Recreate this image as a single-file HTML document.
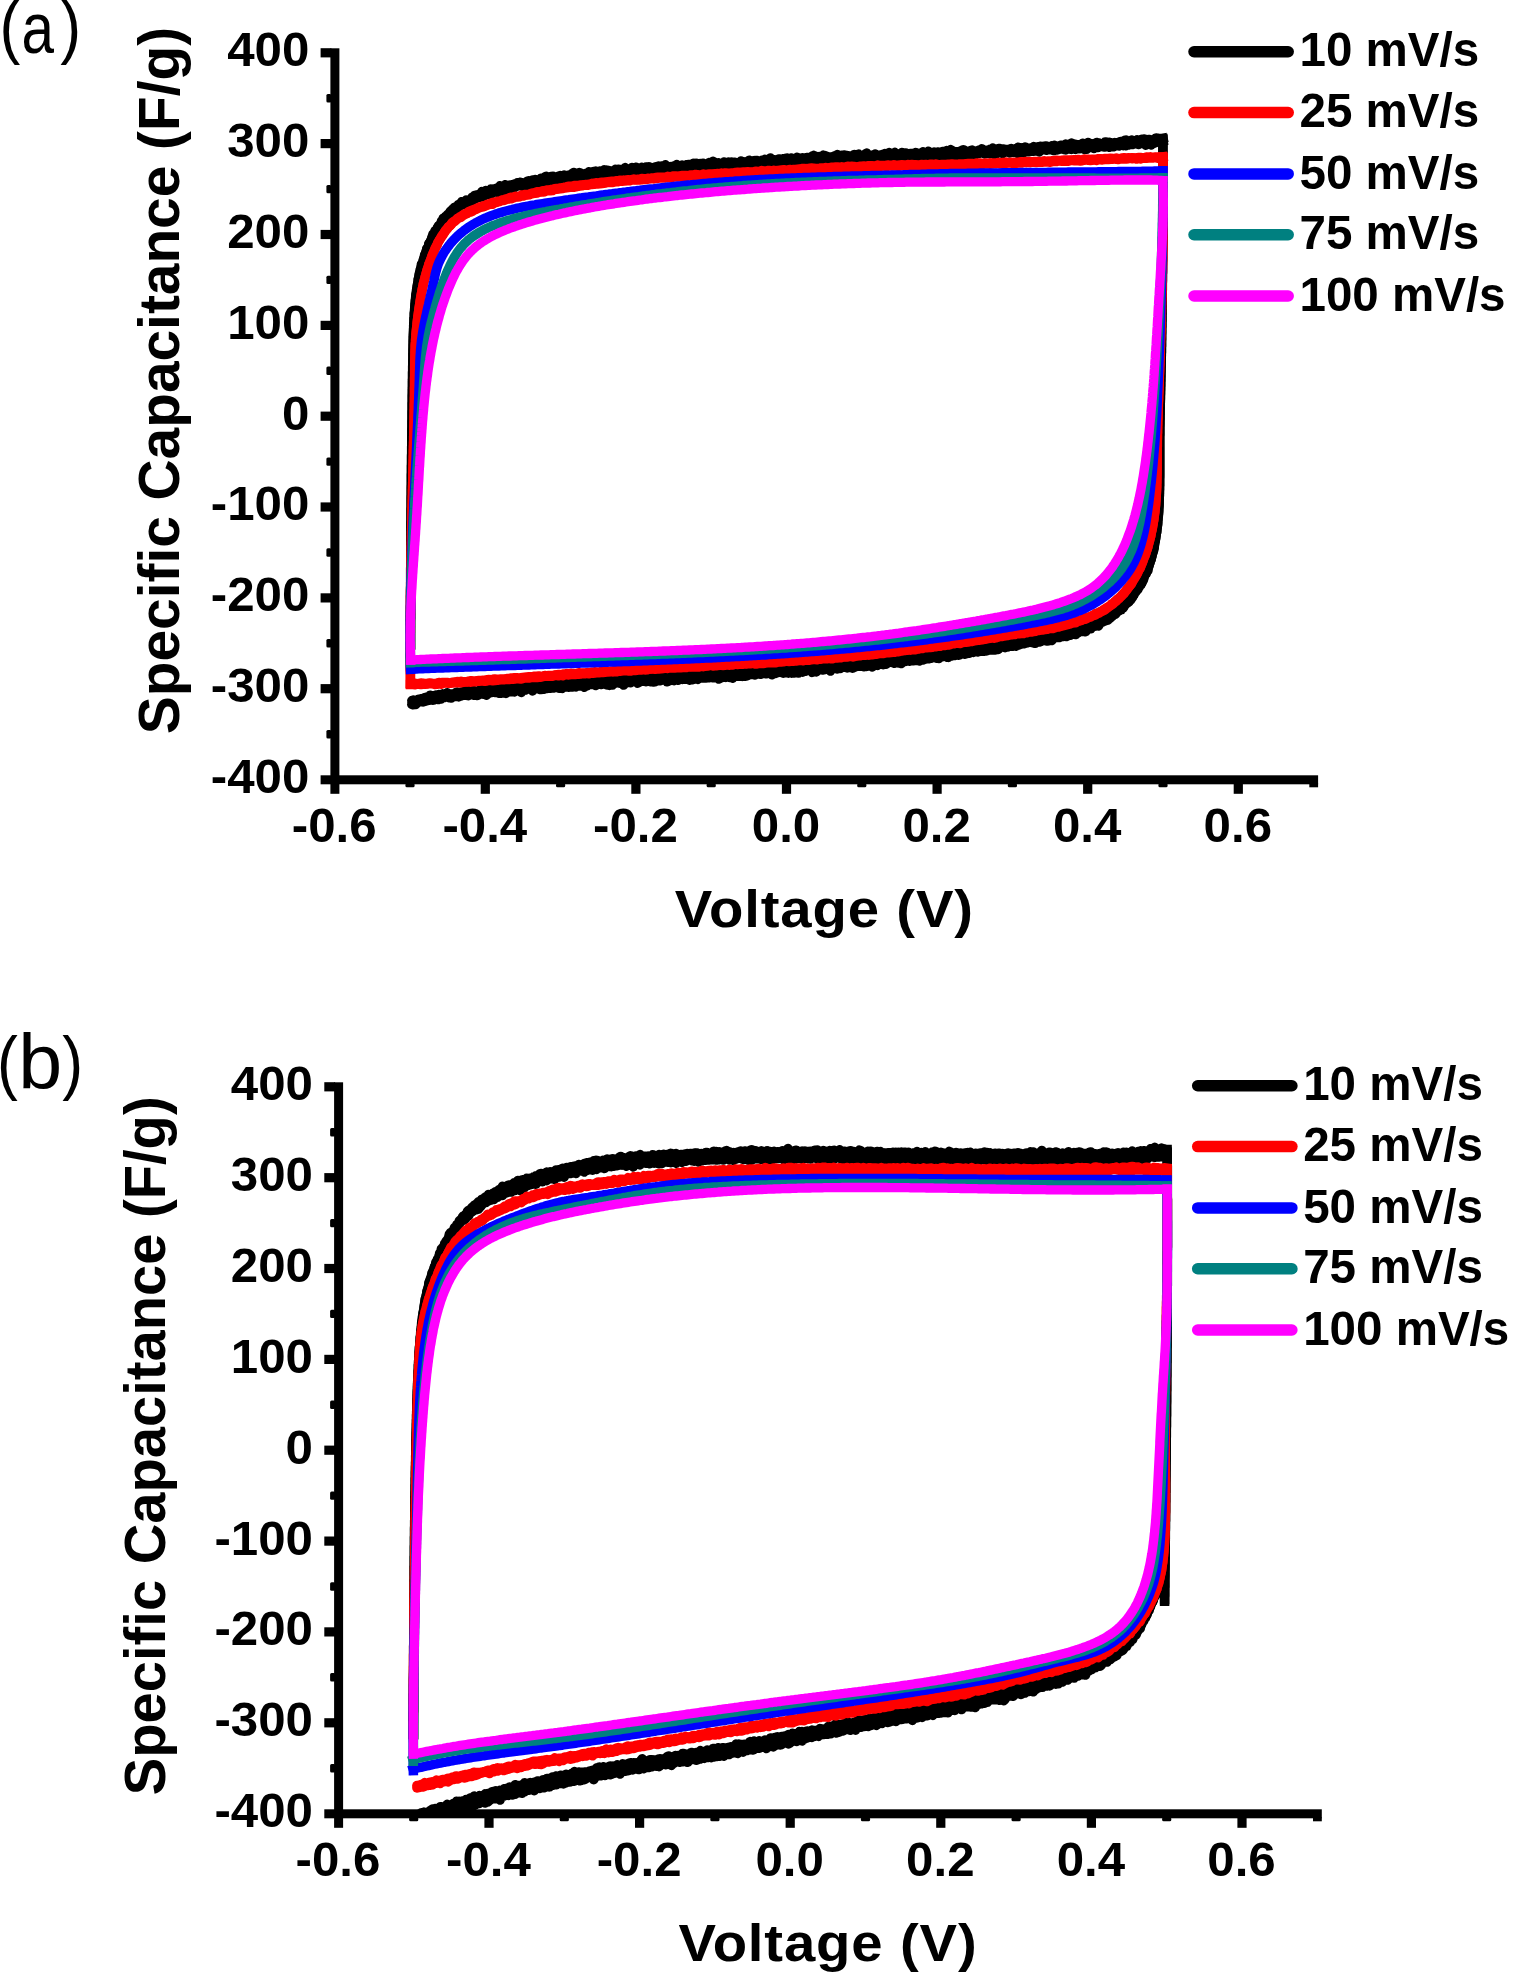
<!DOCTYPE html>
<html lang="en">
<head>
<meta charset="utf-8">
<title>Cyclic voltammetry: specific capacitance vs voltage</title>
<style>
html,body{margin:0;padding:0;background:#ffffff;}
body{width:1516px;height:1975px;overflow:hidden;}
svg{display:block;}
text{font-family:"Liberation Sans", Arial, Helvetica, sans-serif;fill:#000;}
.tk{font-size:48.5px;font-weight:700;}
.xl{font-size:52.6px;font-weight:700;letter-spacing:0.8px;}
.yl{font-size:57px;font-weight:700;}
.pl{font-size:76.5px;font-weight:400;}
</style>
</head>
<body>
<svg width="1516" height="1975" viewBox="0 0 1516 1975">
<defs>
<clipPath id="clipA"><rect x="339.4" y="40" width="990" height="735.3"/></clipPath>
<clipPath id="clipB"><rect x="343.1" y="1074" width="990" height="744"/></clipPath>
</defs>
<rect width="1516" height="1975" fill="#ffffff"/>
<text class="pl"><tspan x="-0.5" y="50.0" font-size="69.6" textLength="20.86" lengthAdjust="spacingAndGlyphs">(</tspan><tspan x="21.4" y="53.1" font-size="73.0" textLength="32.50" lengthAdjust="spacingAndGlyphs">a</tspan><tspan x="60.3" y="50.0" font-size="69.6" textLength="20.86" lengthAdjust="spacingAndGlyphs">)</tspan></text>
<text class="pl"><tspan x="-3.0" y="1085.8" font-size="69.6" textLength="20.86" lengthAdjust="spacingAndGlyphs">(</tspan><tspan x="18.3" y="1088.9" font-size="77.5" textLength="43.95" lengthAdjust="spacingAndGlyphs">b</tspan><tspan x="62.3" y="1085.8" font-size="69.6" textLength="20.86" lengthAdjust="spacingAndGlyphs">)</tspan></text>
<g id="panelA">
<g clip-path="url(#clipA)">
<path d="M410.5 649.7L410.5 646.3L410.5 646.5L410.5 643.5L410.5 644.0L410.5 640.4L410.5 639.7L410.5 638.4L410.5 635.7L410.5 636.9L410.5 633.4L410.5 632.2L410.5 631.4L410.5 632.7L410.5 628.4L410.5 629.4L410.5 626.3L410.5 624.7L410.5 623.9L410.5 622.0L410.5 619.8L410.6 618.8L410.6 618.1L410.6 617.9L410.6 615.3L410.6 614.1L410.6 610.4L410.6 610.7L410.6 609.5L410.6 609.6L410.6 608.1L410.6 605.4L410.6 604.4L410.6 602.4L410.6 600.5L410.6 599.7L410.6 598.0L410.6 597.2L410.6 596.1L410.6 593.9L410.6 593.6L410.6 590.3L410.6 589.9L410.6 588.7L410.7 585.5L410.7 586.2L410.7 584.9L410.7 584.3L410.7 581.4L410.7 580.6L410.7 579.2L410.7 575.9L410.7 576.1L410.7 573.2L410.7 573.3L410.7 572.3L410.7 570.5L410.7 567.1L410.7 568.7L410.8 566.3L410.8 565.5L410.8 562.7L410.8 561.5L410.8 562.2L410.8 558.9L410.8 557.3L410.8 554.1L410.8 555.7L410.8 552.1L410.8 551.8L410.8 549.9L410.8 551.1L410.9 548.8L410.9 546.5L410.9 545.3L410.9 543.5L410.9 541.9L410.9 540.7L410.9 541.0L410.9 537.8L410.9 536.4L410.9 535.5L411.0 535.1L411.0 532.9L411.0 530.1L411.0 529.7L411.0 528.3L411.0 525.7L411.0 524.8L411.0 524.3L411.0 522.3L411.0 522.7L411.1 520.1L411.1 518.0L411.1 517.0L411.1 514.9L411.1 513.7L411.1 513.5L411.1 511.4L411.1 508.4L411.1 507.5L411.2 507.7L411.2 504.9L411.2 504.2L411.2 504.0L411.2 501.4L411.2 500.0L411.2 498.5L411.2 498.3L411.3 495.4L411.3 493.6L411.3 493.3L411.3 493.2L411.3 490.7L411.3 490.3L411.3 488.7L411.3 485.3L411.4 484.9L411.4 483.3L411.4 482.0L411.4 481.7L411.4 480.4L411.4 478.5L411.4 477.5L411.4 474.5L411.5 474.3L411.5 471.3L411.5 470.5L411.5 468.4L411.5 469.1L411.5 466.3L411.5 465.9L411.6 462.7L411.6 462.6L411.6 461.7L411.6 459.7L411.6 458.4L411.6 457.0L411.6 455.4L411.7 453.7L411.7 451.9L411.7 452.1L411.7 449.9L411.7 448.5L411.7 447.3L411.8 444.6L411.8 443.1L411.8 441.7L411.8 443.0L411.8 439.8L411.8 439.2L411.8 435.7L411.9 435.5L411.9 434.5L411.9 432.5L411.9 432.6L411.9 429.9L411.9 428.8L412.0 428.4L412.0 427.4L412.0 424.9L412.0 422.8L412.0 421.6L412.0 421.5L412.1 418.1L412.1 416.8L412.1 415.4L412.1 415.7L412.1 413.8L412.1 411.2L412.2 409.9L412.2 409.2L412.2 407.3L412.2 405.5L412.2 404.2L412.2 403.4L412.3 401.6L412.3 400.7L412.3 399.0L412.3 397.3L412.3 396.9L412.3 395.5L412.4 392.0L412.4 392.6L412.4 390.5L412.4 388.7L412.4 388.8L412.5 386.9L412.5 385.8L412.5 383.4L412.5 384.0L412.5 381.5L412.5 379.2L412.6 379.9L412.6 376.2L412.6 376.8L412.6 373.8L412.6 372.2L412.7 370.7L412.7 369.0L412.7 367.7L412.7 367.4L412.7 365.6L412.8 362.9L412.8 363.1L412.8 360.2L412.8 360.5L412.9 358.3L412.9 357.1L412.9 356.9L412.9 352.7L413.0 355.0L413.0 353.6L413.0 351.2L413.0 349.4L413.1 346.9L413.1 347.0L413.1 344.5L413.2 343.1L413.2 341.2L413.2 341.7L413.3 339.9L413.3 336.5L413.4 336.2L413.4 333.8L413.5 334.3L413.5 331.4L413.6 330.7L413.6 329.8L413.7 327.8L413.7 325.5L413.8 324.8L413.8 322.6L413.9 323.6L414.0 321.8L414.0 318.1L414.1 317.2L414.2 318.7L414.3 316.0L414.3 313.8L414.4 313.5L414.5 311.6L414.6 310.6L414.7 308.2L414.8 308.6L414.9 306.0L415.1 303.4L415.2 303.0L415.3 301.4L415.4 300.6L415.6 299.1L415.7 297.6L415.9 295.4L416.1 295.0L416.2 292.9L416.4 293.4L416.6 289.7L416.8 289.1L417.0 287.5L417.2 285.7L417.4 285.6L417.6 284.1L417.9 282.7L418.1 282.5L418.3 279.3L418.6 278.9L418.9 277.2L419.2 276.0L419.4 273.3L419.7 272.1L420.1 272.5L420.4 269.4L420.7 270.1L421.0 269.1L421.4 264.2L421.8 265.4L422.1 264.0L422.5 263.8L422.9 263.0L423.3 260.6L423.7 259.3L424.1 258.3L424.6 255.1L425.0 254.6L425.5 254.1L425.9 251.7L426.4 252.2L426.9 248.7L427.4 248.1L427.9 247.1L428.4 246.3L428.9 243.7L429.5 242.9L430.0 242.3L430.6 240.8L431.2 240.0L431.8 237.5L432.4 236.1L433.0 234.0L433.7 233.4L434.3 232.9L435.0 230.9L435.7 230.6L436.3 230.5L437.1 228.2L437.8 228.3L438.5 227.0L439.3 225.3L440.0 224.8L440.8 223.8L441.6 220.8L442.4 222.3L443.2 218.3L444.1 219.0L444.9 217.3L445.8 216.3L446.7 216.0L447.6 214.5L448.5 213.7L449.4 212.9L450.4 211.2L451.3 211.3L452.3 209.3L453.3 209.8L454.3 207.5L455.3 207.9L456.3 206.4L457.4 207.3L458.4 204.5L459.5 205.5L460.6 203.5L461.7 201.7L462.8 203.6L463.9 202.5L465.0 202.5L466.2 200.0L467.3 200.5L468.5 200.4L469.7 200.6L470.8 199.7L472.0 197.2L473.2 197.8L474.5 195.6L475.7 195.2L476.9 195.0L478.1 194.8L479.4 194.6L480.6 194.3L481.9 191.6L483.2 193.1L484.4 192.0L485.7 190.5L487.0 191.0L488.3 191.8L489.6 191.2L490.9 189.1L492.2 189.4L493.5 189.1L494.8 190.3L496.1 188.5L497.4 187.7L498.7 188.0L500.1 185.7L501.4 187.4L502.7 189.1L504.0 187.0L505.4 184.7L506.7 187.8L508.1 186.2L509.4 185.2L510.8 185.0L512.1 185.5L513.4 184.3L514.8 184.0L516.2 184.4L517.5 182.7L518.9 184.0L520.2 182.2L521.6 183.2L522.9 183.4L524.3 182.7L525.7 182.7L527.0 181.4L528.4 180.8L529.8 182.1L531.1 180.9L532.5 180.0L533.9 180.0L535.2 179.6L536.6 180.6L538.0 180.3L539.3 180.8L540.7 178.4L542.1 179.1L543.4 178.8L544.8 176.9L546.2 176.2L547.6 178.7L548.9 177.3L550.3 176.7L551.7 179.5L553.0 176.2L554.4 178.5L555.8 177.3L557.2 177.1L558.5 176.1L559.9 175.6L561.3 177.4L562.7 177.6L564.1 175.1L565.4 176.7L566.8 175.5L568.2 176.0L569.6 174.9L571.0 174.4L572.3 173.5L573.7 172.4L575.1 174.3L576.5 174.1L577.9 173.1L579.3 172.5L580.6 173.1L582.0 173.9L583.4 174.2L584.8 174.1L586.2 173.2L587.6 173.6L588.9 171.8L590.3 174.0L591.7 172.6L593.1 171.7L594.5 171.4L595.9 171.1L597.3 171.6L598.7 172.5L600.0 171.0L601.4 172.3L602.8 171.5L604.2 169.8L605.6 170.1L607.0 170.2L608.4 170.4L609.8 172.2L611.2 172.5L612.5 170.7L613.9 170.6L615.3 169.5L616.7 171.0L618.1 169.2L619.5 169.4L620.9 169.8L622.3 170.3L623.7 169.7L625.1 167.6L626.5 169.6L627.9 168.8L629.2 169.3L630.6 170.1L632.0 167.5L633.4 168.9L634.8 169.4L636.2 167.2L637.6 169.5L639.0 168.8L640.4 168.4L641.8 167.4L643.2 168.3L644.6 168.5L646.0 167.1L647.4 167.1L648.8 166.8L650.1 167.7L651.5 167.6L652.9 168.0L654.3 167.4L655.7 166.7L657.1 167.0L658.5 166.1L659.9 167.6L661.3 165.9L662.7 165.9L664.1 166.5L665.5 164.8L666.9 166.7L668.3 167.3L669.7 166.7L671.1 166.6L672.5 166.4L673.9 165.9L675.3 165.7L676.7 164.7L678.1 165.9L679.5 166.2L680.9 167.0L682.3 165.0L683.7 165.6L685.0 165.6L686.4 164.8L687.8 164.6L689.2 164.6L690.6 164.6L692.0 166.1L693.4 163.2L694.8 163.6L696.2 163.3L697.6 164.7L699.0 164.8L700.4 163.4L701.8 164.9L703.2 163.2L704.6 165.2L706.0 164.0L707.4 164.6L708.8 162.6L710.2 164.4L711.6 163.7L713.0 161.3L714.4 162.1L715.8 164.0L717.2 163.8L718.6 162.9L720.0 163.9L721.4 163.8L722.8 163.9L724.2 162.0L725.6 163.3L727.0 162.8L728.4 162.0L729.8 162.7L731.2 162.0L732.6 163.3L734.0 162.2L735.4 162.5L736.8 162.9L738.2 163.6L739.6 162.6L741.0 160.9L742.4 163.1L743.8 161.9L745.2 162.6L746.6 161.7L748.0 161.2L749.4 160.2L750.8 163.4L752.2 161.9L753.6 160.7L755.0 160.6L756.4 160.4L757.8 160.7L759.2 160.9L760.6 161.4L762.0 160.3L763.4 160.7L764.8 159.6L766.2 161.2L767.6 160.3L769.0 159.0L770.4 157.9L771.8 159.9L773.2 160.9L774.6 159.9L776.0 161.2L777.4 160.1L778.8 158.9L780.2 158.9L781.6 160.9L783.0 158.8L784.4 158.6L785.8 158.5L787.2 158.0L788.6 159.7L790.0 159.8L791.4 158.0L792.8 160.3L794.2 159.6L795.6 158.4L797.0 157.4L798.3 158.2L799.7 158.1L801.1 158.9L802.5 157.9L803.9 159.0L805.3 159.9L806.7 157.4L808.1 157.4L809.5 158.9L810.9 159.3L812.3 156.1L813.7 155.4L815.1 156.1L816.5 157.8L817.9 157.5L819.3 156.6L820.7 157.5L822.1 158.2L823.5 155.2L824.9 155.6L826.3 156.2L827.7 156.8L829.1 157.1L830.5 156.9L831.9 158.2L833.3 156.6L834.7 155.8L836.1 155.7L837.5 154.6L838.9 156.1L840.3 156.7L841.7 155.2L843.1 156.8L844.5 154.9L845.9 156.5L847.3 155.7L848.7 157.3L850.1 156.0L851.5 155.9L852.9 155.3L854.3 154.6L855.7 155.0L857.1 154.6L858.5 154.1L859.9 156.4L861.3 156.1L862.7 155.6L864.0 155.6L865.4 153.9L866.8 153.1L868.2 155.4L869.6 155.3L871.0 155.3L872.4 155.5L873.8 155.3L875.2 154.1L876.6 155.2L878.0 155.1L879.4 155.9L880.8 155.0L882.2 154.6L883.6 154.5L885.0 153.6L886.4 153.9L887.8 154.9L889.2 152.5L890.6 153.3L892.0 154.7L893.4 153.4L894.8 152.5L896.2 154.2L897.6 154.3L899.0 154.1L900.4 153.9L901.8 152.4L903.2 155.4L904.6 152.9L906.0 152.9L907.4 154.0L908.8 153.9L910.2 153.4L911.6 153.5L913.0 153.8L914.4 153.6L915.8 152.5L917.2 153.2L918.6 153.4L920.0 153.3L921.4 152.9L922.8 152.0L924.2 153.3L925.6 153.4L927.0 153.1L928.4 151.3L929.8 152.9L931.3 153.9L932.7 152.9L934.1 152.1L935.5 154.5L936.9 152.3L938.3 152.0L939.7 152.7L941.1 152.4L942.5 151.5L943.9 153.6L945.3 152.9L946.7 150.5L948.1 151.8L949.5 151.8L950.9 149.8L952.3 150.6L953.7 152.5L955.1 151.5L956.5 151.9L957.9 151.6L959.3 151.4L960.7 150.9L962.1 150.2L963.5 149.7L964.9 150.4L966.3 151.8L967.7 151.8L969.1 152.1L970.5 150.7L971.9 150.1L973.3 152.0L974.7 151.6L976.1 151.0L977.5 150.9L978.9 150.1L980.3 151.5L981.7 148.8L983.1 149.9L984.5 150.7L985.9 150.2L987.3 151.4L988.7 150.4L990.1 149.3L991.5 149.2L992.9 147.9L994.3 150.8L995.7 149.8L997.1 150.2L998.5 148.5L999.9 148.6L1001.3 149.9L1002.7 148.9L1004.1 149.2L1005.5 150.5L1006.9 149.5L1008.3 149.4L1009.7 149.2L1011.1 148.5L1012.5 149.5L1013.9 149.0L1015.3 150.4L1016.7 149.2L1018.1 147.2L1019.5 148.2L1021.0 147.7L1022.4 149.6L1023.8 148.2L1025.2 147.1L1026.6 147.8L1028.0 148.9L1029.4 148.7L1030.8 148.0L1032.2 149.8L1033.6 146.6L1035.0 147.3L1036.4 147.4L1037.8 146.7L1039.2 147.5L1040.6 146.3L1042.0 148.0L1043.4 146.5L1044.8 146.2L1046.2 145.9L1047.6 146.5L1049.0 147.0L1050.4 146.9L1051.8 145.9L1053.2 146.6L1054.6 145.4L1056.0 146.2L1057.4 146.6L1058.8 146.2L1060.2 145.5L1061.6 145.2L1063.0 146.0L1064.4 145.6L1065.8 144.0L1067.2 144.7L1068.6 145.2L1070.0 145.4L1071.4 143.1L1072.8 146.3L1074.2 144.1L1075.6 146.2L1077.0 144.6L1078.4 145.1L1079.8 144.4L1081.2 144.8L1082.6 143.3L1084.0 145.7L1085.4 144.0L1086.8 144.2L1088.2 142.4L1089.6 144.1L1091.0 143.5L1092.4 144.6L1093.8 144.2L1095.2 143.4L1096.6 142.5L1098.0 144.8L1099.4 143.3L1100.8 144.3L1102.2 144.2L1103.6 144.5L1105.0 142.1L1106.4 142.1L1107.8 142.6L1109.2 142.3L1110.6 143.4L1112.0 142.9L1113.4 143.1L1114.8 142.6L1116.2 142.8L1117.6 142.7L1119.0 142.3L1120.4 141.6L1121.8 143.0L1123.2 141.6L1124.6 140.4L1126.0 140.0L1127.4 142.0L1128.8 141.1L1130.2 140.9L1131.6 140.1L1133.0 141.3L1134.4 143.0L1135.9 141.1L1137.3 139.8L1138.7 140.5L1140.1 140.6L1141.5 139.5L1142.9 139.2L1144.3 139.1L1145.7 141.5L1147.1 141.0L1148.5 139.6L1149.9 139.6L1151.3 140.3L1152.7 140.1L1154.1 139.7L1155.5 138.2L1156.9 138.0L1158.3 138.6L1159.7 139.1L1161.2 138.8L1167.6 137.3" fill="none" stroke="#000000" stroke-width="9.5" stroke-linejoin="round" stroke-linecap="butt"/>
<path d="M410.5 649.5L410.5 647.5L410.5 647.8L410.5 645.5L410.5 643.2L410.5 641.0L410.5 639.6L410.5 639.2L410.5 635.9L410.5 636.2L410.5 633.6L410.5 632.6L410.5 631.6L410.5 631.5L410.5 629.5L410.5 629.2L410.5 627.1L410.5 624.3L410.5 623.8L410.5 621.5L410.5 622.6L410.6 618.5L410.6 618.3L410.6 615.6L410.6 615.4L410.6 614.8L410.6 613.0L410.6 611.7L410.6 610.5L410.6 607.5L410.6 606.0L410.6 604.7L410.6 603.8L410.6 601.8L410.6 599.4L410.6 599.8L410.6 597.5L410.6 597.4L410.6 595.1L410.6 592.9L410.6 593.4L410.6 592.3L410.6 590.0L410.6 588.1L410.7 585.9L410.7 587.1L410.7 583.3L410.7 583.5L410.7 583.2L410.7 580.1L410.7 577.1L410.7 578.0L410.7 576.5L410.7 576.1L410.7 572.3L410.7 572.5L410.7 568.9L410.7 569.2L410.7 569.0L410.8 567.3L410.8 564.8L410.8 563.1L410.8 562.2L410.8 560.3L410.8 559.2L410.8 558.0L410.8 555.4L410.8 554.7L410.8 554.1L410.8 551.2L410.8 551.6L410.8 550.5L410.9 547.6L410.9 547.0L410.9 545.3L410.9 542.3L410.9 543.3L410.9 541.7L410.9 538.8L410.9 538.1L410.9 536.2L410.9 536.4L411.0 533.7L411.0 533.4L411.0 531.5L411.0 528.2L411.0 529.1L411.0 526.6L411.0 526.1L411.0 525.7L411.0 523.2L411.0 521.1L411.1 520.0L411.1 518.1L411.1 518.0L411.1 516.9L411.1 512.4L411.1 512.3L411.1 511.1L411.1 511.1L411.1 508.7L411.2 508.5L411.2 507.1L411.2 503.6L411.2 500.8L411.2 501.8L411.2 499.3L411.2 498.3L411.2 495.2L411.3 496.3L411.3 494.2L411.3 494.0L411.3 492.7L411.3 491.0L411.3 489.7L411.3 487.5L411.3 487.9L411.4 485.8L411.4 483.6L411.4 481.5L411.4 480.6L411.4 478.7L411.4 479.0L411.4 476.4L411.4 473.8L411.5 472.8L411.5 470.9L411.5 470.5L411.5 469.9L411.5 468.5L411.5 466.7L411.5 465.6L411.6 465.2L411.6 463.1L411.6 461.1L411.6 458.1L411.6 457.8L411.6 456.8L411.6 456.9L411.7 453.2L411.7 452.6L411.7 450.1L411.7 448.2L411.7 448.9L411.7 445.7L411.8 445.6L411.8 443.3L411.8 440.9L411.8 441.5L411.8 439.0L411.8 436.7L411.8 437.8L411.9 437.6L411.9 433.7L411.9 432.7L411.9 431.3L411.9 429.2L411.9 429.1L412.0 426.0L412.0 425.5L412.0 426.4L412.0 424.1L412.0 422.3L412.0 421.3L412.1 419.3L412.1 417.3L412.1 416.2L412.1 413.8L412.1 411.7L412.1 412.2L412.2 409.8L412.2 409.5L412.2 408.7L412.2 406.5L412.2 405.2L412.2 402.9L412.3 401.6L412.3 400.5L412.3 398.9L412.3 398.3L412.3 395.8L412.3 396.2L412.4 393.5L412.4 392.7L412.4 391.6L412.4 389.4L412.4 388.7L412.5 386.1L412.5 386.3L412.5 385.1L412.5 383.2L412.5 380.9L412.5 381.0L412.6 377.5L412.6 377.1L412.6 375.8L412.6 375.2L412.6 372.1L412.7 371.1L412.7 369.5L412.7 367.1L412.7 365.9L412.7 366.4L412.8 364.6L412.8 362.7L412.8 362.1L412.8 360.3L412.9 358.0L412.9 356.4L412.9 356.3L412.9 353.2L413.0 353.5L413.0 352.0L413.0 351.9L413.0 350.5L413.1 347.3L413.1 346.2L413.1 346.3L413.2 343.5L413.2 340.5L413.2 339.4L413.3 339.1L413.3 336.7L413.4 335.5L413.4 334.7L413.5 333.0L413.5 332.5L413.6 331.9L413.6 328.9L413.7 328.0L413.7 324.4L413.8 325.4L413.8 322.4L413.9 322.6L414.0 321.9L414.0 319.5L414.1 317.8L414.2 316.9L414.3 315.4L414.3 313.0L414.4 312.6L414.5 313.1L414.6 310.9L414.7 309.1L414.8 307.0L414.9 306.3L415.1 303.4L415.2 304.8L415.3 302.8L415.4 300.1L415.6 299.3L415.7 296.8L415.9 295.1L416.1 294.4L416.2 294.0L416.4 292.4L416.6 290.8L416.8 288.8L417.0 288.8L417.2 288.5L417.4 285.2L417.6 284.0L417.9 282.4L418.1 281.3L418.3 278.6L418.6 279.3L418.9 276.4L419.2 274.7L419.4 274.8L419.7 274.4L420.1 272.1L420.4 269.0L420.7 269.7L421.0 268.9L421.4 266.2L421.8 266.4L422.1 264.3L422.5 263.7L422.9 262.6L423.3 259.9L423.7 258.8L424.1 257.9L424.6 256.8L425.0 254.3L425.5 253.4L425.9 253.1L426.4 252.2L426.9 248.4L427.4 248.8L427.9 248.7L428.4 248.0L428.9 244.1L429.5 243.0L430.0 242.2L430.6 241.6L431.2 240.3L431.8 238.8L432.4 237.3L433.0 236.1L433.7 235.2L434.3 234.8L435.0 234.7L435.7 232.5L436.3 231.1L437.1 229.2L437.8 228.7L438.5 225.7L439.3 226.7L440.0 226.0L440.8 224.0L441.6 223.1L442.4 222.4L443.2 221.3L444.1 220.5L444.9 220.0L445.8 218.7L446.7 217.5L447.6 216.7L448.5 214.8L449.4 214.4L450.4 214.5L451.3 213.5L452.3 211.7L453.3 211.7L454.3 208.8L455.3 209.8L456.3 208.4L457.4 207.7L458.4 207.6L459.5 207.1L460.6 204.6L461.7 204.3L462.8 203.9L463.9 204.5L465.0 204.2L466.2 203.7L467.3 202.0L468.5 202.2L469.7 201.7L470.8 199.9L472.0 199.4L473.2 200.5L474.5 198.7L475.7 199.0L476.9 197.3L478.1 197.3L479.4 196.6L480.6 197.1L481.9 196.2L483.2 197.1L484.4 195.5L485.7 195.1L487.0 193.5L488.3 194.6L489.6 193.6L490.9 194.4L492.2 193.0L493.5 191.6L494.8 192.0L496.1 190.1L497.4 192.5L498.7 191.4L500.1 191.8L501.4 190.0L502.7 191.8L504.0 191.9L505.4 190.7L506.7 187.5L508.1 189.7L509.4 189.1L510.8 188.5L512.1 187.4L513.4 188.0L514.8 187.5L516.2 185.5L517.5 186.0L518.9 185.7L520.2 185.4L521.6 186.0L522.9 186.6L524.3 186.0L525.7 186.2L527.0 185.2L528.4 183.1L529.8 185.4L531.1 184.9L532.5 185.2L533.9 182.8L535.2 183.2L536.6 185.7L538.0 183.4L539.3 183.0L540.7 182.6L542.1 181.4L543.4 182.0L544.8 183.0L546.2 183.0L547.6 181.9L548.9 181.2L550.3 181.3L551.7 180.8L553.0 181.7L554.4 181.3L555.8 180.9L557.2 179.7L558.5 179.8L559.9 181.3L561.3 177.5L562.7 179.5L564.1 181.2L565.4 178.7L566.8 177.8L568.2 179.3L569.6 178.6L571.0 179.6L572.3 178.1L573.7 178.7L575.1 178.6L576.5 178.0L577.9 176.4L579.3 177.6L580.6 177.6L582.0 177.5L583.4 177.2L584.8 175.0L586.2 177.6L587.6 177.0L588.9 177.4L590.3 175.6L591.7 176.5L593.1 176.5L594.5 175.7L595.9 176.3L597.3 174.9L598.7 176.5L600.0 176.8L601.4 175.9L602.8 175.5L604.2 173.4L605.6 174.6L607.0 175.0L608.4 174.5L609.8 174.7L611.2 173.7L612.5 174.4L613.9 174.6L615.3 174.0L616.7 174.1L618.1 174.4L619.5 172.4L620.9 172.0L622.3 173.1L623.7 173.2L625.1 172.0L626.5 174.1L627.9 171.6L629.2 171.7L630.6 172.6L632.0 172.3L633.4 172.0L634.8 171.8L636.2 172.2L637.6 171.8L639.0 172.7L640.4 172.7L641.8 171.1L643.2 170.8L644.6 171.3L646.0 171.6L647.4 169.4L648.8 171.8L650.1 171.7L651.5 170.5L652.9 170.2L654.3 172.7L655.7 170.2L657.1 170.3L658.5 170.6L659.9 171.6L661.3 169.3L662.7 171.3L664.1 170.2L665.5 169.5L666.9 168.4L668.3 171.4L669.7 169.2L671.1 169.1L672.5 170.1L673.9 167.8L675.3 167.2L676.7 168.1L678.1 169.5L679.5 168.9L680.9 170.2L682.3 168.9L683.7 169.4L685.0 168.5L686.4 168.9L687.8 168.5L689.2 168.0L690.6 169.4L692.0 168.4L693.4 168.6L694.8 168.8L696.2 167.7L697.6 168.5L699.0 168.2L700.4 167.0L701.8 167.3L703.2 168.5L704.6 168.0L706.0 167.5L707.4 167.8L708.8 165.8L710.2 168.2L711.6 166.9L713.0 167.2L714.4 167.0L715.8 166.2L717.2 165.8L718.6 167.3L720.0 167.3L721.4 168.1L722.8 166.8L724.2 166.0L725.6 166.7L727.0 165.0L728.4 166.5L729.8 165.4L731.2 166.7L732.6 165.1L734.0 166.0L735.4 166.7L736.8 166.1L738.2 166.3L739.6 166.2L741.0 166.2L742.4 164.7L743.8 166.1L745.2 167.0L746.6 165.0L748.0 165.1L749.4 165.6L750.8 163.5L752.2 163.1L753.6 165.0L755.0 164.8L756.4 165.0L757.8 165.1L759.2 163.4L760.6 163.6L762.0 164.1L763.4 163.8L764.8 164.7L766.2 165.3L767.6 164.7L769.0 163.2L770.4 162.4L771.8 163.9L773.2 164.5L774.6 164.1L776.0 163.0L777.4 164.8L778.8 162.6L780.2 163.3L781.6 163.6L783.0 162.5L784.4 162.7L785.8 162.8L787.2 162.1L788.6 162.1L790.0 161.3L791.4 162.6L792.8 164.0L794.2 161.6L795.6 161.4L797.0 162.3L798.3 162.7L799.7 162.2L801.1 160.1L802.5 162.4L803.9 160.0L805.3 163.5L806.7 161.8L808.1 163.4L809.5 161.3L810.9 161.5L812.3 161.6L813.7 160.4L815.1 160.1L816.5 160.9L817.9 159.1L819.3 160.6L820.7 162.0L822.1 161.4L823.5 159.5L824.9 160.4L826.3 160.3L827.7 159.5L829.1 162.6L830.5 160.3L831.9 160.4L833.3 158.7L834.7 159.5L836.1 160.7L837.5 160.9L838.9 158.7L840.3 159.8L841.7 160.3L843.1 160.1L844.5 159.4L845.9 159.5L847.3 160.2L848.7 160.2L850.1 158.3L851.5 160.2L852.9 159.0L854.3 159.4L855.7 158.4L857.1 158.2L858.5 158.7L859.9 160.7L861.3 160.3L862.7 158.9L864.0 158.9L865.4 159.9L866.8 157.3L868.2 158.1L869.6 157.7L871.0 159.3L872.4 157.9L873.8 157.1L875.2 158.2L876.6 157.4L878.0 157.7L879.4 158.6L880.8 158.1L882.2 158.0L883.6 157.3L885.0 157.9L886.4 157.7L887.8 156.8L889.2 156.8L890.6 157.2L892.0 157.5L893.4 155.9L894.8 157.3L896.2 156.7L897.6 155.6L899.0 157.8L900.4 158.4L901.8 157.4L903.2 156.9L904.6 157.6L906.0 157.0L907.4 156.4L908.8 157.4L910.2 157.9L911.6 157.0L913.0 155.7L914.4 156.9L915.8 156.8L917.2 157.5L918.6 156.4L920.0 156.9L921.4 155.9L922.8 154.9L924.2 156.6L925.6 155.3L927.0 156.3L928.4 156.0L929.8 155.9L931.3 156.2L932.7 155.2L934.1 155.3L935.5 156.0L936.9 155.7L938.3 154.7L939.7 156.2L941.1 156.4L942.5 156.7L943.9 155.7L945.3 154.6L946.7 156.2L948.1 155.9L949.5 154.1L950.9 155.5L952.3 154.4L953.7 155.8L955.1 154.3L956.5 155.7L957.9 156.1L959.3 155.4L960.7 155.6L962.1 153.6L963.5 153.1L964.9 155.7L966.3 155.2L967.7 154.6L969.1 155.1L970.5 155.9L971.9 154.4L973.3 154.7L974.7 155.4L976.1 153.9L977.5 153.4L978.9 153.5L980.3 153.0L981.7 152.9L983.1 152.1L984.5 153.8L985.9 152.9L987.3 153.4L988.7 153.1L990.1 153.8L991.5 153.1L992.9 153.3L994.3 154.6L995.7 154.0L997.1 153.5L998.5 152.6L999.9 151.9L1001.3 152.3L1002.7 153.7L1004.1 151.6L1005.5 152.0L1006.9 151.5L1008.3 151.7L1009.7 152.9L1011.1 151.9L1012.5 150.7L1013.9 152.4L1015.3 152.5L1016.7 151.8L1018.1 153.8L1019.5 152.6L1021.0 149.9L1022.4 152.2L1023.8 152.7L1025.2 151.4L1026.6 151.7L1028.0 150.2L1029.4 151.7L1030.8 151.1L1032.2 150.7L1033.6 151.3L1035.0 149.9L1036.4 150.7L1037.8 151.1L1039.2 151.9L1040.6 150.7L1042.0 148.8L1043.4 148.7L1044.8 149.4L1046.2 150.3L1047.6 149.7L1049.0 149.5L1050.4 149.8L1051.8 149.4L1053.2 150.4L1054.6 150.4L1056.0 149.6L1057.4 150.0L1058.8 149.4L1060.2 149.1L1061.6 148.5L1063.0 149.0L1064.4 149.6L1065.8 149.9L1067.2 148.5L1068.6 148.3L1070.0 149.1L1071.4 149.4L1072.8 148.0L1074.2 147.9L1075.6 149.4L1077.0 147.5L1078.4 148.2L1079.8 148.8L1081.2 147.5L1082.6 147.4L1084.0 149.2L1085.4 148.3L1086.8 149.2L1088.2 147.9L1089.6 147.6L1091.0 147.1L1092.4 147.4L1093.8 148.4L1095.2 146.9L1096.6 147.4L1098.0 147.6L1099.4 146.4L1100.8 146.4L1102.2 146.5L1103.6 146.8L1105.0 147.1L1106.4 145.9L1107.8 144.6L1109.2 147.3L1110.6 146.0L1112.0 146.2L1113.4 146.8L1114.8 146.2L1116.2 145.1L1117.6 145.2L1119.0 146.0L1120.4 145.3L1121.8 144.9L1123.2 145.6L1124.6 143.9L1126.0 145.8L1127.4 144.4L1128.8 144.9L1130.2 144.5L1131.6 144.6L1133.0 144.5L1134.4 143.3L1135.9 143.7L1137.3 144.0L1138.7 144.4L1140.1 143.5L1141.5 141.9L1142.9 142.9L1144.3 142.8L1145.7 145.2L1147.1 143.7L1148.5 143.4L1149.9 143.1L1151.3 145.0L1152.7 142.0L1154.1 143.3L1155.5 142.6L1156.9 142.2L1158.3 140.8L1159.7 141.8L1161.2 141.5L1167.6 140.2" fill="none" stroke="#000000" stroke-width="9.5" stroke-linejoin="round" stroke-linecap="butt"/>
<path d="M1162.8 133.8L1162.9 141.7L1162.9 142.3L1162.9 143.1L1162.9 146.6L1162.9 145.7L1162.9 147.6L1162.9 150.5L1162.9 150.1L1162.9 152.2L1162.9 153.0L1162.9 155.9L1162.9 156.6L1162.9 157.0L1162.9 158.6L1162.9 161.6L1162.9 162.0L1162.9 164.6L1162.9 163.6L1163.0 167.1L1163.0 166.7L1163.0 168.7L1163.0 170.1L1163.0 171.4L1163.0 172.0L1163.0 174.5L1163.0 176.2L1163.0 177.9L1163.0 179.8L1163.0 179.2L1163.0 182.0L1163.0 182.4L1163.0 184.7L1163.0 186.1L1163.0 186.9L1162.9 188.8L1162.9 189.9L1162.9 191.2L1162.9 194.6L1162.9 193.3L1162.9 195.1L1162.9 196.4L1162.9 200.5L1162.9 199.6L1162.9 201.3L1162.9 203.8L1162.9 203.5L1162.9 204.8L1162.9 208.6L1162.9 206.8L1162.9 209.1L1162.9 209.1L1162.9 211.4L1162.9 213.9L1162.9 216.5L1162.9 215.6L1162.9 216.8L1162.8 219.1L1162.8 220.8L1162.8 221.7L1162.8 223.0L1162.8 226.2L1162.8 226.5L1162.8 228.4L1162.8 228.1L1162.8 230.3L1162.8 230.4L1162.8 233.7L1162.8 234.5L1162.8 235.9L1162.7 237.7L1162.7 237.4L1162.7 238.9L1162.7 242.1L1162.7 242.6L1162.7 245.3L1162.7 245.6L1162.7 246.0L1162.7 247.9L1162.7 249.4L1162.6 251.5L1162.6 252.7L1162.6 254.3L1162.6 254.8L1162.6 256.8L1162.6 259.7L1162.6 260.9L1162.6 260.5L1162.5 262.5L1162.5 263.5L1162.5 265.8L1162.5 266.7L1162.5 267.6L1162.5 269.9L1162.5 270.1L1162.5 272.4L1162.4 274.6L1162.4 276.1L1162.4 277.1L1162.4 277.7L1162.4 280.5L1162.4 282.3L1162.3 283.3L1162.3 284.2L1162.3 284.9L1162.3 286.3L1162.3 288.0L1162.3 288.8L1162.3 290.2L1162.2 291.6L1162.2 295.0L1162.2 294.4L1162.2 296.3L1162.2 296.8L1162.2 298.3L1162.1 301.6L1162.1 301.7L1162.1 303.0L1162.1 304.9L1162.1 307.2L1162.0 308.4L1162.0 308.5L1162.0 310.6L1162.0 312.3L1162.0 313.7L1161.9 314.3L1161.9 317.2L1161.9 317.1L1161.9 317.0L1161.9 321.3L1161.8 321.6L1161.8 321.8L1161.8 323.7L1161.8 326.9L1161.8 326.6L1161.7 328.2L1161.7 329.3L1161.7 333.1L1161.7 333.0L1161.6 335.4L1161.6 336.9L1161.6 336.9L1161.6 337.9L1161.6 339.5L1161.5 340.2L1161.5 343.1L1161.5 345.0L1161.5 347.1L1161.4 345.4L1161.4 347.7L1161.4 349.7L1161.4 352.9L1161.3 352.3L1161.3 354.3L1161.3 354.8L1161.3 356.0L1161.2 358.2L1161.2 361.7L1161.2 362.0L1161.2 361.2L1161.1 363.5L1161.1 364.9L1161.1 366.5L1161.0 368.8L1161.0 370.7L1161.0 370.4L1161.0 371.3L1160.9 373.0L1160.9 375.3L1160.9 375.2L1160.8 379.5L1160.8 378.4L1160.8 381.3L1160.7 382.2L1160.7 384.6L1160.7 384.6L1160.7 385.1L1160.6 387.8L1160.6 387.8L1160.6 389.0L1160.5 392.8L1160.5 393.7L1160.5 394.6L1160.4 396.1L1160.4 396.5L1160.4 398.6L1160.3 400.1L1160.3 399.9L1160.3 402.3L1160.2 405.6L1160.2 406.0L1160.2 406.8L1160.2 407.9L1160.1 408.0L1160.1 410.8L1160.1 412.8L1160.1 414.6L1160.0 415.1L1160.0 417.8L1160.0 417.1L1160.0 420.5L1159.9 419.7L1159.9 420.8L1159.9 424.1L1159.9 426.4L1159.8 426.3L1159.8 430.0L1159.8 429.7L1159.8 430.4L1159.8 432.5L1159.8 433.7L1159.8 435.9L1159.7 434.9L1159.7 438.0L1159.7 438.8L1159.7 440.4L1159.7 442.5L1159.7 444.2L1159.7 445.3L1159.7 445.5L1159.7 448.3L1159.7 450.0L1159.7 450.0L1159.7 452.0L1159.7 453.0L1159.7 455.4L1159.7 456.1L1159.7 456.9L1159.7 457.7L1159.7 460.1L1159.7 461.7L1159.7 461.8L1159.7 465.5L1159.7 466.2L1159.7 467.5L1159.7 468.5L1159.7 469.8L1159.7 472.3L1159.7 474.1L1159.7 474.3L1159.7 475.8L1159.7 475.5L1159.6 478.7L1159.6 481.1L1159.6 482.1L1159.6 483.2L1159.6 482.7L1159.6 486.1L1159.5 485.5L1159.5 488.8L1159.5 489.9L1159.4 492.4L1159.4 492.2L1159.4 495.8L1159.3 495.3L1159.3 496.8L1159.2 498.3L1159.2 500.5L1159.1 500.9L1159.1 504.2L1159.0 505.6L1159.0 506.7L1158.9 507.6L1158.8 508.3L1158.7 509.2L1158.7 511.8L1158.6 512.9L1158.5 513.2L1158.4 514.9L1158.3 514.6L1158.1 517.3L1158.0 520.0L1157.9 519.5L1157.8 519.4L1157.6 524.7L1157.5 522.8L1157.4 525.9L1157.2 527.1L1157.0 528.1L1156.9 529.5L1156.7 530.0L1156.5 532.9L1156.3 533.7L1156.1 534.6L1155.9 537.2L1155.7 538.9L1155.4 539.7L1155.2 541.6L1155.0 541.3L1154.7 542.3L1154.4 545.7L1154.2 548.2L1153.9 547.9L1153.6 549.0L1153.3 549.7L1153.0 551.8L1152.6 553.6L1152.3 554.4L1152.0 555.2L1151.6 557.3L1151.2 559.2L1150.9 557.5L1150.5 559.4L1150.1 562.5L1149.6 563.6L1149.2 564.2L1148.8 564.8L1148.3 567.3L1147.9 566.7L1147.4 569.9L1146.9 570.0L1146.4 571.3L1145.9 573.0L1145.3 572.9L1144.8 575.0L1144.2 576.2L1143.7 578.1L1143.1 577.6L1142.5 581.0L1141.9 582.4L1141.2 584.0L1140.6 584.1L1139.9 584.3L1139.2 585.2L1138.6 586.1L1137.9 588.2L1137.1 589.5L1136.4 589.5L1135.6 590.8L1134.9 591.8L1134.1 592.0L1133.3 595.4L1132.5 595.3L1131.7 597.8L1130.8 596.8L1130.0 599.2L1129.1 599.3L1128.2 600.8L1127.3 603.0L1126.4 602.6L1125.5 604.3L1124.5 602.7L1123.6 603.4L1122.6 606.3L1121.6 606.7L1120.6 608.8L1119.6 607.4L1118.6 610.2L1117.5 609.2L1116.5 609.8L1115.4 610.5L1114.4 611.4L1113.3 613.2L1112.2 613.5L1111.1 615.1L1109.9 616.5L1108.8 614.8L1107.7 616.4L1106.5 616.8L1105.4 616.7L1104.2 619.4L1103.1 619.8L1101.9 620.3L1100.7 619.3L1099.5 621.3L1098.3 623.0L1097.1 622.0L1095.9 623.2L1094.7 623.7L1093.5 625.7L1092.2 624.1L1091.0 624.0L1089.8 625.0L1088.5 626.3L1087.3 625.4L1086.0 626.7L1084.8 628.1L1083.5 626.9L1082.2 627.6L1081.0 628.6L1079.7 628.2L1078.4 627.9L1077.1 628.8L1075.8 628.5L1074.5 628.9L1073.2 630.9L1071.9 631.2L1070.6 631.2L1069.3 630.7L1068.0 631.5L1066.7 630.9L1065.3 631.5L1064.0 633.2L1062.7 631.1L1061.3 631.3L1060.0 632.9L1058.6 633.5L1057.3 632.8L1055.9 634.5L1054.6 633.2L1053.2 635.4L1051.9 633.0L1050.5 634.5L1049.1 635.3L1047.7 636.4L1046.4 637.1L1045.0 636.4L1043.6 635.4L1042.2 636.4L1040.8 636.5L1039.4 637.4L1038.1 637.1L1036.7 638.0L1035.3 638.7L1033.9 638.5L1032.5 638.5L1031.1 639.8L1029.8 639.5L1028.4 640.7L1027.0 639.8L1025.6 639.3L1024.2 640.3L1022.9 641.0L1021.5 639.0L1020.1 640.1L1018.8 641.9L1017.4 639.2L1016.0 641.7L1014.6 642.4L1013.3 643.0L1011.9 643.8L1010.5 642.9L1009.2 642.0L1007.8 642.7L1006.4 641.2L1005.1 643.6L1003.7 643.6L1002.3 644.9L1000.9 645.1L999.6 644.6L998.2 644.9L996.8 644.4L995.4 644.9L994.1 647.1L992.7 645.9L991.3 646.0L989.9 647.0L988.6 646.5L987.2 645.7L985.8 647.6L984.4 646.4L983.1 646.7L981.7 645.9L980.3 648.9L978.9 647.8L977.6 648.9L976.2 647.7L974.8 649.0L973.4 647.9L972.0 649.0L970.7 649.3L969.3 649.2L967.9 649.8L966.5 648.0L965.1 650.3L963.7 649.5L962.4 652.3L961.0 651.6L959.6 651.9L958.2 651.4L956.8 652.1L955.5 651.7L954.1 650.1L952.7 652.0L951.3 653.3L949.9 651.7L948.5 651.9L947.1 652.9L945.8 652.2L944.4 651.9L943.0 651.3L941.6 652.6L940.2 652.1L938.8 653.3L937.5 653.8L936.1 654.1L934.7 655.1L933.3 655.5L931.9 653.9L930.5 655.3L929.1 655.0L927.7 655.0L926.4 657.0L925.0 655.4L923.6 654.8L922.2 655.6L920.8 656.0L919.4 656.1L918.0 656.7L916.6 657.3L915.3 657.1L913.9 656.9L912.5 655.5L911.1 657.1L909.7 657.5L908.3 657.4L906.9 656.1L905.5 657.1L904.1 656.0L902.8 657.7L901.4 657.2L900.0 659.5L898.6 657.5L897.2 658.5L895.8 658.4L894.4 660.6L893.0 659.7L891.6 659.4L890.3 660.5L888.9 658.7L887.5 660.7L886.1 661.5L884.7 659.0L883.3 659.7L881.9 659.5L880.5 660.6L879.1 660.6L877.7 660.0L876.3 660.2L875.0 660.9L873.6 661.7L872.2 662.3L870.8 663.1L869.4 661.4L868.0 661.0L866.6 662.1L865.2 661.2L863.8 662.9L862.4 662.3L861.0 663.5L859.6 663.6L858.3 662.8L856.9 663.0L855.5 662.6L854.1 661.6L852.7 662.5L851.3 663.5L849.9 662.8L848.5 662.7L847.1 665.1L845.7 663.9L844.3 664.0L842.9 664.1L841.5 664.5L840.1 664.7L838.8 665.4L837.4 663.6L836.0 664.4L834.6 666.5L833.2 665.9L831.8 666.7L830.4 664.1L829.0 665.2L827.6 664.6L826.2 665.2L824.8 666.2L823.4 667.0L822.0 668.0L820.6 666.1L819.2 666.4L817.9 665.6L816.5 667.2L815.1 665.5L813.7 667.6L812.3 668.8L810.9 668.8L809.5 667.4L808.1 666.6L806.7 668.8L805.3 667.9L803.9 667.3L802.5 666.0L801.1 668.4L799.7 669.3L798.3 667.2L796.9 669.0L795.5 668.4L794.1 668.6L792.8 668.5L791.4 667.7L790.0 668.5L788.6 670.5L787.2 668.4L785.8 668.4L784.4 668.4L783.0 670.7L781.6 669.4L780.2 670.1L778.8 668.0L777.4 668.1L776.0 670.5L774.6 668.0L773.2 669.5L771.8 669.7L770.4 670.0L769.0 671.5L767.6 670.0L766.2 671.0L764.8 671.2L763.5 670.7L762.1 670.2L760.7 670.5L759.3 671.1L757.9 671.3L756.5 669.5L755.1 671.9L753.7 670.6L752.3 672.4L750.9 672.7L749.5 671.0L748.1 671.1L746.7 672.0L745.3 672.3L743.9 672.8L742.5 672.6L741.1 672.5L739.7 671.3L738.3 673.1L736.9 671.8L735.5 673.4L734.1 672.5L732.7 672.0L731.3 672.5L729.9 673.0L728.5 672.5L727.1 674.1L725.7 673.9L724.3 672.9L722.9 672.4L721.5 674.2L720.2 673.1L718.8 673.3L717.4 672.8L716.0 672.2L714.6 674.3L713.2 673.9L711.8 673.0L710.4 673.6L709.0 674.3L707.6 674.9L706.2 674.1L704.8 674.2L703.4 675.7L702.0 673.6L700.6 673.8L699.2 675.2L697.8 673.9L696.4 676.2L695.0 674.6L693.6 675.0L692.2 674.4L690.8 675.3L689.4 677.1L688.0 676.5L686.6 675.2L685.2 676.0L683.8 674.4L682.4 676.3L681.0 677.0L679.6 675.2L678.2 676.4L676.8 677.8L675.4 677.4L674.0 676.0L672.6 676.4L671.2 675.3L669.8 676.8L668.4 676.6L667.0 676.1L665.6 677.0L664.2 675.7L662.8 677.3L661.4 677.9L660.0 677.8L658.6 676.9L657.2 677.5L655.8 679.1L654.4 676.1L653.0 677.7L651.6 676.7L650.2 677.3L648.8 677.5L647.4 678.9L646.0 677.2L644.6 677.9L643.2 677.6L641.8 678.1L640.4 678.4L639.0 679.2L637.6 678.6L636.2 678.8L634.8 678.7L633.4 679.2L632.0 679.0L630.6 679.1L629.2 679.2L627.8 680.3L626.4 678.1L625.0 677.6L623.6 678.8L622.2 677.8L620.8 680.4L619.4 680.5L618.0 678.7L616.6 679.7L615.2 679.5L613.8 679.6L612.4 681.3L611.0 680.3L609.6 679.4L608.2 680.4L606.8 679.7L605.4 680.6L604.0 681.3L602.6 681.0L601.2 680.7L599.8 679.8L598.4 680.6L597.0 679.4L595.6 681.6L594.2 681.3L592.8 681.6L591.4 683.5L590.0 681.3L588.6 681.1L587.2 682.3L585.8 682.5L584.4 681.6L583.0 681.8L581.6 682.0L580.2 683.1L578.8 682.0L577.4 682.3L576.0 682.2L574.6 681.3L573.2 682.3L571.8 682.5L570.4 683.4L569.0 683.4L567.6 683.9L566.2 682.2L564.8 684.3L563.4 683.7L562.0 681.8L560.6 682.1L559.2 684.5L557.8 682.5L556.4 683.6L555.0 683.8L553.6 682.8L552.2 683.0L550.8 684.0L549.4 684.5L548.0 683.6L546.6 686.5L545.2 683.9L543.8 685.2L542.4 685.4L541.0 686.6L539.6 684.3L538.2 684.6L536.8 683.9L535.4 684.6L534.0 683.7L532.6 685.5L531.2 686.5L529.8 686.8L528.4 686.3L527.0 685.8L525.6 687.0L524.2 686.9L522.8 687.1L521.4 686.8L520.0 684.9L518.6 686.5L517.2 687.1L515.8 687.6L514.4 687.0L513.0 686.7L511.6 686.6L510.2 687.1L508.8 688.1L507.4 688.9L506.0 689.4L504.6 688.5L503.2 688.9L501.8 688.0L500.4 688.7L499.0 690.3L497.6 689.8L496.2 688.6L494.8 688.6L493.4 688.6L492.0 688.5L490.6 690.8L489.2 690.5L487.8 689.1L486.4 689.5L485.0 689.8L483.6 689.9L482.2 690.6L480.8 689.2L479.4 690.4L478.0 690.6L476.6 692.1L475.2 691.7L473.8 690.5L472.4 691.2L471.0 691.2L469.6 689.2L468.2 692.1L466.8 691.8L465.4 690.0L464.0 693.6L462.6 692.1L461.2 691.9L459.8 692.4L458.4 693.2L457.0 692.1L455.6 692.8L454.2 694.0L452.8 693.7L451.4 694.3L450.0 693.9L448.6 694.3L447.2 692.7L445.8 694.9L444.4 694.4L442.9 693.8L441.5 696.6L440.1 694.7L438.7 694.6L437.3 696.2L435.9 695.2L434.5 696.9L433.1 696.1L431.6 697.2L430.2 695.2L428.8 696.8L427.4 697.1L426.0 697.3L424.6 697.6L423.1 700.2L421.7 698.6L420.3 698.9L418.9 699.1L417.5 700.0L416.0 700.0L414.6 701.2L413.2 700.1L411.8 700.9" fill="none" stroke="#000000" stroke-width="9.5" stroke-linejoin="round" stroke-linecap="butt"/>
<path d="M1162.8 134.9L1162.9 140.7L1162.9 141.7L1162.9 143.3L1162.9 146.0L1162.9 146.5L1162.9 148.2L1162.9 150.1L1162.9 149.4L1162.9 152.4L1162.9 153.6L1162.9 155.1L1162.9 155.9L1162.9 158.3L1162.9 157.8L1162.9 160.9L1162.9 161.6L1162.9 164.2L1162.9 163.5L1163.0 166.2L1163.0 168.9L1163.0 169.5L1163.0 171.2L1163.0 171.6L1163.0 173.6L1163.0 173.0L1163.0 175.7L1163.0 177.8L1163.0 177.7L1163.0 179.4L1163.0 181.3L1163.0 182.9L1163.0 185.1L1163.0 185.9L1163.0 186.8L1162.9 188.8L1162.9 190.8L1162.9 190.4L1162.9 192.1L1162.9 192.3L1162.9 196.1L1162.9 197.6L1162.9 197.8L1162.9 199.4L1162.9 200.9L1162.9 203.7L1162.9 204.5L1162.9 203.5L1162.9 207.1L1162.9 209.2L1162.9 211.4L1162.9 211.3L1162.9 212.9L1162.9 214.2L1162.9 214.3L1162.9 216.6L1162.9 218.0L1162.8 220.1L1162.8 222.1L1162.8 222.5L1162.8 224.1L1162.8 225.3L1162.8 227.6L1162.8 228.1L1162.8 228.2L1162.8 231.0L1162.8 232.9L1162.8 233.4L1162.8 235.4L1162.8 236.1L1162.7 238.0L1162.7 239.1L1162.7 240.5L1162.7 241.5L1162.7 244.7L1162.7 243.8L1162.7 245.2L1162.7 247.1L1162.7 249.0L1162.7 251.3L1162.6 252.1L1162.6 253.0L1162.6 254.7L1162.6 256.4L1162.6 257.8L1162.6 258.2L1162.6 260.6L1162.6 261.3L1162.5 264.1L1162.5 264.4L1162.5 265.2L1162.5 268.0L1162.5 267.3L1162.5 270.4L1162.5 272.2L1162.5 273.3L1162.4 274.0L1162.4 274.5L1162.4 278.0L1162.4 277.1L1162.4 279.2L1162.4 281.0L1162.3 281.3L1162.3 283.4L1162.3 285.4L1162.3 285.9L1162.3 288.3L1162.3 288.6L1162.3 290.5L1162.2 292.5L1162.2 295.3L1162.2 296.0L1162.2 297.7L1162.2 299.3L1162.2 299.3L1162.1 301.4L1162.1 302.3L1162.1 303.9L1162.1 305.2L1162.1 307.0L1162.0 308.0L1162.0 309.4L1162.0 311.3L1162.0 312.6L1162.0 313.9L1161.9 315.1L1161.9 316.1L1161.9 316.5L1161.9 319.6L1161.9 321.4L1161.8 320.2L1161.8 322.8L1161.8 323.8L1161.8 323.6L1161.8 327.1L1161.7 328.9L1161.7 329.7L1161.7 331.1L1161.7 332.3L1161.6 335.4L1161.6 334.5L1161.6 337.7L1161.6 338.4L1161.6 340.0L1161.5 341.5L1161.5 343.1L1161.5 342.3L1161.5 345.4L1161.4 347.4L1161.4 348.5L1161.4 350.1L1161.4 352.5L1161.3 354.3L1161.3 352.0L1161.3 353.7L1161.3 356.3L1161.2 359.1L1161.2 359.2L1161.2 360.1L1161.2 361.2L1161.1 364.9L1161.1 365.0L1161.1 366.3L1161.0 369.0L1161.0 371.5L1161.0 371.6L1161.0 372.4L1160.9 373.8L1160.9 374.2L1160.9 377.2L1160.8 376.5L1160.8 380.1L1160.8 380.9L1160.7 382.2L1160.7 384.3L1160.7 385.7L1160.7 386.3L1160.6 386.8L1160.6 389.2L1160.6 390.0L1160.5 390.9L1160.5 394.3L1160.5 392.6L1160.4 393.7L1160.4 398.0L1160.4 399.5L1160.3 401.5L1160.3 401.7L1160.3 402.1L1160.2 405.3L1160.2 405.5L1160.2 406.4L1160.2 408.7L1160.1 410.4L1160.1 409.4L1160.1 412.6L1160.1 415.1L1160.0 415.2L1160.0 416.1L1160.0 419.0L1160.0 419.0L1159.9 419.8L1159.9 421.6L1159.9 423.0L1159.9 423.9L1159.8 425.9L1159.8 429.1L1159.8 430.5L1159.8 429.8L1159.8 431.8L1159.8 433.8L1159.8 434.2L1159.7 436.2L1159.7 437.5L1159.7 438.6L1159.7 441.2L1159.7 443.6L1159.7 443.9L1159.7 444.9L1159.7 446.4L1159.7 448.7L1159.7 449.7L1159.7 452.2L1159.7 452.8L1159.7 454.3L1159.7 455.0L1159.7 457.0L1159.7 457.1L1159.7 459.4L1159.7 459.6L1159.7 462.4L1159.7 463.6L1159.7 464.1L1159.7 465.7L1159.7 467.3L1159.7 469.7L1159.7 471.2L1159.7 471.8L1159.7 471.7L1159.7 475.6L1159.7 474.2L1159.7 478.1L1159.6 478.4L1159.6 478.7L1159.6 481.9L1159.6 481.6L1159.6 484.8L1159.6 486.2L1159.5 486.0L1159.5 488.5L1159.5 489.9L1159.4 489.8L1159.4 493.9L1159.4 493.5L1159.3 494.2L1159.3 496.7L1159.2 498.1L1159.2 499.5L1159.1 500.9L1159.1 502.6L1159.0 503.7L1159.0 506.0L1158.9 505.7L1158.8 508.7L1158.7 511.1L1158.7 511.0L1158.6 511.4L1158.5 514.3L1158.4 515.0L1158.3 517.0L1158.1 517.2L1158.0 518.8L1157.9 519.2L1157.8 522.3L1157.6 524.2L1157.5 525.7L1157.4 524.3L1157.2 528.3L1157.0 527.7L1156.9 531.5L1156.7 532.2L1156.5 532.9L1156.3 532.1L1156.1 535.8L1155.9 535.7L1155.7 537.6L1155.4 538.4L1155.2 541.1L1155.0 542.0L1154.7 543.7L1154.4 545.1L1154.2 545.6L1153.9 548.2L1153.6 550.6L1153.3 551.6L1153.0 550.5L1152.6 552.6L1152.3 554.4L1152.0 556.2L1151.6 556.9L1151.2 558.8L1150.9 560.2L1150.5 560.5L1150.1 561.8L1149.6 563.5L1149.2 565.7L1148.8 566.4L1148.3 568.0L1147.9 570.7L1147.4 569.4L1146.9 571.0L1146.4 573.5L1145.9 573.6L1145.3 573.0L1144.8 575.8L1144.2 576.0L1143.7 578.9L1143.1 580.7L1142.5 580.8L1141.9 582.9L1141.2 581.5L1140.6 585.2L1139.9 585.6L1139.2 587.3L1138.6 586.9L1137.9 589.5L1137.1 590.2L1136.4 591.0L1135.6 592.3L1134.9 592.0L1134.1 594.5L1133.3 594.4L1132.5 597.3L1131.7 597.9L1130.8 600.0L1130.0 598.7L1129.1 601.7L1128.2 600.4L1127.3 601.3L1126.4 603.3L1125.5 604.2L1124.5 605.5L1123.6 607.5L1122.6 607.3L1121.6 609.6L1120.6 609.5L1119.6 610.5L1118.6 611.2L1117.5 611.1L1116.5 612.8L1115.4 614.4L1114.4 613.6L1113.3 613.2L1112.2 616.6L1111.1 617.0L1109.9 618.4L1108.8 619.0L1107.7 620.2L1106.5 619.0L1105.4 620.8L1104.2 619.2L1103.1 621.9L1101.9 622.2L1100.7 622.9L1099.5 624.2L1098.3 626.1L1097.1 624.3L1095.9 625.0L1094.7 626.3L1093.5 626.0L1092.2 626.1L1091.0 628.6L1089.8 628.4L1088.5 629.0L1087.3 628.8L1086.0 631.5L1084.8 631.7L1083.5 629.1L1082.2 631.5L1081.0 629.2L1079.7 631.1L1078.4 632.6L1077.1 632.0L1075.8 634.6L1074.5 633.7L1073.2 633.6L1071.9 634.3L1070.6 635.2L1069.3 635.0L1068.0 634.1L1066.7 636.5L1065.3 633.8L1064.0 635.6L1062.7 636.5L1061.3 636.5L1060.0 637.4L1058.6 637.5L1057.3 637.5L1055.9 637.1L1054.6 636.9L1053.2 638.5L1051.9 640.6L1050.5 639.0L1049.1 639.5L1047.7 641.0L1046.4 641.0L1045.0 640.1L1043.6 640.5L1042.2 640.4L1040.8 641.5L1039.4 642.0L1038.1 641.4L1036.7 641.9L1035.3 643.3L1033.9 643.3L1032.5 640.8L1031.1 642.4L1029.8 641.7L1028.4 642.6L1027.0 641.9L1025.6 643.3L1024.2 643.7L1022.9 643.6L1021.5 644.1L1020.1 642.5L1018.8 645.1L1017.4 645.3L1016.0 646.1L1014.6 644.4L1013.3 646.3L1011.9 646.3L1010.5 646.0L1009.2 645.9L1007.8 647.0L1006.4 644.7L1005.1 647.7L1003.7 645.5L1002.3 646.0L1000.9 647.3L999.6 647.9L998.2 649.4L996.8 648.0L995.4 650.1L994.1 650.1L992.7 650.1L991.3 648.7L989.9 650.1L988.6 648.1L987.2 650.8L985.8 650.9L984.4 651.2L983.1 651.3L981.7 650.8L980.3 651.3L978.9 651.5L977.6 651.9L976.2 651.6L974.8 650.3L973.4 652.2L972.0 651.3L970.7 652.3L969.3 653.2L967.9 653.3L966.5 653.6L965.1 654.2L963.7 653.5L962.4 652.9L961.0 652.3L959.6 655.1L958.2 655.2L956.8 653.6L955.5 655.4L954.1 653.4L952.7 655.5L951.3 656.1L949.9 655.4L948.5 657.4L947.1 657.2L945.8 655.8L944.4 656.0L943.0 655.9L941.6 657.0L940.2 656.7L938.8 658.5L937.5 656.8L936.1 658.0L934.7 656.7L933.3 657.4L931.9 658.0L930.5 658.3L929.1 658.7L927.7 658.6L926.4 658.9L925.0 658.7L923.6 659.8L922.2 660.1L920.8 658.9L919.4 661.0L918.0 659.4L916.6 660.5L915.3 658.8L913.9 660.8L912.5 660.7L911.1 660.4L909.7 661.2L908.3 658.7L906.9 660.6L905.5 661.5L904.1 660.7L902.8 660.6L901.4 663.6L900.0 661.3L898.6 662.9L897.2 660.8L895.8 660.5L894.4 663.2L893.0 662.1L891.6 662.4L890.3 661.7L888.9 661.6L887.5 663.2L886.1 664.2L884.7 664.1L883.3 664.7L881.9 663.8L880.5 663.4L879.1 664.0L877.7 665.3L876.3 664.5L875.0 662.4L873.6 665.8L872.2 666.8L870.8 665.6L869.4 665.1L868.0 666.1L866.6 666.4L865.2 664.9L863.8 666.8L862.4 665.3L861.0 666.2L859.6 666.1L858.3 666.1L856.9 666.4L855.5 666.9L854.1 667.5L852.7 668.1L851.3 666.3L849.9 666.2L848.5 667.6L847.1 667.9L845.7 667.4L844.3 666.8L842.9 667.4L841.5 666.9L840.1 668.5L838.8 668.2L837.4 669.0L836.0 667.6L834.6 667.9L833.2 667.6L831.8 668.6L830.4 671.1L829.0 669.0L827.6 668.9L826.2 668.3L824.8 669.6L823.4 669.9L822.0 669.9L820.6 668.7L819.2 668.4L817.9 669.9L816.5 671.9L815.1 669.0L813.7 671.9L812.3 672.4L810.9 669.9L809.5 669.0L808.1 670.0L806.7 670.7L805.3 671.2L803.9 671.3L802.5 672.1L801.1 670.8L799.7 670.9L798.3 673.0L796.9 672.6L795.5 672.8L794.1 672.9L792.8 671.4L791.4 673.0L790.0 672.0L788.6 673.0L787.2 671.7L785.8 672.6L784.4 671.0L783.0 673.1L781.6 672.4L780.2 671.2L778.8 672.3L777.4 671.4L776.0 673.4L774.6 672.2L773.2 672.5L771.8 674.8L770.4 672.8L769.0 673.1L767.6 673.1L766.2 673.8L764.8 673.0L763.5 673.2L762.1 673.8L760.7 674.3L759.3 673.6L757.9 674.0L756.5 673.2L755.1 674.9L753.7 674.8L752.3 672.9L750.9 674.6L749.5 673.4L748.1 675.3L746.7 675.9L745.3 676.3L743.9 675.8L742.5 676.3L741.1 674.0L739.7 676.3L738.3 674.9L736.9 676.3L735.5 676.1L734.1 675.8L732.7 678.2L731.3 676.0L729.9 677.5L728.5 675.5L727.1 676.8L725.7 677.4L724.3 677.2L722.9 674.8L721.5 677.8L720.2 676.2L718.8 679.1L717.4 676.7L716.0 677.0L714.6 677.5L713.2 677.8L711.8 677.0L710.4 677.1L709.0 677.8L707.6 676.7L706.2 678.1L704.8 678.1L703.4 677.1L702.0 677.9L700.6 677.1L699.2 678.2L697.8 679.3L696.4 678.0L695.0 679.0L693.6 679.2L692.2 679.7L690.8 678.5L689.4 680.2L688.0 679.0L686.6 679.3L685.2 679.2L683.8 678.7L682.4 679.5L681.0 678.7L679.6 679.1L678.2 680.2L676.8 679.7L675.4 679.9L674.0 680.7L672.6 680.1L671.2 679.3L669.8 680.6L668.4 681.2L667.0 681.7L665.6 678.6L664.2 679.9L662.8 678.3L661.4 680.3L660.0 680.8L658.6 680.7L657.2 680.1L655.8 681.5L654.4 681.8L653.0 682.1L651.6 681.2L650.2 681.7L648.8 680.3L647.4 680.9L646.0 681.8L644.6 680.9L643.2 681.2L641.8 681.1L640.4 681.1L639.0 682.3L637.6 683.1L636.2 681.7L634.8 681.2L633.4 680.9L632.0 681.7L630.6 682.8L629.2 682.4L627.8 682.5L626.4 682.6L625.0 683.2L623.6 685.1L622.2 683.3L620.8 681.3L619.4 683.2L618.0 682.4L616.6 683.0L615.2 682.8L613.8 683.2L612.4 685.0L611.0 684.8L609.6 685.3L608.2 683.1L606.8 684.8L605.4 684.2L604.0 683.8L602.6 684.1L601.2 684.5L599.8 684.1L598.4 683.8L597.0 684.7L595.6 685.4L594.2 684.2L592.8 684.5L591.4 682.7L590.0 684.3L588.6 684.1L587.2 685.9L585.8 684.8L584.4 687.3L583.0 684.4L581.6 685.5L580.2 686.1L578.8 685.7L577.4 685.3L576.0 686.8L574.6 685.8L573.2 686.8L571.8 687.1L570.4 685.8L569.0 687.2L567.6 686.7L566.2 686.8L564.8 687.0L563.4 687.1L562.0 688.4L560.6 687.8L559.2 688.2L557.8 686.0L556.4 686.9L555.0 687.6L553.6 688.1L552.2 687.2L550.8 688.2L549.4 687.1L548.0 688.3L546.6 688.5L545.2 687.5L543.8 689.3L542.4 687.4L541.0 689.6L539.6 689.5L538.2 688.3L536.8 688.5L535.4 688.1L534.0 688.7L532.6 690.9L531.2 689.3L529.8 688.1L528.4 688.2L527.0 689.3L525.6 690.0L524.2 689.7L522.8 690.0L521.4 692.4L520.0 690.5L518.6 689.5L517.2 688.7L515.8 689.5L514.4 691.9L513.0 691.0L511.6 691.5L510.2 691.8L508.8 690.8L507.4 690.3L506.0 693.4L504.6 690.8L503.2 693.1L501.8 692.3L500.4 693.3L499.0 693.2L497.6 692.3L496.2 692.3L494.8 692.5L493.4 691.7L492.0 692.5L490.6 692.5L489.2 693.1L487.8 693.9L486.4 695.1L485.0 694.1L483.6 694.3L482.2 692.8L480.8 693.7L479.4 694.0L478.0 695.3L476.6 695.5L475.2 694.1L473.8 695.2L472.4 694.8L471.0 694.8L469.6 693.8L468.2 695.7L466.8 695.4L465.4 695.1L464.0 694.9L462.6 695.4L461.2 696.0L459.8 693.8L458.4 696.8L457.0 696.4L455.6 696.1L454.2 696.7L452.8 696.7L451.4 698.0L450.0 697.8L448.6 697.5L447.2 696.7L445.8 697.2L444.4 697.5L442.9 697.1L441.5 698.7L440.1 697.6L438.7 699.6L437.3 698.2L435.9 697.7L434.5 699.9L433.1 700.2L431.6 698.6L430.2 699.8L428.8 700.4L427.4 700.6L426.0 701.0L424.6 701.3L423.1 702.0L421.7 701.2L420.3 701.8L418.9 700.9L417.5 702.5L416.0 704.3L414.6 703.3L413.2 704.8L411.8 704.8" fill="none" stroke="#000000" stroke-width="9.5" stroke-linejoin="round" stroke-linecap="butt"/>
<circle cx="411.8" cy="700.8" r="4.75" fill="#000000"/>
<circle cx="411.8" cy="704.4" r="4.75" fill="#000000"/>
<path d="M410.6 688.8L410.4 680.5L410.4 679.0L410.4 676.5L410.4 675.1L410.4 672.4L410.3 670.6L410.3 668.7L410.3 666.3L410.3 665.0L410.3 662.4L410.3 660.5L410.3 658.7L410.2 657.0L410.2 654.6L410.2 653.3L410.2 650.8L410.2 648.7L410.2 646.9L410.2 644.8L410.2 642.5L410.2 640.7L410.2 638.8L410.2 637.2L410.2 634.8L410.3 632.9L410.3 630.2L410.3 628.7L410.3 626.8L410.3 625.2L410.3 623.2L410.3 620.8L410.3 618.9L410.3 616.7L410.4 614.6L410.4 612.8L410.4 610.7L410.4 608.8L410.4 606.9L410.5 604.7L410.5 603.0L410.5 600.4L410.5 598.7L410.5 596.8L410.6 594.3L410.6 592.9L410.6 590.9L410.7 589.1L410.7 586.7L410.7 584.9L410.7 582.9L410.8 580.3L410.8 578.8L410.8 576.3L410.9 574.8L410.9 572.9L410.9 570.7L411.0 568.2L411.0 567.0L411.0 564.7L411.1 562.9L411.1 560.5L411.1 558.5L411.2 557.2L411.2 554.6L411.2 552.5L411.3 550.5L411.3 548.9L411.3 546.2L411.4 544.5L411.4 542.4L411.5 541.2L411.5 538.9L411.5 536.6L411.6 534.7L411.6 532.5L411.7 530.5L411.7 528.5L411.8 527.0L411.8 524.5L411.8 522.5L411.9 520.6L411.9 518.9L412.0 516.7L412.0 514.3L412.1 512.6L412.1 510.5L412.1 508.2L412.2 506.3L412.2 504.6L412.3 502.4L412.3 500.9L412.4 498.6L412.4 496.4L412.5 494.5L412.5 492.3L412.5 490.3L412.6 488.7L412.6 486.5L412.7 484.0L412.7 482.1L412.8 480.6L412.8 478.2L412.9 476.4L412.9 474.7L412.9 472.4L413.0 470.4L413.0 468.3L413.1 466.7L413.1 464.3L413.2 462.1L413.2 460.4L413.3 458.8L413.3 456.5L413.4 454.8L413.4 452.7L413.4 450.1L413.5 448.4L413.5 446.4L413.6 444.4L413.6 442.7L413.7 440.7L413.7 438.6L413.7 436.7L413.8 434.2L413.8 432.6L413.9 430.1L413.9 428.3L413.9 426.0L414.0 424.6L414.0 422.2L414.1 420.5L414.1 418.0L414.1 416.4L414.2 414.5L414.2 412.3L414.2 410.3L414.3 408.3L414.3 406.3L414.3 404.2L414.4 402.0L414.4 400.5L414.4 398.2L414.5 396.3L414.5 394.3L414.5 391.9L414.5 389.9L414.5 387.9L414.6 386.6L414.6 384.1L414.6 382.4L414.6 379.7L414.6 378.1L414.7 376.2L414.7 374.0L414.7 372.4L414.7 370.1L414.7 368.1L414.7 366.4L414.8 364.6L414.8 362.2L414.8 360.1L414.9 358.1L414.9 356.5L415.0 353.9L415.0 352.0L415.1 350.0L415.2 348.5L415.2 346.4L415.3 344.1L415.5 342.1L415.6 340.3L415.7 338.2L415.9 336.1L416.0 334.2L416.2 332.4L416.4 330.3L416.6 328.5L416.8 326.4L417.0 324.4L417.2 322.7L417.4 320.7L417.7 318.1L417.9 316.7L418.2 314.6L418.5 312.5L418.7 310.9L419.0 308.9L419.3 307.0L419.6 304.7L419.9 303.3L420.2 301.1L420.5 298.8L420.8 297.5L421.2 294.9L421.5 293.5L421.9 291.1L422.3 289.1L422.7 287.2L423.1 285.2L423.5 283.3L424.0 281.7L424.5 279.7L425.0 277.4L425.5 276.0L426.0 273.6L426.5 272.3L427.1 270.1L427.7 268.3L428.3 266.8L428.9 264.1L429.5 263.3L430.1 261.5L430.8 259.4L431.5 257.4L432.2 255.3L432.9 253.9L433.7 251.8L434.5 250.0L435.3 248.1L436.1 246.9L437.0 245.0L437.8 242.7L438.7 241.4L439.7 239.4L440.6 238.3L441.6 236.2L442.7 234.8L443.7 233.4L444.8 231.6L445.9 229.9L447.1 228.6L448.3 226.9L449.5 226.2L450.8 224.7L452.1 222.7L453.4 221.6L454.8 221.2L456.2 219.6L457.7 218.2L459.2 217.5L460.7 216.3L462.3 215.4L463.9 214.2L465.6 213.8L467.3 212.6L469.0 211.4L470.7 210.8L472.4 210.0L474.2 209.4L476.0 208.7L477.8 207.9L479.6 207.0L481.5 206.6L483.3 205.7L485.2 205.6L487.0 204.3L488.9 203.9L490.8 203.2L492.6 202.5L494.5 202.3L496.4 201.7L498.3 201.1L500.2 200.9L502.1 199.9L504.0 199.6L505.9 199.0L507.8 198.6L509.8 197.7L511.7 197.2L513.6 197.3L515.5 196.3L517.5 196.4L519.4 196.1L521.3 195.1L523.3 194.9L525.2 194.5L527.1 194.4L529.1 194.1L531.0 193.4L533.0 193.0L534.9 192.7L536.9 191.8L538.8 191.7L540.8 191.5L542.8 190.8L544.7 191.0L546.7 190.0L548.6 189.9L550.6 189.6L552.6 189.4L554.5 188.7L556.5 188.5L558.5 188.4L560.4 188.0L562.4 187.8L564.4 187.2L566.3 186.8L568.3 186.2L570.3 186.2L572.3 186.1L574.2 185.6L576.2 185.5L578.2 185.6L580.2 185.0L582.1 185.1L584.1 184.8L586.1 184.4L588.1 184.3L590.1 184.1L592.0 183.3L594.0 183.8L596.0 182.7L598.0 183.0L600.0 182.5L602.0 182.3L603.9 182.3L605.9 182.0L607.9 181.8L609.9 181.6L611.9 181.2L613.9 181.3L615.9 180.8L617.8 181.0L619.8 180.3L621.8 180.5L623.8 180.1L625.8 180.5L627.8 179.7L629.8 180.0L631.8 179.5L633.8 179.0L635.8 179.6L637.8 179.3L639.7 179.3L641.7 178.6L643.7 178.8L645.7 178.8L647.7 178.3L649.7 178.6L651.7 177.9L653.7 178.1L655.7 177.4L657.7 177.3L659.7 177.3L661.7 177.2L663.7 177.2L665.7 177.1L667.7 176.3L669.7 176.7L671.7 176.4L673.7 175.9L675.7 176.1L677.7 176.3L679.7 176.1L681.7 175.5L683.6 175.6L685.6 175.5L687.6 175.8L689.6 175.2L691.6 175.0L693.6 175.0L695.6 174.4L697.6 174.8L699.6 174.9L701.6 174.7L703.6 174.0L705.6 174.9L707.6 174.3L709.6 174.0L711.6 173.9L713.6 174.0L715.6 173.7L717.6 173.6L719.6 173.7L721.6 173.1L723.6 173.5L725.6 172.9L727.7 173.2L729.7 173.2L731.7 173.0L733.7 172.9L735.7 172.5L737.7 172.3L739.7 172.6L741.7 172.2L743.7 171.9L745.7 171.9L747.7 171.8L749.7 172.0L751.7 171.9L753.7 172.0L755.7 171.2L757.7 171.4L759.7 171.2L761.7 170.6L763.7 171.0L765.7 171.1L767.7 170.6L769.7 170.4L771.7 171.2L773.7 170.2L775.7 170.8L777.7 170.4L779.7 170.3L781.7 169.9L783.7 169.7L785.7 170.2L787.7 170.2L789.7 169.4L791.7 169.8L793.7 169.4L795.7 169.5L797.7 169.2L799.7 168.9L801.7 168.6L803.7 168.5L805.7 168.8L807.7 168.6L809.7 168.3L811.7 168.1L813.7 168.2L815.7 168.4L817.7 168.4L819.7 168.3L821.7 168.0L823.7 168.1L825.7 167.5L827.7 168.1L829.7 167.6L831.7 167.3L833.7 167.2L835.7 167.0L837.7 167.1L839.7 167.3L841.8 166.8L843.8 167.2L845.8 166.9L847.8 166.3L849.8 166.4L851.8 166.3L853.8 166.4L855.8 166.9L857.8 166.9L859.8 166.3L861.8 166.2L863.8 165.9L865.8 166.3L867.8 165.7L869.8 165.7L871.8 165.8L873.8 165.9L875.8 165.7L877.8 165.1L879.8 165.6L881.8 165.4L883.8 165.5L885.8 165.7L887.8 164.9L889.8 165.3L891.8 165.4L893.8 164.7L895.7 165.4L897.7 165.2L899.7 165.1L901.7 164.8L903.7 165.0L905.7 165.1L907.7 164.6L909.7 164.7L911.7 164.6L913.7 164.8L915.7 164.8L917.7 164.9L919.8 164.8L921.8 164.6L923.8 164.7L925.8 164.4L927.8 164.8L929.8 164.3L931.8 164.3L933.8 164.5L935.8 164.0L937.8 164.6L939.8 164.7L941.9 164.5L943.9 164.5L945.9 164.4L947.9 164.3L949.9 164.2L951.9 163.9L953.9 164.2L955.9 164.3L957.9 164.5L959.9 163.9L961.9 164.0L964.0 164.0L966.0 163.7L968.0 163.6L970.0 163.6L972.0 163.5L974.0 163.9L976.0 163.1L978.0 163.1L980.0 163.0L982.0 163.4L984.0 163.4L986.0 162.9L988.0 163.3L990.0 162.8L992.0 163.3L994.1 162.9L996.1 163.1L998.1 162.4L1000.1 162.9L1002.1 162.6L1004.1 162.4L1006.1 162.1L1008.1 162.6L1010.1 162.5L1012.1 162.2L1014.1 162.4L1016.1 162.3L1018.1 162.3L1020.1 161.7L1022.1 162.0L1024.1 161.8L1026.1 161.6L1028.1 161.7L1030.1 161.4L1032.2 161.8L1034.2 161.4L1036.2 161.4L1038.2 161.5L1040.2 161.7L1042.2 161.3L1044.2 160.7L1046.2 161.3L1048.2 160.9L1050.2 161.1L1052.2 160.8L1054.2 160.6L1056.2 160.2L1058.2 160.5L1060.2 160.6L1062.2 160.2L1064.2 160.1L1066.2 160.0L1068.2 160.1L1070.2 160.0L1072.2 160.1L1074.2 159.8L1076.2 159.8L1078.2 159.5L1080.2 159.9L1082.3 159.6L1084.3 159.1L1086.3 159.2L1088.3 159.3L1090.3 159.5L1092.3 159.2L1094.3 159.5L1096.3 159.1L1098.3 158.7L1100.3 158.7L1102.3 159.2L1104.3 158.5L1106.3 158.5L1108.3 158.4L1110.3 158.2L1112.3 158.6L1114.3 158.6L1116.3 158.0L1118.3 158.7L1120.3 158.4L1122.3 158.0L1124.3 157.7L1126.3 157.9L1128.3 157.8L1130.3 158.0L1132.3 157.7L1134.3 157.9L1136.3 158.2L1138.3 157.4L1140.3 157.4L1142.3 157.8L1144.3 157.9L1146.3 156.9L1148.3 157.2L1150.3 156.8L1152.3 157.3L1154.3 157.2L1156.3 156.9L1158.3 157.1L1160.4 157.3L1167.6 156.2" fill="none" stroke="#ff0000" stroke-width="9.5" stroke-linejoin="round" stroke-linecap="butt"/>
<path d="M410.6 688.7L410.4 680.9L410.4 679.4L410.4 677.1L410.4 674.8L410.4 672.6L410.3 670.6L410.3 668.9L410.3 666.3L410.3 664.8L410.3 662.5L410.3 660.6L410.3 658.7L410.2 657.1L410.2 654.9L410.2 653.2L410.2 651.0L410.2 648.6L410.2 646.9L410.2 644.6L410.2 643.3L410.2 640.6L410.2 638.9L410.2 636.5L410.2 634.9L410.3 633.1L410.3 631.0L410.3 629.0L410.3 627.1L410.3 624.6L410.3 622.6L410.3 620.6L410.3 618.7L410.3 616.5L410.4 614.3L410.4 612.8L410.4 610.5L410.4 608.9L410.4 606.6L410.5 604.4L410.5 602.9L410.5 601.0L410.5 598.7L410.5 596.6L410.6 594.4L410.6 593.1L410.6 590.4L410.7 588.9L410.7 587.2L410.7 584.7L410.7 582.2L410.8 580.9L410.8 578.9L410.8 577.2L410.9 574.4L410.9 572.9L410.9 570.3L411.0 568.8L411.0 567.1L411.0 565.0L411.1 562.7L411.1 560.6L411.1 558.7L411.2 556.6L411.2 554.7L411.2 552.7L411.3 550.4L411.3 548.6L411.3 546.8L411.4 544.4L411.4 542.9L411.5 541.0L411.5 538.5L411.5 536.8L411.6 534.7L411.6 532.2L411.7 530.9L411.7 528.8L411.8 526.4L411.8 524.6L411.8 522.5L411.9 520.9L411.9 518.5L412.0 516.8L412.0 514.7L412.1 512.1L412.1 510.8L412.1 508.5L412.2 506.7L412.2 505.0L412.3 502.7L412.3 500.5L412.4 498.6L412.4 496.4L412.5 494.8L412.5 492.9L412.5 489.9L412.6 488.3L412.6 486.4L412.7 484.8L412.7 482.5L412.8 480.8L412.8 478.8L412.9 476.2L412.9 474.4L412.9 472.5L413.0 470.2L413.0 468.3L413.1 466.1L413.1 464.5L413.2 462.3L413.2 460.7L413.3 458.7L413.3 456.6L413.4 454.6L413.4 452.4L413.4 450.9L413.5 448.7L413.5 446.4L413.6 444.2L413.6 442.4L413.7 440.2L413.7 438.7L413.7 436.3L413.8 434.0L413.8 432.1L413.9 429.9L413.9 428.3L413.9 426.5L414.0 424.5L414.0 422.3L414.1 420.4L414.1 418.7L414.1 416.5L414.2 414.3L414.2 411.8L414.2 410.2L414.3 408.3L414.3 406.7L414.3 404.0L414.4 402.3L414.4 399.9L414.4 397.7L414.5 396.4L414.5 393.8L414.5 392.2L414.5 389.9L414.5 387.6L414.6 386.2L414.6 383.9L414.6 381.6L414.6 380.3L414.6 378.7L414.7 375.9L414.7 374.1L414.7 372.0L414.7 369.8L414.7 368.2L414.7 365.7L414.8 364.0L414.8 362.7L414.8 360.4L414.9 358.3L414.9 356.4L415.0 354.3L415.0 352.1L415.1 350.2L415.2 348.0L415.2 345.8L415.3 344.3L415.5 342.1L415.6 340.4L415.7 338.6L415.9 336.4L416.0 334.5L416.2 332.2L416.4 330.3L416.6 328.4L416.8 326.4L417.0 324.7L417.2 322.4L417.4 320.9L417.7 318.6L417.9 316.8L418.2 314.9L418.5 312.7L418.7 311.0L419.0 308.6L419.3 307.1L419.6 305.2L419.9 303.1L420.2 300.9L420.5 299.4L420.8 296.8L421.2 295.2L421.5 293.3L421.9 291.6L422.3 289.1L422.7 287.3L423.1 285.4L423.5 283.2L424.0 281.3L424.5 280.0L425.0 278.0L425.5 275.9L426.0 274.3L426.5 272.3L427.1 270.1L427.7 268.2L428.3 266.7L428.9 264.3L429.5 263.0L430.1 261.1L430.8 259.7L431.5 257.9L432.2 255.5L432.9 253.8L433.7 252.5L434.5 250.3L435.3 248.0L436.1 246.4L437.0 245.0L437.8 243.0L438.7 241.4L439.7 239.9L440.6 238.2L441.6 236.8L442.7 235.4L443.7 233.4L444.8 232.0L445.9 230.2L447.1 229.1L448.3 227.2L449.5 226.3L450.8 225.1L452.1 223.5L453.4 222.2L454.8 221.2L456.2 220.0L457.7 218.6L459.2 217.8L460.7 217.4L462.3 216.2L463.9 215.1L465.6 214.0L467.3 213.4L469.0 212.1L470.7 212.1L472.4 211.2L474.2 210.0L476.0 209.5L477.8 208.4L479.6 207.7L481.5 207.2L483.3 206.8L485.2 206.1L487.0 205.4L488.9 204.6L490.8 204.4L492.6 204.2L494.5 203.0L496.4 202.5L498.3 201.8L500.2 201.4L502.1 200.4L504.0 200.5L505.9 199.6L507.8 199.0L509.8 198.9L511.7 198.7L513.6 197.9L515.5 197.0L517.5 197.1L519.4 196.8L521.3 196.0L523.3 196.0L525.2 195.3L527.1 195.1L529.1 194.8L531.0 194.0L533.0 193.6L534.9 193.4L536.9 193.1L538.8 192.3L540.8 192.1L542.8 192.0L544.7 191.7L546.7 190.7L548.6 190.8L550.6 190.8L552.6 190.6L554.5 189.5L556.5 189.3L558.5 189.1L560.4 188.9L562.4 188.6L564.4 188.2L566.3 187.8L568.3 187.5L570.3 187.3L572.3 187.3L574.2 187.3L576.2 186.7L578.2 186.4L580.2 185.9L582.1 185.8L584.1 185.0L586.1 185.3L588.1 185.2L590.1 184.6L592.0 184.4L594.0 184.3L596.0 184.0L598.0 183.9L600.0 183.8L602.0 183.5L603.9 183.2L605.9 183.0L607.9 182.5L609.9 182.4L611.9 182.5L613.9 182.2L615.9 181.8L617.8 181.8L619.8 181.0L621.8 181.3L623.8 181.0L625.8 180.8L627.8 180.8L629.8 180.7L631.8 180.0L633.8 179.9L635.8 179.8L637.8 180.0L639.7 179.9L641.7 179.8L643.7 179.3L645.7 179.4L647.7 179.2L649.7 178.7L651.7 178.6L653.7 178.9L655.7 178.4L657.7 178.4L659.7 177.9L661.7 177.9L663.7 177.7L665.7 177.9L667.7 177.6L669.7 177.9L671.7 177.4L673.7 177.2L675.7 176.8L677.7 177.0L679.7 176.7L681.7 177.0L683.6 176.5L685.6 176.1L687.6 176.2L689.6 175.6L691.6 176.3L693.6 176.0L695.6 176.0L697.6 175.5L699.6 176.0L701.6 176.0L703.6 175.6L705.6 174.7L707.6 175.3L709.6 175.1L711.6 174.9L713.6 174.5L715.6 174.6L717.6 174.5L719.6 173.8L721.6 174.0L723.6 173.8L725.6 173.7L727.7 173.9L729.7 174.0L731.7 173.8L733.7 173.8L735.7 173.5L737.7 172.8L739.7 173.5L741.7 173.3L743.7 173.4L745.7 172.6L747.7 172.7L749.7 172.8L751.7 172.6L753.7 172.5L755.7 172.3L757.7 171.9L759.7 172.1L761.7 172.3L763.7 172.3L765.7 171.9L767.7 171.6L769.7 171.6L771.7 171.4L773.7 171.6L775.7 171.5L777.7 171.3L779.7 170.9L781.7 170.9L783.7 171.2L785.7 170.7L787.7 170.6L789.7 171.1L791.7 170.3L793.7 170.0L795.7 170.3L797.7 170.1L799.7 170.3L801.7 169.8L803.7 169.9L805.7 169.9L807.7 169.6L809.7 169.1L811.7 169.4L813.7 169.3L815.7 169.3L817.7 169.1L819.7 168.4L821.7 169.1L823.7 168.9L825.7 169.0L827.7 168.4L829.7 168.6L831.7 168.6L833.7 168.3L835.7 168.4L837.7 167.9L839.7 168.3L841.8 168.4L843.8 168.1L845.8 167.9L847.8 167.2L849.8 167.5L851.8 167.6L853.8 167.4L855.8 167.4L857.8 167.1L859.8 167.2L861.8 167.3L863.8 167.0L865.8 167.0L867.8 167.1L869.8 166.5L871.8 166.3L873.8 166.6L875.8 166.6L877.8 166.2L879.8 166.8L881.8 166.0L883.8 166.0L885.8 166.3L887.8 166.2L889.8 166.0L891.8 166.0L893.8 166.0L895.7 165.9L897.7 166.2L899.7 166.2L901.7 165.7L903.7 165.6L905.7 165.7L907.7 165.8L909.7 165.2L911.7 165.9L913.7 165.9L915.7 165.5L917.7 165.4L919.8 166.2L921.8 165.4L923.8 165.5L925.8 165.6L927.8 165.9L929.8 165.2L931.8 165.8L933.8 165.5L935.8 165.2L937.8 164.9L939.8 165.8L941.9 165.1L943.9 165.1L945.9 165.4L947.9 164.7L949.9 165.1L951.9 164.7L953.9 165.1L955.9 164.9L957.9 165.3L959.9 164.9L961.9 165.0L964.0 164.7L966.0 164.8L968.0 164.6L970.0 164.4L972.0 164.8L974.0 164.5L976.0 164.5L978.0 164.5L980.0 164.2L982.0 164.4L984.0 164.2L986.0 163.8L988.0 163.9L990.0 164.2L992.0 164.0L994.1 163.8L996.1 163.8L998.1 163.2L1000.1 163.9L1002.1 163.4L1004.1 163.5L1006.1 163.4L1008.1 163.1L1010.1 162.9L1012.1 163.3L1014.1 163.3L1016.1 163.4L1018.1 163.0L1020.1 162.7L1022.1 162.9L1024.1 162.3L1026.1 162.7L1028.1 162.3L1030.1 162.7L1032.2 162.2L1034.2 162.3L1036.2 162.5L1038.2 162.3L1040.2 162.3L1042.2 162.2L1044.2 162.1L1046.2 161.7L1048.2 162.0L1050.2 162.2L1052.2 161.6L1054.2 161.5L1056.2 161.6L1058.2 161.0L1060.2 160.8L1062.2 161.3L1064.2 161.2L1066.2 161.2L1068.2 161.2L1070.2 160.6L1072.2 160.6L1074.2 160.7L1076.2 160.6L1078.2 160.8L1080.2 160.9L1082.3 160.7L1084.3 160.2L1086.3 159.9L1088.3 160.3L1090.3 160.4L1092.3 160.2L1094.3 159.9L1096.3 160.4L1098.3 159.7L1100.3 159.8L1102.3 159.9L1104.3 159.5L1106.3 159.5L1108.3 159.5L1110.3 159.2L1112.3 159.2L1114.3 158.9L1116.3 159.2L1118.3 159.6L1120.3 158.9L1122.3 158.7L1124.3 159.0L1126.3 159.0L1128.3 158.8L1130.3 158.2L1132.3 158.8L1134.3 158.1L1136.3 159.1L1138.3 158.5L1140.3 159.0L1142.3 158.3L1144.3 158.3L1146.3 158.3L1148.3 158.0L1150.3 157.8L1152.3 158.1L1154.3 157.5L1156.3 157.9L1158.3 158.3L1160.4 158.1L1167.6 157.4" fill="none" stroke="#ff0000" stroke-width="9.5" stroke-linejoin="round" stroke-linecap="butt"/>
<path d="M1162.8 152.3L1162.9 160.2L1162.9 162.0L1163.0 163.8L1163.0 166.4L1163.0 167.7L1163.0 169.9L1163.0 172.3L1163.1 173.8L1163.1 176.0L1163.1 177.8L1163.1 180.3L1163.1 182.1L1163.1 183.8L1163.1 185.8L1163.1 188.3L1163.1 190.0L1163.1 192.4L1163.1 193.7L1163.1 196.3L1163.1 197.8L1163.1 200.0L1163.1 202.0L1163.1 203.9L1163.1 205.7L1163.1 208.0L1163.1 210.1L1163.1 212.2L1163.1 214.4L1163.1 215.8L1163.0 218.2L1163.0 219.9L1163.0 222.2L1163.0 224.2L1163.0 226.0L1163.0 228.1L1162.9 230.1L1162.9 232.0L1162.9 234.6L1162.9 235.8L1162.9 237.9L1162.8 239.9L1162.8 242.2L1162.8 244.1L1162.8 246.1L1162.7 248.5L1162.7 250.0L1162.7 251.9L1162.6 254.7L1162.6 255.7L1162.6 258.0L1162.5 259.6L1162.5 261.8L1162.5 264.2L1162.4 266.5L1162.4 267.8L1162.4 269.8L1162.3 272.1L1162.3 274.1L1162.2 276.0L1162.2 278.0L1162.2 280.5L1162.1 282.2L1162.1 284.3L1162.0 285.8L1162.0 288.1L1161.9 289.7L1161.9 292.3L1161.8 294.1L1161.8 296.1L1161.7 298.2L1161.7 299.7L1161.6 301.8L1161.6 304.3L1161.5 306.0L1161.5 308.4L1161.4 310.1L1161.4 311.8L1161.3 314.0L1161.3 316.0L1161.2 318.2L1161.1 320.1L1161.1 322.2L1161.0 323.9L1161.0 326.1L1160.9 328.6L1160.9 330.5L1160.8 332.0L1160.7 334.2L1160.7 336.0L1160.6 338.3L1160.5 340.2L1160.5 342.0L1160.4 344.3L1160.4 345.9L1160.3 348.2L1160.2 350.4L1160.2 352.5L1160.1 354.4L1160.0 356.1L1160.0 358.5L1159.9 360.7L1159.8 362.6L1159.8 364.4L1159.7 366.2L1159.6 368.2L1159.6 370.3L1159.5 372.1L1159.4 374.1L1159.3 376.1L1159.3 378.7L1159.2 380.1L1159.1 382.3L1159.1 384.0L1159.0 386.1L1158.9 388.6L1158.9 390.3L1158.8 392.2L1158.7 394.4L1158.6 396.6L1158.6 398.6L1158.5 400.2L1158.4 402.4L1158.3 404.5L1158.3 406.5L1158.2 408.3L1158.1 410.7L1158.1 412.3L1158.0 413.9L1157.9 416.7L1157.9 418.4L1157.8 420.1L1157.7 422.2L1157.7 424.8L1157.6 426.3L1157.6 428.4L1157.5 430.3L1157.5 433.0L1157.4 434.6L1157.4 436.9L1157.4 438.9L1157.3 440.5L1157.3 442.4L1157.3 444.5L1157.3 446.3L1157.2 448.8L1157.2 450.9L1157.2 453.1L1157.2 454.2L1157.2 456.5L1157.2 458.7L1157.1 461.2L1157.1 462.6L1157.1 464.8L1157.1 466.5L1157.1 468.5L1157.0 470.7L1157.0 472.7L1157.0 475.0L1156.9 476.3L1156.9 478.6L1156.8 480.6L1156.8 482.6L1156.7 484.9L1156.7 487.0L1156.6 488.5L1156.5 490.3L1156.4 492.4L1156.3 494.6L1156.2 496.2L1156.0 499.0L1155.9 500.2L1155.7 502.6L1155.6 504.4L1155.4 506.7L1155.2 508.3L1155.0 510.0L1154.8 512.3L1154.5 513.8L1154.3 515.7L1154.0 518.4L1153.7 520.2L1153.4 522.0L1153.1 523.9L1152.7 525.6L1152.4 527.7L1152.0 529.7L1151.6 531.1L1151.2 533.3L1150.8 535.8L1150.4 537.4L1149.9 539.1L1149.4 540.9L1148.9 542.5L1148.4 544.7L1147.9 546.8L1147.3 548.8L1146.7 550.4L1146.1 552.6L1145.5 553.8L1144.9 556.2L1144.2 557.4L1143.5 559.1L1142.8 561.5L1142.1 563.5L1141.3 564.9L1140.5 567.3L1139.7 568.5L1138.8 570.1L1138.0 572.0L1137.1 573.7L1136.2 575.6L1135.2 576.5L1134.2 578.7L1133.2 580.1L1132.2 581.8L1131.2 583.6L1130.1 585.2L1129.0 586.7L1127.8 587.9L1126.6 589.8L1125.4 591.3L1124.2 592.4L1122.9 594.0L1121.7 595.2L1120.3 596.9L1119.0 598.0L1117.6 599.1L1116.2 600.2L1114.8 601.7L1113.3 603.0L1111.8 603.7L1110.3 605.6L1108.8 606.4L1107.2 607.5L1105.7 608.3L1104.0 609.3L1102.4 610.6L1100.7 611.6L1099.1 612.2L1097.4 613.1L1095.6 613.4L1093.9 614.7L1092.1 615.8L1090.4 616.4L1088.6 617.1L1086.8 617.2L1085.0 618.5L1083.2 618.6L1081.3 619.8L1079.5 620.3L1077.6 621.2L1075.8 621.3L1073.9 622.5L1072.0 622.5L1070.1 623.1L1068.3 623.6L1066.4 624.3L1064.5 624.5L1062.5 625.5L1060.6 626.0L1058.7 626.3L1056.8 626.6L1054.8 626.8L1052.9 627.0L1051.0 627.8L1049.0 628.1L1047.1 628.1L1045.1 628.6L1043.2 628.4L1041.2 629.1L1039.2 629.9L1037.3 629.7L1035.3 630.2L1033.3 631.0L1031.4 630.4L1029.4 631.2L1027.4 631.5L1025.4 631.7L1023.5 632.0L1021.5 632.1L1019.5 632.9L1017.5 633.0L1015.6 633.2L1013.6 633.9L1011.6 634.3L1009.6 634.4L1007.6 634.9L1005.6 634.8L1003.7 635.0L1001.7 635.9L999.7 636.1L997.7 636.4L995.7 636.6L993.8 636.8L991.8 637.3L989.8 637.8L987.8 637.9L985.8 638.1L983.9 638.7L981.9 639.1L979.9 638.6L977.9 639.1L975.9 639.9L974.0 640.2L972.0 640.3L970.0 640.4L968.0 641.1L966.0 640.8L964.1 641.7L962.1 641.7L960.1 642.0L958.1 642.4L956.1 642.4L954.2 642.9L952.2 643.2L950.2 643.7L948.2 643.5L946.2 644.5L944.3 644.8L942.3 645.2L940.3 645.2L938.3 645.2L936.3 645.4L934.4 645.7L932.4 646.2L930.4 646.6L928.4 646.5L926.4 646.9L924.5 647.1L922.5 647.1L920.5 648.1L918.5 648.1L916.5 648.8L914.6 648.4L912.6 649.1L910.6 649.1L908.6 649.5L906.6 650.2L904.6 650.0L902.7 650.5L900.7 650.0L898.7 650.2L896.7 651.0L894.7 651.2L892.7 651.7L890.7 651.3L888.8 652.2L886.8 651.8L884.8 652.0L882.8 652.2L880.8 652.5L878.8 653.0L876.8 653.1L874.8 653.6L872.9 654.0L870.9 653.5L868.9 654.0L866.9 654.1L864.9 654.1L862.9 654.9L860.9 655.0L858.9 655.1L856.9 654.9L854.9 655.5L853.0 656.0L851.0 655.7L849.0 656.1L847.0 656.2L845.0 656.5L843.0 656.4L841.0 656.4L839.0 656.7L837.0 657.1L835.0 656.9L833.0 657.3L831.0 657.7L829.0 657.4L827.0 657.7L825.0 658.0L823.0 657.9L821.1 657.9L819.1 658.2L817.1 658.1L815.1 658.3L813.1 658.9L811.1 659.1L809.1 659.1L807.1 659.0L805.1 659.3L803.1 659.2L801.1 659.4L799.1 660.0L797.1 659.4L795.1 659.5L793.1 660.0L791.1 660.3L789.1 660.1L787.1 660.7L785.1 660.4L783.1 661.1L781.1 660.4L779.1 660.9L777.1 661.2L775.1 661.6L773.1 661.8L771.1 661.7L769.1 661.4L767.1 661.8L765.1 661.8L763.1 662.1L761.1 662.1L759.1 662.4L757.1 662.6L755.1 662.6L753.1 662.7L751.1 663.1L749.1 663.0L747.1 663.4L745.1 663.2L743.1 663.1L741.1 663.4L739.1 663.6L737.1 663.1L735.1 663.4L733.1 664.0L731.1 663.7L729.1 664.0L727.1 664.3L725.1 664.5L723.1 664.8L721.1 664.5L719.1 664.3L717.1 664.6L715.1 664.4L713.1 664.9L711.1 664.9L709.1 665.4L707.1 665.4L705.1 665.4L703.1 665.5L701.1 665.4L699.0 665.5L697.0 666.2L695.0 665.9L693.0 666.0L691.0 666.4L689.0 666.3L687.0 666.1L685.0 666.7L683.0 666.4L681.0 666.5L679.0 666.3L677.0 667.3L675.0 667.0L673.0 667.3L671.0 667.0L669.0 667.5L667.0 667.2L665.0 667.6L663.0 667.7L661.0 667.8L659.0 668.0L657.0 667.5L655.0 668.3L653.0 668.1L651.0 669.0L649.0 668.8L647.0 669.0L645.0 668.9L643.0 669.2L640.9 669.1L638.9 668.7L636.9 669.3L634.9 669.8L632.9 669.4L630.9 669.5L628.9 669.9L626.9 669.7L624.9 669.7L622.9 669.6L620.9 670.1L618.9 670.0L616.9 670.4L614.9 670.7L612.9 670.8L610.9 671.2L608.9 671.4L606.9 671.0L604.9 671.5L602.9 671.5L600.9 671.6L598.9 672.3L596.9 671.9L594.9 671.8L592.9 672.1L590.9 672.3L588.9 672.5L586.9 672.7L584.9 673.0L582.9 673.0L580.8 673.1L578.8 672.8L576.8 673.4L574.8 673.6L572.8 673.6L570.8 673.3L568.8 673.8L566.8 673.5L564.8 674.1L562.8 674.1L560.8 674.9L558.8 674.4L556.8 674.8L554.8 674.9L552.8 675.6L550.8 675.5L548.8 675.5L546.8 675.9L544.8 675.5L542.8 676.1L540.8 676.5L538.8 675.9L536.8 676.2L534.8 676.2L532.8 676.7L530.8 676.8L528.8 676.7L526.8 676.9L524.8 677.2L522.8 677.5L520.8 677.8L518.8 678.1L516.8 677.8L514.8 677.7L512.8 678.2L510.8 678.0L508.8 678.6L506.8 678.5L504.8 679.0L502.8 679.1L500.8 679.0L498.8 679.2L496.8 679.2L494.8 679.0L492.8 679.3L490.8 679.7L488.8 679.6L486.9 679.7L484.9 680.5L482.9 680.3L480.9 680.4L478.9 680.5L476.9 680.7L474.9 680.9L472.9 681.2L470.9 680.7L468.9 681.1L466.9 681.8L464.9 681.7L462.9 682.0L460.9 681.3L458.9 681.7L456.9 681.6L454.9 681.9L452.9 682.2L450.9 682.6L448.9 682.9L446.9 682.4L444.9 682.6L442.9 682.4L440.9 682.9L438.9 682.5L436.9 683.1L434.9 683.5L433.0 683.6L431.0 683.2L429.0 683.0L427.0 683.7L425.0 683.4L423.0 683.3L421.0 682.9L419.1 683.6L417.1 683.8L415.1 683.2L413.1 683.7L405.8 683.3" fill="none" stroke="#ff0000" stroke-width="9.5" stroke-linejoin="round" stroke-linecap="butt"/>
<path d="M1162.8 152.7L1162.9 159.9L1162.9 161.8L1163.0 163.9L1163.0 166.2L1163.0 168.0L1163.0 170.1L1163.0 172.2L1163.1 173.6L1163.1 176.1L1163.1 178.0L1163.1 180.0L1163.1 181.9L1163.1 184.2L1163.1 185.6L1163.1 188.1L1163.1 189.9L1163.1 192.3L1163.1 193.7L1163.1 196.0L1163.1 198.4L1163.1 200.2L1163.1 202.3L1163.1 204.0L1163.1 206.2L1163.1 207.6L1163.1 210.0L1163.1 212.2L1163.1 213.7L1163.1 215.8L1163.0 218.0L1163.0 220.0L1163.0 222.3L1163.0 224.1L1163.0 226.0L1163.0 228.1L1162.9 230.3L1162.9 231.8L1162.9 233.9L1162.9 235.5L1162.9 238.2L1162.8 240.3L1162.8 241.9L1162.8 244.0L1162.8 246.0L1162.7 248.4L1162.7 250.3L1162.7 251.6L1162.6 254.2L1162.6 256.4L1162.6 258.7L1162.5 260.2L1162.5 262.3L1162.5 264.2L1162.4 265.9L1162.4 268.1L1162.4 270.1L1162.3 272.4L1162.3 274.5L1162.2 276.2L1162.2 278.3L1162.2 280.2L1162.1 282.5L1162.1 284.3L1162.0 285.9L1162.0 288.3L1161.9 290.4L1161.9 292.2L1161.8 294.4L1161.8 296.2L1161.7 298.3L1161.7 300.2L1161.6 302.2L1161.6 304.1L1161.5 306.6L1161.5 308.0L1161.4 310.0L1161.4 312.1L1161.3 314.3L1161.3 316.5L1161.2 318.4L1161.1 320.2L1161.1 322.3L1161.0 324.4L1161.0 326.4L1160.9 328.1L1160.9 330.4L1160.8 332.2L1160.7 334.6L1160.7 336.3L1160.6 338.1L1160.5 340.5L1160.5 341.9L1160.4 344.4L1160.4 346.6L1160.3 348.5L1160.2 350.3L1160.2 352.0L1160.1 354.6L1160.0 355.9L1160.0 358.2L1159.9 360.3L1159.8 362.0L1159.8 364.2L1159.7 366.3L1159.6 368.1L1159.6 370.4L1159.5 372.1L1159.4 374.2L1159.3 376.4L1159.3 378.8L1159.2 380.6L1159.1 382.7L1159.1 384.8L1159.0 386.4L1158.9 388.6L1158.9 390.4L1158.8 392.5L1158.7 394.5L1158.6 396.6L1158.6 398.5L1158.5 400.5L1158.4 402.6L1158.3 404.6L1158.3 406.6L1158.2 408.5L1158.1 410.4L1158.1 412.1L1158.0 414.6L1157.9 416.8L1157.9 418.0L1157.8 420.4L1157.7 422.3L1157.7 424.3L1157.6 426.4L1157.6 428.6L1157.5 430.4L1157.5 432.4L1157.4 434.4L1157.4 436.9L1157.4 438.2L1157.3 440.8L1157.3 442.6L1157.3 444.6L1157.3 446.7L1157.2 448.7L1157.2 450.1L1157.2 452.6L1157.2 454.8L1157.2 456.7L1157.2 458.8L1157.1 461.1L1157.1 463.2L1157.1 464.1L1157.1 466.2L1157.1 468.6L1157.0 471.0L1157.0 472.6L1157.0 474.4L1156.9 476.3L1156.9 479.0L1156.8 480.6L1156.8 482.6L1156.7 484.9L1156.7 486.7L1156.6 488.8L1156.5 490.7L1156.4 492.6L1156.3 494.3L1156.2 496.8L1156.0 498.1L1155.9 500.7L1155.7 502.5L1155.6 504.5L1155.4 506.6L1155.2 508.6L1155.0 510.3L1154.8 512.0L1154.5 514.3L1154.3 516.0L1154.0 517.8L1153.7 520.4L1153.4 521.4L1153.1 523.8L1152.7 526.1L1152.4 528.0L1152.0 530.1L1151.6 531.7L1151.2 533.3L1150.8 535.8L1150.4 537.3L1149.9 539.1L1149.4 541.2L1148.9 543.2L1148.4 544.4L1147.9 546.8L1147.3 549.0L1146.7 550.5L1146.1 552.2L1145.5 554.5L1144.9 555.9L1144.2 557.5L1143.5 559.5L1142.8 561.3L1142.1 563.0L1141.3 564.9L1140.5 567.2L1139.7 569.0L1138.8 570.1L1138.0 572.0L1137.1 573.9L1136.2 575.3L1135.2 577.2L1134.2 578.8L1133.2 580.3L1132.2 582.3L1131.2 584.2L1130.1 585.5L1129.0 586.9L1127.8 588.5L1126.6 590.2L1125.4 591.6L1124.2 593.4L1122.9 594.6L1121.7 596.0L1120.3 597.2L1119.0 598.7L1117.6 599.7L1116.2 601.2L1114.8 602.1L1113.3 603.7L1111.8 604.8L1110.3 605.7L1108.8 606.9L1107.2 608.0L1105.7 609.4L1104.0 610.4L1102.4 611.1L1100.7 611.6L1099.1 613.3L1097.4 613.3L1095.6 614.9L1093.9 615.4L1092.1 615.9L1090.4 617.1L1088.6 617.4L1086.8 618.6L1085.0 619.3L1083.2 619.5L1081.3 620.5L1079.5 621.1L1077.6 621.3L1075.8 622.7L1073.9 622.7L1072.0 623.0L1070.1 623.9L1068.3 624.4L1066.4 624.9L1064.5 625.4L1062.5 625.9L1060.6 626.3L1058.7 627.0L1056.8 626.9L1054.8 627.8L1052.9 628.5L1051.0 628.4L1049.0 628.5L1047.1 629.3L1045.1 629.5L1043.2 630.0L1041.2 630.0L1039.2 630.4L1037.3 630.4L1035.3 631.3L1033.3 631.7L1031.4 632.1L1029.4 631.6L1027.4 632.7L1025.4 632.5L1023.5 633.5L1021.5 633.6L1019.5 633.7L1017.5 633.4L1015.6 634.4L1013.6 634.3L1011.6 634.8L1009.6 634.9L1007.6 635.6L1005.6 635.8L1003.7 636.2L1001.7 636.6L999.7 636.6L997.7 637.3L995.7 637.9L993.8 638.2L991.8 637.8L989.8 638.3L987.8 638.7L985.8 639.2L983.9 639.3L981.9 639.8L979.9 640.2L977.9 640.2L975.9 640.5L974.0 640.9L972.0 641.5L970.0 641.6L968.0 642.0L966.0 642.2L964.1 642.3L962.1 642.7L960.1 643.4L958.1 643.3L956.1 643.1L954.2 643.8L952.2 643.8L950.2 644.6L948.2 645.1L946.2 645.1L944.3 645.6L942.3 645.2L940.3 646.2L938.3 646.2L936.3 646.7L934.4 646.5L932.4 647.2L930.4 647.4L928.4 647.5L926.4 647.8L924.5 647.7L922.5 648.4L920.5 648.3L918.5 649.1L916.5 649.3L914.6 649.8L912.6 649.4L910.6 650.2L908.6 649.8L906.6 650.0L904.6 650.6L902.7 650.8L900.7 651.2L898.7 651.7L896.7 651.6L894.7 652.3L892.7 652.2L890.7 652.5L888.8 652.7L886.8 652.6L884.8 653.1L882.8 653.6L880.8 653.3L878.8 653.7L876.8 654.2L874.8 654.3L872.9 654.7L870.9 654.8L868.9 655.2L866.9 654.8L864.9 655.3L862.9 654.9L860.9 655.7L858.9 655.8L856.9 656.0L854.9 656.4L853.0 656.9L851.0 656.4L849.0 656.6L847.0 657.0L845.0 656.9L843.0 657.0L841.0 657.7L839.0 657.7L837.0 657.9L835.0 657.9L833.0 658.7L831.0 658.8L829.0 658.0L827.0 658.8L825.0 658.6L823.0 658.7L821.1 659.2L819.1 659.1L817.1 659.8L815.1 659.6L813.1 659.6L811.1 659.9L809.1 660.2L807.1 660.2L805.1 660.0L803.1 660.7L801.1 660.0L799.1 660.6L797.1 660.9L795.1 660.9L793.1 661.3L791.1 661.3L789.1 661.4L787.1 661.3L785.1 661.3L783.1 661.8L781.1 662.0L779.1 662.1L777.1 662.3L775.1 662.8L773.1 662.8L771.1 662.6L769.1 662.8L767.1 662.8L765.1 663.2L763.1 663.4L761.1 663.2L759.1 663.4L757.1 663.9L755.1 663.9L753.1 663.2L751.1 663.7L749.1 663.6L747.1 663.9L745.1 663.7L743.1 664.2L741.1 664.3L739.1 664.3L737.1 664.5L735.1 664.0L733.1 664.9L731.1 664.9L729.1 665.2L727.1 664.7L725.1 665.3L723.1 665.4L721.1 665.3L719.1 665.3L717.1 665.7L715.1 665.6L713.1 666.0L711.1 665.4L709.1 665.6L707.1 666.0L705.1 666.2L703.1 666.7L701.1 666.3L699.0 667.0L697.0 667.0L695.0 667.0L693.0 666.7L691.0 667.1L689.0 666.6L687.0 667.4L685.0 667.5L683.0 667.6L681.0 667.7L679.0 667.6L677.0 667.8L675.0 667.9L673.0 668.1L671.0 668.1L669.0 667.7L667.0 668.4L665.0 668.1L663.0 668.5L661.0 668.8L659.0 668.9L657.0 669.0L655.0 669.3L653.0 669.1L651.0 669.0L649.0 668.9L647.0 669.8L645.0 669.9L643.0 669.5L640.9 670.1L638.9 669.5L636.9 670.2L634.9 670.5L632.9 670.3L630.9 671.0L628.9 671.0L626.9 670.6L624.9 670.8L622.9 670.8L620.9 671.2L618.9 671.2L616.9 671.8L614.9 671.4L612.9 671.9L610.9 671.5L608.9 671.8L606.9 672.1L604.9 672.3L602.9 672.5L600.9 672.5L598.9 672.7L596.9 672.7L594.9 673.1L592.9 673.3L590.9 673.0L588.9 673.8L586.9 673.4L584.9 673.8L582.9 673.4L580.8 674.1L578.8 674.2L576.8 674.2L574.8 674.5L572.8 674.5L570.8 674.5L568.8 674.9L566.8 674.8L564.8 674.8L562.8 675.8L560.8 675.2L558.8 675.8L556.8 675.3L554.8 675.3L552.8 676.2L550.8 676.0L548.8 676.2L546.8 676.1L544.8 676.2L542.8 676.7L540.8 677.2L538.8 677.2L536.8 677.5L534.8 677.3L532.8 677.4L530.8 677.6L528.8 678.1L526.8 678.0L524.8 677.9L522.8 678.6L520.8 679.0L518.8 678.7L516.8 678.7L514.8 679.1L512.8 679.3L510.8 679.0L508.8 679.6L506.8 679.3L504.8 679.7L502.8 679.7L500.8 679.8L498.8 680.0L496.8 680.3L494.8 680.6L492.8 680.8L490.8 680.4L488.8 680.5L486.9 681.0L484.9 681.2L482.9 681.1L480.9 681.1L478.9 681.3L476.9 681.3L474.9 681.8L472.9 681.8L470.9 682.2L468.9 681.9L466.9 682.0L464.9 682.0L462.9 682.4L460.9 682.8L458.9 682.7L456.9 682.7L454.9 682.6L452.9 683.1L450.9 683.2L448.9 683.3L446.9 683.0L444.9 683.0L442.9 683.5L440.9 684.2L438.9 683.4L436.9 684.3L434.9 684.4L433.0 683.8L431.0 683.5L429.0 683.8L427.0 684.1L425.0 684.3L423.0 684.3L421.0 684.5L419.1 684.2L417.1 684.2L415.1 684.8L413.1 684.6L405.8 684.5" fill="none" stroke="#ff0000" stroke-width="9.5" stroke-linejoin="round" stroke-linecap="butt"/>
<path d="M410.6 674.2L410.4 667.9L410.4 665.9L410.4 663.9L410.3 661.9L410.3 659.9L410.3 657.9L410.2 655.9L410.2 653.9L410.2 651.9L410.2 649.9L410.2 647.9L410.1 645.9L410.1 643.9L410.1 641.9L410.1 639.9L410.1 637.9L410.1 635.9L410.1 633.9L410.1 631.9L410.1 629.9L410.2 627.9L410.2 625.9L410.2 623.9L410.2 621.9L410.2 619.9L410.3 617.9L410.3 615.9L410.3 613.9L410.3 611.9L410.4 609.9L410.4 607.9L410.4 605.9L410.5 603.9L410.5 601.9L410.6 599.9L410.6 597.9L410.6 595.9L410.7 593.9L410.7 591.9L410.8 589.9L410.8 587.9L410.9 585.9L410.9 583.9L411.0 581.9L411.0 579.9L411.1 577.9L411.2 575.9L411.2 573.9L411.3 571.9L411.3 569.9L411.4 567.9L411.5 565.9L411.5 563.9L411.6 561.8L411.7 559.8L411.7 557.8L411.8 555.8L411.9 553.8L412.0 551.8L412.0 549.8L412.1 547.8L412.2 545.8L412.3 543.8L412.3 541.8L412.4 539.8L412.5 537.8L412.6 535.8L412.6 533.8L412.7 531.8L412.8 529.8L412.9 527.8L413.0 525.8L413.1 523.8L413.1 521.8L413.2 519.8L413.3 517.8L413.4 515.8L413.5 513.8L413.6 511.8L413.7 509.8L413.8 507.8L413.8 505.8L413.9 503.8L414.0 501.8L414.1 499.8L414.2 497.7L414.3 495.7L414.4 493.7L414.5 491.7L414.6 489.7L414.7 487.7L414.8 485.7L414.9 483.7L415.0 481.7L415.0 479.7L415.1 477.7L415.2 475.7L415.3 473.7L415.4 471.7L415.5 469.7L415.6 467.7L415.7 465.7L415.8 463.7L415.9 461.7L416.0 459.7L416.1 457.7L416.2 455.7L416.3 453.7L416.4 451.7L416.5 449.7L416.6 447.6L416.7 445.6L416.8 443.6L416.8 441.6L416.9 439.6L417.0 437.6L417.1 435.6L417.2 433.6L417.3 431.6L417.4 429.6L417.5 427.6L417.6 425.6L417.7 423.6L417.8 421.6L417.9 419.6L417.9 417.6L418.0 415.6L418.1 413.5L418.2 411.5L418.3 409.5L418.4 407.5L418.4 405.5L418.5 403.5L418.6 401.5L418.7 399.5L418.8 397.5L418.8 395.5L418.9 393.5L419.0 391.5L419.0 389.5L419.1 387.4L419.2 385.4L419.2 383.4L419.3 381.4L419.4 379.4L419.4 377.4L419.5 375.4L419.5 373.4L419.6 371.4L419.7 369.4L419.7 367.4L419.8 365.4L419.9 363.4L419.9 361.4L420.0 359.4L420.1 357.5L420.2 355.5L420.4 353.5L420.5 351.5L420.6 349.6L420.8 347.6L421.0 345.7L421.2 343.7L421.4 341.8L421.6 339.8L421.9 337.9L422.2 335.9L422.5 334.0L422.8 332.1L423.1 330.1L423.5 328.2L423.8 326.2L424.2 324.3L424.6 322.4L425.0 320.4L425.4 318.5L425.8 316.5L426.3 314.6L426.7 312.6L427.1 310.7L427.6 308.7L428.0 306.8L428.5 304.8L428.9 302.9L429.4 300.9L429.8 299.0L430.3 297.0L430.7 295.1L431.2 293.1L431.6 291.1L432.1 289.2L432.5 287.2L432.9 285.2L433.3 283.3L433.8 281.3L434.2 279.3L434.6 277.4L435.0 275.5L435.4 273.6L435.9 271.7L436.4 269.9L436.9 268.1L437.5 266.3L438.1 264.5L438.8 262.8L439.6 261.1L440.4 259.3L441.2 257.7L442.1 256.0L443.0 254.3L443.9 252.7L444.9 251.1L446.0 249.6L447.1 248.0L448.2 246.5L449.4 245.0L450.5 243.5L451.8 242.1L453.0 240.7L454.3 239.3L455.7 237.9L457.0 236.6L458.4 235.3L459.8 234.0L461.3 232.8L462.7 231.6L464.2 230.4L465.8 229.2L467.3 228.1L468.9 227.0L470.5 226.0L472.1 225.0L473.7 224.0L475.4 223.0L477.1 222.1L478.8 221.2L480.5 220.4L482.2 219.5L484.0 218.7L485.7 218.0L487.5 217.2L489.3 216.5L491.1 215.8L493.0 215.1L494.8 214.5L496.6 213.8L498.5 213.2L500.3 212.7L502.2 212.1L504.1 211.5L506.0 211.0L507.9 210.5L509.8 210.0L511.7 209.6L513.6 209.1L515.5 208.7L517.4 208.2L519.4 207.8L521.3 207.4L523.2 207.0L525.2 206.6L527.1 206.3L529.1 205.9L531.0 205.5L533.0 205.2L535.0 204.9L536.9 204.5L538.9 204.2L540.8 203.9L542.8 203.6L544.8 203.3L546.8 203.0L548.7 202.7L550.7 202.4L552.7 202.1L554.7 201.8L556.7 201.5L558.6 201.2L560.6 200.9L562.6 200.6L564.6 200.3L566.6 200.0L568.6 199.8L570.5 199.5L572.5 199.2L574.5 198.9L576.5 198.6L578.5 198.3L580.5 198.1L582.4 197.8L584.4 197.5L586.4 197.2L588.4 197.0L590.4 196.7L592.4 196.4L594.4 196.1L596.3 195.9L598.3 195.6L600.3 195.3L602.3 195.1L604.3 194.8L606.3 194.5L608.3 194.3L610.2 194.0L612.2 193.8L614.2 193.5L616.2 193.2L618.2 193.0L620.2 192.7L622.2 192.5L624.1 192.2L626.1 192.0L628.1 191.7L630.1 191.5L632.1 191.2L634.1 191.0L636.1 190.8L638.1 190.5L640.0 190.3L642.0 190.0L644.0 189.8L646.0 189.6L648.0 189.3L650.0 189.1L652.0 188.9L654.0 188.7L656.0 188.4L657.9 188.2L659.9 188.0L661.9 187.8L663.9 187.6L665.9 187.3L667.9 187.1L669.9 186.9L671.9 186.7L673.9 186.5L675.9 186.3L677.9 186.1L679.8 185.9L681.8 185.7L683.8 185.5L685.8 185.3L687.8 185.1L689.8 184.9L691.8 184.7L693.8 184.5L695.8 184.4L697.8 184.2L699.8 184.0L701.8 183.8L703.8 183.6L705.8 183.5L707.7 183.3L709.7 183.1L711.7 183.0L713.7 182.8L715.7 182.6L717.7 182.5L719.7 182.3L721.7 182.2L723.7 182.0L725.7 181.8L727.7 181.7L729.7 181.6L731.7 181.4L733.7 181.3L735.7 181.1L737.7 181.0L739.7 180.9L741.7 180.7L743.7 180.6L745.7 180.5L747.7 180.3L749.7 180.2L751.7 180.1L753.7 180.0L755.6 179.8L757.6 179.7L759.6 179.6L761.6 179.5L763.6 179.4L765.6 179.3L767.6 179.2L769.6 179.1L771.6 179.0L773.6 178.9L775.6 178.8L777.6 178.7L779.6 178.6L781.6 178.5L783.6 178.4L785.6 178.3L787.6 178.2L789.6 178.2L791.6 178.1L793.6 178.0L795.6 177.9L797.6 177.8L799.7 177.8L801.7 177.7L803.7 177.6L805.7 177.5L807.7 177.5L809.7 177.4L811.7 177.3L813.7 177.3L815.7 177.2L817.7 177.1L819.7 177.0L821.7 177.0L823.7 176.9L825.7 176.9L827.7 176.8L829.7 176.7L831.7 176.7L833.7 176.6L835.7 176.6L837.7 176.5L839.7 176.4L841.7 176.4L843.7 176.3L845.7 176.3L847.7 176.2L849.7 176.2L851.7 176.1L853.7 176.1L855.7 176.0L857.8 176.0L859.8 175.9L861.8 175.9L863.8 175.8L865.8 175.8L867.8 175.7L869.8 175.7L871.8 175.6L873.8 175.6L875.8 175.5L877.8 175.5L879.8 175.4L881.8 175.4L883.8 175.3L885.8 175.3L887.8 175.2L889.8 175.2L891.9 175.1L893.9 175.1L895.9 175.0L897.9 175.0L899.9 174.9L901.9 174.9L903.9 174.8L905.9 174.7L907.9 174.7L909.9 174.6L911.9 174.6L913.9 174.5L915.9 174.5L917.9 174.4L919.9 174.4L921.9 174.3L923.9 174.2L926.0 174.2L928.0 174.1L930.0 174.1L932.0 174.0L934.0 174.0L936.0 173.9L938.0 173.9L940.0 173.8L942.0 173.8L944.0 173.8L946.0 173.7L948.0 173.7L950.0 173.6L952.0 173.6L954.0 173.6L956.0 173.5L958.0 173.5L960.0 173.5L962.0 173.4L964.0 173.4L966.0 173.4L968.0 173.3L970.0 173.3L972.0 173.3L974.0 173.2L976.1 173.2L978.1 173.2L980.1 173.1L982.1 173.1L984.1 173.1L986.1 173.1L988.1 173.0L990.1 173.0L992.1 173.0L994.1 172.9L996.1 172.9L998.1 172.9L1000.1 172.9L1002.1 172.8L1004.1 172.8L1006.1 172.8L1008.1 172.8L1010.1 172.8L1012.2 172.7L1014.2 172.7L1016.2 172.7L1018.2 172.7L1020.2 172.6L1022.2 172.6L1024.2 172.6L1026.2 172.6L1028.2 172.6L1030.2 172.5L1032.2 172.5L1034.2 172.5L1036.2 172.5L1038.2 172.4L1040.2 172.4L1042.2 172.4L1044.2 172.4L1046.3 172.4L1048.3 172.3L1050.3 172.3L1052.3 172.3L1054.3 172.3L1056.3 172.3L1058.3 172.2L1060.3 172.2L1062.3 172.2L1064.3 172.2L1066.3 172.2L1068.3 172.1L1070.3 172.1L1072.3 172.1L1074.3 172.1L1076.3 172.1L1078.4 172.0L1080.4 172.0L1082.4 172.0L1084.4 172.0L1086.4 172.0L1088.4 171.9L1090.4 171.9L1092.4 171.9L1094.4 171.9L1096.4 171.9L1098.4 171.8L1100.4 171.8L1102.4 171.8L1104.4 171.8L1106.4 171.8L1108.5 171.7L1110.5 171.7L1112.5 171.7L1114.5 171.7L1116.5 171.7L1118.5 171.6L1120.5 171.6L1122.5 171.6L1124.5 171.6L1126.5 171.5L1128.5 171.5L1130.5 171.5L1132.5 171.5L1134.5 171.4L1136.6 171.4L1138.6 171.4L1140.6 171.4L1142.6 171.3L1144.6 171.3L1146.6 171.3L1148.6 171.2L1150.6 171.2L1152.6 171.2L1154.6 171.1L1156.6 171.1L1158.6 171.1L1160.7 171.0L1167.6 170.9" fill="none" stroke="#0000ff" stroke-width="9.5" stroke-linejoin="round" stroke-linecap="butt"/>
<path d="M1162.9 166.1L1162.9 172.2L1162.9 174.2L1162.9 176.2L1162.9 178.2L1162.9 180.2L1162.9 182.2L1162.9 184.2L1162.9 186.2L1162.9 188.2L1162.9 190.2L1162.9 192.2L1162.9 194.2L1162.9 196.2L1162.9 198.2L1162.8 200.2L1162.8 202.2L1162.8 204.2L1162.8 206.2L1162.8 208.2L1162.8 210.2L1162.8 212.2L1162.7 214.2L1162.7 216.2L1162.7 218.2L1162.7 220.3L1162.7 222.3L1162.6 224.3L1162.6 226.3L1162.6 228.3L1162.6 230.3L1162.5 232.3L1162.5 234.3L1162.5 236.3L1162.4 238.3L1162.4 240.3L1162.4 242.3L1162.3 244.3L1162.3 246.3L1162.3 248.3L1162.2 250.3L1162.2 252.3L1162.2 254.3L1162.1 256.3L1162.1 258.3L1162.0 260.3L1162.0 262.3L1161.9 264.3L1161.9 266.3L1161.9 268.3L1161.8 270.3L1161.8 272.3L1161.7 274.3L1161.7 276.3L1161.6 278.3L1161.6 280.3L1161.5 282.3L1161.5 284.3L1161.4 286.3L1161.4 288.3L1161.3 290.4L1161.3 292.4L1161.2 294.4L1161.2 296.4L1161.1 298.4L1161.0 300.4L1161.0 302.4L1160.9 304.4L1160.9 306.4L1160.8 308.4L1160.7 310.4L1160.7 312.4L1160.6 314.4L1160.6 316.4L1160.5 318.4L1160.4 320.4L1160.4 322.4L1160.3 324.4L1160.2 326.4L1160.2 328.4L1160.1 330.4L1160.0 332.4L1160.0 334.4L1159.9 336.4L1159.8 338.4L1159.7 340.4L1159.7 342.4L1159.6 344.4L1159.5 346.4L1159.5 348.4L1159.4 350.4L1159.3 352.4L1159.2 354.4L1159.1 356.4L1159.1 358.4L1159.0 360.4L1158.9 362.4L1158.8 364.4L1158.7 366.4L1158.7 368.5L1158.6 370.5L1158.5 372.5L1158.4 374.5L1158.3 376.5L1158.2 378.5L1158.2 380.5L1158.1 382.5L1158.0 384.5L1157.9 386.5L1157.8 388.5L1157.7 390.5L1157.6 392.5L1157.5 394.5L1157.4 396.5L1157.4 398.5L1157.3 400.5L1157.2 402.5L1157.1 404.5L1157.0 406.5L1156.9 408.5L1156.8 410.5L1156.7 412.5L1156.6 414.5L1156.5 416.5L1156.3 418.5L1156.2 420.5L1156.1 422.5L1156.0 424.4L1155.9 426.4L1155.8 428.4L1155.6 430.4L1155.5 432.4L1155.4 434.4L1155.2 436.4L1155.1 438.4L1155.0 440.4L1154.8 442.4L1154.7 444.4L1154.5 446.4L1154.3 448.4L1154.2 450.3L1154.0 452.3L1153.8 454.3L1153.7 456.3L1153.5 458.3L1153.3 460.3L1153.1 462.3L1153.0 464.3L1152.8 466.3L1152.6 468.3L1152.4 470.2L1152.2 472.2L1152.0 474.2L1151.8 476.2L1151.6 478.2L1151.4 480.2L1151.2 482.2L1150.9 484.2L1150.7 486.1L1150.5 488.1L1150.3 490.1L1150.0 492.1L1149.8 494.1L1149.6 496.1L1149.3 498.0L1149.1 500.0L1148.8 502.0L1148.6 504.0L1148.3 505.9L1148.0 507.9L1147.8 509.9L1147.5 511.9L1147.2 513.8L1146.9 515.8L1146.6 517.7L1146.3 519.7L1146.0 521.7L1145.7 523.6L1145.3 525.5L1144.9 527.5L1144.6 529.4L1144.2 531.3L1143.8 533.2L1143.3 535.2L1142.9 537.1L1142.4 538.9L1141.9 540.8L1141.4 542.7L1140.9 544.6L1140.3 546.4L1139.7 548.3L1139.1 550.1L1138.5 551.9L1137.8 553.7L1137.1 555.5L1136.4 557.3L1135.6 559.0L1134.8 560.7L1134.0 562.5L1133.1 564.1L1132.2 565.8L1131.2 567.5L1130.3 569.1L1129.2 570.7L1128.2 572.3L1127.1 573.8L1126.0 575.4L1124.8 576.9L1123.6 578.4L1122.4 579.9L1121.2 581.3L1119.9 582.7L1118.6 584.1L1117.2 585.5L1115.9 586.9L1114.5 588.2L1113.1 589.5L1111.7 590.8L1110.2 592.0L1108.7 593.3L1107.2 594.5L1105.7 595.7L1104.2 596.8L1102.6 598.0L1101.0 599.1L1099.4 600.1L1097.8 601.2L1096.2 602.2L1094.5 603.2L1092.9 604.2L1091.2 605.1L1089.5 606.0L1087.8 606.9L1086.1 607.8L1084.3 608.6L1082.6 609.4L1080.8 610.2L1079.0 610.9L1077.2 611.6L1075.4 612.3L1073.6 613.0L1071.8 613.6L1069.9 614.2L1068.1 614.8L1066.2 615.4L1064.3 615.9L1062.4 616.5L1060.5 617.0L1058.6 617.5L1056.7 617.9L1054.8 618.4L1052.9 618.8L1051.0 619.3L1049.1 619.7L1047.1 620.1L1045.2 620.5L1043.2 620.9L1041.3 621.3L1039.3 621.7L1037.4 622.1L1035.4 622.5L1033.4 622.8L1031.5 623.2L1029.5 623.6L1027.6 623.9L1025.6 624.3L1023.6 624.7L1021.7 625.0L1019.7 625.4L1017.7 625.7L1015.8 626.1L1013.8 626.4L1011.8 626.8L1009.8 627.1L1007.9 627.4L1005.9 627.8L1003.9 628.1L1002.0 628.4L1000.0 628.8L998.0 629.1L996.0 629.4L994.1 629.8L992.1 630.1L990.1 630.4L988.1 630.7L986.2 631.0L984.2 631.3L982.2 631.7L980.2 632.0L978.3 632.3L976.3 632.6L974.3 632.9L972.3 633.2L970.4 633.5L968.4 633.8L966.4 634.1L964.4 634.4L962.4 634.7L960.5 635.0L958.5 635.3L956.5 635.6L954.5 635.8L952.5 636.1L950.6 636.4L948.6 636.7L946.6 637.0L944.6 637.2L942.6 637.5L940.6 637.8L938.7 638.1L936.7 638.3L934.7 638.6L932.7 638.9L930.7 639.1L928.7 639.4L926.8 639.7L924.8 639.9L922.8 640.2L920.8 640.4L918.8 640.7L916.8 641.0L914.9 641.2L912.9 641.5L910.9 641.7L908.9 641.9L906.9 642.2L904.9 642.4L902.9 642.7L901.0 642.9L899.0 643.1L897.0 643.4L895.0 643.6L893.0 643.8L891.0 644.1L889.0 644.3L887.0 644.5L885.1 644.7L883.1 644.9L881.1 645.2L879.1 645.4L877.1 645.6L875.1 645.8L873.1 646.0L871.1 646.2L869.1 646.4L867.1 646.6L865.2 646.8L863.2 647.0L861.2 647.2L859.2 647.4L857.2 647.6L855.2 647.8L853.2 648.0L851.2 648.2L849.2 648.4L847.2 648.6L845.2 648.8L843.2 648.9L841.3 649.1L839.3 649.3L837.3 649.5L835.3 649.6L833.3 649.8L831.3 650.0L829.3 650.2L827.3 650.3L825.3 650.5L823.3 650.7L821.3 650.8L819.3 651.0L817.3 651.2L815.3 651.3L813.3 651.5L811.3 651.6L809.3 651.8L807.3 651.9L805.3 652.1L803.3 652.2L801.4 652.4L799.4 652.5L797.4 652.7L795.4 652.8L793.4 653.0L791.4 653.1L789.4 653.3L787.4 653.4L785.4 653.5L783.4 653.7L781.4 653.8L779.4 653.9L777.4 654.1L775.4 654.2L773.4 654.3L771.4 654.5L769.4 654.6L767.4 654.7L765.4 654.9L763.4 655.0L761.4 655.1L759.4 655.2L757.4 655.3L755.4 655.5L753.4 655.6L751.4 655.7L749.4 655.8L747.4 655.9L745.4 656.0L743.4 656.2L741.4 656.3L739.4 656.4L737.4 656.5L735.4 656.6L733.4 656.7L731.4 656.8L729.4 656.9L727.4 657.0L725.4 657.1L723.4 657.2L721.4 657.3L719.4 657.5L717.4 657.6L715.4 657.7L713.4 657.8L711.4 657.9L709.4 658.0L707.4 658.0L705.4 658.1L703.4 658.2L701.4 658.3L699.4 658.4L697.4 658.5L695.4 658.6L693.4 658.7L691.4 658.8L689.4 658.9L687.4 659.0L685.4 659.1L683.4 659.2L681.4 659.2L679.4 659.3L677.4 659.4L675.4 659.5L673.4 659.6L671.4 659.7L669.4 659.8L667.4 659.8L665.4 659.9L663.4 660.0L661.3 660.1L659.3 660.2L657.3 660.3L655.3 660.3L653.3 660.4L651.3 660.5L649.3 660.6L647.3 660.7L645.3 660.7L643.3 660.8L641.3 660.9L639.3 661.0L637.3 661.1L635.3 661.1L633.3 661.2L631.3 661.3L629.3 661.4L627.3 661.4L625.3 661.5L623.3 661.6L621.3 661.7L619.3 661.7L617.3 661.8L615.3 661.9L613.3 662.0L611.3 662.0L609.3 662.1L607.3 662.2L605.3 662.2L603.3 662.3L601.3 662.4L599.3 662.5L597.2 662.5L595.2 662.6L593.2 662.7L591.2 662.8L589.2 662.8L587.2 662.9L585.2 663.0L583.2 663.0L581.2 663.1L579.2 663.2L577.2 663.2L575.2 663.3L573.2 663.4L571.2 663.5L569.2 663.5L567.2 663.6L565.2 663.7L563.2 663.7L561.2 663.8L559.2 663.9L557.2 663.9L555.2 664.0L553.2 664.1L551.2 664.1L549.2 664.2L547.2 664.3L545.1 664.3L543.1 664.4L541.1 664.5L539.1 664.6L537.1 664.6L535.1 664.7L533.1 664.8L531.1 664.8L529.1 664.9L527.1 665.0L525.1 665.0L523.1 665.1L521.1 665.2L519.1 665.2L517.1 665.3L515.1 665.4L513.1 665.4L511.1 665.5L509.1 665.6L507.1 665.6L505.1 665.7L503.1 665.8L501.1 665.8L499.0 665.9L497.0 666.0L495.0 666.0L493.0 666.1L491.0 666.2L489.0 666.3L487.0 666.3L485.0 666.4L483.0 666.5L481.0 666.5L479.0 666.6L477.0 666.7L475.0 666.7L473.0 666.8L471.0 666.9L469.0 667.0L467.0 667.0L465.0 667.1L463.0 667.2L461.0 667.2L459.0 667.3L457.0 667.4L454.9 667.4L452.9 667.5L450.9 667.6L448.9 667.7L446.9 667.7L444.9 667.8L442.9 667.9L440.9 668.0L438.9 668.0L436.9 668.1L434.9 668.2L432.9 668.3L430.9 668.3L428.9 668.4L426.9 668.5L424.9 668.6L422.9 668.7L420.9 668.7L418.8 668.8L416.8 668.9L414.8 669.0L412.8 669.1L405.9 669.5" fill="none" stroke="#0000ff" stroke-width="9.5" stroke-linejoin="round" stroke-linecap="butt"/>
<path d="M410.6 667.3L410.5 661.1L410.5 659.1L410.4 657.1L410.4 655.1L410.4 653.1L410.4 651.1L410.4 649.1L410.4 647.1L410.4 645.1L410.4 643.1L410.4 641.1L410.4 639.1L410.4 637.1L410.4 635.1L410.4 633.1L410.4 631.1L410.4 629.1L410.5 627.1L410.5 625.1L410.5 623.1L410.5 621.1L410.5 619.1L410.6 617.1L410.6 615.1L410.6 613.1L410.7 611.1L410.7 609.1L410.7 607.1L410.8 605.1L410.8 603.1L410.9 601.1L410.9 599.1L410.9 597.1L411.0 595.1L411.0 593.1L411.1 591.1L411.1 589.1L411.2 587.1L411.2 585.1L411.3 583.1L411.4 581.1L411.4 579.1L411.5 577.1L411.5 575.1L411.6 573.1L411.7 571.1L411.7 569.1L411.8 567.1L411.9 565.1L411.9 563.1L412.0 561.1L412.1 559.1L412.2 557.1L412.2 555.1L412.3 553.1L412.4 551.1L412.5 549.1L412.6 547.1L412.7 545.1L412.7 543.1L412.8 541.1L412.9 539.1L413.0 537.1L413.1 535.1L413.2 533.1L413.3 531.1L413.4 529.1L413.5 527.1L413.6 525.1L413.7 523.1L413.8 521.1L413.9 519.1L414.0 517.1L414.1 515.1L414.2 513.1L414.3 511.1L414.5 509.1L414.6 507.1L414.7 505.1L414.8 503.1L414.9 501.1L415.0 499.1L415.2 497.1L415.3 495.1L415.4 493.1L415.5 491.1L415.7 489.1L415.8 487.1L415.9 485.1L416.1 483.1L416.2 481.1L416.3 479.1L416.5 477.1L416.6 475.2L416.8 473.2L416.9 471.2L417.0 469.2L417.2 467.2L417.3 465.2L417.5 463.2L417.6 461.2L417.8 459.2L417.9 457.2L418.1 455.2L418.2 453.2L418.4 451.2L418.5 449.2L418.7 447.2L418.8 445.2L419.0 443.2L419.1 441.2L419.3 439.2L419.5 437.2L419.6 435.2L419.8 433.2L419.9 431.2L420.1 429.2L420.2 427.2L420.4 425.2L420.6 423.2L420.7 421.2L420.9 419.2L421.0 417.2L421.2 415.2L421.4 413.2L421.5 411.2L421.7 409.2L421.8 407.2L422.0 405.2L422.1 403.2L422.3 401.2L422.4 399.2L422.6 397.2L422.8 395.2L422.9 393.2L423.1 391.2L423.2 389.2L423.4 387.2L423.5 385.2L423.6 383.2L423.8 381.2L423.9 379.2L424.1 377.2L424.2 375.2L424.3 373.2L424.5 371.2L424.6 369.2L424.8 367.2L424.9 365.2L425.1 363.2L425.2 361.2L425.4 359.3L425.6 357.3L425.8 355.3L426.0 353.4L426.2 351.4L426.4 349.4L426.6 347.5L426.9 345.5L427.2 343.6L427.5 341.6L427.8 339.7L428.1 337.8L428.4 335.8L428.8 333.9L429.2 332.0L429.6 330.1L430.0 328.2L430.4 326.2L430.9 324.3L431.3 322.4L431.8 320.5L432.3 318.6L432.8 316.6L433.3 314.7L433.8 312.8L434.3 310.9L434.9 309.0L435.4 307.0L435.9 305.1L436.5 303.2L437.0 301.3L437.6 299.4L438.2 297.5L438.7 295.6L439.3 293.7L439.9 291.8L440.5 290.0L441.1 288.1L441.8 286.2L442.4 284.3L443.1 282.5L443.7 280.6L444.4 278.8L445.1 277.0L445.8 275.1L446.6 273.3L447.3 271.5L448.1 269.7L448.9 268.0L449.7 266.2L450.5 264.4L451.4 262.7L452.3 261.0L453.2 259.3L454.1 257.7L455.1 256.0L456.1 254.4L457.1 252.8L458.2 251.3L459.3 249.8L460.4 248.3L461.6 246.9L462.9 245.5L464.1 244.1L465.5 242.8L466.8 241.5L468.2 240.2L469.6 239.0L471.1 237.9L472.6 236.7L474.1 235.6L475.7 234.6L477.3 233.6L478.9 232.6L480.5 231.6L482.2 230.7L483.9 229.8L485.6 228.9L487.4 228.1L489.1 227.3L490.9 226.5L492.7 225.8L494.4 225.1L496.3 224.4L498.1 223.7L499.9 223.0L501.8 222.4L503.6 221.8L505.5 221.2L507.3 220.6L509.2 220.0L511.1 219.5L513.0 218.9L514.9 218.4L516.8 217.9L518.7 217.4L520.6 217.0L522.6 216.5L524.5 216.0L526.4 215.6L528.3 215.2L530.3 214.7L532.2 214.3L534.2 213.9L536.1 213.5L538.1 213.1L540.0 212.7L542.0 212.3L543.9 211.9L545.9 211.6L547.8 211.2L549.8 210.8L551.8 210.5L553.7 210.1L555.7 209.8L557.7 209.4L559.6 209.1L561.6 208.7L563.6 208.4L565.5 208.0L567.5 207.7L569.5 207.3L571.4 207.0L573.4 206.7L575.4 206.3L577.4 206.0L579.3 205.7L581.3 205.3L583.3 205.0L585.3 204.7L587.2 204.4L589.2 204.0L591.2 203.7L593.2 203.4L595.1 203.1L597.1 202.8L599.1 202.5L601.1 202.1L603.0 201.8L605.0 201.5L607.0 201.2L609.0 200.9L610.9 200.6L612.9 200.3L614.9 200.0L616.9 199.8L618.9 199.5L620.8 199.2L622.8 198.9L624.8 198.6L626.8 198.3L628.8 198.0L630.7 197.8L632.7 197.5L634.7 197.2L636.7 196.9L638.7 196.7L640.7 196.4L642.6 196.1L644.6 195.9L646.6 195.6L648.6 195.4L650.6 195.1L652.6 194.8L654.5 194.6L656.5 194.3L658.5 194.1L660.5 193.9L662.5 193.6L664.5 193.4L666.4 193.1L668.4 192.9L670.4 192.7L672.4 192.4L674.4 192.2L676.4 192.0L678.4 191.7L680.4 191.5L682.3 191.3L684.3 191.1L686.3 190.9L688.3 190.7L690.3 190.4L692.3 190.2L694.3 190.0L696.3 189.8L698.3 189.6L700.2 189.4L702.2 189.2L704.2 189.0L706.2 188.8L708.2 188.6L710.2 188.5L712.2 188.3L714.2 188.1L716.2 187.9L718.2 187.7L720.1 187.5L722.1 187.4L724.1 187.2L726.1 187.0L728.1 186.9L730.1 186.7L732.1 186.5L734.1 186.4L736.1 186.2L738.1 186.1L740.1 185.9L742.1 185.8L744.1 185.6L746.1 185.5L748.1 185.3L750.0 185.2L752.0 185.1L754.0 184.9L756.0 184.8L758.0 184.7L760.0 184.5L762.0 184.4L764.0 184.3L766.0 184.2L768.0 184.0L770.0 183.9L772.0 183.8L774.0 183.7L776.0 183.6L778.0 183.5L780.0 183.4L782.0 183.3L784.0 183.2L786.0 183.1L788.0 183.0L790.0 182.9L792.0 182.8L794.0 182.7L796.0 182.6L798.0 182.5L800.0 182.4L802.0 182.3L804.0 182.2L806.0 182.2L808.0 182.1L810.0 182.0L812.0 181.9L814.0 181.8L816.0 181.7L818.0 181.7L820.0 181.6L822.0 181.5L824.0 181.4L826.0 181.4L828.0 181.3L830.0 181.2L832.0 181.2L834.0 181.1L836.0 181.0L838.0 181.0L840.0 180.9L842.0 180.8L844.0 180.8L846.0 180.7L848.0 180.6L850.0 180.6L852.0 180.5L854.0 180.5L856.0 180.4L858.0 180.4L860.0 180.3L862.0 180.2L864.0 180.2L866.0 180.1L868.0 180.1L870.0 180.0L872.1 180.0L874.1 179.9L876.1 179.9L878.1 179.8L880.1 179.8L882.1 179.7L884.1 179.6L886.1 179.6L888.1 179.5L890.1 179.5L892.1 179.4L894.1 179.4L896.1 179.3L898.1 179.3L900.1 179.2L902.1 179.2L904.1 179.1L906.1 179.1L908.1 179.0L910.1 178.9L912.1 178.9L914.1 178.8L916.1 178.8L918.2 178.7L920.2 178.7L922.2 178.6L924.2 178.6L926.2 178.5L928.2 178.5L930.2 178.5L932.2 178.4L934.2 178.4L936.2 178.3L938.2 178.3L940.2 178.3L942.2 178.2L944.2 178.2L946.2 178.2L948.2 178.2L950.2 178.1L952.2 178.1L954.2 178.1L956.2 178.1L958.2 178.1L960.2 178.0L962.2 178.0L964.2 178.0L966.2 178.0L968.2 178.0L970.2 178.0L972.2 178.0L974.2 178.0L976.2 177.9L978.2 177.9L980.2 177.9L982.2 177.9L984.2 177.9L986.2 177.9L988.2 177.9L990.2 177.9L992.2 177.9L994.2 177.9L996.2 177.9L998.2 177.9L1000.2 177.9L1002.2 177.9L1004.3 177.9L1006.3 177.9L1008.3 177.9L1010.3 177.9L1012.3 177.9L1014.3 177.9L1016.3 177.9L1018.3 177.9L1020.3 177.9L1022.3 177.9L1024.3 177.9L1026.3 177.9L1028.3 177.9L1030.3 177.9L1032.3 177.9L1034.3 178.0L1036.3 178.0L1038.3 178.0L1040.3 178.0L1042.3 178.0L1044.3 178.0L1046.3 178.0L1048.4 178.0L1050.4 178.0L1052.4 178.0L1054.4 178.0L1056.4 178.0L1058.4 178.0L1060.4 178.0L1062.4 178.0L1064.4 178.1L1066.4 178.1L1068.4 178.1L1070.4 178.1L1072.4 178.1L1074.4 178.1L1076.4 178.1L1078.4 178.1L1080.4 178.1L1082.4 178.1L1084.5 178.1L1086.5 178.1L1088.5 178.1L1090.5 178.1L1092.5 178.1L1094.5 178.1L1096.5 178.2L1098.5 178.2L1100.5 178.2L1102.5 178.2L1104.5 178.2L1106.5 178.2L1108.5 178.2L1110.5 178.2L1112.5 178.2L1114.5 178.2L1116.5 178.2L1118.6 178.2L1120.6 178.2L1122.6 178.2L1124.6 178.2L1126.6 178.2L1128.6 178.2L1130.6 178.2L1132.6 178.2L1134.6 178.2L1136.6 178.2L1138.6 178.2L1140.6 178.1L1142.6 178.1L1144.7 178.1L1146.7 178.1L1148.7 178.1L1150.7 178.1L1152.7 178.1L1154.7 178.1L1156.7 178.0L1158.7 178.0L1160.7 178.0L1167.6 177.9" fill="none" stroke="#008080" stroke-width="9.5" stroke-linejoin="round" stroke-linecap="butt"/>
<path d="M1162.9 173.1L1162.9 179.1L1162.9 181.1L1162.9 183.1L1162.9 185.1L1162.9 187.1L1162.9 189.1L1162.9 191.1L1162.9 193.1L1162.8 195.1L1162.8 197.1L1162.8 199.1L1162.8 201.1L1162.8 203.1L1162.7 205.1L1162.7 207.1L1162.7 209.1L1162.7 211.1L1162.6 213.1L1162.6 215.1L1162.6 217.1L1162.5 219.1L1162.5 221.1L1162.4 223.2L1162.4 225.2L1162.4 227.2L1162.3 229.2L1162.3 231.2L1162.2 233.2L1162.2 235.2L1162.1 237.2L1162.1 239.2L1162.0 241.2L1161.9 243.2L1161.9 245.2L1161.8 247.2L1161.8 249.2L1161.7 251.2L1161.6 253.2L1161.6 255.2L1161.5 257.2L1161.4 259.2L1161.4 261.2L1161.3 263.2L1161.2 265.2L1161.2 267.2L1161.1 269.2L1161.0 271.2L1160.9 273.2L1160.8 275.2L1160.8 277.2L1160.7 279.2L1160.6 281.2L1160.5 283.2L1160.4 285.2L1160.3 287.2L1160.3 289.2L1160.2 291.2L1160.1 293.2L1160.0 295.2L1159.9 297.2L1159.8 299.2L1159.7 301.2L1159.6 303.2L1159.5 305.2L1159.4 307.2L1159.3 309.2L1159.2 311.2L1159.1 313.2L1159.0 315.2L1158.9 317.2L1158.8 319.2L1158.7 321.2L1158.6 323.2L1158.5 325.2L1158.4 327.2L1158.3 329.2L1158.2 331.2L1158.1 333.2L1158.0 335.2L1157.9 337.2L1157.7 339.2L1157.6 341.2L1157.5 343.2L1157.4 345.2L1157.3 347.2L1157.2 349.2L1157.0 351.2L1156.9 353.2L1156.8 355.2L1156.7 357.2L1156.6 359.2L1156.4 361.2L1156.3 363.2L1156.2 365.2L1156.1 367.2L1156.0 369.2L1155.8 371.2L1155.7 373.2L1155.6 375.2L1155.4 377.2L1155.3 379.2L1155.2 381.2L1155.1 383.2L1154.9 385.2L1154.8 387.2L1154.7 389.2L1154.5 391.2L1154.4 393.2L1154.3 395.2L1154.1 397.2L1154.0 399.2L1153.9 401.2L1153.7 403.2L1153.6 405.2L1153.4 407.2L1153.3 409.2L1153.2 411.2L1153.0 413.2L1152.9 415.2L1152.7 417.2L1152.6 419.2L1152.4 421.2L1152.3 423.2L1152.1 425.2L1151.9 427.2L1151.8 429.2L1151.6 431.2L1151.4 433.2L1151.3 435.2L1151.1 437.1L1150.9 439.1L1150.7 441.1L1150.5 443.1L1150.3 445.1L1150.1 447.1L1149.9 449.1L1149.7 451.1L1149.5 453.1L1149.3 455.0L1149.1 457.0L1148.9 459.0L1148.7 461.0L1148.5 463.0L1148.2 465.0L1148.0 467.0L1147.8 468.9L1147.5 470.9L1147.3 472.9L1147.1 474.9L1146.8 476.9L1146.6 478.8L1146.3 480.8L1146.1 482.8L1145.8 484.8L1145.5 486.8L1145.2 488.7L1145.0 490.7L1144.7 492.7L1144.4 494.7L1144.1 496.6L1143.8 498.6L1143.5 500.6L1143.2 502.5L1142.9 504.5L1142.6 506.5L1142.3 508.4L1141.9 510.4L1141.6 512.4L1141.3 514.3L1140.9 516.3L1140.5 518.2L1140.2 520.1L1139.8 522.1L1139.4 524.0L1138.9 525.9L1138.5 527.8L1138.1 529.7L1137.6 531.6L1137.1 533.5L1136.6 535.4L1136.1 537.3L1135.5 539.2L1134.9 541.0L1134.3 542.9L1133.7 544.7L1133.0 546.5L1132.4 548.3L1131.7 550.1L1130.9 551.9L1130.1 553.6L1129.3 555.4L1128.5 557.1L1127.6 558.8L1126.7 560.4L1125.8 562.1L1124.8 563.7L1123.8 565.3L1122.7 566.9L1121.7 568.5L1120.5 570.0L1119.4 571.5L1118.2 573.0L1117.0 574.4L1115.7 575.9L1114.4 577.3L1113.1 578.7L1111.7 580.0L1110.4 581.4L1109.0 582.7L1107.5 584.0L1106.1 585.2L1104.6 586.5L1103.1 587.7L1101.6 588.9L1100.1 590.0L1098.5 591.1L1096.9 592.3L1095.3 593.3L1093.7 594.4L1092.1 595.4L1090.5 596.4L1088.8 597.4L1087.1 598.3L1085.4 599.2L1083.7 600.1L1082.0 601.0L1080.2 601.9L1078.5 602.7L1076.7 603.5L1074.9 604.2L1073.1 605.0L1071.3 605.7L1069.5 606.4L1067.7 607.0L1065.9 607.7L1064.0 608.3L1062.2 608.9L1060.3 609.5L1058.4 610.0L1056.6 610.5L1054.7 611.0L1052.8 611.5L1050.9 612.0L1048.9 612.5L1047.0 612.9L1045.1 613.3L1043.1 613.8L1041.2 614.2L1039.2 614.6L1037.3 615.0L1035.3 615.4L1033.4 615.8L1031.4 616.2L1029.5 616.6L1027.5 617.0L1025.6 617.4L1023.6 617.8L1021.6 618.2L1019.7 618.5L1017.7 618.9L1015.7 619.3L1013.8 619.7L1011.8 620.0L1009.9 620.4L1007.9 620.7L1005.9 621.1L1003.9 621.5L1002.0 621.8L1000.0 622.2L998.0 622.5L996.1 622.9L994.1 623.2L992.1 623.6L990.2 623.9L988.2 624.2L986.2 624.6L984.2 624.9L982.3 625.2L980.3 625.6L978.3 625.9L976.3 626.2L974.4 626.6L972.4 626.9L970.4 627.2L968.4 627.5L966.5 627.8L964.5 628.1L962.5 628.5L960.5 628.8L958.6 629.1L956.6 629.4L954.6 629.7L952.6 630.0L950.7 630.3L948.7 630.6L946.7 630.9L944.7 631.2L942.7 631.5L940.8 631.8L938.8 632.0L936.8 632.3L934.8 632.6L932.8 632.9L930.8 633.2L928.9 633.4L926.9 633.7L924.9 634.0L922.9 634.3L920.9 634.5L919.0 634.8L917.0 635.1L915.0 635.3L913.0 635.6L911.0 635.8L909.0 636.1L907.1 636.4L905.1 636.6L903.1 636.9L901.1 637.1L899.1 637.3L897.1 637.6L895.1 637.8L893.2 638.1L891.2 638.3L889.2 638.5L887.2 638.8L885.2 639.0L883.2 639.2L881.2 639.4L879.2 639.7L877.2 639.9L875.3 640.1L873.3 640.3L871.3 640.5L869.3 640.7L867.3 640.9L865.3 641.1L863.3 641.3L861.3 641.6L859.3 641.8L857.3 642.0L855.4 642.1L853.4 642.3L851.4 642.5L849.4 642.7L847.4 642.9L845.4 643.1L843.4 643.3L841.4 643.5L839.4 643.6L837.4 643.8L835.4 644.0L833.4 644.2L831.4 644.4L829.4 644.5L827.4 644.7L825.5 644.9L823.5 645.0L821.5 645.2L819.5 645.4L817.5 645.5L815.5 645.7L813.5 645.8L811.5 646.0L809.5 646.1L807.5 646.3L805.5 646.4L803.5 646.6L801.5 646.7L799.5 646.9L797.5 647.0L795.5 647.2L793.5 647.3L791.5 647.5L789.5 647.6L787.5 647.7L785.5 647.9L783.5 648.0L781.5 648.1L779.5 648.3L777.5 648.4L775.5 648.5L773.5 648.6L771.5 648.8L769.5 648.9L767.5 649.0L765.5 649.1L763.5 649.3L761.5 649.4L759.5 649.5L757.5 649.6L755.5 649.7L753.5 649.8L751.5 650.0L749.5 650.1L747.5 650.2L745.5 650.3L743.5 650.4L741.5 650.5L739.5 650.6L737.5 650.7L735.5 650.8L733.5 650.9L731.5 651.0L729.5 651.1L727.5 651.2L725.5 651.3L723.5 651.4L721.5 651.5L719.5 651.6L717.5 651.7L715.5 651.8L713.5 651.9L711.5 652.0L709.5 652.1L707.5 652.2L705.5 652.3L703.5 652.4L701.5 652.5L699.5 652.6L697.5 652.6L695.5 652.7L693.5 652.8L691.5 652.9L689.5 653.0L687.5 653.1L685.5 653.2L683.5 653.2L681.5 653.3L679.5 653.4L677.5 653.5L675.5 653.6L673.5 653.7L671.5 653.7L669.5 653.8L667.5 653.9L665.4 654.0L663.4 654.1L661.4 654.1L659.4 654.2L657.4 654.3L655.4 654.4L653.4 654.4L651.4 654.5L649.4 654.6L647.4 654.7L645.4 654.7L643.4 654.8L641.4 654.9L639.4 655.0L637.4 655.0L635.4 655.1L633.4 655.2L631.4 655.2L629.4 655.3L627.4 655.4L625.4 655.5L623.4 655.5L621.4 655.6L619.4 655.7L617.4 655.7L615.4 655.8L613.3 655.9L611.3 656.0L609.3 656.0L607.3 656.1L605.3 656.2L603.3 656.2L601.3 656.3L599.3 656.4L597.3 656.4L595.3 656.5L593.3 656.6L591.3 656.7L589.3 656.7L587.3 656.8L585.3 656.9L583.3 656.9L581.3 657.0L579.3 657.1L577.3 657.1L575.3 657.2L573.3 657.3L571.2 657.3L569.2 657.4L567.2 657.5L565.2 657.5L563.2 657.6L561.2 657.7L559.2 657.7L557.2 657.8L555.2 657.9L553.2 657.9L551.2 658.0L549.2 658.1L547.2 658.1L545.2 658.2L543.2 658.3L541.2 658.3L539.2 658.4L537.2 658.5L535.2 658.5L533.2 658.6L531.2 658.7L529.1 658.7L527.1 658.8L525.1 658.9L523.1 658.9L521.1 659.0L519.1 659.1L517.1 659.1L515.1 659.2L513.1 659.3L511.1 659.3L509.1 659.4L507.1 659.5L505.1 659.5L503.1 659.6L501.1 659.6L499.1 659.7L497.1 659.8L495.1 659.8L493.1 659.9L491.1 660.0L489.1 660.0L487.0 660.1L485.0 660.2L483.0 660.2L481.0 660.3L479.0 660.3L477.0 660.4L475.0 660.5L473.0 660.5L471.0 660.6L469.0 660.7L467.0 660.7L465.0 660.8L463.0 660.9L461.0 660.9L459.0 661.0L457.0 661.0L455.0 661.1L453.0 661.2L451.0 661.2L449.0 661.3L447.0 661.3L444.9 661.4L442.9 661.5L440.9 661.5L438.9 661.6L436.9 661.7L434.9 661.7L432.9 661.8L430.9 661.8L428.9 661.9L426.9 662.0L424.9 662.0L422.9 662.1L420.9 662.1L418.9 662.2L416.9 662.2L414.9 662.3L412.9 662.4L405.8 662.6" fill="none" stroke="#008080" stroke-width="9.5" stroke-linejoin="round" stroke-linecap="butt"/>
<path d="M410.8 664.7L410.7 658.5L410.6 656.5L410.6 654.5L410.5 652.5L410.4 650.5L410.4 648.5L410.3 646.5L410.3 644.4L410.3 642.4L410.2 640.4L410.2 638.4L410.2 636.4L410.2 634.4L410.3 632.4L410.3 630.4L410.3 628.4L410.3 626.4L410.4 624.4L410.4 622.4L410.5 620.4L410.5 618.4L410.6 616.4L410.6 614.4L410.7 612.3L410.8 610.3L410.9 608.3L410.9 606.3L411.0 604.3L411.1 602.3L411.2 600.3L411.3 598.3L411.4 596.3L411.5 594.3L411.6 592.3L411.7 590.3L411.9 588.3L412.0 586.3L412.1 584.3L412.2 582.3L412.3 580.3L412.5 578.3L412.6 576.3L412.7 574.3L412.9 572.3L413.0 570.3L413.1 568.3L413.3 566.3L413.4 564.3L413.5 562.3L413.7 560.3L413.8 558.3L413.9 556.3L414.1 554.3L414.2 552.2L414.4 550.2L414.5 548.2L414.6 546.2L414.8 544.2L414.9 542.2L415.1 540.2L415.2 538.2L415.3 536.2L415.5 534.2L415.6 532.2L415.7 530.2L415.9 528.2L416.0 526.2L416.1 524.2L416.3 522.2L416.4 520.2L416.5 518.2L416.6 516.2L416.8 514.2L416.9 512.2L417.0 510.2L417.1 508.2L417.3 506.2L417.4 504.2L417.5 502.2L417.6 500.2L417.7 498.2L417.8 496.2L418.0 494.2L418.1 492.2L418.2 490.2L418.3 488.2L418.4 486.2L418.5 484.2L418.6 482.2L418.8 480.1L418.9 478.1L419.0 476.1L419.1 474.1L419.2 472.1L419.3 470.1L419.4 468.1L419.6 466.1L419.7 464.1L419.8 462.1L419.9 460.1L420.0 458.1L420.2 456.1L420.3 454.1L420.4 452.1L420.5 450.1L420.7 448.1L420.8 446.1L420.9 444.1L421.1 442.1L421.2 440.1L421.3 438.1L421.5 436.1L421.6 434.1L421.8 432.1L421.9 430.1L422.1 428.1L422.2 426.1L422.4 424.1L422.5 422.1L422.7 420.1L422.9 418.1L423.0 416.1L423.2 414.1L423.4 412.1L423.6 410.1L423.7 408.1L423.9 406.1L424.1 404.1L424.3 402.1L424.5 400.1L424.7 398.1L424.9 396.1L425.1 394.1L425.3 392.1L425.6 390.1L425.8 388.1L426.0 386.1L426.3 384.1L426.5 382.1L426.8 380.2L427.0 378.2L427.3 376.2L427.6 374.2L427.8 372.2L428.1 370.2L428.4 368.2L428.7 366.2L429.0 364.3L429.3 362.3L429.7 360.3L430.0 358.3L430.3 356.3L430.7 354.4L431.0 352.4L431.4 350.4L431.8 348.4L432.1 346.5L432.5 344.5L432.9 342.5L433.3 340.6L433.7 338.6L434.2 336.6L434.6 334.7L435.0 332.7L435.5 330.8L436.0 328.8L436.4 326.9L436.9 324.9L437.4 323.0L437.9 321.0L438.5 319.1L439.0 317.2L439.5 315.2L440.1 313.3L440.7 311.4L441.2 309.5L441.8 307.5L442.4 305.6L443.1 303.7L443.7 301.8L444.4 299.9L445.0 298.0L445.7 296.1L446.4 294.3L447.1 292.4L447.8 290.5L448.5 288.6L449.3 286.8L450.1 284.9L450.9 283.1L451.7 281.2L452.5 279.4L453.3 277.6L454.2 275.8L455.1 274.0L456.0 272.2L457.0 270.5L458.0 268.7L459.0 267.0L460.0 265.3L461.1 263.6L462.2 261.9L463.4 260.3L464.6 258.7L465.8 257.1L467.1 255.5L468.4 254.0L469.8 252.5L471.2 251.1L472.6 249.7L474.1 248.4L475.6 247.0L477.2 245.8L478.8 244.5L480.4 243.3L482.0 242.2L483.7 241.1L485.4 240.0L487.1 239.0L488.8 238.0L490.6 237.0L492.4 236.0L494.2 235.1L496.0 234.3L497.8 233.4L499.6 232.6L501.4 231.8L503.3 231.0L505.1 230.2L507.0 229.5L508.9 228.7L510.8 228.0L512.6 227.3L514.5 226.7L516.4 226.0L518.3 225.4L520.2 224.7L522.1 224.1L524.0 223.5L526.0 222.9L527.9 222.3L529.8 221.7L531.7 221.2L533.7 220.6L535.6 220.1L537.5 219.5L539.5 219.0L541.4 218.5L543.3 218.0L545.3 217.5L547.2 217.0L549.2 216.5L551.1 216.0L553.1 215.6L555.0 215.1L557.0 214.6L558.9 214.2L560.9 213.7L562.9 213.3L564.8 212.9L566.8 212.4L568.7 212.0L570.7 211.6L572.7 211.2L574.6 210.8L576.6 210.4L578.6 210.0L580.5 209.6L582.5 209.2L584.5 208.9L586.4 208.5L588.4 208.1L590.4 207.8L592.4 207.4L594.3 207.0L596.3 206.7L598.3 206.4L600.3 206.0L602.3 205.7L604.2 205.3L606.2 205.0L608.2 204.7L610.2 204.4L612.2 204.1L614.1 203.8L616.1 203.4L618.1 203.1L620.1 202.8L622.1 202.5L624.1 202.3L626.0 202.0L628.0 201.7L630.0 201.4L632.0 201.1L634.0 200.8L636.0 200.6L638.0 200.3L640.0 200.0L641.9 199.8L643.9 199.5L645.9 199.2L647.9 199.0L649.9 198.7L651.9 198.5L653.9 198.2L655.9 198.0L657.9 197.7L659.9 197.5L661.9 197.3L663.9 197.0L665.8 196.8L667.8 196.6L669.8 196.3L671.8 196.1L673.8 195.9L675.8 195.7L677.8 195.5L679.8 195.2L681.8 195.0L683.8 194.8L685.8 194.6L687.8 194.4L689.8 194.2L691.8 194.0L693.8 193.8L695.8 193.6L697.8 193.4L699.8 193.2L701.8 193.0L703.8 192.8L705.8 192.7L707.8 192.5L709.8 192.3L711.8 192.1L713.8 191.9L715.8 191.7L717.8 191.6L719.8 191.4L721.8 191.2L723.8 191.1L725.8 190.9L727.8 190.7L729.8 190.6L731.8 190.4L733.8 190.2L735.8 190.1L737.8 189.9L739.8 189.8L741.8 189.6L743.8 189.5L745.8 189.3L747.8 189.2L749.8 189.0L751.8 188.9L753.8 188.7L755.8 188.6L757.8 188.4L759.8 188.3L761.8 188.2L763.8 188.0L765.8 187.9L767.8 187.8L769.8 187.6L771.8 187.5L773.8 187.4L775.8 187.2L777.8 187.1L779.8 187.0L781.8 186.9L783.8 186.8L785.8 186.6L787.8 186.5L789.8 186.4L791.8 186.3L793.8 186.2L795.8 186.1L797.8 186.0L799.8 185.8L801.8 185.7L803.8 185.6L805.8 185.5L807.8 185.4L809.8 185.3L811.9 185.2L813.9 185.1L815.9 185.0L817.9 184.9L819.9 184.8L821.9 184.8L823.9 184.7L825.9 184.6L827.9 184.5L829.9 184.4L831.9 184.3L833.9 184.2L835.9 184.2L837.9 184.1L839.9 184.0L841.9 183.9L843.9 183.8L845.9 183.8L847.9 183.7L849.9 183.6L852.0 183.6L854.0 183.5L856.0 183.4L858.0 183.4L860.0 183.3L862.0 183.2L864.0 183.2L866.0 183.1L868.0 183.0L870.0 183.0L872.0 182.9L874.0 182.9L876.0 182.8L878.0 182.8L880.0 182.7L882.0 182.7L884.0 182.6L886.1 182.6L888.1 182.5L890.1 182.5L892.1 182.5L894.1 182.4L896.1 182.4L898.1 182.4L900.1 182.3L902.1 182.3L904.1 182.3L906.1 182.2L908.1 182.2L910.1 182.2L912.1 182.2L914.1 182.1L916.2 182.1L918.2 182.1L920.2 182.1L922.2 182.1L924.2 182.1L926.2 182.0L928.2 182.0L930.2 182.0L932.2 182.0L934.2 182.0L936.2 182.0L938.2 182.0L940.2 182.0L942.2 182.0L944.2 182.0L946.3 181.9L948.3 181.9L950.3 181.9L952.3 181.9L954.3 181.9L956.3 181.9L958.3 181.9L960.3 181.9L962.3 181.9L964.3 181.9L966.3 181.9L968.3 181.9L970.3 181.9L972.3 181.9L974.3 181.9L976.4 181.9L978.4 181.9L980.4 181.9L982.4 181.8L984.4 181.8L986.4 181.8L988.4 181.8L990.4 181.8L992.4 181.8L994.4 181.8L996.4 181.8L998.4 181.8L1000.4 181.8L1002.4 181.7L1004.4 181.7L1006.5 181.7L1008.5 181.7L1010.5 181.7L1012.5 181.7L1014.5 181.6L1016.5 181.6L1018.5 181.6L1020.5 181.6L1022.5 181.6L1024.5 181.5L1026.5 181.5L1028.5 181.5L1030.5 181.5L1032.5 181.5L1034.5 181.4L1036.6 181.4L1038.6 181.4L1040.6 181.4L1042.6 181.3L1044.6 181.3L1046.6 181.3L1048.6 181.2L1050.6 181.2L1052.6 181.2L1054.6 181.1L1056.6 181.1L1058.6 181.1L1060.6 181.1L1062.6 181.0L1064.6 181.0L1066.7 181.0L1068.7 180.9L1070.7 180.9L1072.7 180.8L1074.7 180.8L1076.7 180.8L1078.7 180.7L1080.7 180.7L1082.7 180.7L1084.7 180.6L1086.7 180.6L1088.7 180.6L1090.7 180.5L1092.7 180.5L1094.7 180.5L1096.7 180.4L1098.8 180.4L1100.8 180.4L1102.8 180.3L1104.8 180.3L1106.8 180.3L1108.8 180.3L1110.8 180.2L1112.8 180.2L1114.8 180.2L1116.8 180.1L1118.8 180.1L1120.8 180.1L1122.8 180.1L1124.8 180.0L1126.8 180.0L1128.9 180.0L1130.9 180.0L1132.9 180.0L1134.9 180.0L1136.9 180.0L1138.9 180.0L1140.9 180.0L1142.9 180.0L1144.9 180.0L1146.9 180.0L1148.9 180.0L1150.9 180.0L1152.9 180.1L1154.9 180.1L1156.9 180.2L1158.9 180.3L1160.9 180.4L1167.4 180.8" fill="none" stroke="#ff00ff" stroke-width="9.3" stroke-linejoin="round" stroke-linecap="butt"/>
<path d="M1162.8 176.1L1162.9 182.9L1163.0 184.9L1163.0 186.9L1163.1 188.9L1163.1 190.9L1163.2 192.9L1163.2 194.9L1163.2 196.9L1163.3 198.9L1163.3 200.9L1163.3 202.9L1163.3 204.9L1163.2 206.9L1163.2 208.9L1163.2 211.0L1163.2 213.0L1163.1 215.0L1163.1 217.0L1163.0 219.0L1163.0 221.0L1162.9 223.0L1162.9 225.0L1162.8 227.0L1162.7 229.0L1162.6 231.0L1162.6 233.0L1162.5 235.0L1162.4 237.0L1162.3 239.0L1162.2 241.0L1162.1 243.0L1162.0 245.0L1161.9 247.0L1161.8 249.0L1161.7 251.0L1161.6 253.0L1161.5 255.0L1161.4 257.0L1161.3 259.0L1161.1 261.0L1161.0 263.0L1160.9 265.0L1160.8 267.0L1160.7 269.0L1160.5 271.0L1160.4 273.0L1160.3 275.0L1160.2 277.0L1160.1 279.0L1159.9 281.1L1159.8 283.1L1159.7 285.1L1159.6 287.1L1159.4 289.1L1159.3 291.1L1159.2 293.1L1159.1 295.1L1158.9 297.1L1158.8 299.1L1158.7 301.1L1158.6 303.1L1158.5 305.1L1158.3 307.1L1158.2 309.1L1158.1 311.1L1158.0 313.1L1157.9 315.1L1157.8 317.1L1157.6 319.1L1157.5 321.1L1157.4 323.1L1157.3 325.1L1157.2 327.1L1157.0 329.1L1156.9 331.1L1156.8 333.1L1156.7 335.1L1156.5 337.1L1156.4 339.1L1156.3 341.1L1156.2 343.1L1156.1 345.1L1155.9 347.1L1155.8 349.1L1155.7 351.1L1155.5 353.1L1155.4 355.1L1155.3 357.1L1155.2 359.1L1155.0 361.1L1154.9 363.1L1154.8 365.1L1154.6 367.1L1154.5 369.1L1154.3 371.1L1154.2 373.1L1154.1 375.1L1153.9 377.1L1153.8 379.1L1153.6 381.1L1153.5 383.1L1153.3 385.1L1153.2 387.1L1153.0 389.1L1152.8 391.1L1152.7 393.1L1152.5 395.1L1152.4 397.1L1152.2 399.1L1152.0 401.1L1151.9 403.1L1151.7 405.1L1151.5 407.1L1151.3 409.1L1151.1 411.1L1151.0 413.1L1150.8 415.1L1150.6 417.1L1150.4 419.1L1150.2 421.1L1150.0 423.1L1149.8 425.1L1149.6 427.0L1149.4 429.0L1149.2 431.0L1149.0 433.0L1148.7 435.0L1148.5 437.0L1148.3 439.0L1148.1 441.0L1147.8 443.0L1147.6 445.0L1147.4 447.0L1147.1 449.0L1146.9 451.0L1146.6 452.9L1146.4 454.9L1146.1 456.9L1145.8 458.9L1145.6 460.9L1145.3 462.9L1145.0 464.9L1144.7 466.9L1144.4 468.8L1144.1 470.8L1143.8 472.8L1143.5 474.8L1143.2 476.8L1142.8 478.7L1142.5 480.7L1142.2 482.7L1141.8 484.7L1141.4 486.6L1141.1 488.6L1140.7 490.6L1140.3 492.5L1139.9 494.5L1139.5 496.5L1139.1 498.4L1138.6 500.4L1138.2 502.3L1137.8 504.3L1137.3 506.2L1136.8 508.2L1136.3 510.1L1135.8 512.1L1135.3 514.0L1134.8 516.0L1134.2 517.9L1133.7 519.8L1133.1 521.7L1132.5 523.6L1131.9 525.6L1131.3 527.5L1130.7 529.4L1130.0 531.3L1129.3 533.2L1128.6 535.0L1127.9 536.9L1127.2 538.8L1126.5 540.6L1125.7 542.5L1124.9 544.3L1124.1 546.2L1123.2 548.0L1122.4 549.8L1121.5 551.6L1120.6 553.4L1119.6 555.1L1118.7 556.9L1117.7 558.6L1116.6 560.4L1115.6 562.1L1114.5 563.8L1113.4 565.4L1112.3 567.1L1111.1 568.7L1109.9 570.3L1108.6 571.9L1107.4 573.4L1106.1 575.0L1104.7 576.5L1103.4 577.9L1101.9 579.3L1100.5 580.7L1099.0 582.1L1097.5 583.4L1096.0 584.7L1094.4 585.9L1092.8 587.1L1091.2 588.3L1089.5 589.4L1087.8 590.5L1086.1 591.5L1084.3 592.5L1082.6 593.4L1080.8 594.4L1079.0 595.2L1077.2 596.1L1075.3 596.9L1073.5 597.7L1071.6 598.5L1069.8 599.2L1067.9 599.9L1066.0 600.6L1064.1 601.3L1062.2 601.9L1060.3 602.6L1058.4 603.2L1056.5 603.8L1054.6 604.4L1052.7 605.0L1050.8 605.5L1048.8 606.1L1046.9 606.6L1044.9 607.1L1043.0 607.6L1041.1 608.1L1039.1 608.6L1037.2 609.1L1035.2 609.5L1033.3 610.0L1031.3 610.4L1029.3 610.8L1027.4 611.3L1025.4 611.7L1023.5 612.1L1021.5 612.5L1019.5 612.9L1017.6 613.3L1015.6 613.7L1013.6 614.1L1011.7 614.4L1009.7 614.8L1007.7 615.2L1005.8 615.6L1003.8 615.9L1001.8 616.3L999.8 616.7L997.9 617.1L995.9 617.4L993.9 617.8L992.0 618.2L990.0 618.5L988.0 618.9L986.0 619.2L984.1 619.6L982.1 619.9L980.1 620.3L978.1 620.6L976.2 621.0L974.2 621.3L972.2 621.7L970.2 622.0L968.3 622.4L966.3 622.7L964.3 623.0L962.3 623.4L960.4 623.7L958.4 624.0L956.4 624.4L954.4 624.7L952.4 625.0L950.5 625.3L948.5 625.7L946.5 626.0L944.5 626.3L942.6 626.6L940.6 626.9L938.6 627.2L936.6 627.6L934.6 627.9L932.6 628.2L930.7 628.5L928.7 628.8L926.7 629.1L924.7 629.4L922.7 629.7L920.8 630.0L918.8 630.3L916.8 630.6L914.8 630.8L912.8 631.1L910.8 631.4L908.8 631.7L906.9 632.0L904.9 632.2L902.9 632.5L900.9 632.8L898.9 633.1L896.9 633.3L894.9 633.6L892.9 633.9L891.0 634.1L889.0 634.4L887.0 634.6L885.0 634.9L883.0 635.1L881.0 635.4L879.0 635.6L877.0 635.9L875.0 636.1L873.1 636.3L871.1 636.6L869.1 636.8L867.1 637.0L865.1 637.3L863.1 637.5L861.1 637.7L859.1 637.9L857.1 638.2L855.1 638.4L853.1 638.6L851.1 638.8L849.1 639.0L847.1 639.2L845.2 639.4L843.2 639.6L841.2 639.8L839.2 640.0L837.2 640.2L835.2 640.4L833.2 640.6L831.2 640.8L829.2 641.0L827.2 641.2L825.2 641.4L823.2 641.5L821.2 641.7L819.2 641.9L817.2 642.1L815.2 642.3L813.2 642.4L811.2 642.6L809.2 642.8L807.2 642.9L805.2 643.1L803.2 643.3L801.2 643.4L799.2 643.6L797.2 643.7L795.2 643.9L793.2 644.0L791.2 644.2L789.2 644.3L787.2 644.5L785.2 644.6L783.2 644.8L781.2 644.9L779.2 645.1L777.2 645.2L775.2 645.3L773.2 645.5L771.2 645.6L769.2 645.7L767.2 645.9L765.2 646.0L763.2 646.1L761.2 646.3L759.2 646.4L757.2 646.5L755.2 646.6L753.2 646.8L751.2 646.9L749.2 647.0L747.2 647.1L745.2 647.2L743.2 647.3L741.2 647.5L739.2 647.6L737.2 647.7L735.2 647.8L733.2 647.9L731.2 648.0L729.2 648.1L727.2 648.2L725.2 648.3L723.2 648.4L721.2 648.5L719.2 648.6L717.2 648.7L715.2 648.8L713.2 648.9L711.2 649.0L709.2 649.1L707.2 649.2L705.2 649.3L703.2 649.4L701.2 649.5L699.1 649.6L697.1 649.6L695.1 649.7L693.1 649.8L691.1 649.9L689.1 650.0L687.1 650.1L685.1 650.2L683.1 650.2L681.1 650.3L679.1 650.4L677.1 650.5L675.1 650.6L673.1 650.7L671.1 650.7L669.1 650.8L667.1 650.9L665.1 651.0L663.1 651.0L661.1 651.1L659.1 651.2L657.1 651.3L655.1 651.3L653.1 651.4L651.1 651.5L649.1 651.6L647.1 651.6L645.1 651.7L643.0 651.8L641.0 651.8L639.0 651.9L637.0 652.0L635.0 652.1L633.0 652.1L631.0 652.2L629.0 652.3L627.0 652.3L625.0 652.4L623.0 652.5L621.0 652.5L619.0 652.6L617.0 652.7L615.0 652.7L613.0 652.8L611.0 652.8L609.0 652.9L607.0 653.0L605.0 653.0L603.0 653.1L601.0 653.2L599.0 653.2L597.0 653.3L594.9 653.4L592.9 653.4L590.9 653.5L588.9 653.5L586.9 653.6L584.9 653.7L582.9 653.7L580.9 653.8L578.9 653.9L576.9 653.9L574.9 654.0L572.9 654.0L570.9 654.1L568.9 654.2L566.9 654.2L564.9 654.3L562.9 654.3L560.9 654.4L558.9 654.5L556.9 654.5L554.9 654.6L552.9 654.6L550.9 654.7L548.9 654.8L546.8 654.8L544.8 654.9L542.8 655.0L540.8 655.0L538.8 655.1L536.8 655.1L534.8 655.2L532.8 655.3L530.8 655.3L528.8 655.4L526.8 655.5L524.8 655.5L522.8 655.6L520.8 655.7L518.8 655.7L516.8 655.8L514.8 655.8L512.8 655.9L510.8 656.0L508.8 656.0L506.8 656.1L504.8 656.2L502.8 656.2L500.8 656.3L498.7 656.4L496.7 656.4L494.7 656.5L492.7 656.6L490.7 656.7L488.7 656.7L486.7 656.8L484.7 656.9L482.7 656.9L480.7 657.0L478.7 657.1L476.7 657.2L474.7 657.2L472.7 657.3L470.7 657.4L468.7 657.5L466.7 657.5L464.7 657.6L462.7 657.7L460.7 657.8L458.7 657.8L456.7 657.9L454.7 658.0L452.7 658.1L450.7 658.2L448.7 658.3L446.7 658.3L444.6 658.4L442.6 658.5L440.6 658.6L438.6 658.7L436.6 658.8L434.6 658.9L432.6 658.9L430.6 659.0L428.6 659.1L426.6 659.2L424.6 659.3L422.6 659.4L420.6 659.5L418.6 659.6L416.6 659.7L414.6 659.8L412.6 659.9L406.2 660.0" fill="none" stroke="#ff00ff" stroke-width="9.3" stroke-linejoin="round" stroke-linecap="butt"/>
</g>
<rect x="330.4" y="48.3" width="9.0" height="745.5"/>
<rect x="320.6" y="775.3" width="997.5" height="9.0"/>
<text transform="translate(309.3 793.0) scale(1.0150 1.0000)" text-anchor="end" class="tk">-400</text>
<rect x="320.6" y="684.1" width="10.8" height="9.2"/>
<text transform="translate(309.3 702.1) scale(1.0150 1.0000)" text-anchor="end" class="tk">-300</text>
<rect x="320.6" y="593.3" width="10.8" height="9.2"/>
<text transform="translate(309.3 611.3) scale(1.0150 1.0000)" text-anchor="end" class="tk">-200</text>
<rect x="320.6" y="502.4" width="10.8" height="9.2"/>
<text transform="translate(309.3 520.4) scale(1.0150 1.0000)" text-anchor="end" class="tk">-100</text>
<rect x="320.6" y="411.6" width="10.8" height="9.2"/>
<text transform="translate(309.3 429.6) scale(1.0150 1.0000)" text-anchor="end" class="tk">0</text>
<rect x="320.6" y="320.8" width="10.8" height="9.2"/>
<text transform="translate(309.3 338.8) scale(1.0150 1.0000)" text-anchor="end" class="tk">100</text>
<rect x="320.6" y="229.9" width="10.8" height="9.2"/>
<text transform="translate(309.3 247.9) scale(1.0150 1.0000)" text-anchor="end" class="tk">200</text>
<rect x="320.6" y="139.0" width="10.8" height="9.2"/>
<text transform="translate(309.3 157.0) scale(1.0150 1.0000)" text-anchor="end" class="tk">300</text>
<rect x="320.6" y="48.2" width="10.8" height="9.2"/>
<text transform="translate(309.3 66.2) scale(1.0150 1.0000)" text-anchor="end" class="tk">400</text>
<rect x="326.4" y="730.0" width="5.0" height="8.4" rx="1.5"/>
<rect x="326.4" y="639.1" width="5.0" height="8.4" rx="1.5"/>
<rect x="326.4" y="548.3" width="5.0" height="8.4" rx="1.5"/>
<rect x="326.4" y="457.4" width="5.0" height="8.4" rx="1.5"/>
<rect x="326.4" y="366.6" width="5.0" height="8.4" rx="1.5"/>
<rect x="326.4" y="275.7" width="5.0" height="8.4" rx="1.5"/>
<rect x="326.4" y="184.9" width="5.0" height="8.4" rx="1.5"/>
<rect x="326.4" y="94.0" width="5.0" height="8.4" rx="1.5"/>
<text transform="translate(334.2 842.1) scale(1.0150 1.0000)" text-anchor="middle" class="tk">-0.6</text>
<rect x="480.7" y="783.3" width="9.2" height="10.5"/>
<text transform="translate(484.8 842.1) scale(1.0150 1.0000)" text-anchor="middle" class="tk">-0.4</text>
<rect x="631.3" y="783.3" width="9.2" height="10.5"/>
<text transform="translate(635.4 842.1) scale(1.0150 1.0000)" text-anchor="middle" class="tk">-0.2</text>
<rect x="781.9" y="783.3" width="9.2" height="10.5"/>
<text transform="translate(786.0 842.1) scale(1.0150 1.0000)" text-anchor="middle" class="tk">0.0</text>
<rect x="932.5" y="783.3" width="9.2" height="10.5"/>
<text transform="translate(936.6 842.1) scale(1.0150 1.0000)" text-anchor="middle" class="tk">0.2</text>
<rect x="1083.1" y="783.3" width="9.2" height="10.5"/>
<text transform="translate(1087.2 842.1) scale(1.0150 1.0000)" text-anchor="middle" class="tk">0.4</text>
<rect x="1233.7" y="783.3" width="9.2" height="10.5"/>
<text transform="translate(1237.8 842.1) scale(1.0150 1.0000)" text-anchor="middle" class="tk">0.6</text>
<rect x="405.4" y="783.3" width="9.2" height="4.0" rx="1.5"/>
<rect x="556.0" y="783.3" width="9.2" height="4.0" rx="1.5"/>
<rect x="706.6" y="783.3" width="9.2" height="4.0" rx="1.5"/>
<rect x="857.2" y="783.3" width="9.2" height="4.0" rx="1.5"/>
<rect x="1007.8" y="783.3" width="9.2" height="4.0" rx="1.5"/>
<rect x="1158.4" y="783.3" width="9.2" height="4.0" rx="1.5"/>
<rect x="1309.3" y="783.3" width="8.8" height="4.0"/>
<text transform="translate(824.3 926.9) scale(1.0700 1.0000)" text-anchor="middle" class="xl">Voltage (V)</text>
<text transform="translate(178.7 380.5) rotate(-90) scale(0.9970 1.0000)" text-anchor="middle" class="yl">Specific Capacitance (F/g)</text>
<line x1="1194.0" y1="51.8" x2="1288.2" y2="51.8" stroke="#000000" stroke-width="11.5" stroke-linecap="round"/>
<text transform="translate(1299.5 66.4) scale(0.9800 1.0000)" text-anchor="start" class="tk">10 mV/s</text>
<line x1="1194.0" y1="112.6" x2="1288.2" y2="112.6" stroke="#ff0000" stroke-width="11.5" stroke-linecap="round"/>
<text transform="translate(1299.5 127.2) scale(0.9800 1.0000)" text-anchor="start" class="tk">25 mV/s</text>
<line x1="1194.0" y1="173.9" x2="1288.2" y2="173.9" stroke="#0000ff" stroke-width="11.5" stroke-linecap="round"/>
<text transform="translate(1299.5 188.5) scale(0.9800 1.0000)" text-anchor="start" class="tk">50 mV/s</text>
<line x1="1194.0" y1="234.8" x2="1288.2" y2="234.8" stroke="#008080" stroke-width="11.5" stroke-linecap="round"/>
<text transform="translate(1299.5 249.4) scale(0.9800 1.0000)" text-anchor="start" class="tk">75 mV/s</text>
<line x1="1194.0" y1="296.0" x2="1288.2" y2="296.0" stroke="#ff00ff" stroke-width="11.5" stroke-linecap="round"/>
<text transform="translate(1299.5 310.6) scale(0.9800 1.0000)" text-anchor="start" class="tk">100 mV/s</text>
</g>
<g id="panelB">
<g clip-path="url(#clipB)">
<path d="M413.5 1739.4L413.5 1738.2L413.5 1738.0L413.5 1737.2L413.5 1733.4L413.5 1735.0L413.5 1732.4L413.5 1729.3L413.5 1727.9L413.5 1727.2L413.5 1725.4L413.5 1723.0L413.5 1721.1L413.5 1722.4L413.5 1719.3L413.5 1720.3L413.5 1719.5L413.5 1715.6L413.5 1716.0L413.5 1712.7L413.5 1713.7L413.6 1711.2L413.6 1707.4L413.6 1707.1L413.6 1706.0L413.6 1705.1L413.6 1704.8L413.6 1700.2L413.6 1700.5L413.6 1701.3L413.6 1697.4L413.6 1695.7L413.6 1695.1L413.6 1692.3L413.6 1692.9L413.6 1691.0L413.6 1690.3L413.6 1689.1L413.6 1688.5L413.6 1684.9L413.6 1684.1L413.6 1680.6L413.6 1682.0L413.6 1679.8L413.6 1678.7L413.6 1676.5L413.6 1675.3L413.6 1675.0L413.7 1672.4L413.7 1671.3L413.7 1669.5L413.7 1668.3L413.7 1667.8L413.7 1665.0L413.7 1663.7L413.7 1662.1L413.7 1661.0L413.7 1659.9L413.7 1658.0L413.7 1656.9L413.7 1656.5L413.7 1653.7L413.7 1652.4L413.7 1652.4L413.7 1650.0L413.7 1649.1L413.7 1646.1L413.7 1645.6L413.8 1646.6L413.8 1643.8L413.8 1641.8L413.8 1640.6L413.8 1638.0L413.8 1636.7L413.8 1636.1L413.8 1635.4L413.8 1631.2L413.8 1634.0L413.8 1629.8L413.8 1628.8L413.8 1625.6L413.8 1625.1L413.8 1624.9L413.9 1623.9L413.9 1620.8L413.9 1619.2L413.9 1618.2L413.9 1619.3L413.9 1615.9L413.9 1616.0L413.9 1613.9L413.9 1613.8L413.9 1611.5L413.9 1609.0L413.9 1607.3L414.0 1607.7L414.0 1605.5L414.0 1604.3L414.0 1603.8L414.0 1601.3L414.0 1600.3L414.0 1597.7L414.0 1595.8L414.0 1594.5L414.0 1593.5L414.0 1594.0L414.1 1591.6L414.1 1589.8L414.1 1587.5L414.1 1587.0L414.1 1587.2L414.1 1585.3L414.1 1583.1L414.1 1581.4L414.1 1580.8L414.2 1578.8L414.2 1578.2L414.2 1576.8L414.2 1575.5L414.2 1572.5L414.2 1570.6L414.2 1571.8L414.2 1567.9L414.2 1566.6L414.3 1565.9L414.3 1565.1L414.3 1563.1L414.3 1562.9L414.3 1559.3L414.3 1557.9L414.3 1557.0L414.3 1556.8L414.4 1555.3L414.4 1553.0L414.4 1552.8L414.4 1550.9L414.4 1549.0L414.4 1547.2L414.4 1546.7L414.5 1544.5L414.5 1543.7L414.5 1541.4L414.5 1540.4L414.5 1539.3L414.5 1537.6L414.5 1537.1L414.6 1535.4L414.6 1533.7L414.6 1533.2L414.6 1529.9L414.6 1530.8L414.6 1526.7L414.7 1527.9L414.7 1526.6L414.7 1525.5L414.7 1523.1L414.7 1522.0L414.7 1520.7L414.8 1518.6L414.8 1517.4L414.8 1516.5L414.8 1514.5L414.8 1512.8L414.9 1511.7L414.9 1510.2L414.9 1509.9L414.9 1506.5L414.9 1505.2L414.9 1505.1L415.0 1502.6L415.0 1500.8L415.0 1500.3L415.0 1499.3L415.0 1498.4L415.1 1495.0L415.1 1494.1L415.1 1493.2L415.1 1492.0L415.2 1490.9L415.2 1489.2L415.2 1487.3L415.2 1485.0L415.2 1484.4L415.3 1484.9L415.3 1483.3L415.3 1481.1L415.3 1478.2L415.4 1477.3L415.4 1477.2L415.4 1473.5L415.4 1472.7L415.4 1472.5L415.5 1468.9L415.5 1470.0L415.5 1467.4L415.5 1468.6L415.6 1465.1L415.6 1464.3L415.6 1462.8L415.7 1462.5L415.7 1459.4L415.7 1458.6L415.7 1456.2L415.8 1453.8L415.8 1453.9L415.8 1452.6L415.8 1450.5L415.9 1448.9L415.9 1448.6L415.9 1447.0L416.0 1445.3L416.0 1446.2L416.0 1442.6L416.0 1442.4L416.1 1438.9L416.1 1440.0L416.1 1436.8L416.2 1435.1L416.2 1433.8L416.2 1432.7L416.3 1430.8L416.3 1429.0L416.3 1428.4L416.4 1426.2L416.4 1425.5L416.4 1424.1L416.5 1422.1L416.5 1421.7L416.5 1420.0L416.6 1418.5L416.6 1416.4L416.6 1414.0L416.7 1416.8L416.7 1413.6L416.7 1411.5L416.8 1410.8L416.8 1409.0L416.8 1407.5L416.9 1404.8L416.9 1403.6L417.0 1404.1L417.0 1403.1L417.0 1401.9L417.1 1398.1L417.1 1398.7L417.2 1398.6L417.2 1395.7L417.3 1394.3L417.3 1392.8L417.4 1389.2L417.4 1390.4L417.5 1389.1L417.5 1386.6L417.6 1384.6L417.6 1383.6L417.7 1385.5L417.7 1382.2L417.8 1379.8L417.8 1378.7L417.9 1377.0L418.0 1375.0L418.0 1373.3L418.1 1373.0L418.1 1371.2L418.2 1370.1L418.3 1370.6L418.4 1367.9L418.4 1364.6L418.5 1365.0L418.6 1363.2L418.6 1363.5L418.7 1360.8L418.8 1360.1L418.9 1358.2L419.0 1356.6L419.1 1351.6L419.2 1354.3L419.3 1353.7L419.3 1350.1L419.4 1350.7L419.5 1346.5L419.6 1346.5L419.8 1345.3L419.9 1344.6L420.0 1343.1L420.1 1340.3L420.2 1341.3L420.3 1336.7L420.5 1336.0L420.6 1334.7L420.7 1331.9L420.8 1331.4L421.0 1331.2L421.1 1331.5L421.3 1329.7L421.4 1326.9L421.6 1326.1L421.7 1322.0L421.9 1323.0L422.1 1322.8L422.2 1319.1L422.4 1319.6L422.6 1316.0L422.8 1315.8L423.0 1314.5L423.2 1313.5L423.4 1312.2L423.6 1311.8L423.8 1309.8L424.0 1307.6L424.2 1306.0L424.5 1303.9L424.7 1303.0L425.0 1300.4L425.2 1299.1L425.5 1300.0L425.7 1298.6L426.0 1297.3L426.3 1294.8L426.6 1294.4L426.9 1290.8L427.2 1292.1L427.5 1290.6L427.8 1289.9L428.2 1287.6L428.5 1286.1L428.9 1283.3L429.2 1284.5L429.6 1282.1L430.0 1280.1L430.4 1279.6L430.8 1279.5L431.2 1278.7L431.6 1275.4L432.0 1272.8L432.5 1272.5L432.9 1271.6L433.4 1270.1L433.8 1269.5L434.3 1267.6L434.8 1266.3L435.3 1266.0L435.8 1262.3L436.3 1262.7L436.9 1262.1L437.4 1259.6L437.9 1258.6L438.5 1258.1L439.1 1258.0L439.6 1253.2L440.2 1254.2L440.8 1252.5L441.4 1248.9L442.0 1250.1L442.6 1247.6L443.3 1249.4L443.9 1247.7L444.6 1243.5L445.2 1244.4L445.9 1241.5L446.5 1241.0L447.2 1240.8L447.9 1238.8L448.6 1237.6L449.3 1234.4L450.0 1233.3L450.7 1232.5L451.5 1233.2L452.2 1232.4L453.0 1230.7L453.8 1229.7L454.5 1227.5L455.3 1227.9L456.1 1227.0L456.9 1224.5L457.7 1224.0L458.6 1224.2L459.4 1220.6L460.3 1220.0L461.1 1219.8L462.0 1218.3L462.9 1216.3L463.8 1216.3L464.7 1215.2L465.6 1215.0L466.5 1214.6L467.5 1211.1L468.4 1210.5L469.4 1211.8L470.4 1209.5L471.3 1208.3L472.3 1207.1L473.3 1207.5L474.3 1205.2L475.4 1205.7L476.4 1203.9L477.4 1203.2L478.5 1201.6L479.6 1202.8L480.6 1202.1L481.7 1199.3L482.8 1199.8L483.9 1200.8L485.0 1197.1L486.1 1196.7L487.2 1197.1L488.4 1194.6L489.5 1195.6L490.7 1195.6L491.8 1194.7L493.0 1193.2L494.2 1192.8L495.4 1191.9L496.6 1191.6L497.8 1190.6L499.0 1189.8L500.2 1191.3L501.4 1189.0L502.6 1186.3L503.8 1187.8L505.1 1187.5L506.3 1187.8L507.6 1185.5L508.8 1184.9L510.1 1185.1L511.3 1187.7L512.6 1184.6L513.9 1183.0L515.1 1183.8L516.4 1182.1L517.7 1180.6L519.0 1180.7L520.3 1181.5L521.5 1180.2L522.8 1180.9L524.1 1179.6L525.4 1179.6L526.7 1178.3L528.0 1179.7L529.3 1178.4L530.6 1179.3L532.0 1178.3L533.3 1177.0L534.6 1177.5L535.9 1175.7L537.2 1175.7L538.6 1175.1L539.9 1173.7L541.2 1173.6L542.5 1174.8L543.9 1173.6L545.2 1174.0L546.5 1172.1L547.9 1173.2L549.2 1173.1L550.5 1171.8L551.9 1172.4L553.2 1171.7L554.6 1174.1L555.9 1170.0L557.3 1172.5L558.6 1169.7L560.0 1170.3L561.3 1169.1L562.7 1168.2L564.0 1168.8L565.4 1170.2L566.7 1167.4L568.1 1169.0L569.4 1167.9L570.8 1166.7L572.1 1167.2L573.4 1166.4L574.8 1166.1L576.1 1166.1L577.5 1165.8L578.8 1164.4L580.2 1165.6L581.5 1165.0L582.9 1165.2L584.2 1163.6L585.6 1164.5L586.9 1162.7L588.2 1163.9L589.6 1162.4L590.9 1163.2L592.3 1162.6L593.6 1160.8L595.0 1162.4L596.3 1160.2L597.7 1160.6L599.0 1161.8L600.4 1161.7L601.7 1162.5L603.1 1160.5L604.4 1161.3L605.8 1161.3L607.1 1159.0L608.5 1160.2L609.8 1160.0L611.2 1159.3L612.6 1158.8L613.9 1160.0L615.3 1159.2L616.7 1159.2L618.0 1159.0L619.4 1157.0L620.8 1156.4L622.1 1160.2L623.5 1157.4L624.9 1158.2L626.3 1157.9L627.6 1158.7L629.0 1156.6L630.4 1155.8L631.8 1156.1L633.2 1156.8L634.5 1157.0L635.9 1155.9L637.3 1157.8L638.7 1156.9L640.1 1154.6L641.5 1156.8L642.9 1156.4L644.2 1156.2L645.6 1156.2L647.0 1157.3L648.4 1156.1L649.8 1156.3L651.2 1156.2L652.6 1154.8L654.0 1156.3L655.4 1155.4L656.8 1155.7L658.2 1155.9L659.5 1154.6L660.9 1155.1L662.3 1156.2L663.7 1154.4L665.1 1154.8L666.5 1155.8L667.9 1154.3L669.3 1156.4L670.7 1153.4L672.1 1153.7L673.5 1155.2L674.9 1155.1L676.3 1153.7L677.7 1154.4L679.1 1155.1L680.5 1154.4L681.9 1154.8L683.3 1154.7L684.7 1154.0L686.1 1154.9L687.4 1153.7L688.8 1154.6L690.2 1153.4L691.6 1153.7L693.0 1154.5L694.4 1152.9L695.8 1153.1L697.2 1153.0L698.6 1154.2L700.0 1154.6L701.4 1153.6L702.8 1153.9L704.2 1154.0L705.6 1152.4L707.0 1152.4L708.4 1153.6L709.8 1154.8L711.2 1153.0L712.6 1152.0L713.9 1151.3L715.3 1153.9L716.7 1151.6L718.1 1152.3L719.5 1151.8L720.9 1152.4L722.3 1154.6L723.7 1153.4L725.1 1151.1L726.5 1150.5L727.9 1152.1L729.3 1151.7L730.7 1152.9L732.1 1153.2L733.5 1152.5L734.9 1153.3L736.3 1153.0L737.7 1152.1L739.1 1152.4L740.5 1150.9L741.9 1153.5L743.3 1152.9L744.7 1151.0L746.1 1151.3L747.5 1151.5L748.9 1152.2L750.3 1150.3L751.7 1149.8L753.1 1150.2L754.5 1151.0L755.9 1150.8L757.3 1153.7L758.7 1153.2L760.1 1152.4L761.5 1150.9L762.9 1151.4L764.3 1152.3L765.7 1153.8L767.1 1150.7L768.5 1151.4L769.9 1151.5L771.3 1152.6L772.7 1152.2L774.1 1151.3L775.5 1152.1L776.8 1152.0L778.2 1151.7L779.6 1152.2L781.0 1151.9L782.4 1150.8L783.8 1151.9L785.2 1151.1L786.6 1152.3L788.0 1148.5L789.4 1151.6L790.8 1150.9L792.2 1151.1L793.6 1151.9L795.0 1150.4L796.4 1150.2L797.8 1153.3L799.2 1152.7L800.6 1151.6L802.0 1151.0L803.4 1151.7L804.8 1151.0L806.2 1152.0L807.6 1151.4L809.0 1151.7L810.4 1151.3L811.8 1152.3L813.2 1150.9L814.6 1150.2L816.0 1150.5L817.4 1150.1L818.8 1151.2L820.2 1151.5L821.6 1151.4L823.0 1150.7L824.4 1152.5L825.8 1151.3L827.2 1151.7L828.6 1151.5L829.9 1150.6L831.3 1152.9L832.7 1150.6L834.1 1150.2L835.5 1151.2L836.9 1151.4L838.3 1151.0L839.7 1149.8L841.1 1152.5L842.5 1152.9L843.9 1151.2L845.3 1151.5L846.7 1153.1L848.1 1152.7L849.5 1150.9L850.9 1150.7L852.3 1151.6L853.7 1151.6L855.1 1152.7L856.5 1152.9L858.0 1151.5L859.4 1150.1L860.8 1150.6L862.2 1153.0L863.6 1154.1L865.0 1152.4L866.4 1152.1L867.8 1151.3L869.2 1152.2L870.6 1151.3L872.0 1151.4L873.4 1152.7L874.8 1154.6L876.2 1151.6L877.6 1151.4L879.0 1152.3L880.4 1151.5L881.8 1152.7L883.2 1153.0L884.6 1153.1L886.0 1152.9L887.4 1153.0L888.8 1152.7L890.2 1152.8L891.6 1153.9L893.0 1152.3L894.4 1153.5L895.8 1152.2L897.2 1154.5L898.6 1152.4L900.0 1152.8L901.4 1152.1L902.8 1152.8L904.3 1152.3L905.7 1152.2L907.1 1154.4L908.5 1152.3L909.9 1153.6L911.3 1153.9L912.7 1154.1L914.1 1152.8L915.5 1155.1L916.9 1151.5L918.3 1156.2L919.7 1152.9L921.1 1152.6L922.5 1154.9L923.9 1154.5L925.3 1151.7L926.7 1153.2L928.1 1154.3L929.5 1153.7L930.9 1153.4L932.4 1152.0L933.8 1154.9L935.2 1151.3L936.6 1151.7L938.0 1153.9L939.4 1153.1L940.8 1152.4L942.2 1154.1L943.6 1153.0L945.0 1154.0L946.4 1154.3L947.8 1153.0L949.2 1151.4L950.6 1152.1L952.0 1152.6L953.4 1153.7L954.9 1153.8L956.3 1152.5L957.7 1153.2L959.1 1153.5L960.5 1153.1L961.9 1154.5L963.3 1154.1L964.7 1153.1L966.1 1153.2L967.5 1152.6L968.9 1153.3L970.3 1152.3L971.7 1155.0L973.1 1154.1L974.5 1153.4L975.9 1153.3L977.3 1153.7L978.7 1153.7L980.1 1152.9L981.5 1155.6L982.9 1153.5L984.3 1152.0L985.7 1152.5L987.1 1152.4L988.6 1153.6L990.0 1152.8L991.4 1153.8L992.8 1154.0L994.2 1153.5L995.6 1153.3L997.0 1153.7L998.4 1153.2L999.8 1153.2L1001.2 1155.2L1002.6 1153.6L1004.0 1154.0L1005.4 1154.3L1006.8 1153.4L1008.2 1152.9L1009.6 1153.6L1011.0 1153.6L1012.4 1154.2L1013.8 1153.2L1015.2 1153.2L1016.6 1153.2L1018.0 1152.7L1019.4 1153.2L1020.8 1153.4L1022.2 1155.0L1023.6 1154.3L1025.0 1153.5L1026.4 1153.0L1027.8 1154.6L1029.2 1154.7L1030.6 1151.7L1032.0 1153.8L1033.4 1152.0L1034.8 1154.1L1036.2 1153.8L1037.6 1153.3L1039.0 1154.1L1040.4 1152.1L1041.8 1150.4L1043.2 1153.5L1044.6 1153.5L1046.0 1156.4L1047.4 1153.8L1048.8 1152.2L1050.2 1152.2L1051.5 1154.2L1052.9 1154.3L1054.3 1153.2L1055.7 1152.0L1057.1 1152.3L1058.5 1153.9L1059.9 1153.5L1061.3 1154.1L1062.7 1153.0L1064.1 1153.8L1065.5 1153.4L1066.9 1153.3L1068.4 1151.7L1069.8 1153.9L1071.2 1153.3L1072.6 1153.5L1074.0 1152.6L1075.4 1155.8L1076.8 1152.5L1078.2 1154.2L1079.6 1151.9L1081.0 1152.7L1082.4 1154.1L1083.8 1153.6L1085.2 1153.4L1086.6 1153.8L1088.0 1154.5L1089.4 1152.1L1090.8 1151.9L1092.3 1153.4L1093.7 1153.6L1095.1 1153.7L1096.5 1154.3L1097.9 1154.0L1099.3 1155.9L1100.7 1153.3L1102.2 1154.8L1103.6 1151.9L1105.0 1153.5L1106.4 1152.1L1107.8 1152.7L1109.2 1155.4L1110.7 1155.7L1112.1 1153.2L1113.5 1154.3L1114.9 1155.2L1116.4 1153.4L1117.8 1152.8L1119.2 1154.6L1120.7 1153.2L1122.1 1153.5L1123.5 1152.3L1125.0 1154.2L1126.4 1152.5L1127.9 1153.5L1129.3 1153.5L1130.7 1152.3L1132.2 1151.0L1133.6 1153.5L1135.1 1154.6L1136.5 1153.5L1138.0 1151.6L1139.4 1152.5L1140.8 1150.9L1142.2 1151.7L1143.7 1150.7L1145.1 1150.9L1146.5 1152.1L1147.9 1151.1L1149.3 1150.8L1150.6 1148.7L1152.0 1150.0L1153.4 1150.3L1154.7 1147.3L1156.1 1150.9L1157.4 1150.4L1158.7 1150.5L1160.1 1148.9L1161.4 1148.2L1162.7 1149.7L1164.0 1148.8L1165.3 1149.5L1171.9 1149.4" fill="none" stroke="#000000" stroke-width="9.5" stroke-linejoin="round" stroke-linecap="butt"/>
<path d="M413.5 1738.9L413.5 1738.2L413.5 1737.0L413.5 1738.7L413.5 1733.9L413.5 1732.4L413.5 1731.8L413.5 1730.0L413.5 1729.7L413.5 1727.6L413.5 1725.7L413.5 1724.6L413.5 1724.1L413.5 1722.3L413.5 1719.2L413.5 1718.7L413.5 1719.0L413.5 1716.3L413.5 1712.6L413.5 1712.7L413.5 1712.5L413.6 1712.0L413.6 1709.9L413.6 1706.2L413.6 1706.0L413.6 1705.3L413.6 1704.2L413.6 1701.1L413.6 1699.4L413.6 1699.8L413.6 1699.8L413.6 1695.8L413.6 1695.2L413.6 1693.2L413.6 1692.3L413.6 1689.3L413.6 1688.3L413.6 1686.4L413.6 1686.7L413.6 1687.1L413.6 1683.9L413.6 1682.3L413.6 1680.4L413.6 1678.8L413.6 1680.3L413.6 1677.3L413.6 1675.5L413.6 1675.1L413.7 1670.8L413.7 1670.7L413.7 1670.2L413.7 1669.8L413.7 1667.5L413.7 1666.3L413.7 1664.5L413.7 1661.8L413.7 1660.9L413.7 1659.2L413.7 1658.3L413.7 1656.0L413.7 1656.1L413.7 1653.3L413.7 1652.9L413.7 1651.7L413.7 1651.9L413.7 1648.7L413.7 1645.4L413.7 1647.9L413.8 1645.5L413.8 1643.3L413.8 1640.7L413.8 1640.0L413.8 1639.8L413.8 1639.6L413.8 1637.4L413.8 1636.5L413.8 1633.8L413.8 1631.4L413.8 1629.3L413.8 1630.4L413.8 1626.0L413.8 1626.5L413.8 1626.9L413.9 1624.8L413.9 1621.0L413.9 1622.2L413.9 1616.3L413.9 1616.3L413.9 1616.2L413.9 1614.8L413.9 1615.8L413.9 1612.4L413.9 1609.7L413.9 1607.7L413.9 1607.2L414.0 1606.6L414.0 1604.0L414.0 1603.0L414.0 1601.3L414.0 1601.6L414.0 1598.3L414.0 1598.5L414.0 1595.4L414.0 1594.7L414.0 1595.6L414.0 1593.0L414.1 1591.7L414.1 1590.0L414.1 1587.6L414.1 1587.4L414.1 1584.3L414.1 1585.6L414.1 1584.0L414.1 1582.0L414.1 1580.4L414.2 1578.9L414.2 1578.0L414.2 1576.0L414.2 1574.8L414.2 1573.1L414.2 1572.4L414.2 1570.0L414.2 1569.4L414.2 1565.7L414.3 1567.4L414.3 1566.4L414.3 1564.1L414.3 1561.5L414.3 1561.4L414.3 1560.2L414.3 1558.3L414.3 1556.7L414.4 1555.4L414.4 1554.7L414.4 1553.4L414.4 1550.6L414.4 1548.8L414.4 1547.5L414.4 1546.6L414.5 1544.8L414.5 1543.0L414.5 1542.1L414.5 1541.3L414.5 1538.2L414.5 1537.1L414.5 1537.7L414.6 1535.6L414.6 1534.6L414.6 1531.6L414.6 1530.1L414.6 1531.7L414.6 1528.4L414.7 1527.1L414.7 1526.8L414.7 1523.7L414.7 1521.5L414.7 1521.8L414.7 1520.6L414.8 1519.0L414.8 1517.3L414.8 1514.4L414.8 1513.2L414.8 1512.6L414.9 1511.4L414.9 1509.4L414.9 1509.3L414.9 1507.5L414.9 1506.0L414.9 1504.7L415.0 1502.9L415.0 1500.9L415.0 1499.5L415.0 1498.8L415.0 1496.7L415.1 1496.0L415.1 1495.1L415.1 1493.5L415.1 1493.5L415.2 1490.3L415.2 1486.9L415.2 1486.4L415.2 1485.1L415.2 1486.1L415.3 1483.2L415.3 1482.5L415.3 1480.2L415.3 1478.0L415.4 1477.3L415.4 1477.4L415.4 1476.5L415.4 1472.8L415.4 1472.4L415.5 1470.3L415.5 1470.2L415.5 1468.2L415.5 1465.5L415.6 1466.0L415.6 1463.2L415.6 1461.6L415.7 1460.5L415.7 1459.8L415.7 1457.4L415.7 1456.4L415.8 1453.2L415.8 1454.7L415.8 1452.1L415.8 1451.8L415.9 1450.4L415.9 1446.7L415.9 1449.9L416.0 1445.4L416.0 1443.5L416.0 1443.2L416.0 1440.9L416.1 1438.6L416.1 1438.9L416.1 1438.3L416.2 1435.2L416.2 1434.1L416.2 1434.3L416.3 1430.8L416.3 1429.3L416.3 1429.6L416.4 1428.3L416.4 1426.9L416.4 1424.9L416.5 1422.3L416.5 1419.6L416.5 1420.8L416.6 1419.3L416.6 1416.8L416.6 1415.5L416.7 1413.7L416.7 1413.6L416.7 1412.4L416.8 1408.4L416.8 1409.0L416.8 1407.9L416.9 1404.9L416.9 1406.7L417.0 1403.9L417.0 1402.6L417.0 1400.1L417.1 1398.8L417.1 1398.3L417.2 1396.8L417.2 1394.8L417.3 1393.5L417.3 1391.9L417.4 1390.3L417.4 1390.1L417.5 1388.5L417.5 1387.7L417.6 1385.7L417.6 1384.3L417.7 1382.3L417.7 1380.7L417.8 1381.4L417.8 1378.9L417.9 1377.0L418.0 1375.5L418.0 1375.4L418.1 1374.8L418.1 1373.2L418.2 1370.8L418.3 1370.4L418.4 1367.9L418.4 1365.1L418.5 1364.9L418.6 1363.4L418.6 1360.2L418.7 1361.2L418.8 1359.8L418.9 1356.9L419.0 1355.4L419.1 1353.3L419.2 1353.0L419.3 1352.2L419.3 1350.3L419.4 1348.5L419.5 1347.3L419.6 1346.7L419.8 1345.1L419.9 1344.1L420.0 1342.1L420.1 1341.8L420.2 1340.0L420.3 1337.3L420.5 1338.0L420.6 1335.7L420.7 1335.0L420.8 1333.9L421.0 1329.9L421.1 1328.6L421.3 1330.4L421.4 1327.1L421.6 1325.2L421.7 1322.7L421.9 1322.3L422.1 1320.5L422.2 1319.8L422.4 1318.5L422.6 1316.2L422.8 1315.3L423.0 1313.7L423.2 1311.8L423.4 1311.6L423.6 1310.2L423.8 1311.1L424.0 1308.4L424.2 1306.9L424.5 1304.9L424.7 1304.6L425.0 1302.7L425.2 1300.8L425.5 1297.9L425.7 1298.3L426.0 1298.1L426.3 1295.4L426.6 1295.7L426.9 1293.1L427.2 1293.1L427.5 1290.9L427.8 1288.5L428.2 1287.8L428.5 1287.6L428.9 1283.8L429.2 1281.8L429.6 1282.1L430.0 1281.3L430.4 1278.6L430.8 1277.8L431.2 1277.0L431.6 1275.3L432.0 1275.6L432.5 1273.6L432.9 1272.5L433.4 1270.3L433.8 1270.4L434.3 1267.2L434.8 1267.1L435.3 1266.6L435.8 1264.2L436.3 1263.1L436.9 1263.6L437.4 1259.6L437.9 1259.3L438.5 1259.0L439.1 1256.2L439.6 1254.9L440.2 1254.7L440.8 1252.7L441.4 1252.5L442.0 1250.4L442.6 1249.3L443.3 1250.3L443.9 1249.0L444.6 1246.7L445.2 1245.5L445.9 1245.0L446.5 1242.3L447.2 1241.1L447.9 1239.5L448.6 1239.2L449.3 1237.5L450.0 1236.1L450.7 1236.6L451.5 1235.3L452.2 1235.5L453.0 1232.7L453.8 1232.5L454.5 1230.7L455.3 1229.5L456.1 1229.5L456.9 1229.6L457.7 1225.8L458.6 1225.1L459.4 1223.8L460.3 1222.5L461.1 1221.2L462.0 1220.8L462.9 1219.1L463.8 1220.3L464.7 1218.2L465.6 1218.8L466.5 1215.3L467.5 1216.6L468.4 1216.0L469.4 1214.3L470.4 1212.4L471.3 1211.9L472.3 1211.6L473.3 1210.9L474.3 1209.8L475.4 1209.0L476.4 1209.8L477.4 1207.4L478.5 1209.0L479.6 1207.6L480.6 1206.5L481.7 1205.1L482.8 1204.0L483.9 1202.6L485.0 1202.3L486.1 1202.5L487.2 1201.5L488.4 1201.1L489.5 1199.9L490.7 1200.3L491.8 1198.8L493.0 1198.4L494.2 1199.2L495.4 1197.8L496.6 1196.4L497.8 1197.1L499.0 1195.6L500.2 1194.1L501.4 1193.4L502.6 1195.4L503.8 1194.1L505.1 1192.9L506.3 1193.1L507.6 1191.2L508.8 1192.0L510.1 1190.4L511.3 1192.1L512.6 1188.1L513.9 1190.0L515.1 1190.4L516.4 1189.4L517.7 1187.8L519.0 1186.1L520.3 1190.5L521.5 1187.9L522.8 1185.4L524.1 1188.0L525.4 1185.8L526.7 1185.4L528.0 1185.4L529.3 1185.0L530.6 1184.6L532.0 1184.4L533.3 1182.4L534.6 1181.3L535.9 1184.2L537.2 1181.3L538.6 1181.4L539.9 1180.2L541.2 1181.4L542.5 1181.8L543.9 1179.8L545.2 1178.8L546.5 1180.7L547.9 1176.3L549.2 1177.8L550.5 1178.8L551.9 1178.6L553.2 1178.8L554.6 1179.4L555.9 1177.4L557.3 1176.6L558.6 1175.1L560.0 1176.9L561.3 1176.2L562.7 1175.0L564.0 1177.2L565.4 1174.5L566.7 1173.4L568.1 1172.3L569.4 1173.6L570.8 1173.5L572.1 1172.7L573.4 1173.0L574.8 1171.7L576.1 1173.5L577.5 1171.0L578.8 1171.3L580.2 1170.1L581.5 1170.1L582.9 1170.2L584.2 1172.1L585.6 1170.8L586.9 1170.4L588.2 1169.0L589.6 1169.7L590.9 1169.4L592.3 1170.1L593.6 1168.1L595.0 1168.0L596.3 1169.4L597.7 1167.2L599.0 1167.7L600.4 1167.7L601.7 1167.2L603.1 1165.8L604.4 1168.5L605.8 1165.8L607.1 1166.3L608.5 1166.6L609.8 1165.8L611.2 1166.6L612.6 1165.8L613.9 1166.2L615.3 1164.3L616.7 1165.8L618.0 1165.4L619.4 1165.1L620.8 1163.7L622.1 1165.0L623.5 1163.8L624.9 1164.3L626.3 1166.2L627.6 1164.2L629.0 1165.3L630.4 1163.6L631.8 1164.2L633.2 1166.9L634.5 1163.6L635.9 1162.8L637.3 1163.3L638.7 1163.4L640.1 1164.9L641.5 1162.3L642.9 1163.1L644.2 1162.4L645.6 1163.2L647.0 1162.1L648.4 1161.5L649.8 1163.8L651.2 1162.2L652.6 1162.6L654.0 1163.2L655.4 1162.3L656.8 1161.2L658.2 1163.7L659.5 1163.7L660.9 1161.9L662.3 1163.4L663.7 1161.4L665.1 1161.5L666.5 1161.0L667.9 1162.3L669.3 1162.1L670.7 1162.7L672.1 1161.8L673.5 1161.4L674.9 1162.5L676.3 1163.2L677.7 1161.3L679.1 1159.6L680.5 1161.1L681.9 1162.5L683.3 1160.0L684.7 1159.9L686.1 1161.2L687.4 1158.8L688.8 1160.1L690.2 1159.8L691.6 1160.6L693.0 1159.9L694.4 1161.2L695.8 1160.4L697.2 1161.2L698.6 1161.9L700.0 1160.8L701.4 1159.6L702.8 1160.6L704.2 1159.9L705.6 1160.3L707.0 1158.8L708.4 1160.1L709.8 1159.8L711.2 1159.8L712.6 1158.7L713.9 1159.8L715.3 1159.3L716.7 1160.1L718.1 1159.9L719.5 1159.0L720.9 1158.9L722.3 1159.8L723.7 1160.0L725.1 1159.0L726.5 1158.9L727.9 1158.3L729.3 1159.9L730.7 1158.3L732.1 1159.6L733.5 1160.4L734.9 1158.2L736.3 1159.0L737.7 1157.7L739.1 1157.6L740.5 1157.8L741.9 1158.9L743.3 1159.5L744.7 1158.8L746.1 1159.3L747.5 1159.8L748.9 1160.4L750.3 1159.0L751.7 1160.3L753.1 1157.9L754.5 1158.7L755.9 1158.6L757.3 1158.7L758.7 1157.6L760.1 1159.0L761.5 1159.5L762.9 1159.5L764.3 1159.1L765.7 1159.1L767.1 1158.7L768.5 1159.8L769.9 1157.9L771.3 1159.3L772.7 1159.4L774.1 1157.2L775.5 1158.2L776.8 1158.5L778.2 1158.6L779.6 1157.6L781.0 1157.0L782.4 1158.2L783.8 1159.8L785.2 1157.2L786.6 1157.1L788.0 1159.0L789.4 1157.6L790.8 1158.7L792.2 1158.1L793.6 1159.9L795.0 1158.2L796.4 1158.9L797.8 1157.5L799.2 1155.3L800.6 1158.1L802.0 1159.1L803.4 1158.6L804.8 1157.5L806.2 1157.7L807.6 1158.6L809.0 1157.9L810.4 1159.1L811.8 1156.2L813.2 1157.3L814.6 1157.5L816.0 1157.4L817.4 1159.3L818.8 1158.6L820.2 1157.3L821.6 1158.0L823.0 1156.8L824.4 1159.9L825.8 1158.2L827.2 1159.1L828.6 1158.6L829.9 1157.6L831.3 1157.5L832.7 1160.2L834.1 1159.1L835.5 1158.1L836.9 1156.5L838.3 1156.5L839.7 1157.7L841.1 1158.8L842.5 1160.2L843.9 1159.1L845.3 1159.5L846.7 1159.8L848.1 1159.9L849.5 1158.3L850.9 1157.9L852.3 1158.2L853.7 1159.4L855.1 1158.5L856.5 1157.8L858.0 1159.6L859.4 1158.1L860.8 1161.0L862.2 1159.4L863.6 1159.4L865.0 1159.5L866.4 1159.3L867.8 1160.2L869.2 1159.5L870.6 1160.7L872.0 1159.0L873.4 1159.4L874.8 1159.4L876.2 1159.1L877.6 1160.6L879.0 1159.7L880.4 1158.3L881.8 1160.0L883.2 1158.4L884.6 1158.6L886.0 1158.5L887.4 1160.2L888.8 1158.5L890.2 1158.2L891.6 1159.5L893.0 1160.4L894.4 1158.6L895.8 1158.3L897.2 1159.9L898.6 1161.1L900.0 1159.1L901.4 1159.7L902.8 1161.6L904.3 1158.6L905.7 1160.2L907.1 1158.7L908.5 1161.8L909.9 1161.3L911.3 1158.8L912.7 1159.3L914.1 1160.7L915.5 1158.9L916.9 1159.1L918.3 1158.0L919.7 1160.7L921.1 1158.4L922.5 1160.5L923.9 1158.2L925.3 1159.7L926.7 1159.7L928.1 1158.1L929.5 1160.8L930.9 1160.2L932.4 1160.5L933.8 1160.1L935.2 1159.8L936.6 1161.4L938.0 1159.6L939.4 1160.1L940.8 1161.2L942.2 1161.8L943.6 1160.3L945.0 1161.0L946.4 1161.9L947.8 1160.6L949.2 1158.8L950.6 1161.1L952.0 1161.1L953.4 1158.9L954.9 1160.1L956.3 1161.4L957.7 1160.7L959.1 1160.8L960.5 1159.3L961.9 1159.8L963.3 1160.7L964.7 1159.7L966.1 1160.3L967.5 1160.2L968.9 1158.2L970.3 1161.8L971.7 1160.5L973.1 1160.3L974.5 1159.5L975.9 1158.8L977.3 1160.7L978.7 1161.2L980.1 1160.2L981.5 1159.4L982.9 1159.7L984.3 1159.1L985.7 1160.1L987.1 1159.6L988.6 1160.9L990.0 1159.8L991.4 1159.5L992.8 1161.4L994.2 1159.8L995.6 1160.1L997.0 1159.5L998.4 1158.9L999.8 1161.6L1001.2 1161.2L1002.6 1160.7L1004.0 1158.9L1005.4 1159.1L1006.8 1159.5L1008.2 1160.4L1009.6 1161.7L1011.0 1159.4L1012.4 1160.3L1013.8 1161.4L1015.2 1160.9L1016.6 1158.4L1018.0 1159.4L1019.4 1159.6L1020.8 1158.1L1022.2 1160.9L1023.6 1160.8L1025.0 1158.9L1026.4 1160.2L1027.8 1159.9L1029.2 1160.0L1030.6 1160.4L1032.0 1160.5L1033.4 1161.7L1034.8 1161.0L1036.2 1160.5L1037.6 1159.8L1039.0 1158.6L1040.4 1160.1L1041.8 1160.8L1043.2 1160.5L1044.6 1160.1L1046.0 1159.6L1047.4 1160.5L1048.8 1160.3L1050.2 1160.1L1051.5 1160.0L1052.9 1160.1L1054.3 1159.5L1055.7 1160.8L1057.1 1159.9L1058.5 1159.4L1059.9 1157.4L1061.3 1161.3L1062.7 1160.4L1064.1 1160.1L1065.5 1162.2L1066.9 1160.3L1068.4 1159.5L1069.8 1160.2L1071.2 1159.5L1072.6 1160.5L1074.0 1160.2L1075.4 1160.6L1076.8 1160.1L1078.2 1161.4L1079.6 1161.9L1081.0 1160.1L1082.4 1160.0L1083.8 1162.2L1085.2 1161.7L1086.6 1160.0L1088.0 1159.7L1089.4 1159.3L1090.8 1159.8L1092.3 1160.5L1093.7 1162.8L1095.1 1159.5L1096.5 1159.6L1097.9 1162.2L1099.3 1160.3L1100.7 1160.2L1102.2 1159.5L1103.6 1159.5L1105.0 1159.2L1106.4 1162.8L1107.8 1161.8L1109.2 1159.7L1110.7 1160.9L1112.1 1161.6L1113.5 1161.0L1114.9 1159.1L1116.4 1160.0L1117.8 1159.3L1119.2 1159.0L1120.7 1160.8L1122.1 1158.2L1123.5 1160.3L1125.0 1160.1L1126.4 1160.0L1127.9 1160.3L1129.3 1160.3L1130.7 1160.8L1132.2 1161.1L1133.6 1160.3L1135.1 1157.4L1136.5 1159.5L1138.0 1159.0L1139.4 1157.3L1140.8 1157.6L1142.2 1159.1L1143.7 1158.4L1145.1 1159.1L1146.5 1157.9L1147.9 1158.6L1149.3 1155.7L1150.6 1157.0L1152.0 1156.2L1153.4 1157.1L1154.7 1157.3L1156.1 1157.1L1157.4 1156.9L1158.7 1157.1L1160.1 1156.9L1161.4 1154.8L1162.7 1156.8L1164.0 1156.7L1165.3 1156.6L1171.9 1156.6" fill="none" stroke="#000000" stroke-width="9.5" stroke-linejoin="round" stroke-linecap="butt"/>
<path d="M1167.1 1147.8L1167.2 1154.1L1167.2 1156.3L1167.2 1157.2L1167.2 1160.5L1167.2 1160.4L1167.2 1162.9L1167.2 1164.0L1167.2 1162.3L1167.3 1166.1L1167.3 1168.0L1167.3 1168.7L1167.3 1171.5L1167.3 1172.3L1167.3 1173.2L1167.3 1175.9L1167.3 1174.7L1167.3 1175.2L1167.3 1177.6L1167.3 1181.0L1167.3 1181.2L1167.3 1184.6L1167.3 1184.0L1167.3 1184.9L1167.3 1187.7L1167.3 1186.8L1167.3 1188.5L1167.3 1191.5L1167.3 1191.5L1167.3 1193.6L1167.3 1195.4L1167.3 1197.1L1167.3 1199.0L1167.4 1199.1L1167.4 1202.8L1167.4 1203.2L1167.4 1202.8L1167.4 1206.1L1167.4 1207.0L1167.4 1208.4L1167.4 1210.5L1167.4 1211.5L1167.4 1212.0L1167.4 1214.9L1167.4 1214.7L1167.4 1214.3L1167.4 1217.7L1167.4 1219.3L1167.4 1221.5L1167.4 1222.2L1167.4 1222.6L1167.4 1226.9L1167.4 1225.2L1167.4 1227.5L1167.4 1228.4L1167.4 1230.5L1167.4 1232.6L1167.4 1234.0L1167.4 1233.1L1167.4 1237.0L1167.4 1237.1L1167.4 1239.4L1167.4 1241.3L1167.4 1242.4L1167.4 1242.7L1167.4 1245.2L1167.4 1247.3L1167.4 1250.2L1167.3 1247.4L1167.3 1249.4L1167.3 1250.7L1167.3 1253.3L1167.3 1254.9L1167.3 1257.8L1167.3 1258.8L1167.3 1257.9L1167.3 1258.6L1167.3 1260.6L1167.3 1263.1L1167.3 1263.2L1167.3 1265.5L1167.3 1266.8L1167.3 1268.5L1167.3 1269.5L1167.3 1271.8L1167.3 1274.0L1167.3 1275.7L1167.3 1274.8L1167.3 1277.4L1167.3 1279.8L1167.3 1281.5L1167.3 1281.2L1167.3 1281.8L1167.3 1284.2L1167.3 1284.3L1167.3 1285.7L1167.2 1288.5L1167.2 1288.5L1167.2 1291.0L1167.2 1291.0L1167.2 1293.7L1167.2 1293.6L1167.2 1294.9L1167.2 1298.6L1167.2 1298.9L1167.2 1301.8L1167.2 1301.9L1167.2 1303.0L1167.2 1305.1L1167.2 1306.7L1167.2 1309.1L1167.2 1308.4L1167.2 1309.9L1167.1 1312.3L1167.1 1312.3L1167.1 1315.9L1167.1 1315.7L1167.1 1318.1L1167.1 1319.6L1167.1 1321.4L1167.1 1320.4L1167.1 1323.5L1167.1 1326.2L1167.1 1325.5L1167.1 1326.8L1167.1 1328.2L1167.1 1331.2L1167.0 1331.4L1167.0 1331.9L1167.0 1333.0L1167.0 1336.3L1167.0 1340.1L1167.0 1335.5L1167.0 1340.2L1167.0 1341.4L1167.0 1342.4L1167.0 1344.6L1167.0 1344.7L1167.0 1346.1L1166.9 1348.9L1166.9 1347.7L1166.9 1352.6L1166.9 1352.7L1166.9 1353.2L1166.9 1354.2L1166.9 1357.5L1166.9 1357.9L1166.9 1361.0L1166.9 1360.9L1166.9 1363.0L1166.8 1362.1L1166.8 1366.1L1166.8 1366.9L1166.8 1367.3L1166.8 1369.8L1166.8 1370.3L1166.8 1372.8L1166.8 1372.5L1166.8 1375.9L1166.8 1375.7L1166.7 1377.8L1166.7 1378.7L1166.7 1381.4L1166.7 1382.5L1166.7 1384.7L1166.7 1385.5L1166.7 1386.7L1166.7 1386.6L1166.7 1388.6L1166.7 1390.8L1166.6 1392.0L1166.6 1394.3L1166.6 1393.7L1166.6 1396.3L1166.6 1398.8L1166.6 1399.3L1166.6 1398.4L1166.6 1401.9L1166.6 1401.3L1166.5 1404.3L1166.5 1407.3L1166.5 1407.6L1166.5 1409.5L1166.5 1411.5L1166.5 1411.8L1166.5 1412.9L1166.5 1415.8L1166.5 1414.7L1166.4 1419.0L1166.4 1417.9L1166.4 1419.8L1166.4 1421.4L1166.4 1423.0L1166.4 1423.8L1166.4 1426.1L1166.4 1426.8L1166.3 1429.8L1166.3 1428.8L1166.3 1430.9L1166.3 1432.3L1166.3 1436.1L1166.3 1435.0L1166.3 1437.2L1166.3 1436.6L1166.2 1440.1L1166.2 1441.8L1166.2 1443.6L1166.2 1445.7L1166.2 1445.2L1166.2 1446.8L1166.2 1450.2L1166.2 1449.5L1166.1 1450.3L1166.1 1452.4L1166.1 1453.8L1166.1 1455.0L1166.1 1457.0L1166.1 1457.6L1166.1 1457.2L1166.1 1460.9L1166.0 1462.4L1166.0 1463.2L1166.0 1465.2L1166.0 1466.3L1166.0 1465.8L1166.0 1470.2L1166.0 1470.6L1165.9 1472.4L1165.9 1472.4L1165.9 1474.2L1165.9 1476.8L1165.9 1477.8L1165.9 1479.7L1165.9 1481.8L1165.8 1482.7L1165.8 1484.8L1165.8 1485.0L1165.8 1487.5L1165.8 1486.0L1165.8 1489.4L1165.8 1491.0L1165.8 1492.8L1165.7 1492.7L1165.7 1493.1L1165.7 1496.1L1165.7 1496.3L1165.7 1498.2L1165.7 1500.7L1165.7 1502.4L1165.6 1504.0L1165.6 1504.2L1165.6 1505.1L1165.6 1507.9L1165.6 1506.9L1165.6 1508.6L1165.6 1511.1L1165.5 1513.9L1165.5 1514.8L1165.5 1515.0L1165.5 1516.1L1165.5 1518.8L1165.5 1520.1L1165.5 1521.4L1165.4 1522.0L1165.4 1523.7L1165.4 1524.2L1165.4 1525.4L1165.4 1527.1L1165.4 1530.9L1165.3 1530.7L1165.3 1531.9L1165.3 1533.8L1165.3 1535.8L1165.3 1537.2L1165.3 1539.7L1165.3 1541.0L1165.2 1541.0L1165.2 1540.9L1165.2 1544.1L1165.2 1544.1L1165.2 1546.9L1165.2 1548.1L1165.2 1551.3L1165.1 1549.9L1165.1 1550.9L1165.1 1554.4L1165.1 1555.3L1165.1 1555.9L1165.1 1558.4L1165.1 1558.4L1165.0 1559.4L1165.0 1562.5L1165.0 1562.3L1165.0 1563.8L1165.0 1567.2L1165.0 1567.1L1165.0 1566.9L1164.9 1569.5L1164.9 1572.0L1164.9 1573.1L1164.9 1575.8L1164.9 1575.1L1164.9 1577.7L1164.8 1580.5L1164.8 1579.4L1164.8 1582.2L1164.8 1582.4L1164.8 1585.3L1164.8 1586.7L1164.8 1587.8L1164.7 1587.3L1164.7 1589.0L1164.7 1590.7L1164.7 1593.0L1164.7 1594.6L1164.7 1594.7L1164.7 1595.9L1164.6 1596.8L1164.6 1600.4L1164.6 1601.7L1164.6 1602.1L1164.6 1606.1" fill="none" stroke="#000000" stroke-width="9.5" stroke-linejoin="round" stroke-linecap="butt"/>
<path d="M1167.1 1147.5L1167.2 1155.0L1167.2 1154.6L1167.2 1156.0L1167.2 1158.4L1167.2 1160.1L1167.2 1162.0L1167.2 1162.2L1167.2 1166.0L1167.3 1165.0L1167.3 1167.8L1167.3 1168.5L1167.3 1169.8L1167.3 1171.7L1167.3 1172.9L1167.3 1174.6L1167.3 1175.9L1167.3 1176.5L1167.3 1178.3L1167.3 1179.5L1167.3 1182.8L1167.3 1181.5L1167.3 1185.4L1167.3 1185.2L1167.3 1184.8L1167.3 1188.3L1167.3 1189.6L1167.3 1191.2L1167.3 1191.8L1167.3 1194.3L1167.3 1194.4L1167.3 1196.8L1167.3 1197.5L1167.4 1198.8L1167.4 1201.0L1167.4 1201.0L1167.4 1204.1L1167.4 1204.8L1167.4 1205.6L1167.4 1208.5L1167.4 1209.4L1167.4 1211.4L1167.4 1212.5L1167.4 1215.6L1167.4 1214.4L1167.4 1216.3L1167.4 1216.4L1167.4 1217.7L1167.4 1220.9L1167.4 1221.2L1167.4 1224.2L1167.4 1226.2L1167.4 1227.4L1167.4 1225.5L1167.4 1229.9L1167.4 1230.9L1167.4 1232.1L1167.4 1233.9L1167.4 1233.7L1167.4 1235.3L1167.4 1237.1L1167.4 1238.8L1167.4 1242.3L1167.4 1240.7L1167.4 1242.7L1167.4 1244.8L1167.4 1245.9L1167.4 1246.9L1167.3 1248.0L1167.3 1249.9L1167.3 1251.7L1167.3 1252.3L1167.3 1255.1L1167.3 1256.4L1167.3 1256.7L1167.3 1259.1L1167.3 1259.9L1167.3 1262.1L1167.3 1263.6L1167.3 1265.4L1167.3 1264.3L1167.3 1267.3L1167.3 1267.8L1167.3 1268.8L1167.3 1270.9L1167.3 1269.5L1167.3 1273.6L1167.3 1276.5L1167.3 1277.6L1167.3 1280.2L1167.3 1279.6L1167.3 1279.7L1167.3 1283.0L1167.3 1284.3L1167.3 1285.5L1167.3 1285.9L1167.2 1291.0L1167.2 1289.1L1167.2 1291.7L1167.2 1292.6L1167.2 1291.5L1167.2 1296.3L1167.2 1296.5L1167.2 1298.4L1167.2 1298.2L1167.2 1299.6L1167.2 1300.0L1167.2 1304.9L1167.2 1304.2L1167.2 1305.8L1167.2 1306.6L1167.2 1307.2L1167.2 1309.1L1167.1 1312.3L1167.1 1312.8L1167.1 1314.2L1167.1 1314.6L1167.1 1316.8L1167.1 1317.9L1167.1 1321.1L1167.1 1321.2L1167.1 1324.8L1167.1 1324.5L1167.1 1325.2L1167.1 1327.3L1167.1 1328.6L1167.1 1331.9L1167.0 1332.0L1167.0 1333.3L1167.0 1332.6L1167.0 1335.1L1167.0 1338.0L1167.0 1338.4L1167.0 1339.8L1167.0 1340.8L1167.0 1342.3L1167.0 1345.0L1167.0 1344.6L1167.0 1347.4L1166.9 1349.0L1166.9 1350.0L1166.9 1351.7L1166.9 1354.0L1166.9 1355.2L1166.9 1355.4L1166.9 1357.5L1166.9 1359.8L1166.9 1360.4L1166.9 1360.5L1166.9 1362.4L1166.8 1363.6L1166.8 1368.2L1166.8 1368.7L1166.8 1366.6L1166.8 1371.2L1166.8 1371.7L1166.8 1371.1L1166.8 1374.7L1166.8 1376.1L1166.8 1377.3L1166.7 1377.6L1166.7 1379.5L1166.7 1381.7L1166.7 1382.5L1166.7 1384.0L1166.7 1383.0L1166.7 1385.5L1166.7 1386.5L1166.7 1390.4L1166.7 1390.2L1166.6 1391.4L1166.6 1393.3L1166.6 1392.9L1166.6 1395.9L1166.6 1397.6L1166.6 1399.7L1166.6 1399.9L1166.6 1401.2L1166.6 1403.4L1166.5 1405.5L1166.5 1404.2L1166.5 1408.7L1166.5 1409.6L1166.5 1409.3L1166.5 1411.9L1166.5 1412.3L1166.5 1413.2L1166.5 1416.1L1166.4 1417.3L1166.4 1419.6L1166.4 1419.7L1166.4 1423.1L1166.4 1422.6L1166.4 1423.2L1166.4 1426.3L1166.4 1426.6L1166.3 1427.0L1166.3 1430.1L1166.3 1431.4L1166.3 1433.1L1166.3 1434.1L1166.3 1438.5L1166.3 1436.9L1166.3 1438.1L1166.2 1439.6L1166.2 1441.1L1166.2 1441.9L1166.2 1444.8L1166.2 1445.2L1166.2 1446.4L1166.2 1448.7L1166.2 1449.8L1166.1 1451.7L1166.1 1451.6L1166.1 1453.4L1166.1 1456.0L1166.1 1456.4L1166.1 1457.1L1166.1 1459.8L1166.1 1460.0L1166.0 1462.4L1166.0 1463.0L1166.0 1463.4L1166.0 1464.8L1166.0 1468.7L1166.0 1468.0L1166.0 1469.3L1165.9 1470.5L1165.9 1472.6L1165.9 1476.3L1165.9 1474.8L1165.9 1476.4L1165.9 1477.3L1165.9 1479.6L1165.8 1481.2L1165.8 1482.8L1165.8 1483.3L1165.8 1487.4L1165.8 1485.8L1165.8 1488.8L1165.8 1489.9L1165.8 1492.3L1165.7 1493.2L1165.7 1495.4L1165.7 1495.4L1165.7 1496.1L1165.7 1498.6L1165.7 1499.6L1165.7 1502.1L1165.6 1499.9L1165.6 1502.2L1165.6 1506.5L1165.6 1508.3L1165.6 1509.2L1165.6 1509.6L1165.6 1513.1L1165.5 1512.6L1165.5 1514.5L1165.5 1517.1L1165.5 1515.8L1165.5 1517.3L1165.5 1519.3L1165.5 1521.3L1165.4 1520.9L1165.4 1524.9L1165.4 1526.3L1165.4 1524.7L1165.4 1528.5L1165.4 1527.5L1165.3 1531.3L1165.3 1533.0L1165.3 1532.8L1165.3 1534.9L1165.3 1536.2L1165.3 1538.1L1165.3 1539.1L1165.2 1540.7L1165.2 1541.3L1165.2 1544.0L1165.2 1545.5L1165.2 1547.3L1165.2 1548.4L1165.2 1548.7L1165.1 1551.8L1165.1 1551.6L1165.1 1552.6L1165.1 1555.0L1165.1 1555.3L1165.1 1557.4L1165.1 1558.8L1165.0 1561.7L1165.0 1561.4L1165.0 1563.7L1165.0 1565.5L1165.0 1565.8L1165.0 1566.1L1165.0 1569.9L1164.9 1571.2L1164.9 1570.8L1164.9 1574.1L1164.9 1574.2L1164.9 1574.6L1164.9 1575.4L1164.8 1578.0L1164.8 1579.7L1164.8 1580.4L1164.8 1582.5L1164.8 1584.8L1164.8 1587.0L1164.8 1586.7L1164.7 1587.8L1164.7 1590.7L1164.7 1591.1L1164.7 1592.0L1164.7 1594.7L1164.7 1596.1L1164.7 1596.3L1164.6 1597.9L1164.6 1600.7L1164.6 1602.0L1164.6 1602.8L1164.6 1604.3" fill="none" stroke="#000000" stroke-width="9.5" stroke-linejoin="round" stroke-linecap="butt"/>
<path d="M1161.3 1580.1L1160.7 1582.9L1160.2 1584.9L1159.6 1584.7L1159.0 1587.6L1158.4 1586.8L1157.8 1588.6L1157.2 1592.0L1156.7 1592.0L1156.1 1593.0L1155.5 1594.9L1155.0 1595.6L1154.4 1596.0L1153.8 1597.0L1153.2 1600.0L1152.7 1600.6L1152.1 1602.5L1151.5 1603.1L1150.9 1603.6L1150.4 1606.9L1149.8 1607.4L1149.2 1607.9L1148.6 1609.0L1148.0 1610.7L1147.4 1612.8L1146.8 1615.0L1146.2 1614.5L1145.6 1615.1L1144.9 1616.8L1144.3 1617.7L1143.7 1617.8L1143.0 1619.6L1142.4 1621.5L1141.7 1622.8L1141.0 1625.2L1140.3 1624.4L1139.6 1625.4L1138.9 1626.9L1138.2 1628.5L1137.5 1628.1L1136.7 1628.2L1136.0 1632.0L1135.2 1631.8L1134.4 1633.8L1133.6 1633.1L1132.8 1635.5L1132.0 1635.8L1131.2 1636.1L1130.3 1637.2L1129.4 1640.4L1128.6 1640.6L1127.7 1641.4L1126.8 1639.9L1125.8 1641.9L1124.9 1643.3L1124.0 1644.7L1123.0 1646.4L1122.0 1646.2L1121.0 1646.8L1120.0 1646.4L1119.0 1648.1L1118.0 1649.3L1116.9 1650.4L1115.9 1650.9L1114.8 1651.5L1113.7 1652.1L1112.7 1653.1L1111.6 1652.1L1110.4 1654.5L1109.3 1656.6L1108.2 1655.5L1107.1 1656.6L1105.9 1657.1L1104.8 1657.8L1103.6 1657.8L1102.4 1659.9L1101.3 1659.6L1100.1 1660.7L1098.9 1661.0L1097.7 1660.5L1096.5 1661.2L1095.3 1661.0L1094.1 1663.0L1092.9 1664.4L1091.7 1664.1L1090.4 1663.5L1089.2 1664.6L1088.0 1666.2L1086.7 1666.2L1085.5 1665.3L1084.2 1668.1L1083.0 1668.2L1081.7 1666.9L1080.4 1669.4L1079.2 1670.1L1077.9 1667.8L1076.6 1670.5L1075.3 1669.3L1074.1 1668.9L1072.8 1670.8L1071.5 1671.7L1070.2 1672.5L1068.9 1671.6L1067.6 1673.7L1066.3 1673.4L1065.0 1673.7L1063.7 1674.1L1062.4 1674.4L1061.1 1676.2L1059.8 1675.2L1058.5 1675.0L1057.2 1676.6L1055.9 1678.0L1054.5 1678.0L1053.2 1679.7L1051.9 1677.3L1050.6 1679.8L1049.3 1678.5L1047.9 1679.3L1046.6 1679.1L1045.3 1678.7L1043.9 1681.0L1042.6 1681.6L1041.3 1681.1L1039.9 1681.8L1038.6 1683.7L1037.3 1682.8L1035.9 1682.9L1034.6 1683.4L1033.3 1682.5L1031.9 1683.1L1030.6 1682.9L1029.2 1685.2L1027.9 1685.3L1026.5 1686.8L1025.2 1687.4L1023.8 1686.9L1022.5 1685.6L1021.1 1687.0L1019.8 1688.4L1018.5 1686.7L1017.1 1687.0L1015.8 1689.0L1014.4 1688.5L1013.1 1688.1L1011.7 1690.1L1010.4 1689.1L1009.0 1688.4L1007.7 1690.0L1006.3 1692.3L1005.0 1691.3L1003.6 1691.0L1002.3 1691.9L1000.9 1692.3L999.6 1691.7L998.2 1692.0L996.9 1693.5L995.5 1694.3L994.2 1694.0L992.8 1694.9L991.4 1694.9L990.1 1695.8L988.7 1696.1L987.4 1693.2L986.0 1696.3L984.7 1697.1L983.3 1697.8L982.0 1694.8L980.6 1695.9L979.3 1698.0L977.9 1698.2L976.5 1697.3L975.2 1699.5L973.8 1700.5L972.5 1699.4L971.1 1697.6L969.7 1699.3L968.4 1700.6L967.0 1699.9L965.7 1700.6L964.3 1700.3L963.0 1702.6L961.6 1702.0L960.2 1701.5L958.9 1700.5L957.5 1703.0L956.1 1701.2L954.8 1703.4L953.4 1702.2L952.1 1703.1L950.7 1701.9L949.3 1702.8L948.0 1703.7L946.6 1703.9L945.2 1704.3L943.9 1703.8L942.5 1704.8L941.1 1705.2L939.8 1705.2L938.4 1706.1L937.0 1707.1L935.7 1706.8L934.3 1706.2L932.9 1707.6L931.6 1706.6L930.2 1707.3L928.8 1708.4L927.5 1706.4L926.1 1708.3L924.7 1706.5L923.4 1709.2L922.0 1707.0L920.6 1708.8L919.2 1710.1L917.9 1711.1L916.5 1709.2L915.1 1708.2L913.7 1710.0L912.4 1711.9L911.0 1711.5L909.6 1709.3L908.2 1710.6L906.8 1711.3L905.5 1712.4L904.1 1712.5L902.7 1713.8L901.3 1711.7L899.9 1711.9L898.5 1713.1L897.2 1713.8L895.8 1715.2L894.4 1713.1L893.0 1715.0L891.6 1713.6L890.2 1715.8L888.8 1717.0L887.5 1714.7L886.1 1715.4L884.7 1714.9L883.3 1717.4L881.9 1716.6L880.5 1715.5L879.1 1715.4L877.8 1717.2L876.4 1716.1L875.0 1717.2L873.6 1717.9L872.2 1718.5L870.8 1719.0L869.5 1718.1L868.1 1720.9L866.7 1719.3L865.3 1720.7L863.9 1719.9L862.6 1720.9L861.2 1720.5L859.8 1720.0L858.4 1721.9L857.0 1720.8L855.7 1723.3L854.3 1722.2L852.9 1724.2L851.5 1725.4L850.1 1722.7L848.8 1723.0L847.4 1721.6L846.0 1723.2L844.6 1723.2L843.3 1723.8L841.9 1724.1L840.5 1726.3L839.1 1724.3L837.8 1724.6L836.4 1726.1L835.0 1724.4L833.6 1725.9L832.3 1727.0L830.9 1727.4L829.5 1726.2L828.1 1726.6L826.8 1729.6L825.4 1728.5L824.0 1729.3L822.7 1730.4L821.3 1728.9L819.9 1728.5L818.5 1730.2L817.2 1730.3L815.8 1730.5L814.4 1730.4L813.0 1731.0L811.7 1730.1L810.3 1733.0L808.9 1731.7L807.6 1731.1L806.2 1731.2L804.8 1732.9L803.4 1733.5L802.1 1731.6L800.7 1733.1L799.3 1731.6L798.0 1735.4L796.6 1734.5L795.2 1733.7L793.8 1733.7L792.5 1733.3L791.1 1735.5L789.7 1736.8L788.4 1734.6L787.0 1735.7L785.6 1737.6L784.2 1736.0L782.9 1736.6L781.5 1736.6L780.1 1737.6L778.8 1737.9L777.4 1736.9L776.0 1738.6L774.6 1737.4L773.3 1739.0L771.9 1740.1L770.5 1737.9L769.1 1739.4L767.8 1740.7L766.4 1741.4L765.0 1740.2L763.7 1741.5L762.3 1741.7L760.9 1741.6L759.5 1740.9L758.2 1742.2L756.8 1743.2L755.4 1742.6L754.1 1741.1L752.7 1742.9L751.3 1742.6L749.9 1741.6L748.6 1745.0L747.2 1744.1L745.8 1744.7L744.4 1744.2L743.1 1745.3L741.7 1744.4L740.3 1744.5L738.9 1744.1L737.6 1745.9L736.2 1744.1L734.8 1745.7L733.4 1746.6L732.1 1747.2L730.7 1746.8L729.3 1747.5L727.9 1747.6L726.6 1749.1L725.2 1748.1L723.8 1747.7L722.4 1747.8L721.0 1749.7L719.7 1748.8L718.3 1747.7L716.9 1749.6L715.5 1750.1L714.2 1748.5L712.8 1748.4L711.4 1751.1L710.0 1750.2L708.6 1751.0L707.3 1750.1L705.9 1751.3L704.5 1752.8L703.1 1751.5L701.7 1751.7L700.4 1750.7L699.0 1752.0L697.6 1754.5L696.2 1752.5L694.8 1753.6L693.5 1753.2L692.1 1752.4L690.7 1752.8L689.3 1753.8L687.9 1754.1L686.6 1756.2L685.2 1754.0L683.8 1753.6L682.4 1753.6L681.0 1755.9L679.6 1755.4L678.3 1755.4L676.9 1756.6L675.5 1755.5L674.1 1756.4L672.7 1756.8L671.4 1758.2L670.0 1757.5L668.6 1756.1L667.2 1756.5L665.8 1758.4L664.4 1758.5L663.1 1759.1L661.7 1759.1L660.3 1758.8L658.9 1758.9L657.5 1759.5L656.1 1760.8L654.8 1759.9L653.4 1760.2L652.0 1759.8L650.6 1759.8L649.2 1760.0L647.8 1762.1L646.4 1761.1L645.1 1761.1L643.7 1761.5L642.3 1758.7L640.9 1760.5L639.5 1762.3L638.1 1762.9L636.8 1762.7L635.4 1763.5L634.0 1762.8L632.6 1762.9L631.2 1762.8L629.8 1763.0L628.4 1763.5L627.1 1764.2L625.7 1764.6L624.3 1764.4L622.9 1763.8L621.5 1766.0L620.1 1765.2L618.8 1765.8L617.4 1764.8L616.0 1766.1L614.6 1766.3L613.2 1766.1L611.8 1766.5L610.4 1765.9L609.1 1766.4L607.7 1767.9L606.3 1769.2L604.9 1767.8L603.5 1766.8L602.1 1769.5L600.7 1769.3L599.4 1767.0L598.0 1768.9L596.6 1768.0L595.2 1771.2L593.8 1770.2L592.4 1770.2L591.1 1770.8L589.7 1770.9L588.3 1772.9L586.9 1772.1L585.5 1771.9L584.1 1772.2L582.7 1772.2L581.4 1772.3L580.0 1772.3L578.6 1772.0L577.2 1773.6L575.8 1774.2L574.4 1771.6L573.0 1774.4L571.7 1773.4L570.3 1775.2L568.9 1775.8L567.5 1775.2L566.1 1774.3L564.7 1775.2L563.4 1776.7L562.0 1775.4L560.6 1775.3L559.2 1776.3L557.8 1776.7L556.4 1775.9L555.1 1778.3L553.7 1776.9L552.3 1777.0L550.9 1778.5L549.5 1778.9L548.1 1778.5L546.8 1778.5L545.4 1780.5L544.0 1779.8L542.6 1780.0L541.2 1781.0L539.9 1781.9L538.5 1781.0L537.1 1781.1L535.7 1783.3L534.3 1782.2L533.0 1785.5L531.6 1783.2L530.2 1782.6L528.8 1783.2L527.5 1784.3L526.1 1785.4L524.7 1782.8L523.3 1784.2L522.0 1785.1L520.6 1785.4L519.2 1785.5L517.8 1785.4L516.5 1787.0L515.1 1784.7L513.7 1788.3L512.4 1788.0L511.0 1789.7L509.6 1787.0L508.3 1788.4L506.9 1790.6L505.5 1788.6L504.2 1788.8L502.8 1791.1L501.4 1790.9L500.1 1790.4L498.7 1791.7L497.3 1791.1L496.0 1790.8L494.6 1791.3L493.2 1791.6L491.9 1791.7L490.5 1794.1L489.2 1794.9L487.8 1793.6L486.4 1794.8L485.1 1794.0L483.7 1795.7L482.4 1796.9L481.0 1796.4L479.6 1795.7L478.3 1797.5L476.9 1798.0L475.6 1798.9L474.2 1796.0L472.9 1799.6L471.5 1797.8L470.1 1798.0L468.8 1800.0L467.4 1800.8L466.1 1799.4L464.7 1800.7L463.4 1800.7L462.0 1801.2L460.7 1801.9L459.3 1801.4L458.0 1802.3L456.6 1801.2L455.3 1803.8L453.9 1803.3L452.6 1804.0L451.2 1806.0L449.9 1805.1L448.5 1805.2L447.2 1804.4L445.8 1806.0L444.5 1807.0L443.1 1806.9L441.8 1807.0L440.4 1806.7L439.1 1807.8L437.8 1808.7L436.4 1809.6L435.1 1808.4L433.7 1810.4L432.4 1809.1L431.0 1810.1L429.7 1810.7L428.3 1812.6L427.0 1812.5L425.7 1812.6L424.3 1812.2L423.0 1815.1L421.6 1812.7L420.3 1813.9L419.0 1815.3L417.6 1814.6L416.3 1815.3L414.9 1816.2L413.6 1816.2L412.3 1817.3L410.9 1817.5L409.6 1817.5L408.2 1819.4L406.9 1817.4L405.6 1821.9L404.2 1819.1L402.9 1820.4L401.5 1820.1L400.2 1820.5L398.9 1820.9L397.5 1820.6L396.2 1822.2L394.8 1821.2L393.5 1824.7L392.2 1822.4L390.8 1823.8L389.5 1822.8L388.2 1824.2L386.8 1826.1L385.5 1824.5L384.2 1825.8L382.8 1827.5L381.5 1826.2L380.1 1828.8L378.8 1826.8L377.5 1827.5L376.1 1826.9L374.8 1828.0L373.5 1829.6L372.1 1831.6L370.8 1829.4L369.5 1831.0L368.1 1831.6L366.8 1830.6L365.5 1832.2L364.1 1832.9L362.8 1833.6L361.5 1833.4L360.1 1833.6L358.8 1833.8L357.5 1835.6L356.1 1834.4L354.8 1835.2L353.5 1835.2L352.1 1836.9L350.8 1835.2L349.5 1837.3L348.1 1838.3L346.8 1838.1L345.5 1837.8L344.2 1838.4L342.8 1840.3L341.5 1839.6L340.2 1841.4L338.8 1842.2L337.5 1841.0" fill="none" stroke="#000000" stroke-width="9.5" stroke-linejoin="round" stroke-linecap="butt"/>
<path d="M1161.3 1582.4L1160.7 1584.4L1160.2 1585.3L1159.6 1584.1L1159.0 1586.2L1158.4 1588.9L1157.8 1591.7L1157.2 1591.1L1156.7 1591.9L1156.1 1594.3L1155.5 1595.5L1155.0 1596.3L1154.4 1597.2L1153.8 1598.1L1153.2 1600.6L1152.7 1601.7L1152.1 1602.2L1151.5 1603.8L1150.9 1605.1L1150.4 1606.5L1149.8 1607.1L1149.2 1610.5L1148.6 1609.7L1148.0 1611.2L1147.4 1613.4L1146.8 1614.8L1146.2 1615.5L1145.6 1617.6L1144.9 1617.5L1144.3 1618.9L1143.7 1621.1L1143.0 1619.6L1142.4 1622.0L1141.7 1624.6L1141.0 1622.3L1140.3 1628.5L1139.6 1627.0L1138.9 1628.6L1138.2 1630.6L1137.5 1629.7L1136.7 1633.3L1136.0 1635.0L1135.2 1634.4L1134.4 1635.2L1133.6 1636.8L1132.8 1639.1L1132.0 1639.0L1131.2 1638.3L1130.3 1642.2L1129.4 1642.6L1128.6 1642.8L1127.7 1642.7L1126.8 1646.3L1125.8 1646.5L1124.9 1647.0L1124.0 1648.6L1123.0 1650.0L1122.0 1650.8L1121.0 1650.9L1120.0 1651.7L1119.0 1652.1L1118.0 1652.2L1116.9 1655.4L1115.9 1653.7L1114.8 1656.5L1113.7 1657.1L1112.7 1656.5L1111.6 1658.2L1110.4 1659.5L1109.3 1659.1L1108.2 1660.2L1107.1 1662.1L1105.9 1660.6L1104.8 1661.4L1103.6 1660.1L1102.4 1662.5L1101.3 1665.2L1100.1 1666.1L1098.9 1664.9L1097.7 1666.2L1096.5 1666.9L1095.3 1667.7L1094.1 1668.0L1092.9 1666.8L1091.7 1669.7L1090.4 1669.1L1089.2 1670.8L1088.0 1671.3L1086.7 1671.1L1085.5 1675.1L1084.2 1670.8L1083.0 1674.7L1081.7 1674.7L1080.4 1674.2L1079.2 1673.8L1077.9 1676.1L1076.6 1674.3L1075.3 1676.2L1074.1 1678.0L1072.8 1677.6L1071.5 1677.9L1070.2 1678.4L1068.9 1677.9L1067.6 1680.1L1066.3 1678.0L1065.0 1679.7L1063.7 1679.0L1062.4 1682.1L1061.1 1680.6L1059.8 1682.4L1058.5 1683.8L1057.2 1683.5L1055.9 1684.1L1054.5 1683.3L1053.2 1682.0L1051.9 1684.2L1050.6 1685.1L1049.3 1685.9L1047.9 1685.4L1046.6 1686.1L1045.3 1686.1L1043.9 1685.8L1042.6 1687.2L1041.3 1687.2L1039.9 1686.7L1038.6 1687.8L1037.3 1688.3L1035.9 1689.5L1034.6 1688.7L1033.3 1691.8L1031.9 1690.8L1030.6 1689.9L1029.2 1691.3L1027.9 1690.7L1026.5 1689.9L1025.2 1693.0L1023.8 1690.2L1022.5 1693.6L1021.1 1694.4L1019.8 1693.2L1018.5 1692.9L1017.1 1693.8L1015.8 1693.8L1014.4 1693.8L1013.1 1696.3L1011.7 1695.2L1010.4 1695.9L1009.0 1695.6L1007.7 1696.3L1006.3 1697.2L1005.0 1699.4L1003.6 1700.7L1002.3 1698.4L1000.9 1697.8L999.6 1700.2L998.2 1698.6L996.9 1698.2L995.5 1699.8L994.2 1699.3L992.8 1699.7L991.4 1699.2L990.1 1699.0L988.7 1700.0L987.4 1702.3L986.0 1702.4L984.7 1703.2L983.3 1702.8L982.0 1703.7L980.6 1703.9L979.3 1703.8L977.9 1703.8L976.5 1703.8L975.2 1707.6L973.8 1705.4L972.5 1704.4L971.1 1707.1L969.7 1705.4L968.4 1706.8L967.0 1706.7L965.7 1706.8L964.3 1707.2L963.0 1706.7L961.6 1709.6L960.2 1708.2L958.9 1707.8L957.5 1707.5L956.1 1708.2L954.8 1710.4L953.4 1708.5L952.1 1710.2L950.7 1710.4L949.3 1709.5L948.0 1712.7L946.6 1712.6L945.2 1710.9L943.9 1712.6L942.5 1711.1L941.1 1713.0L939.8 1712.7L938.4 1713.3L937.0 1712.6L935.7 1712.1L934.3 1711.8L932.9 1715.4L931.6 1713.1L930.2 1713.0L928.8 1714.1L927.5 1715.7L926.1 1715.6L924.7 1714.2L923.4 1715.9L922.0 1717.4L920.6 1716.0L919.2 1716.5L917.9 1717.6L916.5 1718.0L915.1 1716.4L913.7 1716.8L912.4 1720.4L911.0 1718.0L909.6 1718.0L908.2 1717.3L906.8 1718.8L905.5 1718.7L904.1 1718.2L902.7 1719.3L901.3 1719.4L899.9 1719.4L898.5 1719.7L897.2 1720.2L895.8 1721.5L894.4 1719.6L893.0 1720.7L891.6 1721.3L890.2 1721.7L888.8 1722.1L887.5 1722.5L886.1 1721.7L884.7 1721.2L883.3 1721.9L881.9 1723.4L880.5 1722.6L879.1 1723.0L877.8 1724.2L876.4 1725.3L875.0 1723.8L873.6 1724.7L872.2 1723.9L870.8 1725.6L869.5 1724.5L868.1 1726.6L866.7 1725.3L865.3 1724.7L863.9 1726.5L862.6 1726.1L861.2 1727.2L859.8 1726.2L858.4 1727.5L857.0 1727.2L855.7 1730.2L854.3 1728.6L852.9 1728.8L851.5 1729.7L850.1 1730.3L848.8 1729.5L847.4 1729.4L846.0 1729.0L844.6 1729.8L843.3 1730.9L841.9 1728.8L840.5 1729.1L839.1 1732.2L837.8 1731.9L836.4 1733.0L835.0 1732.3L833.6 1732.2L832.3 1732.5L830.9 1733.8L829.5 1733.6L828.1 1734.2L826.8 1734.3L825.4 1733.3L824.0 1734.3L822.7 1733.4L821.3 1734.7L819.9 1734.6L818.5 1736.3L817.2 1735.7L815.8 1735.7L814.4 1736.5L813.0 1736.2L811.7 1737.3L810.3 1736.0L808.9 1737.0L807.6 1737.9L806.2 1738.0L804.8 1739.0L803.4 1738.2L802.1 1741.0L800.7 1738.9L799.3 1740.2L798.0 1740.1L796.6 1741.3L795.2 1740.2L793.8 1740.8L792.5 1741.4L791.1 1742.1L789.7 1743.2L788.4 1744.0L787.0 1741.5L785.6 1743.0L784.2 1742.5L782.9 1741.5L781.5 1744.6L780.1 1745.0L778.8 1742.7L777.4 1742.6L776.0 1745.4L774.6 1745.6L773.3 1746.9L771.9 1744.7L770.5 1745.6L769.1 1746.6L767.8 1745.9L766.4 1748.5L765.0 1746.6L763.7 1747.3L762.3 1744.3L760.9 1746.6L759.5 1748.2L758.2 1748.2L756.8 1747.3L755.4 1748.3L754.1 1749.5L752.7 1750.0L751.3 1747.7L749.9 1749.8L748.6 1749.7L747.2 1750.4L745.8 1750.1L744.4 1749.2L743.1 1752.2L741.7 1751.0L740.3 1751.7L738.9 1750.7L737.6 1753.5L736.2 1752.4L734.8 1752.7L733.4 1752.9L732.1 1750.9L730.7 1750.2L729.3 1754.6L727.9 1752.0L726.6 1752.9L725.2 1753.7L723.8 1756.2L722.4 1753.3L721.0 1755.8L719.7 1756.2L718.3 1754.0L716.9 1756.4L715.5 1755.4L714.2 1756.9L712.8 1756.2L711.4 1757.5L710.0 1756.4L708.6 1756.4L707.3 1757.5L705.9 1756.6L704.5 1758.2L703.1 1757.2L701.7 1755.3L700.4 1759.1L699.0 1758.3L697.6 1759.8L696.2 1760.3L694.8 1759.2L693.5 1759.3L692.1 1759.4L690.7 1759.7L689.3 1759.2L687.9 1762.3L686.6 1762.0L685.2 1761.0L683.8 1761.6L682.4 1761.8L681.0 1761.7L679.6 1762.2L678.3 1761.2L676.9 1761.3L675.5 1761.2L674.1 1763.2L672.7 1764.0L671.4 1765.5L670.0 1761.9L668.6 1763.5L667.2 1762.8L665.8 1764.7L664.4 1764.3L663.1 1763.3L661.7 1764.3L660.3 1765.6L658.9 1766.6L657.5 1765.5L656.1 1766.3L654.8 1765.5L653.4 1766.1L652.0 1766.8L650.6 1765.6L649.2 1767.4L647.8 1766.7L646.4 1767.4L645.1 1768.0L643.7 1768.6L642.3 1766.2L640.9 1768.2L639.5 1769.4L638.1 1769.5L636.8 1768.7L635.4 1767.9L634.0 1769.1L632.6 1769.9L631.2 1769.4L629.8 1770.1L628.4 1770.7L627.1 1769.3L625.7 1771.2L624.3 1771.1L622.9 1770.8L621.5 1770.9L620.1 1774.1L618.8 1772.9L617.4 1772.2L616.0 1772.0L614.6 1773.3L613.2 1771.6L611.8 1774.3L610.4 1774.7L609.1 1774.6L607.7 1772.1L606.3 1774.3L604.9 1775.6L603.5 1772.8L602.1 1774.6L600.7 1775.7L599.4 1774.6L598.0 1774.4L596.6 1776.5L595.2 1776.3L593.8 1779.7L592.4 1777.4L591.1 1775.4L589.7 1776.2L588.3 1777.5L586.9 1776.0L585.5 1779.2L584.1 1779.6L582.7 1778.1L581.4 1780.4L580.0 1780.8L578.6 1779.8L577.2 1779.3L575.8 1778.8L574.4 1781.2L573.0 1781.1L571.7 1781.2L570.3 1781.8L568.9 1782.1L567.5 1781.7L566.1 1782.9L564.7 1780.7L563.4 1783.9L562.0 1781.8L560.6 1783.4L559.2 1783.0L557.8 1782.4L556.4 1784.6L555.1 1784.0L553.7 1785.1L552.3 1784.1L550.9 1785.2L549.5 1786.9L548.1 1785.8L546.8 1785.2L545.4 1787.2L544.0 1787.8L542.6 1787.4L541.2 1786.2L539.9 1788.4L538.5 1786.8L537.1 1787.1L535.7 1788.5L534.3 1790.7L533.0 1789.9L531.6 1788.7L530.2 1788.0L528.8 1790.3L527.5 1789.9L526.1 1789.8L524.7 1791.9L523.3 1791.6L522.0 1793.3L520.6 1790.9L519.2 1792.8L517.8 1792.9L516.5 1792.7L515.1 1794.2L513.7 1793.7L512.4 1794.9L511.0 1794.8L509.6 1794.2L508.3 1795.3L506.9 1794.0L505.5 1795.2L504.2 1796.0L502.8 1796.2L501.4 1796.0L500.1 1800.1L498.7 1797.7L497.3 1797.3L496.0 1798.5L494.6 1798.8L493.2 1798.4L491.9 1797.9L490.5 1799.8L489.2 1800.7L487.8 1802.0L486.4 1801.4L485.1 1803.0L483.7 1801.1L482.4 1801.2L481.0 1801.1L479.6 1803.3L478.3 1802.7L476.9 1802.6L475.6 1804.8L474.2 1804.8L472.9 1806.5L471.5 1805.0L470.1 1804.4L468.8 1804.0L467.4 1806.8L466.1 1806.4L464.7 1806.5L463.4 1809.1L462.0 1807.0L460.7 1807.1L459.3 1810.4L458.0 1808.9L456.6 1810.9L455.3 1809.9L453.9 1810.2L452.6 1810.7L451.2 1809.6L449.9 1812.2L448.5 1812.4L447.2 1813.2L445.8 1813.4L444.5 1813.0L443.1 1813.7L441.8 1814.5L440.4 1814.5L439.1 1814.6L437.8 1815.2L436.4 1814.9L435.1 1815.5L433.7 1816.1L432.4 1816.7L431.0 1818.7L429.7 1820.5L428.3 1816.8L427.0 1818.2L425.7 1818.2L424.3 1820.4L423.0 1819.0L421.6 1819.1L420.3 1819.9L419.0 1820.3L417.6 1822.0L416.3 1822.9L414.9 1821.7L413.6 1823.6L412.3 1821.8L410.9 1823.4L409.6 1825.2L408.2 1826.0L406.9 1824.2L405.6 1824.7L404.2 1826.3L402.9 1824.7L401.5 1826.1L400.2 1825.0L398.9 1828.8L397.5 1827.4L396.2 1827.8L394.8 1828.5L393.5 1829.9L392.2 1830.1L390.8 1828.1L389.5 1830.5L388.2 1829.9L386.8 1830.9L385.5 1832.0L384.2 1833.0L382.8 1832.0L381.5 1832.6L380.1 1833.6L378.8 1832.3L377.5 1833.9L376.1 1834.2L374.8 1834.5L373.5 1836.7L372.1 1837.0L370.8 1837.5L369.5 1836.2L368.1 1836.5L366.8 1838.0L365.5 1836.4L364.1 1840.2L362.8 1840.1L361.5 1839.5L360.1 1838.2L358.8 1842.0L357.5 1841.2L356.1 1842.9L354.8 1841.9L353.5 1841.9L352.1 1842.7L350.8 1843.9L349.5 1843.4L348.1 1844.7L346.8 1845.4L345.5 1844.7L344.2 1844.7L342.8 1844.8L341.5 1846.7L340.2 1848.7L338.8 1847.1L337.5 1849.2" fill="none" stroke="#000000" stroke-width="9.5" stroke-linejoin="round" stroke-linecap="butt"/>
<path d="M413.2 1739.0L413.2 1737.1L413.2 1735.7L413.2 1734.1L413.2 1730.8L413.2 1730.4L413.2 1727.7L413.2 1724.8L413.2 1722.8L413.2 1721.2L413.2 1719.0L413.2 1716.5L413.3 1714.2L413.3 1713.6L413.3 1710.7L413.3 1710.0L413.3 1708.3L413.3 1705.0L413.3 1703.9L413.3 1700.9L413.3 1700.2L413.3 1697.6L413.3 1694.3L413.4 1692.9L413.4 1691.0L413.4 1689.3L413.4 1687.9L413.4 1684.2L413.4 1683.1L413.4 1682.3L413.4 1678.9L413.5 1676.8L413.5 1675.2L413.5 1672.5L413.5 1671.5L413.5 1669.2L413.5 1667.6L413.6 1665.7L413.6 1664.1L413.6 1660.9L413.6 1659.3L413.6 1656.2L413.6 1655.6L413.7 1653.2L413.7 1651.3L413.7 1648.9L413.7 1647.0L413.7 1645.6L413.8 1643.0L413.8 1641.1L413.8 1638.9L413.8 1637.0L413.8 1635.5L413.9 1632.7L413.9 1630.8L413.9 1628.7L413.9 1626.8L413.9 1625.0L414.0 1622.7L414.0 1620.9L414.0 1619.4L414.0 1616.7L414.1 1614.7L414.1 1613.5L414.1 1610.9L414.1 1609.2L414.1 1606.3L414.2 1604.8L414.2 1604.1L414.2 1601.3L414.2 1599.0L414.3 1597.1L414.3 1594.4L414.3 1592.5L414.3 1590.9L414.4 1589.3L414.4 1585.8L414.4 1586.0L414.4 1582.5L414.5 1580.7L414.5 1577.8L414.5 1576.3L414.6 1574.9L414.6 1573.1L414.6 1570.2L414.6 1568.1L414.7 1566.3L414.7 1565.6L414.7 1562.6L414.7 1561.3L414.8 1559.0L414.8 1557.6L414.8 1555.2L414.9 1552.6L414.9 1550.4L414.9 1549.4L414.9 1547.0L415.0 1545.0L415.0 1543.5L415.0 1540.9L415.1 1539.2L415.1 1536.5L415.1 1534.2L415.1 1532.3L415.2 1530.5L415.2 1529.5L415.2 1526.9L415.3 1524.7L415.3 1522.3L415.3 1520.7L415.3 1519.6L415.4 1517.3L415.4 1514.9L415.4 1512.7L415.5 1511.1L415.5 1508.8L415.5 1507.2L415.5 1505.2L415.6 1503.3L415.6 1500.4L415.6 1498.2L415.7 1497.5L415.7 1494.2L415.7 1492.3L415.7 1490.6L415.8 1488.9L415.8 1486.6L415.8 1485.2L415.9 1482.1L415.9 1480.1L415.9 1478.3L416.0 1477.0L416.0 1474.9L416.0 1472.4L416.0 1471.0L416.1 1468.8L416.1 1466.5L416.1 1464.3L416.2 1462.8L416.2 1460.4L416.2 1458.6L416.3 1456.2L416.3 1454.4L416.3 1452.6L416.4 1450.4L416.4 1448.8L416.4 1446.7L416.5 1444.5L416.5 1443.0L416.6 1440.0L416.6 1439.2L416.6 1435.8L416.7 1435.2L416.7 1433.2L416.8 1431.3L416.8 1428.8L416.8 1427.0L416.9 1425.0L416.9 1422.7L417.0 1420.8L417.0 1419.0L417.1 1416.7L417.1 1414.6L417.2 1412.7L417.2 1410.7L417.3 1409.3L417.3 1406.2L417.4 1404.3L417.5 1402.9L417.5 1400.3L417.6 1398.1L417.6 1396.6L417.7 1394.8L417.8 1393.1L417.8 1390.0L417.9 1388.3L418.0 1386.6L418.0 1384.7L418.1 1382.8L418.2 1380.7L418.3 1378.4L418.4 1376.0L418.4 1374.4L418.5 1373.4L418.6 1371.2L418.7 1368.8L418.8 1366.1L418.9 1364.3L419.0 1363.0L419.1 1359.8L419.2 1358.1L419.3 1356.8L419.4 1353.6L419.5 1352.9L419.7 1350.4L419.8 1349.7L420.0 1346.7L420.1 1345.0L420.3 1343.0L420.5 1341.6L420.7 1338.8L420.9 1337.1L421.1 1334.6L421.3 1332.2L421.6 1331.0L421.9 1329.1L422.2 1326.8L422.5 1324.7L422.9 1323.4L423.2 1321.4L423.6 1319.3L424.0 1318.6L424.4 1315.5L424.9 1314.2L425.3 1311.2L425.8 1310.6L426.3 1307.8L426.8 1305.7L427.3 1303.9L427.9 1302.1L428.4 1300.0L429.0 1297.9L429.6 1296.4L430.2 1294.1L430.8 1292.6L431.4 1290.7L432.1 1288.6L432.7 1287.2L433.4 1285.2L434.1 1283.3L434.8 1281.1L435.5 1278.7L436.2 1279.1L437.0 1276.3L437.7 1274.1L438.5 1272.6L439.2 1270.6L440.0 1268.7L440.8 1266.2L441.6 1264.5L442.4 1263.7L443.3 1262.2L444.1 1260.5L445.0 1257.5L445.9 1256.8L446.8 1255.8L447.8 1253.4L448.7 1251.7L449.7 1250.0L450.8 1247.2L451.8 1247.0L452.9 1245.4L454.1 1243.4L455.2 1241.5L456.4 1240.2L457.7 1239.1L458.9 1238.0L460.2 1236.1L461.5 1234.9L462.9 1233.4L464.3 1231.8L465.7 1230.3L467.1 1229.6L468.6 1228.2L470.1 1227.1L471.6 1227.0L473.1 1225.1L474.7 1222.9L476.2 1222.7L477.8 1221.5L479.4 1221.3L481.1 1219.5L482.7 1218.9L484.4 1217.5L486.0 1216.4L487.7 1214.3L489.4 1214.8L491.1 1214.2L492.8 1212.1L494.5 1212.2L496.3 1209.8L498.0 1209.7L499.8 1208.9L501.5 1208.5L503.3 1207.5L505.1 1206.0L506.9 1206.4L508.7 1203.9L510.5 1203.5L512.3 1202.8L514.1 1201.3L515.9 1201.0L517.7 1200.9L519.5 1201.1L521.4 1200.2L523.2 1198.7L525.1 1198.4L526.9 1196.3L528.8 1196.9L530.6 1196.9L532.5 1195.0L534.4 1195.4L536.2 1193.7L538.1 1193.8L540.0 1193.2L541.9 1192.9L543.8 1192.4L545.7 1192.4L547.6 1191.5L549.5 1190.6L551.4 1190.0L553.3 1189.2L555.2 1189.0L557.1 1188.0L559.0 1187.6L560.9 1188.4L562.8 1188.0L564.7 1187.7L566.7 1186.7L568.6 1186.9L570.6 1185.5L572.5 1186.5L574.5 1186.2L576.4 1186.3L578.4 1185.4L580.4 1185.1L582.4 1184.1L584.4 1185.1L586.4 1184.3L588.3 1183.7L590.3 1183.8L592.3 1184.2L594.3 1184.2L596.3 1182.8L598.3 1181.9L600.3 1182.2L602.3 1182.1L604.2 1181.7L606.2 1181.7L608.2 1181.1L610.2 1180.9L612.2 1181.1L614.2 1179.6L616.1 1180.2L618.1 1180.3L620.1 1179.3L622.1 1179.2L624.1 1179.4L626.1 1179.7L628.0 1177.6L630.0 1178.5L632.0 1178.0L634.0 1176.5L636.0 1177.5L637.9 1176.6L639.9 1177.9L641.9 1177.5L643.9 1175.6L645.9 1176.5L647.8 1175.4L649.8 1175.5L651.8 1175.9L653.8 1175.2L655.8 1175.0L657.7 1173.7L659.7 1173.5L661.7 1173.5L663.7 1174.3L665.7 1174.3L667.7 1173.8L669.6 1173.7L671.6 1173.0L673.6 1173.6L675.6 1173.6L677.6 1172.6L679.6 1172.8L681.5 1173.3L683.5 1171.8L685.5 1171.9L687.5 1172.2L689.5 1171.8L691.5 1171.2L693.5 1171.6L695.5 1171.4L697.5 1171.7L699.5 1171.9L701.4 1170.5L703.4 1170.5L705.4 1171.6L707.4 1170.8L709.4 1170.5L711.4 1170.3L713.4 1170.8L715.4 1170.0L717.4 1170.6L719.4 1170.0L721.4 1170.0L723.4 1169.5L725.4 1170.5L727.4 1170.5L729.4 1169.3L731.4 1169.9L733.4 1170.7L735.4 1169.1L737.4 1169.2L739.3 1169.7L741.3 1168.7L743.3 1169.5L745.3 1169.8L747.3 1169.6L749.3 1169.1L751.3 1169.1L753.3 1169.0L755.3 1169.1L757.3 1168.8L759.3 1168.6L761.3 1169.7L763.3 1168.8L765.3 1167.6L767.3 1168.6L769.3 1168.7L771.3 1169.1L773.3 1168.1L775.3 1168.0L777.3 1168.4L779.3 1168.8L781.3 1168.6L783.3 1167.9L785.3 1168.6L787.3 1167.9L789.3 1167.4L791.4 1167.6L793.4 1168.2L795.4 1167.8L797.4 1168.4L799.4 1167.9L801.4 1168.1L803.4 1167.6L805.4 1168.6L807.4 1168.1L809.4 1168.7L811.4 1168.4L813.4 1167.9L815.4 1168.4L817.4 1167.6L819.4 1167.8L821.4 1167.7L823.4 1167.2L825.4 1167.3L827.4 1168.1L829.4 1167.7L831.4 1168.1L833.4 1167.3L835.4 1168.0L837.4 1168.2L839.4 1167.7L841.4 1168.2L843.4 1168.0L845.4 1167.9L847.4 1167.5L849.4 1169.0L851.4 1167.7L853.4 1168.2L855.4 1167.7L857.4 1167.4L859.4 1167.9L861.4 1168.9L863.4 1167.6L865.4 1168.6L867.4 1168.2L869.5 1167.7L871.5 1168.2L873.5 1167.9L875.5 1168.0L877.5 1168.2L879.5 1168.2L881.5 1167.6L883.5 1168.4L885.5 1168.3L887.5 1168.5L889.5 1167.9L891.5 1168.5L893.5 1167.7L895.5 1168.5L897.5 1167.8L899.5 1168.4L901.5 1168.3L903.5 1167.5L905.5 1168.5L907.5 1167.4L909.5 1167.8L911.5 1168.6L913.6 1168.6L915.6 1169.2L917.6 1168.2L919.6 1168.8L921.6 1168.9L923.6 1167.8L925.6 1168.6L927.6 1168.6L929.6 1168.3L931.6 1168.1L933.6 1168.9L935.6 1168.6L937.6 1168.7L939.6 1168.6L941.6 1167.7L943.6 1167.5L945.6 1169.5L947.6 1168.1L949.7 1168.7L951.7 1168.6L953.7 1169.1L955.7 1168.0L957.7 1167.7L959.7 1167.9L961.7 1168.4L963.7 1168.5L965.7 1168.0L967.7 1169.1L969.7 1168.7L971.7 1167.6L973.7 1168.8L975.7 1168.7L977.7 1168.6L979.7 1168.7L981.8 1169.3L983.8 1168.7L985.8 1168.9L987.8 1168.9L989.8 1168.2L991.8 1169.1L993.8 1168.6L995.8 1168.8L997.8 1169.0L999.8 1168.3L1001.8 1168.6L1003.8 1169.3L1005.8 1168.3L1007.8 1168.6L1009.9 1169.2L1011.9 1168.4L1013.9 1169.6L1015.9 1168.1L1017.9 1168.2L1019.9 1169.1L1021.9 1169.1L1023.9 1168.3L1025.9 1168.7L1027.9 1169.1L1029.9 1168.8L1031.9 1169.0L1033.9 1169.0L1036.0 1168.7L1038.0 1169.2L1040.0 1168.6L1042.0 1169.1L1044.0 1168.4L1046.0 1168.6L1048.0 1169.1L1050.0 1168.2L1052.0 1168.3L1054.0 1168.3L1056.0 1168.9L1058.0 1169.1L1060.0 1168.6L1062.1 1168.8L1064.1 1168.8L1066.1 1168.0L1068.1 1168.0L1070.1 1168.6L1072.1 1169.3L1074.1 1168.3L1076.1 1167.8L1078.1 1167.5L1080.1 1168.8L1082.1 1167.6L1084.1 1168.0L1086.1 1167.7L1088.1 1168.0L1090.1 1169.1L1092.1 1168.5L1094.1 1167.3L1096.2 1167.0L1098.2 1167.8L1100.2 1167.6L1102.2 1168.2L1104.2 1168.4L1106.2 1168.0L1108.2 1168.4L1110.2 1168.2L1112.2 1167.8L1114.2 1168.0L1116.2 1167.1L1118.2 1168.5L1120.2 1168.2L1122.2 1167.2L1124.2 1167.3L1126.2 1167.5L1128.2 1167.8L1130.2 1166.8L1132.2 1166.6L1134.2 1166.8L1136.2 1167.2L1138.2 1167.1L1140.2 1168.7L1142.2 1168.4L1144.2 1168.0L1146.2 1167.2L1148.2 1167.5L1150.2 1168.1L1152.1 1168.8L1154.1 1167.3L1156.1 1167.7L1158.1 1167.8L1160.1 1168.4L1162.1 1168.3L1164.1 1167.8L1171.5 1168.6" fill="none" stroke="#ff0000" stroke-width="9.5" stroke-linejoin="round" stroke-linecap="butt"/>
<path d="M413.2 1738.7L413.2 1737.1L413.2 1735.2L413.2 1733.3L413.2 1731.0L413.2 1729.0L413.2 1727.4L413.2 1725.2L413.2 1723.8L413.2 1721.4L413.2 1719.1L413.2 1717.3L413.3 1715.7L413.3 1713.6L413.3 1710.7L413.3 1709.1L413.3 1708.0L413.3 1705.3L413.3 1702.1L413.3 1700.9L413.3 1699.5L413.3 1698.0L413.3 1695.7L413.4 1692.4L413.4 1691.1L413.4 1689.4L413.4 1687.6L413.4 1684.6L413.4 1682.5L413.4 1681.4L413.4 1680.2L413.5 1676.8L413.5 1675.2L413.5 1672.9L413.5 1671.2L413.5 1668.3L413.5 1666.5L413.6 1664.3L413.6 1663.2L413.6 1662.1L413.6 1659.2L413.6 1657.0L413.6 1654.8L413.7 1652.7L413.7 1652.2L413.7 1649.4L413.7 1647.2L413.7 1645.6L413.8 1642.1L413.8 1640.8L413.8 1639.3L413.8 1637.8L413.8 1635.3L413.9 1633.4L413.9 1631.2L413.9 1628.5L413.9 1626.8L413.9 1624.6L414.0 1622.9L414.0 1620.4L414.0 1619.2L414.0 1616.5L414.1 1615.0L414.1 1613.1L414.1 1611.9L414.1 1609.0L414.1 1606.0L414.2 1606.0L414.2 1603.5L414.2 1601.0L414.2 1598.4L414.3 1596.8L414.3 1595.4L414.3 1594.0L414.3 1591.6L414.4 1589.8L414.4 1587.2L414.4 1584.7L414.4 1582.3L414.5 1581.6L414.5 1578.0L414.5 1577.0L414.6 1576.0L414.6 1573.6L414.6 1570.3L414.6 1569.7L414.7 1566.4L414.7 1564.0L414.7 1562.7L414.7 1560.7L414.8 1560.0L414.8 1556.9L414.8 1554.2L414.9 1551.9L414.9 1550.3L414.9 1548.8L414.9 1546.2L415.0 1544.3L415.0 1542.2L415.0 1541.1L415.1 1538.1L415.1 1536.9L415.1 1534.0L415.1 1532.4L415.2 1531.6L415.2 1529.0L415.2 1527.0L415.3 1524.9L415.3 1522.3L415.3 1520.9L415.3 1518.1L415.4 1517.5L415.4 1515.4L415.4 1513.0L415.5 1510.9L415.5 1508.9L415.5 1507.1L415.5 1504.8L415.6 1502.9L415.6 1500.7L415.6 1499.1L415.7 1496.6L415.7 1495.0L415.7 1491.8L415.7 1491.4L415.8 1489.6L415.8 1487.2L415.8 1484.5L415.9 1483.2L415.9 1481.3L415.9 1479.0L416.0 1476.9L416.0 1474.9L416.0 1473.3L416.0 1471.4L416.1 1468.6L416.1 1466.4L416.1 1464.4L416.2 1462.7L416.2 1460.5L416.2 1458.3L416.3 1456.5L416.3 1454.9L416.3 1452.0L416.4 1450.1L416.4 1449.2L416.4 1446.8L416.5 1445.0L416.5 1442.2L416.6 1440.1L416.6 1439.7L416.6 1436.7L416.7 1434.7L416.7 1433.3L416.8 1430.4L416.8 1428.0L416.8 1426.9L416.9 1425.0L416.9 1422.9L417.0 1420.7L417.0 1417.9L417.1 1416.0L417.1 1414.5L417.2 1412.6L417.2 1410.2L417.3 1408.9L417.3 1406.7L417.4 1404.7L417.5 1402.7L417.5 1400.5L417.6 1398.2L417.6 1396.2L417.7 1394.5L417.8 1392.2L417.8 1390.6L417.9 1388.8L418.0 1386.7L418.0 1385.5L418.1 1382.5L418.2 1379.4L418.3 1377.9L418.4 1376.0L418.4 1375.2L418.5 1372.5L418.6 1370.8L418.7 1368.4L418.8 1366.0L418.9 1364.3L419.0 1363.1L419.1 1361.4L419.2 1358.2L419.3 1356.7L419.4 1354.4L419.5 1353.1L419.7 1350.8L419.8 1348.1L420.0 1347.2L420.1 1344.4L420.3 1342.4L420.5 1340.5L420.7 1339.0L420.9 1336.5L421.1 1334.8L421.3 1331.9L421.6 1331.5L421.9 1328.9L422.2 1327.5L422.5 1325.6L422.9 1322.5L423.2 1321.5L423.6 1319.5L424.0 1317.3L424.4 1315.9L424.9 1313.5L425.3 1311.2L425.8 1310.2L426.3 1308.7L426.8 1305.9L427.3 1304.2L427.9 1303.2L428.4 1300.2L429.0 1298.2L429.6 1297.3L430.2 1295.4L430.8 1293.6L431.4 1291.4L432.1 1288.9L432.7 1286.4L433.4 1285.9L434.1 1284.0L434.8 1281.6L435.5 1279.8L436.2 1277.8L437.0 1276.6L437.7 1274.9L438.5 1271.7L439.2 1271.0L440.0 1269.3L440.8 1266.7L441.6 1266.6L442.4 1264.1L443.3 1262.4L444.1 1260.1L445.0 1258.4L445.9 1257.2L446.8 1255.5L447.8 1253.5L448.7 1251.9L449.7 1250.2L450.8 1248.5L451.8 1247.6L452.9 1246.0L454.1 1244.8L455.2 1243.0L456.4 1241.5L457.7 1239.9L458.9 1238.4L460.2 1238.1L461.5 1236.2L462.9 1234.7L464.3 1233.3L465.7 1232.8L467.1 1232.0L468.6 1230.7L470.1 1229.0L471.6 1228.4L473.1 1226.6L474.7 1224.8L476.2 1224.3L477.8 1223.2L479.4 1221.2L481.1 1221.4L482.7 1220.4L484.4 1218.6L486.0 1217.5L487.7 1216.2L489.4 1215.9L491.1 1215.2L492.8 1214.1L494.5 1213.0L496.3 1212.2L498.0 1211.7L499.8 1210.7L501.5 1210.1L503.3 1208.9L505.1 1208.7L506.9 1207.7L508.7 1206.2L510.5 1206.6L512.3 1205.3L514.1 1204.9L515.9 1204.3L517.7 1202.3L519.5 1201.6L521.4 1202.6L523.2 1200.9L525.1 1200.0L526.9 1198.7L528.8 1198.7L530.6 1197.8L532.5 1197.6L534.4 1197.0L536.2 1195.9L538.1 1195.6L540.0 1194.9L541.9 1194.1L543.8 1194.2L545.7 1193.7L547.6 1194.4L549.5 1193.2L551.4 1192.7L553.3 1191.9L555.2 1192.0L557.1 1191.3L559.0 1190.7L560.9 1189.5L562.8 1190.0L564.7 1190.3L566.7 1189.2L568.6 1189.8L570.6 1188.8L572.5 1189.2L574.5 1188.5L576.4 1187.7L578.4 1187.7L580.4 1188.0L582.4 1186.5L584.4 1185.8L586.4 1186.4L588.3 1186.3L590.3 1185.3L592.3 1185.3L594.3 1185.3L596.3 1184.8L598.3 1185.3L600.3 1184.7L602.3 1184.5L604.2 1183.7L606.2 1184.2L608.2 1182.9L610.2 1183.2L612.2 1183.3L614.2 1182.4L616.1 1182.2L618.1 1182.9L620.1 1181.1L622.1 1181.4L624.1 1181.6L626.1 1180.5L628.0 1180.1L630.0 1180.4L632.0 1179.8L634.0 1180.0L636.0 1179.3L637.9 1179.1L639.9 1180.0L641.9 1179.7L643.9 1178.9L645.9 1178.6L647.8 1178.8L649.8 1177.7L651.8 1177.4L653.8 1177.0L655.8 1177.2L657.7 1176.7L659.7 1176.4L661.7 1177.0L663.7 1176.7L665.7 1177.2L667.7 1176.1L669.6 1176.4L671.6 1175.8L673.6 1175.6L675.6 1175.9L677.6 1176.4L679.6 1174.8L681.5 1174.8L683.5 1174.4L685.5 1174.1L687.5 1173.8L689.5 1174.0L691.5 1173.4L693.5 1174.4L695.5 1173.7L697.5 1174.3L699.5 1172.9L701.4 1173.9L703.4 1173.9L705.4 1173.4L707.4 1172.7L709.4 1172.8L711.4 1172.9L713.4 1172.9L715.4 1172.7L717.4 1172.6L719.4 1173.3L721.4 1172.3L723.4 1173.5L725.4 1173.0L727.4 1172.7L729.4 1172.3L731.4 1172.0L733.4 1171.6L735.4 1171.7L737.4 1172.0L739.3 1171.8L741.3 1171.8L743.3 1171.4L745.3 1171.9L747.3 1171.4L749.3 1171.5L751.3 1172.1L753.3 1171.6L755.3 1171.1L757.3 1171.7L759.3 1171.2L761.3 1170.6L763.3 1170.5L765.3 1171.8L767.3 1171.3L769.3 1170.9L771.3 1171.2L773.3 1170.4L775.3 1171.1L777.3 1170.5L779.3 1171.6L781.3 1169.7L783.3 1170.9L785.3 1171.3L787.3 1171.0L789.3 1170.3L791.4 1169.7L793.4 1170.6L795.4 1171.0L797.4 1169.9L799.4 1171.5L801.4 1170.5L803.4 1170.5L805.4 1170.7L807.4 1170.7L809.4 1170.7L811.4 1170.7L813.4 1169.9L815.4 1169.5L817.4 1171.2L819.4 1169.9L821.4 1170.1L823.4 1169.7L825.4 1170.5L827.4 1170.9L829.4 1170.0L831.4 1169.7L833.4 1170.9L835.4 1170.0L837.4 1169.7L839.4 1170.4L841.4 1170.5L843.4 1170.8L845.4 1171.3L847.4 1170.4L849.4 1170.2L851.4 1169.6L853.4 1170.7L855.4 1170.5L857.4 1170.1L859.4 1171.4L861.4 1170.1L863.4 1169.7L865.4 1169.4L867.4 1170.2L869.5 1170.3L871.5 1170.1L873.5 1170.4L875.5 1169.9L877.5 1171.0L879.5 1169.9L881.5 1170.2L883.5 1169.8L885.5 1169.9L887.5 1170.1L889.5 1171.3L891.5 1170.7L893.5 1170.7L895.5 1170.1L897.5 1170.7L899.5 1170.6L901.5 1171.2L903.5 1170.3L905.5 1170.3L907.5 1171.2L909.5 1170.2L911.5 1170.5L913.6 1170.7L915.6 1170.6L917.6 1170.0L919.6 1171.5L921.6 1170.2L923.6 1170.6L925.6 1170.8L927.6 1170.5L929.6 1171.0L931.6 1170.7L933.6 1171.0L935.6 1170.1L937.6 1171.0L939.6 1170.9L941.6 1170.8L943.6 1170.2L945.6 1170.9L947.6 1170.4L949.7 1170.7L951.7 1171.8L953.7 1170.9L955.7 1171.5L957.7 1170.7L959.7 1171.0L961.7 1172.0L963.7 1170.9L965.7 1170.5L967.7 1170.9L969.7 1171.0L971.7 1171.8L973.7 1170.5L975.7 1171.0L977.7 1170.7L979.7 1171.2L981.8 1170.7L983.8 1170.4L985.8 1171.7L987.8 1170.9L989.8 1171.1L991.8 1171.5L993.8 1171.1L995.8 1170.6L997.8 1171.9L999.8 1171.9L1001.8 1171.0L1003.8 1171.9L1005.8 1170.9L1007.8 1171.0L1009.9 1170.8L1011.9 1171.5L1013.9 1171.4L1015.9 1171.8L1017.9 1171.3L1019.9 1171.1L1021.9 1171.7L1023.9 1172.2L1025.9 1171.2L1027.9 1170.3L1029.9 1171.2L1031.9 1171.9L1033.9 1170.6L1036.0 1170.6L1038.0 1171.3L1040.0 1170.1L1042.0 1170.8L1044.0 1170.6L1046.0 1171.1L1048.0 1170.7L1050.0 1171.4L1052.0 1171.0L1054.0 1171.4L1056.0 1171.8L1058.0 1171.2L1060.0 1170.6L1062.1 1171.1L1064.1 1170.8L1066.1 1171.0L1068.1 1170.2L1070.1 1170.9L1072.1 1170.8L1074.1 1170.7L1076.1 1170.1L1078.1 1170.7L1080.1 1170.5L1082.1 1170.9L1084.1 1170.8L1086.1 1170.3L1088.1 1170.3L1090.1 1170.7L1092.1 1170.8L1094.1 1170.3L1096.2 1170.2L1098.2 1169.9L1100.2 1170.8L1102.2 1169.9L1104.2 1170.6L1106.2 1171.0L1108.2 1169.8L1110.2 1170.3L1112.2 1169.5L1114.2 1169.5L1116.2 1169.6L1118.2 1170.1L1120.2 1170.5L1122.2 1170.1L1124.2 1170.4L1126.2 1170.6L1128.2 1171.0L1130.2 1170.2L1132.2 1170.9L1134.2 1169.7L1136.2 1170.1L1138.2 1170.1L1140.2 1170.1L1142.2 1169.5L1144.2 1170.3L1146.2 1170.6L1148.2 1170.6L1150.2 1170.5L1152.1 1170.5L1154.1 1170.3L1156.1 1170.9L1158.1 1170.0L1160.1 1170.8L1162.1 1170.9L1164.1 1169.8L1171.5 1170.6" fill="none" stroke="#ff0000" stroke-width="9.5" stroke-linejoin="round" stroke-linecap="butt"/>
<path d="M1166.7 1164.6L1166.9 1171.3L1166.9 1173.7L1167.0 1175.4L1167.0 1178.4L1167.0 1179.6L1167.1 1182.2L1167.1 1184.0L1167.1 1184.4L1167.2 1187.7L1167.2 1189.9L1167.2 1191.6L1167.2 1194.3L1167.2 1196.0L1167.3 1197.7L1167.3 1200.4L1167.3 1201.1L1167.3 1202.6L1167.3 1205.1L1167.3 1208.1L1167.3 1209.5L1167.3 1212.6L1167.3 1213.5L1167.3 1215.2L1167.3 1218.0L1167.3 1218.8L1167.3 1220.9L1167.3 1223.8L1167.3 1225.1L1167.3 1227.4L1167.3 1229.6L1167.3 1231.8L1167.3 1234.0L1167.3 1235.4L1167.3 1238.6L1167.3 1240.0L1167.3 1241.1L1167.3 1244.1L1167.3 1245.9L1167.3 1247.8L1167.2 1250.2L1167.2 1252.0L1167.2 1253.5L1167.2 1256.3L1167.2 1257.5L1167.2 1258.5L1167.1 1261.6L1167.1 1263.7L1167.1 1266.1L1167.1 1267.7L1167.1 1269.2L1167.0 1272.7L1167.0 1273.1L1167.0 1275.6L1167.0 1277.3L1166.9 1279.7L1166.9 1282.0L1166.9 1284.1L1166.9 1284.9L1166.8 1288.2L1166.8 1289.5L1166.8 1292.0L1166.8 1294.2L1166.7 1296.1L1166.7 1297.5L1166.7 1300.1L1166.6 1302.5L1166.6 1304.2L1166.6 1305.1L1166.5 1307.4L1166.5 1309.3L1166.5 1311.9L1166.5 1314.1L1166.4 1316.8L1166.4 1318.6L1166.4 1319.4L1166.3 1321.0L1166.3 1323.4L1166.3 1325.9L1166.2 1327.3L1166.2 1329.8L1166.2 1331.7L1166.1 1333.9L1166.1 1335.7L1166.1 1338.1L1166.1 1340.5L1166.0 1342.7L1166.0 1343.5L1166.0 1346.1L1165.9 1348.7L1165.9 1350.8L1165.9 1351.9L1165.8 1353.5L1165.8 1356.1L1165.8 1357.4L1165.8 1359.4L1165.7 1362.1L1165.7 1363.4L1165.7 1365.9L1165.7 1367.2L1165.6 1369.9L1165.6 1371.2L1165.6 1373.1L1165.6 1376.3L1165.5 1377.7L1165.5 1380.5L1165.5 1381.8L1165.5 1383.7L1165.4 1386.1L1165.4 1388.2L1165.4 1390.7L1165.4 1391.6L1165.4 1393.7L1165.3 1396.2L1165.3 1397.4L1165.3 1400.6L1165.3 1401.8L1165.3 1404.3L1165.3 1406.3L1165.2 1408.6L1165.2 1409.3L1165.2 1412.2L1165.2 1414.9L1165.2 1415.8L1165.2 1417.8L1165.2 1419.8L1165.2 1422.6L1165.2 1424.0L1165.2 1425.5L1165.2 1427.4L1165.1 1430.4L1165.1 1432.8L1165.1 1433.5L1165.1 1436.2L1165.1 1438.1L1165.1 1439.9L1165.2 1442.3L1165.2 1443.7L1165.2 1445.7L1165.2 1448.4L1165.2 1449.0L1165.2 1452.9L1165.2 1454.2L1165.2 1455.8L1165.2 1457.5L1165.2 1460.5L1165.2 1462.0L1165.3 1464.9L1165.3 1466.1L1165.3 1468.5L1165.3 1469.3L1165.3 1472.7L1165.3 1474.4L1165.3 1475.9L1165.4 1478.4L1165.4 1479.9L1165.4 1482.5L1165.4 1483.6L1165.4 1486.7L1165.4 1487.9L1165.4 1490.2L1165.4 1491.9L1165.4 1494.7L1165.4 1496.5L1165.4 1498.9L1165.4 1500.6L1165.4 1502.5L1165.4 1503.6L1165.4 1506.0L1165.4 1508.4L1165.4 1510.3L1165.4 1512.8L1165.4 1513.7L1165.3 1516.3L1165.3 1518.9L1165.3 1520.4L1165.2 1521.2L1165.2 1524.3L1165.1 1525.2L1165.1 1528.1L1165.0 1530.9L1164.9 1532.3L1164.9 1534.5L1164.8 1536.8L1164.7 1538.2L1164.6 1540.0L1164.5 1542.8L1164.4 1543.5L1164.3 1547.0L1164.1 1547.6L1164.0 1549.8L1163.8 1551.9L1163.6 1554.0L1163.5 1555.6L1163.2 1558.0L1163.0 1559.6L1162.8 1562.4L1162.5 1563.1L1162.2 1565.4L1161.9 1567.3L1161.6 1570.5L1161.3 1571.1L1160.9 1573.4L1160.5 1574.2L1160.1 1577.2L1159.6 1579.2L1159.1 1581.3L1158.6 1583.5L1158.1 1584.4L1157.5 1586.3L1156.9 1589.1L1156.3 1589.9L1155.6 1591.3L1154.9 1593.5L1154.2 1595.2L1153.4 1596.9L1152.6 1598.9L1151.8 1600.2L1151.0 1601.0L1150.1 1603.9L1149.2 1605.6L1148.3 1607.0L1147.4 1609.0L1146.4 1610.5L1145.4 1611.2L1144.4 1614.3L1143.3 1615.4L1142.3 1617.2L1141.2 1618.0L1140.1 1619.8L1138.9 1622.0L1137.8 1623.3L1136.6 1625.0L1135.4 1626.8L1134.1 1628.0L1132.9 1629.8L1131.6 1630.6L1130.3 1632.5L1128.9 1632.4L1127.6 1634.8L1126.2 1636.2L1124.8 1637.7L1123.4 1638.1L1122.0 1638.8L1120.5 1640.9L1119.0 1641.5L1117.5 1642.9L1116.0 1644.6L1114.5 1645.9L1112.9 1647.0L1111.3 1647.4L1109.7 1648.2L1108.1 1649.9L1106.5 1649.6L1104.8 1650.7L1103.2 1652.2L1101.5 1653.8L1099.8 1654.4L1098.1 1654.5L1096.3 1655.2L1094.6 1656.6L1092.8 1657.3L1091.0 1658.0L1089.3 1658.3L1087.4 1659.1L1085.6 1659.2L1083.8 1659.8L1082.0 1660.5L1080.1 1662.4L1078.3 1662.2L1076.4 1662.6L1074.5 1663.5L1072.6 1664.3L1070.7 1664.9L1068.9 1666.0L1067.0 1666.4L1065.0 1666.2L1063.1 1665.9L1061.2 1667.4L1059.3 1667.1L1057.4 1668.3L1055.4 1668.7L1053.5 1670.1L1051.6 1669.1L1049.6 1669.4L1047.7 1670.9L1045.7 1671.1L1043.8 1671.1L1041.8 1672.2L1039.9 1671.9L1037.9 1672.2L1036.0 1673.6L1034.0 1673.2L1032.0 1673.7L1030.1 1675.3L1028.1 1675.0L1026.2 1674.6L1024.2 1675.8L1022.3 1676.9L1020.3 1677.2L1018.4 1678.4L1016.4 1677.9L1014.5 1679.0L1012.5 1680.3L1010.6 1679.5L1008.6 1680.8L1006.7 1680.6L1004.8 1682.0L1002.8 1682.5L1000.9 1682.9L999.0 1682.4L997.1 1683.1L995.1 1683.8L993.2 1684.8L991.3 1685.4L989.3 1685.2L987.4 1685.6L985.5 1685.9L983.6 1687.5L981.7 1687.9L979.7 1687.9L977.8 1689.8L975.9 1689.4L974.0 1688.9L972.0 1690.7L970.1 1691.2L968.2 1690.7L966.3 1691.7L964.3 1691.6L962.4 1691.9L960.5 1692.9L958.5 1692.6L956.6 1692.2L954.6 1693.2L952.7 1694.0L950.7 1694.0L948.8 1694.9L946.8 1694.5L944.9 1695.2L942.9 1696.6L940.9 1695.6L939.0 1696.2L937.0 1696.4L935.0 1697.7L933.0 1696.8L931.1 1698.2L929.1 1697.6L927.1 1697.9L925.1 1698.2L923.1 1699.5L921.1 1698.3L919.2 1700.0L917.2 1700.3L915.2 1700.4L913.2 1699.9L911.2 1700.0L909.2 1700.0L907.3 1702.1L905.3 1702.1L903.3 1702.2L901.3 1702.2L899.3 1702.7L897.4 1702.4L895.4 1703.4L893.4 1703.3L891.4 1703.8L889.4 1703.3L887.4 1705.0L885.5 1705.0L883.5 1705.3L881.5 1705.7L879.5 1705.5L877.5 1705.9L875.6 1706.0L873.6 1706.8L871.6 1706.2L869.6 1707.0L867.6 1707.2L865.7 1707.4L863.7 1707.5L861.7 1708.2L859.7 1708.6L857.7 1709.1L855.8 1710.0L853.8 1710.3L851.8 1710.6L849.8 1710.2L847.8 1710.7L845.9 1711.1L843.9 1711.2L841.9 1712.2L839.9 1711.9L837.9 1711.6L836.0 1712.2L834.0 1712.8L832.0 1712.9L830.0 1714.0L828.0 1713.2L826.1 1714.8L824.1 1714.1L822.1 1714.8L820.1 1715.0L818.1 1715.9L816.2 1715.4L814.2 1715.1L812.2 1715.7L810.2 1715.9L808.2 1717.6L806.3 1717.6L804.3 1717.4L802.3 1718.3L800.3 1717.6L798.3 1718.8L796.4 1718.9L794.4 1719.1L792.4 1718.5L790.4 1719.7L788.4 1719.8L786.5 1721.6L784.5 1721.1L782.5 1721.2L780.5 1721.6L778.5 1722.3L776.6 1722.7L774.6 1722.0L772.6 1723.3L770.6 1722.7L768.7 1723.1L766.7 1723.6L764.7 1723.6L762.7 1724.7L760.7 1724.6L758.8 1725.3L756.8 1725.0L754.8 1725.8L752.8 1725.7L750.8 1725.6L748.9 1727.3L746.9 1726.9L744.9 1727.0L742.9 1727.8L740.9 1727.2L739.0 1728.2L737.0 1729.5L735.0 1729.1L733.0 1729.2L731.1 1729.5L729.1 1729.9L727.1 1730.7L725.1 1730.3L723.1 1731.3L721.2 1731.1L719.2 1731.6L717.2 1731.4L715.2 1732.9L713.2 1732.4L711.3 1733.2L709.3 1732.1L707.3 1732.7L705.3 1733.7L703.3 1733.9L701.4 1734.7L699.4 1734.4L697.4 1736.2L695.4 1735.7L693.5 1735.4L691.5 1736.2L689.5 1736.8L687.5 1737.6L685.5 1736.3L683.6 1737.6L681.6 1737.0L679.6 1738.3L677.6 1738.6L675.6 1738.3L673.7 1739.4L671.7 1739.1L669.7 1739.2L667.7 1739.3L665.7 1740.5L663.8 1740.6L661.8 1741.5L659.8 1741.6L657.8 1741.6L655.9 1741.5L653.9 1742.1L651.9 1743.1L649.9 1742.2L647.9 1743.2L646.0 1743.8L644.0 1744.2L642.0 1744.5L640.0 1744.6L638.0 1745.1L636.1 1745.2L634.1 1746.0L632.1 1746.2L630.1 1746.5L628.1 1746.0L626.2 1746.7L624.2 1747.8L622.2 1748.2L620.2 1747.9L618.3 1747.6L616.3 1748.1L614.3 1749.2L612.3 1749.4L610.3 1749.3L608.4 1750.2L606.4 1749.1L604.4 1750.4L602.4 1750.7L600.4 1751.5L598.5 1751.6L596.5 1752.3L594.5 1751.8L592.5 1752.0L590.6 1752.4L588.6 1752.6L586.6 1753.5L584.6 1753.5L582.6 1753.7L580.7 1754.4L578.7 1755.1L576.7 1755.8L574.7 1755.7L572.8 1755.9L570.8 1755.6L568.8 1756.2L566.8 1757.4L564.8 1756.9L562.9 1757.9L560.9 1758.4L558.9 1758.3L556.9 1758.9L554.9 1757.8L553.0 1759.6L551.0 1759.6L549.0 1759.9L547.0 1759.6L545.1 1759.9L543.1 1760.8L541.1 1760.6L539.1 1760.9L537.1 1761.3L535.2 1761.2L533.2 1761.3L531.2 1762.2L529.2 1762.8L527.2 1763.4L525.3 1763.6L523.3 1764.4L521.3 1764.8L519.3 1765.1L517.3 1764.9L515.4 1764.6L513.4 1765.9L511.4 1766.9L509.4 1766.2L507.5 1766.7L505.5 1767.5L503.5 1768.6L501.5 1767.9L499.5 1768.6L497.6 1767.7L495.6 1768.8L493.6 1768.7L491.6 1770.0L489.7 1770.3L487.7 1770.3L485.7 1771.2L483.7 1771.8L481.7 1772.1L479.8 1772.6L477.8 1772.4L475.8 1772.6L473.8 1772.2L471.9 1773.5L469.9 1773.7L467.9 1774.5L465.9 1774.5L464.0 1774.9L462.0 1775.5L460.0 1775.9L458.1 1776.2L456.1 1775.9L454.1 1776.8L452.2 1777.2L450.2 1778.3L448.2 1778.2L446.2 1779.0L444.3 1779.6L442.3 1779.5L440.3 1780.4L438.4 1781.1L436.4 1780.1L434.5 1781.4L432.5 1781.8L430.5 1782.1L428.6 1782.6L426.6 1783.7L424.7 1782.7L422.7 1784.9L420.8 1784.6L418.8 1785.5L416.9 1785.4" fill="none" stroke="#ff0000" stroke-width="9.5" stroke-linejoin="round" stroke-linecap="butt"/>
<path d="M1166.7 1164.4L1166.9 1171.7L1166.9 1172.8L1167.0 1174.8L1167.0 1177.3L1167.0 1179.4L1167.1 1181.7L1167.1 1183.1L1167.1 1186.4L1167.2 1187.1L1167.2 1189.9L1167.2 1191.5L1167.2 1193.4L1167.2 1195.7L1167.3 1197.6L1167.3 1199.7L1167.3 1201.7L1167.3 1203.3L1167.3 1205.5L1167.3 1207.4L1167.3 1210.4L1167.3 1210.9L1167.3 1214.2L1167.3 1215.4L1167.3 1216.4L1167.3 1219.6L1167.3 1221.5L1167.3 1223.6L1167.3 1225.2L1167.3 1227.8L1167.3 1229.1L1167.3 1231.6L1167.3 1233.2L1167.3 1235.2L1167.3 1237.6L1167.3 1238.9L1167.3 1241.8L1167.3 1243.4L1167.3 1245.1L1167.3 1247.9L1167.2 1249.6L1167.2 1251.9L1167.2 1253.8L1167.2 1256.7L1167.2 1257.3L1167.2 1259.6L1167.1 1260.9L1167.1 1262.8L1167.1 1265.8L1167.1 1267.2L1167.1 1270.0L1167.0 1272.4L1167.0 1274.3L1167.0 1274.5L1167.0 1278.1L1166.9 1279.9L1166.9 1281.8L1166.9 1284.0L1166.9 1285.2L1166.8 1287.3L1166.8 1289.5L1166.8 1291.6L1166.8 1294.8L1166.7 1295.2L1166.7 1297.5L1166.7 1299.9L1166.6 1301.7L1166.6 1303.5L1166.6 1305.3L1166.5 1307.6L1166.5 1309.8L1166.5 1311.4L1166.5 1314.2L1166.4 1316.1L1166.4 1317.5L1166.4 1320.1L1166.3 1321.7L1166.3 1324.2L1166.3 1326.2L1166.2 1328.4L1166.2 1329.1L1166.2 1332.0L1166.1 1333.5L1166.1 1335.3L1166.1 1337.7L1166.1 1339.4L1166.0 1341.6L1166.0 1344.4L1166.0 1346.3L1165.9 1348.9L1165.9 1349.8L1165.9 1351.2L1165.8 1354.1L1165.8 1356.1L1165.8 1358.0L1165.8 1359.5L1165.7 1362.4L1165.7 1363.7L1165.7 1366.3L1165.7 1368.0L1165.6 1368.8L1165.6 1372.6L1165.6 1373.9L1165.6 1376.2L1165.5 1377.3L1165.5 1379.4L1165.5 1380.8L1165.5 1384.7L1165.4 1385.6L1165.4 1387.7L1165.4 1389.4L1165.4 1390.9L1165.4 1393.2L1165.3 1396.2L1165.3 1397.7L1165.3 1399.7L1165.3 1401.2L1165.3 1403.6L1165.3 1405.5L1165.2 1408.4L1165.2 1409.8L1165.2 1412.9L1165.2 1414.0L1165.2 1415.6L1165.2 1418.0L1165.2 1420.0L1165.2 1423.0L1165.2 1424.3L1165.2 1426.3L1165.2 1427.2L1165.1 1429.7L1165.1 1432.5L1165.1 1434.0L1165.1 1436.0L1165.1 1437.8L1165.1 1439.8L1165.2 1442.6L1165.2 1443.6L1165.2 1446.3L1165.2 1448.5L1165.2 1450.2L1165.2 1452.4L1165.2 1454.9L1165.2 1456.8L1165.2 1458.2L1165.2 1460.5L1165.2 1463.0L1165.3 1464.6L1165.3 1465.9L1165.3 1468.2L1165.3 1470.1L1165.3 1472.6L1165.3 1475.3L1165.3 1475.5L1165.4 1479.2L1165.4 1480.7L1165.4 1481.7L1165.4 1484.8L1165.4 1486.8L1165.4 1488.7L1165.4 1490.1L1165.4 1492.4L1165.4 1494.8L1165.4 1496.4L1165.4 1498.5L1165.4 1499.3L1165.4 1501.8L1165.4 1503.6L1165.4 1506.9L1165.4 1508.1L1165.4 1510.0L1165.4 1512.2L1165.4 1513.3L1165.3 1516.1L1165.3 1518.3L1165.3 1520.6L1165.2 1522.0L1165.2 1523.9L1165.1 1526.3L1165.1 1528.7L1165.0 1529.3L1164.9 1532.9L1164.9 1534.6L1164.8 1535.7L1164.7 1538.3L1164.6 1539.7L1164.5 1541.5L1164.4 1544.2L1164.3 1546.1L1164.1 1548.5L1164.0 1549.8L1163.8 1552.8L1163.6 1553.8L1163.5 1555.3L1163.2 1558.2L1163.0 1559.6L1162.8 1561.0L1162.5 1563.8L1162.2 1565.7L1161.9 1567.8L1161.6 1569.5L1161.3 1571.6L1160.9 1573.3L1160.5 1575.1L1160.1 1577.0L1159.6 1579.0L1159.1 1580.6L1158.6 1583.2L1158.1 1584.6L1157.5 1586.3L1156.9 1588.6L1156.3 1590.3L1155.6 1592.3L1154.9 1593.4L1154.2 1595.4L1153.4 1597.8L1152.6 1599.0L1151.8 1600.4L1151.0 1602.8L1150.1 1603.9L1149.2 1606.2L1148.3 1607.5L1147.4 1608.7L1146.4 1610.4L1145.4 1613.3L1144.4 1613.9L1143.3 1615.4L1142.3 1617.0L1141.2 1618.9L1140.1 1621.7L1138.9 1621.8L1137.8 1623.4L1136.6 1624.7L1135.4 1626.6L1134.1 1628.3L1132.9 1629.8L1131.6 1630.8L1130.3 1633.7L1128.9 1633.4L1127.6 1635.6L1126.2 1636.9L1124.8 1638.7L1123.4 1639.7L1122.0 1641.4L1120.5 1641.9L1119.0 1642.8L1117.5 1644.6L1116.0 1645.6L1114.5 1647.3L1112.9 1648.0L1111.3 1648.0L1109.7 1650.6L1108.1 1651.9L1106.5 1652.6L1104.8 1653.0L1103.2 1655.1L1101.5 1655.0L1099.8 1656.1L1098.1 1657.6L1096.3 1657.0L1094.6 1657.9L1092.8 1658.9L1091.0 1660.0L1089.3 1659.7L1087.4 1661.8L1085.6 1662.5L1083.8 1661.5L1082.0 1663.5L1080.1 1662.8L1078.3 1664.6L1076.4 1665.4L1074.5 1665.1L1072.6 1666.0L1070.7 1666.6L1068.9 1667.4L1067.0 1667.6L1065.0 1668.3L1063.1 1668.4L1061.2 1669.6L1059.3 1670.1L1057.4 1670.8L1055.4 1671.1L1053.5 1671.0L1051.6 1672.4L1049.6 1672.0L1047.7 1672.2L1045.7 1673.2L1043.8 1673.1L1041.8 1673.9L1039.9 1674.4L1037.9 1675.7L1036.0 1675.2L1034.0 1676.2L1032.0 1676.9L1030.1 1676.8L1028.1 1676.7L1026.2 1678.4L1024.2 1678.9L1022.3 1678.5L1020.3 1680.0L1018.4 1679.8L1016.4 1679.8L1014.5 1680.0L1012.5 1681.2L1010.6 1681.9L1008.6 1682.0L1006.7 1682.9L1004.8 1683.9L1002.8 1684.9L1000.9 1684.5L999.0 1684.9L997.1 1686.2L995.1 1686.2L993.2 1686.5L991.3 1687.7L989.3 1688.2L987.4 1688.1L985.5 1688.7L983.6 1689.9L981.7 1690.3L979.7 1690.5L977.8 1691.1L975.9 1690.3L974.0 1690.8L972.0 1692.0L970.1 1692.6L968.2 1693.8L966.3 1693.7L964.3 1694.8L962.4 1694.6L960.5 1694.5L958.5 1694.6L956.6 1696.1L954.6 1695.9L952.7 1696.7L950.7 1696.9L948.8 1696.5L946.8 1697.1L944.9 1697.7L942.9 1697.2L940.9 1697.5L939.0 1698.5L937.0 1698.2L935.0 1699.0L933.0 1699.3L931.1 1699.5L929.1 1700.5L927.1 1701.5L925.1 1701.1L923.1 1700.8L921.1 1701.3L919.2 1702.0L917.2 1701.4L915.2 1702.0L913.2 1702.2L911.2 1702.6L909.2 1703.7L907.3 1703.0L905.3 1703.9L903.3 1704.2L901.3 1704.2L899.3 1704.3L897.4 1704.6L895.4 1704.6L893.4 1704.7L891.4 1706.2L889.4 1706.6L887.4 1706.7L885.5 1707.3L883.5 1707.6L881.5 1706.6L879.5 1708.4L877.5 1708.1L875.6 1708.9L873.6 1709.1L871.6 1708.3L869.6 1709.6L867.6 1709.3L865.7 1710.1L863.7 1710.6L861.7 1711.1L859.7 1710.4L857.7 1711.3L855.8 1711.2L853.8 1712.7L851.8 1713.0L849.8 1711.9L847.8 1713.5L845.9 1712.9L843.9 1713.8L841.9 1715.0L839.9 1713.2L837.9 1714.5L836.0 1715.9L834.0 1714.2L832.0 1715.7L830.0 1714.7L828.0 1717.3L826.1 1716.2L824.1 1717.1L822.1 1716.2L820.1 1717.6L818.1 1717.3L816.2 1718.6L814.2 1718.1L812.2 1718.3L810.2 1719.1L808.2 1719.2L806.3 1719.6L804.3 1720.7L802.3 1720.5L800.3 1720.3L798.3 1720.6L796.4 1721.2L794.4 1721.9L792.4 1722.8L790.4 1722.7L788.4 1722.7L786.5 1722.1L784.5 1722.2L782.5 1723.4L780.5 1723.7L778.5 1723.6L776.6 1724.3L774.6 1725.2L772.6 1725.1L770.6 1725.2L768.7 1726.5L766.7 1725.7L764.7 1726.2L762.7 1727.1L760.7 1727.4L758.8 1726.9L756.8 1727.9L754.8 1727.6L752.8 1728.6L750.8 1728.7L748.9 1728.8L746.9 1729.8L744.9 1729.8L742.9 1730.6L740.9 1731.1L739.0 1730.8L737.0 1731.4L735.0 1730.7L733.0 1731.4L731.1 1732.5L729.1 1732.2L727.1 1732.1L725.1 1732.8L723.1 1733.6L721.2 1733.6L719.2 1734.8L717.2 1734.2L715.2 1735.0L713.2 1734.7L711.3 1734.2L709.3 1735.8L707.3 1735.6L705.3 1735.8L703.3 1735.9L701.4 1736.6L699.4 1737.5L697.4 1736.7L695.4 1737.3L693.5 1738.5L691.5 1738.3L689.5 1738.8L687.5 1738.4L685.5 1738.3L683.6 1739.6L681.6 1740.1L679.6 1739.9L677.6 1740.6L675.6 1741.3L673.7 1741.6L671.7 1740.8L669.7 1742.5L667.7 1742.1L665.7 1742.4L663.8 1743.3L661.8 1743.2L659.8 1743.8L657.8 1744.6L655.9 1744.1L653.9 1743.6L651.9 1744.3L649.9 1745.3L647.9 1745.5L646.0 1745.9L644.0 1746.4L642.0 1746.4L640.0 1746.9L638.0 1747.1L636.1 1747.5L634.1 1748.4L632.1 1748.3L630.1 1748.9L628.1 1749.6L626.2 1749.7L624.2 1749.2L622.2 1749.4L620.2 1750.1L618.3 1750.4L616.3 1751.3L614.3 1751.6L612.3 1752.3L610.3 1752.2L608.4 1752.7L606.4 1752.3L604.4 1753.4L602.4 1753.0L600.4 1753.4L598.5 1752.8L596.5 1753.4L594.5 1754.1L592.5 1755.8L590.6 1755.1L588.6 1754.5L586.6 1755.9L584.6 1755.9L582.6 1756.4L580.7 1756.0L578.7 1757.1L576.7 1757.8L574.7 1758.0L572.8 1758.7L570.8 1759.2L568.8 1758.9L566.8 1758.6L564.8 1759.5L562.9 1760.6L560.9 1760.1L558.9 1761.4L556.9 1759.5L554.9 1761.0L553.0 1761.3L551.0 1761.4L549.0 1762.0L547.0 1761.6L545.1 1761.8L543.1 1763.7L541.1 1764.4L539.1 1764.3L537.1 1763.5L535.2 1764.3L533.2 1764.1L531.2 1764.0L529.2 1765.0L527.2 1765.8L525.3 1766.2L523.3 1766.2L521.3 1767.4L519.3 1767.2L517.3 1768.4L515.4 1767.9L513.4 1767.6L511.4 1768.2L509.4 1768.8L507.5 1769.3L505.5 1770.0L503.5 1770.6L501.5 1769.6L499.5 1770.2L497.6 1771.0L495.6 1770.9L493.6 1771.8L491.6 1771.7L489.7 1773.5L487.7 1772.7L485.7 1772.0L483.7 1772.4L481.7 1773.2L479.8 1773.2L477.8 1774.6L475.8 1775.4L473.8 1775.2L471.9 1776.5L469.9 1776.3L467.9 1776.8L465.9 1777.6L464.0 1778.0L462.0 1777.1L460.0 1777.9L458.1 1779.0L456.1 1779.0L454.1 1779.5L452.2 1779.5L450.2 1780.5L448.2 1781.8L446.2 1780.4L444.3 1781.7L442.3 1781.4L440.3 1783.4L438.4 1782.2L436.4 1783.2L434.5 1783.4L432.5 1784.8L430.5 1785.2L428.6 1785.4L426.6 1785.3L424.7 1786.3L422.7 1787.1L420.8 1787.1L418.8 1787.5L416.9 1787.6" fill="none" stroke="#ff0000" stroke-width="9.5" stroke-linejoin="round" stroke-linecap="butt"/>
<circle cx="416.9" cy="1785.5" r="4.75" fill="#ff0000"/>
<circle cx="416.9" cy="1787.9" r="4.75" fill="#ff0000"/>
<path d="M413.4 1775.4L413.3 1769.2L413.3 1767.2L413.3 1765.2L413.3 1763.2L413.3 1761.2L413.2 1759.2L413.2 1757.2L413.2 1755.2L413.2 1753.2L413.2 1751.2L413.2 1749.2L413.2 1747.1L413.2 1745.1L413.2 1743.1L413.1 1741.1L413.1 1739.1L413.1 1737.1L413.1 1735.1L413.1 1733.1L413.1 1731.1L413.1 1729.1L413.1 1727.1L413.2 1725.1L413.2 1723.1L413.2 1721.1L413.2 1719.1L413.2 1717.1L413.2 1715.1L413.2 1713.1L413.2 1711.1L413.2 1709.1L413.2 1707.1L413.3 1705.1L413.3 1703.1L413.3 1701.1L413.3 1699.1L413.3 1697.1L413.3 1695.1L413.4 1693.1L413.4 1691.1L413.4 1689.1L413.4 1687.1L413.4 1685.0L413.5 1683.0L413.5 1681.0L413.5 1679.0L413.5 1677.0L413.6 1675.0L413.6 1673.0L413.6 1671.0L413.7 1669.0L413.7 1667.0L413.7 1665.0L413.7 1663.0L413.8 1661.0L413.8 1659.0L413.8 1657.0L413.9 1655.0L413.9 1653.0L413.9 1651.0L414.0 1649.0L414.0 1647.0L414.0 1645.0L414.1 1643.0L414.1 1641.0L414.1 1639.0L414.2 1636.9L414.2 1634.9L414.3 1632.9L414.3 1630.9L414.3 1628.9L414.4 1626.9L414.4 1624.9L414.5 1622.9L414.5 1620.9L414.5 1618.9L414.6 1616.9L414.6 1614.9L414.7 1612.9L414.7 1610.9L414.7 1608.9L414.8 1606.9L414.8 1604.9L414.9 1602.9L414.9 1600.9L414.9 1598.9L415.0 1596.9L415.0 1594.8L415.1 1592.8L415.1 1590.8L415.2 1588.8L415.2 1586.8L415.2 1584.8L415.3 1582.8L415.3 1580.8L415.4 1578.8L415.4 1576.8L415.5 1574.8L415.5 1572.8L415.6 1570.8L415.6 1568.8L415.6 1566.8L415.7 1564.8L415.7 1562.8L415.8 1560.8L415.8 1558.8L415.9 1556.8L415.9 1554.7L416.0 1552.7L416.0 1550.7L416.0 1548.7L416.1 1546.7L416.1 1544.7L416.2 1542.7L416.2 1540.7L416.3 1538.7L416.3 1536.7L416.3 1534.7L416.4 1532.7L416.4 1530.7L416.5 1528.7L416.5 1526.7L416.6 1524.7L416.6 1522.7L416.6 1520.7L416.7 1518.6L416.7 1516.6L416.8 1514.6L416.8 1512.6L416.8 1510.6L416.9 1508.6L416.9 1506.6L417.0 1504.6L417.0 1502.6L417.0 1500.6L417.1 1498.6L417.1 1496.6L417.2 1494.6L417.2 1492.6L417.2 1490.6L417.3 1488.6L417.3 1486.5L417.3 1484.5L417.4 1482.5L417.4 1480.5L417.5 1478.5L417.5 1476.5L417.5 1474.5L417.6 1472.5L417.6 1470.5L417.6 1468.5L417.7 1466.5L417.7 1464.5L417.8 1462.5L417.8 1460.5L417.9 1458.5L417.9 1456.5L417.9 1454.5L418.0 1452.5L418.0 1450.5L418.1 1448.5L418.1 1446.5L418.2 1444.5L418.2 1442.5L418.3 1440.5L418.4 1438.5L418.4 1436.5L418.5 1434.5L418.5 1432.5L418.6 1430.5L418.7 1428.5L418.7 1426.5L418.8 1424.5L418.9 1422.5L418.9 1420.5L419.0 1418.5L419.1 1416.5L419.2 1414.5L419.3 1412.5L419.3 1410.5L419.4 1408.5L419.5 1406.5L419.6 1404.5L419.7 1402.5L419.8 1400.5L419.9 1398.5L420.1 1396.5L420.2 1394.5L420.3 1392.5L420.4 1390.5L420.5 1388.6L420.7 1386.6L420.8 1384.6L420.9 1382.6L421.1 1380.6L421.2 1378.6L421.4 1376.6L421.6 1374.6L421.7 1372.6L421.9 1370.7L422.1 1368.7L422.3 1366.7L422.5 1364.7L422.7 1362.7L422.9 1360.8L423.1 1358.8L423.3 1356.8L423.5 1354.8L423.7 1352.9L424.0 1350.9L424.2 1348.9L424.5 1346.9L424.8 1345.0L425.0 1343.0L425.3 1341.1L425.6 1339.1L425.9 1337.1L426.2 1335.2L426.6 1333.2L426.9 1331.3L427.2 1329.3L427.6 1327.4L428.0 1325.4L428.3 1323.5L428.7 1321.6L429.1 1319.6L429.6 1317.7L430.0 1315.8L430.4 1313.9L430.9 1311.9L431.4 1310.0L431.9 1308.1L432.4 1306.2L432.9 1304.3L433.4 1302.4L434.0 1300.5L434.5 1298.7L435.1 1296.8L435.7 1294.9L436.3 1293.0L436.9 1291.2L437.6 1289.3L438.2 1287.5L438.9 1285.6L439.6 1283.8L440.3 1282.0L441.0 1280.1L441.8 1278.3L442.5 1276.5L443.3 1274.7L444.1 1272.9L444.9 1271.2L445.7 1269.4L446.6 1267.6L447.5 1265.9L448.3 1264.2L449.3 1262.5L450.2 1260.9L451.2 1259.2L452.2 1257.6L453.2 1256.1L454.3 1254.5L455.4 1253.0L456.6 1251.6L457.8 1250.1L459.0 1248.7L460.3 1247.4L461.6 1246.1L463.0 1244.8L464.4 1243.5L465.9 1242.3L467.3 1241.1L468.9 1240.0L470.4 1238.9L472.0 1237.8L473.6 1236.7L475.2 1235.7L476.8 1234.6L478.5 1233.6L480.2 1232.7L481.8 1231.7L483.6 1230.8L485.3 1229.9L487.0 1229.0L488.8 1228.1L490.5 1227.2L492.3 1226.4L494.1 1225.5L495.8 1224.7L497.6 1223.9L499.4 1223.1L501.3 1222.3L503.1 1221.5L504.9 1220.8L506.7 1220.0L508.6 1219.3L510.4 1218.5L512.3 1217.8L514.1 1217.1L516.0 1216.4L517.8 1215.6L519.7 1214.9L521.5 1214.2L523.4 1213.5L525.3 1212.9L527.1 1212.2L529.0 1211.5L530.9 1210.8L532.7 1210.2L534.6 1209.5L536.5 1208.9L538.4 1208.3L540.2 1207.7L542.1 1207.0L544.0 1206.5L545.9 1205.9L547.8 1205.3L549.7 1204.8L551.6 1204.3L553.5 1203.8L555.3 1203.3L557.2 1202.8L559.1 1202.4L561.1 1201.9L563.0 1201.5L564.9 1201.2L566.8 1200.8L568.8 1200.5L570.7 1200.1L572.7 1199.8L574.6 1199.5L576.6 1199.2L578.6 1198.9L580.5 1198.6L582.5 1198.3L584.5 1198.0L586.5 1197.7L588.5 1197.4L590.5 1197.0L592.5 1196.7L594.5 1196.4L596.4 1196.1L598.4 1195.7L600.4 1195.4L602.4 1195.1L604.4 1194.7L606.3 1194.4L608.3 1194.1L610.3 1193.7L612.3 1193.4L614.3 1193.1L616.2 1192.7L618.2 1192.4L620.2 1192.1L622.2 1191.7L624.1 1191.4L626.1 1191.1L628.1 1190.8L630.1 1190.5L632.0 1190.1L634.0 1189.8L636.0 1189.5L637.9 1189.2L639.9 1188.9L641.9 1188.6L643.9 1188.3L645.8 1188.0L647.8 1187.8L649.8 1187.5L651.8 1187.2L653.7 1186.9L655.7 1186.7L657.7 1186.4L659.7 1186.2L661.6 1185.9L663.6 1185.7L665.6 1185.5L667.6 1185.2L669.5 1185.0L671.5 1184.8L673.5 1184.6L675.5 1184.4L677.5 1184.2L679.5 1184.0L681.4 1183.8L683.4 1183.7L685.4 1183.5L687.4 1183.3L689.4 1183.1L691.4 1183.0L693.4 1182.8L695.4 1182.7L697.3 1182.5L699.3 1182.4L701.3 1182.3L703.3 1182.1L705.3 1182.0L707.3 1181.9L709.3 1181.8L711.3 1181.6L713.3 1181.5L715.3 1181.4L717.3 1181.3L719.3 1181.2L721.3 1181.1L723.3 1181.0L725.3 1180.9L727.3 1180.8L729.3 1180.7L731.2 1180.7L733.2 1180.6L735.2 1180.5L737.2 1180.4L739.2 1180.3L741.2 1180.3L743.2 1180.2L745.2 1180.1L747.2 1180.0L749.2 1180.0L751.2 1179.9L753.2 1179.9L755.2 1179.8L757.2 1179.7L759.2 1179.7L761.3 1179.6L763.3 1179.6L765.3 1179.5L767.3 1179.5L769.3 1179.4L771.3 1179.4L773.3 1179.3L775.3 1179.3L777.3 1179.2L779.3 1179.2L781.3 1179.1L783.3 1179.1L785.3 1179.0L787.3 1179.0L789.3 1179.0L791.3 1178.9L793.3 1178.9L795.3 1178.9L797.3 1178.8L799.3 1178.8L801.3 1178.8L803.3 1178.7L805.3 1178.7L807.3 1178.7L809.3 1178.7L811.3 1178.6L813.3 1178.6L815.3 1178.6L817.3 1178.6L819.3 1178.6L821.3 1178.5L823.3 1178.5L825.3 1178.5L827.3 1178.5L829.3 1178.5L831.3 1178.5L833.3 1178.5L835.3 1178.4L837.3 1178.4L839.3 1178.4L841.4 1178.4L843.4 1178.4L845.4 1178.4L847.4 1178.4L849.4 1178.4L851.4 1178.4L853.4 1178.4L855.4 1178.4L857.4 1178.4L859.4 1178.4L861.4 1178.4L863.4 1178.4L865.4 1178.4L867.4 1178.4L869.4 1178.4L871.4 1178.4L873.4 1178.4L875.4 1178.4L877.4 1178.4L879.4 1178.4L881.4 1178.4L883.4 1178.4L885.4 1178.5L887.4 1178.5L889.5 1178.5L891.5 1178.5L893.5 1178.5L895.5 1178.5L897.5 1178.5L899.5 1178.5L901.5 1178.5L903.5 1178.6L905.5 1178.6L907.5 1178.6L909.5 1178.6L911.5 1178.6L913.5 1178.6L915.5 1178.6L917.5 1178.7L919.5 1178.7L921.5 1178.7L923.5 1178.7L925.5 1178.7L927.5 1178.7L929.5 1178.7L931.6 1178.8L933.6 1178.8L935.6 1178.8L937.6 1178.8L939.6 1178.8L941.6 1178.8L943.6 1178.9L945.6 1178.9L947.6 1178.9L949.6 1178.9L951.6 1178.9L953.6 1179.0L955.6 1179.0L957.6 1179.0L959.6 1179.0L961.6 1179.0L963.6 1179.0L965.6 1179.1L967.7 1179.1L969.7 1179.1L971.7 1179.1L973.7 1179.1L975.7 1179.1L977.7 1179.2L979.7 1179.2L981.7 1179.2L983.7 1179.2L985.7 1179.2L987.7 1179.2L989.7 1179.3L991.7 1179.3L993.7 1179.3L995.7 1179.3L997.7 1179.3L999.8 1179.3L1001.8 1179.3L1003.8 1179.3L1005.8 1179.4L1007.8 1179.4L1009.8 1179.4L1011.8 1179.4L1013.8 1179.4L1015.8 1179.4L1017.8 1179.4L1019.8 1179.4L1021.8 1179.4L1023.8 1179.5L1025.8 1179.5L1027.8 1179.5L1029.9 1179.5L1031.9 1179.5L1033.9 1179.5L1035.9 1179.5L1037.9 1179.5L1039.9 1179.5L1041.9 1179.5L1043.9 1179.5L1045.9 1179.5L1047.9 1179.5L1049.9 1179.5L1051.9 1179.5L1053.9 1179.5L1055.9 1179.5L1058.0 1179.5L1060.0 1179.5L1062.0 1179.5L1064.0 1179.5L1066.0 1179.5L1068.0 1179.5L1070.0 1179.5L1072.0 1179.5L1074.0 1179.5L1076.0 1179.5L1078.0 1179.5L1080.0 1179.5L1082.0 1179.5L1084.0 1179.5L1086.0 1179.5L1088.0 1179.5L1090.1 1179.5L1092.1 1179.5L1094.1 1179.5L1096.1 1179.5L1098.1 1179.5L1100.1 1179.5L1102.1 1179.5L1104.1 1179.5L1106.1 1179.5L1108.1 1179.5L1110.1 1179.5L1112.1 1179.5L1114.1 1179.5L1116.1 1179.5L1118.1 1179.5L1120.1 1179.5L1122.1 1179.5L1124.1 1179.5L1126.1 1179.5L1128.1 1179.5L1130.1 1179.5L1132.1 1179.5L1134.1 1179.5L1136.1 1179.5L1138.1 1179.6L1140.2 1179.6L1142.2 1179.6L1144.2 1179.6L1146.2 1179.6L1148.2 1179.6L1150.2 1179.7L1152.2 1179.7L1154.2 1179.7L1156.1 1179.8L1158.1 1179.8L1160.1 1179.8L1162.1 1179.9L1164.1 1179.9L1171.5 1180.2" fill="none" stroke="#0000ff" stroke-width="9.5" stroke-linejoin="round" stroke-linecap="butt"/>
<path d="M1166.8 1175.4L1166.9 1181.4L1166.9 1183.4L1166.9 1185.4L1167.0 1187.4L1167.0 1189.4L1167.0 1191.4L1167.1 1193.4L1167.1 1195.4L1167.1 1197.4L1167.2 1199.4L1167.2 1201.4L1167.2 1203.4L1167.2 1205.4L1167.2 1207.4L1167.3 1209.4L1167.3 1211.4L1167.3 1213.4L1167.3 1215.4L1167.3 1217.4L1167.3 1219.4L1167.4 1221.4L1167.4 1223.4L1167.4 1225.4L1167.4 1227.4L1167.4 1229.4L1167.4 1231.4L1167.4 1233.4L1167.4 1235.4L1167.4 1237.5L1167.4 1239.5L1167.4 1241.5L1167.4 1243.5L1167.4 1245.5L1167.4 1247.5L1167.4 1249.5L1167.4 1251.5L1167.4 1253.5L1167.4 1255.5L1167.4 1257.5L1167.3 1259.5L1167.3 1261.5L1167.3 1263.5L1167.3 1265.5L1167.3 1267.5L1167.3 1269.5L1167.3 1271.5L1167.2 1273.5L1167.2 1275.5L1167.2 1277.5L1167.2 1279.5L1167.2 1281.5L1167.2 1283.5L1167.1 1285.5L1167.1 1287.5L1167.1 1289.5L1167.1 1291.5L1167.0 1293.5L1167.0 1295.5L1167.0 1297.5L1167.0 1299.5L1166.9 1301.5L1166.9 1303.5L1166.9 1305.5L1166.8 1307.5L1166.8 1309.5L1166.8 1311.5L1166.8 1313.6L1166.7 1315.6L1166.7 1317.6L1166.7 1319.6L1166.6 1321.6L1166.6 1323.6L1166.6 1325.6L1166.5 1327.6L1166.5 1329.6L1166.5 1331.6L1166.4 1333.6L1166.4 1335.6L1166.3 1337.6L1166.3 1339.6L1166.3 1341.6L1166.2 1343.6L1166.2 1345.6L1166.1 1347.6L1166.1 1349.6L1166.1 1351.6L1166.0 1353.6L1166.0 1355.6L1165.9 1357.6L1165.9 1359.6L1165.9 1361.6L1165.8 1363.6L1165.8 1365.6L1165.7 1367.6L1165.7 1369.6L1165.6 1371.6L1165.6 1373.7L1165.6 1375.7L1165.5 1377.7L1165.5 1379.7L1165.4 1381.7L1165.4 1383.7L1165.3 1385.7L1165.3 1387.7L1165.2 1389.7L1165.2 1391.7L1165.1 1393.7L1165.1 1395.7L1165.1 1397.7L1165.0 1399.7L1165.0 1401.7L1164.9 1403.7L1164.9 1405.7L1164.8 1407.7L1164.8 1409.7L1164.7 1411.7L1164.7 1413.7L1164.6 1415.7L1164.6 1417.7L1164.5 1419.7L1164.5 1421.7L1164.4 1423.7L1164.4 1425.8L1164.3 1427.8L1164.3 1429.8L1164.2 1431.8L1164.2 1433.8L1164.2 1435.8L1164.1 1437.8L1164.1 1439.8L1164.0 1441.8L1164.0 1443.8L1163.9 1445.8L1163.9 1447.8L1163.8 1449.8L1163.8 1451.8L1163.7 1453.8L1163.7 1455.8L1163.6 1457.8L1163.6 1459.8L1163.5 1461.8L1163.5 1463.8L1163.4 1465.8L1163.4 1467.8L1163.3 1469.8L1163.3 1471.8L1163.2 1473.8L1163.2 1475.8L1163.1 1477.8L1163.1 1479.8L1163.0 1481.8L1163.0 1483.8L1162.9 1485.8L1162.9 1487.8L1162.8 1489.8L1162.7 1491.8L1162.7 1493.8L1162.6 1495.8L1162.5 1497.8L1162.5 1499.8L1162.4 1501.8L1162.3 1503.8L1162.2 1505.8L1162.2 1507.8L1162.1 1509.8L1162.0 1511.8L1161.9 1513.8L1161.8 1515.8L1161.7 1517.8L1161.6 1519.8L1161.5 1521.8L1161.4 1523.8L1161.3 1525.8L1161.1 1527.8L1161.0 1529.7L1160.9 1531.7L1160.7 1533.7L1160.6 1535.7L1160.4 1537.7L1160.3 1539.7L1160.1 1541.6L1160.0 1543.6L1159.8 1545.6L1159.6 1547.6L1159.4 1549.5L1159.2 1551.5L1158.9 1553.5L1158.7 1555.4L1158.5 1557.4L1158.2 1559.3L1157.9 1561.3L1157.6 1563.2L1157.3 1565.1L1157.0 1567.1L1156.6 1569.0L1156.3 1570.9L1155.9 1572.8L1155.5 1574.7L1155.0 1576.6L1154.6 1578.5L1154.1 1580.4L1153.6 1582.2L1153.0 1584.1L1152.4 1585.9L1151.8 1587.8L1151.2 1589.6L1150.5 1591.4L1149.8 1593.2L1149.1 1595.0L1148.4 1596.8L1147.6 1598.5L1146.8 1600.3L1146.0 1602.1L1145.1 1603.8L1144.3 1605.5L1143.4 1607.2L1142.4 1608.9L1141.5 1610.6L1140.5 1612.2L1139.5 1613.9L1138.4 1615.5L1137.4 1617.1L1136.3 1618.7L1135.2 1620.2L1134.0 1621.8L1132.9 1623.3L1131.7 1624.8L1130.4 1626.3L1129.2 1627.7L1127.9 1629.1L1126.6 1630.5L1125.3 1631.9L1123.9 1633.2L1122.5 1634.5L1121.1 1635.8L1119.7 1637.0L1118.2 1638.3L1116.7 1639.4L1115.2 1640.6L1113.7 1641.7L1112.1 1642.8L1110.5 1643.8L1108.9 1644.8L1107.3 1645.8L1105.6 1646.7L1103.9 1647.6L1102.2 1648.5L1100.5 1649.3L1098.8 1650.1L1097.0 1650.8L1095.3 1651.5L1093.5 1652.2L1091.6 1652.8L1089.8 1653.5L1088.0 1654.1L1086.1 1654.6L1084.2 1655.2L1082.4 1655.7L1080.5 1656.2L1078.6 1656.8L1076.6 1657.3L1074.7 1657.7L1072.8 1658.2L1070.9 1658.7L1068.9 1659.2L1067.0 1659.6L1065.0 1660.1L1063.1 1660.6L1061.1 1661.1L1059.2 1661.5L1057.2 1662.0L1055.2 1662.5L1053.3 1663.0L1051.3 1663.5L1049.4 1664.1L1047.4 1664.6L1045.5 1665.2L1043.5 1665.7L1041.6 1666.3L1039.7 1666.8L1037.7 1667.4L1035.8 1667.9L1033.9 1668.5L1032.0 1669.0L1030.1 1669.5L1028.1 1670.1L1026.2 1670.6L1024.3 1671.1L1022.4 1671.6L1020.5 1672.1L1018.6 1672.6L1016.6 1673.0L1014.7 1673.5L1012.8 1673.9L1010.8 1674.4L1008.9 1674.8L1007.0 1675.2L1005.0 1675.7L1003.1 1676.1L1001.1 1676.5L999.2 1676.9L997.2 1677.3L995.3 1677.7L993.3 1678.1L991.4 1678.5L989.4 1678.8L987.4 1679.2L985.5 1679.6L983.5 1680.0L981.6 1680.3L979.6 1680.7L977.6 1681.0L975.7 1681.4L973.7 1681.8L971.7 1682.1L969.7 1682.5L967.8 1682.8L965.8 1683.2L963.8 1683.5L961.9 1683.9L959.9 1684.2L957.9 1684.6L955.9 1684.9L954.0 1685.2L952.0 1685.6L950.0 1685.9L948.1 1686.3L946.1 1686.6L944.1 1687.0L942.1 1687.3L940.2 1687.6L938.2 1688.0L936.2 1688.3L934.2 1688.6L932.3 1689.0L930.3 1689.3L928.3 1689.6L926.4 1690.0L924.4 1690.3L922.4 1690.6L920.4 1690.9L918.5 1691.2L916.5 1691.6L914.5 1691.9L912.5 1692.2L910.5 1692.5L908.6 1692.8L906.6 1693.1L904.6 1693.4L902.6 1693.7L900.7 1694.0L898.7 1694.3L896.7 1694.7L894.7 1695.0L892.7 1695.3L890.8 1695.6L888.8 1695.9L886.8 1696.2L884.8 1696.5L882.8 1696.8L880.9 1697.1L878.9 1697.4L876.9 1697.7L874.9 1698.0L872.9 1698.3L871.0 1698.6L869.0 1698.8L867.0 1699.1L865.0 1699.4L863.0 1699.7L861.0 1700.0L859.1 1700.3L857.1 1700.6L855.1 1700.9L853.1 1701.2L851.1 1701.5L849.1 1701.8L847.2 1702.1L845.2 1702.4L843.2 1702.7L841.2 1703.0L839.2 1703.2L837.2 1703.5L835.3 1703.8L833.3 1704.1L831.3 1704.4L829.3 1704.7L827.3 1705.0L825.3 1705.3L823.4 1705.6L821.4 1705.9L819.4 1706.2L817.4 1706.5L815.4 1706.7L813.4 1707.0L811.5 1707.3L809.5 1707.6L807.5 1707.9L805.5 1708.2L803.5 1708.5L801.5 1708.8L799.6 1709.1L797.6 1709.4L795.6 1709.7L793.6 1710.0L791.6 1710.3L789.6 1710.6L787.7 1710.9L785.7 1711.1L783.7 1711.4L781.7 1711.7L779.7 1712.0L777.7 1712.3L775.8 1712.6L773.8 1712.9L771.8 1713.2L769.8 1713.5L767.8 1713.8L765.8 1714.1L763.9 1714.4L761.9 1714.7L759.9 1715.0L757.9 1715.3L755.9 1715.6L753.9 1715.9L752.0 1716.2L750.0 1716.5L748.0 1716.8L746.0 1717.1L744.0 1717.4L742.0 1717.7L740.1 1718.0L738.1 1718.3L736.1 1718.6L734.1 1718.9L732.1 1719.2L730.2 1719.5L728.2 1719.8L726.2 1720.2L724.2 1720.5L722.2 1720.8L720.2 1721.1L718.3 1721.4L716.3 1721.7L714.3 1722.0L712.3 1722.3L710.3 1722.6L708.4 1722.9L706.4 1723.2L704.4 1723.5L702.4 1723.8L700.4 1724.1L698.4 1724.5L696.5 1724.8L694.5 1725.1L692.5 1725.4L690.5 1725.7L688.5 1726.0L686.6 1726.3L684.6 1726.6L682.6 1726.9L680.6 1727.2L678.6 1727.5L676.7 1727.9L674.7 1728.2L672.7 1728.5L670.7 1728.8L668.7 1729.1L666.8 1729.4L664.8 1729.7L662.8 1730.0L660.8 1730.3L658.8 1730.6L656.8 1730.9L654.9 1731.2L652.9 1731.5L650.9 1731.9L648.9 1732.2L646.9 1732.5L645.0 1732.8L643.0 1733.1L641.0 1733.4L639.0 1733.7L637.0 1734.0L635.1 1734.3L633.1 1734.6L631.1 1734.9L629.1 1735.2L627.1 1735.5L625.2 1735.8L623.2 1736.1L621.2 1736.4L619.2 1736.7L617.2 1737.0L615.3 1737.3L613.3 1737.6L611.3 1737.9L609.3 1738.2L607.3 1738.5L605.4 1738.8L603.4 1739.1L601.4 1739.4L599.4 1739.7L597.4 1740.0L595.4 1740.3L593.5 1740.6L591.5 1740.9L589.5 1741.2L587.5 1741.5L585.5 1741.8L583.6 1742.1L581.6 1742.3L579.6 1742.6L577.6 1742.9L575.6 1743.2L573.6 1743.5L571.7 1743.8L569.7 1744.1L567.7 1744.3L565.7 1744.6L563.7 1744.9L561.8 1745.2L559.8 1745.4L557.8 1745.7L555.8 1746.0L553.8 1746.3L551.8 1746.5L549.9 1746.8L547.9 1747.1L545.9 1747.3L543.9 1747.6L541.9 1747.9L539.9 1748.1L537.9 1748.4L536.0 1748.7L534.0 1748.9L532.0 1749.2L530.0 1749.5L528.0 1749.7L526.0 1750.0L524.0 1750.2L522.1 1750.5L520.1 1750.8L518.1 1751.0L516.1 1751.3L514.1 1751.5L512.1 1751.8L510.1 1752.1L508.1 1752.3L506.1 1752.6L504.2 1752.9L502.2 1753.1L500.2 1753.4L498.2 1753.7L496.2 1754.0L494.2 1754.2L492.2 1754.5L490.2 1754.8L488.2 1755.1L486.2 1755.4L484.2 1755.7L482.3 1755.9L480.3 1756.2L478.3 1756.5L476.3 1756.8L474.3 1757.1L472.3 1757.4L470.3 1757.8L468.3 1758.1L466.3 1758.4L464.3 1758.7L462.4 1759.1L460.4 1759.4L458.4 1759.7L456.4 1760.1L454.4 1760.4L452.4 1760.8L450.4 1761.1L448.5 1761.5L446.5 1761.9L444.5 1762.2L442.5 1762.6L440.5 1763.0L438.5 1763.4L436.6 1763.8L434.6 1764.2L432.6 1764.6L430.6 1765.1L428.7 1765.5L426.7 1765.9L424.7 1766.4L422.7 1766.8L420.8 1767.3L418.8 1767.7L416.8 1768.2L414.9 1768.7L408.7 1770.7" fill="none" stroke="#0000ff" stroke-width="9.5" stroke-linejoin="round" stroke-linecap="butt"/>
<path d="M413.3 1766.0L413.3 1759.9L413.3 1757.9L413.4 1755.9L413.4 1753.9L413.4 1751.9L413.4 1749.9L413.4 1747.8L413.4 1745.8L413.4 1743.8L413.4 1741.8L413.4 1739.8L413.4 1737.8L413.5 1735.8L413.5 1733.8L413.5 1731.8L413.5 1729.8L413.5 1727.8L413.5 1725.8L413.5 1723.8L413.6 1721.8L413.6 1719.8L413.6 1717.8L413.6 1715.8L413.6 1713.8L413.6 1711.8L413.6 1709.7L413.7 1707.7L413.7 1705.7L413.7 1703.7L413.7 1701.7L413.7 1699.7L413.8 1697.7L413.8 1695.7L413.8 1693.7L413.8 1691.7L413.8 1689.7L413.9 1687.7L413.9 1685.7L413.9 1683.7L413.9 1681.7L413.9 1679.7L414.0 1677.7L414.0 1675.7L414.0 1673.7L414.0 1671.6L414.1 1669.6L414.1 1667.6L414.1 1665.6L414.1 1663.6L414.2 1661.6L414.2 1659.6L414.2 1657.6L414.2 1655.6L414.3 1653.6L414.3 1651.6L414.3 1649.6L414.3 1647.6L414.4 1645.6L414.4 1643.6L414.4 1641.6L414.5 1639.6L414.5 1637.6L414.5 1635.6L414.6 1633.6L414.6 1631.5L414.6 1629.5L414.7 1627.5L414.7 1625.5L414.7 1623.5L414.8 1621.5L414.8 1619.5L414.8 1617.5L414.9 1615.5L414.9 1613.5L414.9 1611.5L415.0 1609.5L415.0 1607.5L415.0 1605.5L415.1 1603.5L415.1 1601.5L415.2 1599.5L415.2 1597.5L415.2 1595.5L415.3 1593.5L415.3 1591.5L415.4 1589.4L415.4 1587.4L415.4 1585.4L415.5 1583.4L415.5 1581.4L415.6 1579.4L415.6 1577.4L415.7 1575.4L415.7 1573.4L415.8 1571.4L415.8 1569.4L415.9 1567.4L415.9 1565.4L415.9 1563.4L416.0 1561.4L416.0 1559.4L416.1 1557.4L416.1 1555.4L416.2 1553.4L416.2 1551.4L416.3 1549.4L416.4 1547.4L416.4 1545.4L416.5 1543.3L416.5 1541.3L416.6 1539.3L416.6 1537.3L416.7 1535.3L416.7 1533.3L416.8 1531.3L416.9 1529.3L416.9 1527.3L417.0 1525.3L417.0 1523.3L417.1 1521.3L417.2 1519.3L417.2 1517.3L417.3 1515.3L417.4 1513.3L417.4 1511.3L417.5 1509.3L417.5 1507.3L417.6 1505.3L417.7 1503.3L417.7 1501.3L417.8 1499.3L417.9 1497.3L418.0 1495.3L418.0 1493.3L418.1 1491.3L418.2 1489.3L418.3 1487.3L418.3 1485.2L418.4 1483.2L418.5 1481.2L418.6 1479.2L418.6 1477.2L418.7 1475.2L418.8 1473.2L418.9 1471.2L419.0 1469.2L419.1 1467.2L419.1 1465.2L419.2 1463.2L419.3 1461.2L419.4 1459.2L419.5 1457.2L419.6 1455.2L419.7 1453.2L419.8 1451.2L419.9 1449.2L420.0 1447.2L420.1 1445.2L420.2 1443.2L420.3 1441.2L420.4 1439.2L420.5 1437.2L420.7 1435.2L420.8 1433.2L420.9 1431.2L421.0 1429.2L421.1 1427.3L421.3 1425.3L421.4 1423.3L421.5 1421.3L421.6 1419.3L421.8 1417.3L421.9 1415.3L422.1 1413.3L422.2 1411.3L422.4 1409.3L422.5 1407.3L422.7 1405.3L422.8 1403.3L423.0 1401.3L423.1 1399.3L423.3 1397.3L423.5 1395.4L423.6 1393.4L423.8 1391.4L424.0 1389.4L424.2 1387.4L424.4 1385.4L424.6 1383.4L424.8 1381.4L425.0 1379.4L425.2 1377.5L425.4 1375.5L425.6 1373.5L425.8 1371.5L426.0 1369.5L426.3 1367.5L426.5 1365.6L426.7 1363.6L427.0 1361.6L427.2 1359.6L427.5 1357.7L427.7 1355.7L428.0 1353.7L428.3 1351.7L428.6 1349.8L428.8 1347.8L429.1 1345.8L429.4 1343.9L429.7 1341.9L430.0 1339.9L430.4 1338.0L430.7 1336.0L431.0 1334.0L431.4 1332.1L431.7 1330.1L432.1 1328.2L432.4 1326.2L432.8 1324.3L433.2 1322.3L433.6 1320.4L434.0 1318.5L434.4 1316.5L434.8 1314.6L435.3 1312.7L435.7 1310.8L436.2 1308.9L436.7 1307.0L437.2 1305.1L437.7 1303.2L438.3 1301.3L438.8 1299.4L439.4 1297.6L440.0 1295.7L440.6 1293.8L441.3 1292.0L441.9 1290.2L442.6 1288.4L443.3 1286.6L444.1 1284.8L444.8 1283.0L445.6 1281.2L446.4 1279.5L447.3 1277.7L448.1 1276.0L449.0 1274.3L449.9 1272.6L450.9 1270.9L451.9 1269.3L452.9 1267.7L453.9 1266.1L455.0 1264.5L456.1 1262.9L457.2 1261.4L458.4 1259.8L459.6 1258.3L460.8 1256.9L462.0 1255.4L463.3 1254.0L464.6 1252.6L466.0 1251.2L467.3 1249.9L468.7 1248.6L470.1 1247.3L471.6 1246.0L473.0 1244.8L474.5 1243.5L476.0 1242.3L477.6 1241.2L479.1 1240.0L480.7 1238.9L482.3 1237.8L483.9 1236.8L485.5 1235.7L487.2 1234.7L488.8 1233.7L490.5 1232.7L492.2 1231.8L493.9 1230.9L495.6 1229.9L497.3 1229.1L499.1 1228.2L500.8 1227.4L502.6 1226.6L504.4 1225.8L506.2 1225.0L508.0 1224.2L509.8 1223.5L511.6 1222.8L513.4 1222.1L515.3 1221.5L517.1 1220.8L518.9 1220.2L520.8 1219.6L522.7 1219.0L524.6 1218.4L526.4 1217.9L528.3 1217.3L530.2 1216.8L532.1 1216.3L534.0 1215.8L536.0 1215.3L537.9 1214.9L539.8 1214.4L541.7 1214.0L543.7 1213.5L545.6 1213.1L547.6 1212.7L549.5 1212.3L551.5 1211.8L553.4 1211.4L555.4 1211.0L557.3 1210.6L559.3 1210.2L561.2 1209.8L563.2 1209.4L565.2 1209.0L567.1 1208.6L569.1 1208.2L571.1 1207.8L573.0 1207.4L575.0 1207.0L577.0 1206.6L578.9 1206.2L580.9 1205.8L582.9 1205.5L584.8 1205.1L586.8 1204.7L588.8 1204.3L590.7 1203.9L592.7 1203.5L594.6 1203.1L596.6 1202.7L598.6 1202.3L600.5 1201.9L602.5 1201.5L604.5 1201.2L606.4 1200.8L608.4 1200.4L610.4 1200.0L612.3 1199.7L614.3 1199.3L616.3 1198.9L618.2 1198.6L620.2 1198.2L622.2 1197.9L624.1 1197.5L626.1 1197.2L628.1 1196.8L630.0 1196.5L632.0 1196.2L634.0 1195.8L635.9 1195.5L637.9 1195.2L639.9 1194.9L641.8 1194.6L643.8 1194.3L645.8 1194.0L647.8 1193.7L649.7 1193.4L651.7 1193.1L653.7 1192.8L655.6 1192.5L657.6 1192.3L659.6 1192.0L661.6 1191.7L663.5 1191.5L665.5 1191.3L667.5 1191.0L669.5 1190.8L671.4 1190.6L673.4 1190.4L675.4 1190.1L677.4 1189.9L679.4 1189.7L681.4 1189.5L683.3 1189.4L685.3 1189.2L687.3 1189.0L689.3 1188.8L691.3 1188.7L693.3 1188.5L695.3 1188.3L697.3 1188.2L699.2 1188.0L701.2 1187.9L703.2 1187.8L705.2 1187.6L707.2 1187.5L709.2 1187.4L711.2 1187.2L713.2 1187.1L715.2 1187.0L717.2 1186.9L719.2 1186.8L721.2 1186.7L723.2 1186.6L725.2 1186.5L727.2 1186.4L729.2 1186.3L731.2 1186.2L733.1 1186.1L735.1 1186.0L737.1 1185.9L739.1 1185.9L741.1 1185.8L743.1 1185.7L745.1 1185.6L747.1 1185.6L749.1 1185.5L751.2 1185.4L753.2 1185.3L755.2 1185.3L757.2 1185.2L759.2 1185.1L761.2 1185.1L763.2 1185.0L765.2 1185.0L767.2 1184.9L769.2 1184.8L771.2 1184.8L773.2 1184.7L775.2 1184.7L777.2 1184.6L779.2 1184.6L781.2 1184.5L783.2 1184.5L785.2 1184.4L787.2 1184.4L789.2 1184.4L791.2 1184.3L793.2 1184.3L795.2 1184.2L797.2 1184.2L799.2 1184.2L801.2 1184.1L803.2 1184.1L805.2 1184.0L807.2 1184.0L809.2 1184.0L811.2 1184.0L813.2 1183.9L815.2 1183.9L817.2 1183.9L819.2 1183.8L821.2 1183.8L823.2 1183.8L825.2 1183.8L827.3 1183.7L829.3 1183.7L831.3 1183.7L833.3 1183.7L835.3 1183.7L837.3 1183.7L839.3 1183.6L841.3 1183.6L843.3 1183.6L845.3 1183.6L847.3 1183.6L849.3 1183.6L851.3 1183.6L853.3 1183.6L855.3 1183.5L857.3 1183.5L859.3 1183.5L861.3 1183.5L863.3 1183.5L865.3 1183.5L867.3 1183.5L869.3 1183.5L871.3 1183.5L873.3 1183.5L875.4 1183.5L877.4 1183.5L879.4 1183.5L881.4 1183.5L883.4 1183.5L885.4 1183.5L887.4 1183.5L889.4 1183.5L891.4 1183.5L893.4 1183.5L895.4 1183.5L897.4 1183.5L899.4 1183.6L901.4 1183.6L903.4 1183.6L905.4 1183.6L907.4 1183.6L909.4 1183.6L911.4 1183.6L913.4 1183.6L915.4 1183.6L917.5 1183.6L919.5 1183.7L921.5 1183.7L923.5 1183.7L925.5 1183.7L927.5 1183.7L929.5 1183.7L931.5 1183.7L933.5 1183.8L935.5 1183.8L937.5 1183.8L939.5 1183.8L941.5 1183.8L943.5 1183.8L945.5 1183.9L947.5 1183.9L949.5 1183.9L951.5 1183.9L953.5 1183.9L955.6 1183.9L957.6 1184.0L959.6 1184.0L961.6 1184.0L963.6 1184.0L965.6 1184.0L967.6 1184.1L969.6 1184.1L971.6 1184.1L973.6 1184.1L975.6 1184.1L977.6 1184.1L979.6 1184.2L981.6 1184.2L983.6 1184.2L985.6 1184.2L987.6 1184.2L989.7 1184.3L991.7 1184.3L993.7 1184.3L995.7 1184.3L997.7 1184.3L999.7 1184.4L1001.7 1184.4L1003.7 1184.4L1005.7 1184.4L1007.7 1184.4L1009.7 1184.5L1011.7 1184.5L1013.7 1184.5L1015.7 1184.5L1017.7 1184.5L1019.7 1184.6L1021.8 1184.6L1023.8 1184.6L1025.8 1184.6L1027.8 1184.6L1029.8 1184.7L1031.8 1184.7L1033.8 1184.7L1035.8 1184.7L1037.8 1184.7L1039.8 1184.7L1041.8 1184.8L1043.8 1184.8L1045.8 1184.8L1047.8 1184.8L1049.8 1184.8L1051.9 1184.8L1053.9 1184.9L1055.9 1184.9L1057.9 1184.9L1059.9 1184.9L1061.9 1184.9L1063.9 1184.9L1065.9 1185.0L1067.9 1185.0L1069.9 1185.0L1071.9 1185.0L1073.9 1185.0L1075.9 1185.0L1077.9 1185.0L1079.9 1185.1L1082.0 1185.1L1084.0 1185.1L1086.0 1185.1L1088.0 1185.1L1090.0 1185.1L1092.0 1185.1L1094.0 1185.1L1096.0 1185.2L1098.0 1185.2L1100.0 1185.2L1102.0 1185.2L1104.0 1185.2L1106.0 1185.2L1108.0 1185.3L1110.0 1185.3L1112.0 1185.3L1114.0 1185.3L1116.1 1185.3L1118.1 1185.3L1120.1 1185.3L1122.1 1185.4L1124.1 1185.4L1126.1 1185.4L1128.1 1185.4L1130.1 1185.4L1132.1 1185.5L1134.1 1185.5L1136.1 1185.5L1138.1 1185.5L1140.1 1185.5L1142.1 1185.6L1144.1 1185.6L1146.1 1185.6L1148.1 1185.6L1150.1 1185.7L1152.1 1185.7L1154.1 1185.7L1156.1 1185.8L1158.1 1185.8L1160.1 1185.8L1162.1 1185.9L1164.2 1185.9L1171.5 1186.0" fill="none" stroke="#008080" stroke-width="9.5" stroke-linejoin="round" stroke-linecap="butt"/>
<path d="M1166.7 1181.3L1166.8 1187.3L1166.9 1189.3L1166.9 1191.3L1166.9 1193.3L1166.9 1195.3L1167.0 1197.3L1167.0 1199.3L1167.0 1201.3L1167.0 1203.3L1167.0 1205.3L1167.1 1207.3L1167.1 1209.3L1167.1 1211.3L1167.1 1213.3L1167.1 1215.3L1167.1 1217.3L1167.1 1219.3L1167.2 1221.4L1167.2 1223.4L1167.2 1225.4L1167.2 1227.4L1167.2 1229.4L1167.2 1231.4L1167.2 1233.4L1167.2 1235.4L1167.2 1237.4L1167.2 1239.4L1167.2 1241.4L1167.2 1243.4L1167.2 1245.4L1167.2 1247.4L1167.2 1249.4L1167.2 1251.4L1167.2 1253.4L1167.2 1255.4L1167.2 1257.4L1167.2 1259.4L1167.2 1261.4L1167.2 1263.4L1167.2 1265.4L1167.1 1267.4L1167.1 1269.4L1167.1 1271.4L1167.1 1273.4L1167.1 1275.4L1167.1 1277.4L1167.1 1279.5L1167.0 1281.5L1167.0 1283.5L1167.0 1285.5L1167.0 1287.5L1167.0 1289.5L1167.0 1291.5L1166.9 1293.5L1166.9 1295.5L1166.9 1297.5L1166.9 1299.5L1166.8 1301.5L1166.8 1303.5L1166.8 1305.5L1166.8 1307.5L1166.7 1309.5L1166.7 1311.5L1166.7 1313.5L1166.6 1315.5L1166.6 1317.5L1166.6 1319.5L1166.5 1321.5L1166.5 1323.5L1166.5 1325.5L1166.4 1327.5L1166.4 1329.5L1166.4 1331.5L1166.3 1333.5L1166.3 1335.5L1166.2 1337.5L1166.2 1339.6L1166.2 1341.6L1166.1 1343.6L1166.1 1345.6L1166.0 1347.6L1166.0 1349.6L1165.9 1351.6L1165.9 1353.6L1165.9 1355.6L1165.8 1357.6L1165.8 1359.6L1165.7 1361.6L1165.7 1363.6L1165.6 1365.6L1165.6 1367.6L1165.5 1369.6L1165.5 1371.6L1165.4 1373.6L1165.3 1375.6L1165.3 1377.6L1165.2 1379.6L1165.2 1381.6L1165.1 1383.6L1165.1 1385.6L1165.0 1387.6L1164.9 1389.6L1164.9 1391.6L1164.8 1393.6L1164.7 1395.6L1164.7 1397.6L1164.6 1399.6L1164.6 1401.6L1164.5 1403.6L1164.4 1405.6L1164.3 1407.6L1164.3 1409.6L1164.2 1411.7L1164.1 1413.7L1164.1 1415.7L1164.0 1417.7L1163.9 1419.7L1163.8 1421.7L1163.8 1423.7L1163.7 1425.7L1163.6 1427.7L1163.5 1429.7L1163.5 1431.7L1163.4 1433.7L1163.3 1435.7L1163.2 1437.7L1163.1 1439.7L1163.1 1441.7L1163.0 1443.7L1162.9 1445.7L1162.8 1447.7L1162.7 1449.7L1162.6 1451.7L1162.6 1453.7L1162.5 1455.7L1162.4 1457.7L1162.3 1459.7L1162.2 1461.7L1162.1 1463.7L1162.0 1465.7L1161.9 1467.7L1161.8 1469.7L1161.7 1471.7L1161.6 1473.7L1161.5 1475.7L1161.4 1477.7L1161.3 1479.7L1161.2 1481.7L1161.1 1483.7L1161.0 1485.7L1160.9 1487.7L1160.8 1489.7L1160.6 1491.7L1160.5 1493.7L1160.4 1495.7L1160.3 1497.7L1160.2 1499.7L1160.0 1501.7L1159.9 1503.7L1159.8 1505.6L1159.6 1507.6L1159.5 1509.6L1159.3 1511.6L1159.2 1513.6L1159.0 1515.6L1158.9 1517.6L1158.7 1519.6L1158.6 1521.6L1158.4 1523.6L1158.2 1525.5L1158.0 1527.5L1157.8 1529.5L1157.7 1531.5L1157.5 1533.5L1157.3 1535.5L1157.1 1537.4L1156.8 1539.4L1156.6 1541.4L1156.4 1543.4L1156.2 1545.3L1155.9 1547.3L1155.7 1549.3L1155.4 1551.2L1155.1 1553.2L1154.8 1555.1L1154.5 1557.1L1154.2 1559.0L1153.9 1561.0L1153.6 1562.9L1153.2 1564.9L1152.9 1566.8L1152.5 1568.7L1152.1 1570.6L1151.6 1572.5L1151.2 1574.4L1150.7 1576.3L1150.2 1578.2L1149.7 1580.1L1149.1 1581.9L1148.6 1583.8L1148.0 1585.6L1147.3 1587.4L1146.7 1589.2L1146.0 1591.1L1145.3 1592.8L1144.6 1594.6L1143.8 1596.4L1143.0 1598.2L1142.2 1599.9L1141.3 1601.7L1140.4 1603.4L1139.5 1605.1L1138.6 1606.8L1137.7 1608.4L1136.7 1610.1L1135.7 1611.7L1134.6 1613.4L1133.6 1615.0L1132.5 1616.5L1131.4 1618.1L1130.2 1619.6L1129.0 1621.1L1127.8 1622.6L1126.6 1624.0L1125.3 1625.4L1124.0 1626.8L1122.7 1628.2L1121.3 1629.5L1120.0 1630.8L1118.5 1632.0L1117.1 1633.2L1115.6 1634.4L1114.1 1635.6L1112.5 1636.7L1111.0 1637.8L1109.4 1638.8L1107.8 1639.8L1106.2 1640.8L1104.5 1641.8L1102.8 1642.7L1101.1 1643.6L1099.4 1644.5L1097.7 1645.3L1095.9 1646.2L1094.2 1646.9L1092.4 1647.7L1090.6 1648.4L1088.8 1649.1L1087.0 1649.8L1085.2 1650.5L1083.3 1651.1L1081.5 1651.7L1079.6 1652.3L1077.7 1652.9L1075.9 1653.5L1074.0 1654.0L1072.1 1654.5L1070.2 1655.1L1068.3 1655.6L1066.3 1656.1L1064.4 1656.6L1062.5 1657.0L1060.6 1657.5L1058.6 1658.0L1056.7 1658.5L1054.7 1658.9L1052.8 1659.4L1050.8 1659.9L1048.9 1660.3L1046.9 1660.8L1045.0 1661.3L1043.0 1661.7L1041.1 1662.2L1039.1 1662.7L1037.2 1663.1L1035.2 1663.6L1033.3 1664.1L1031.3 1664.5L1029.4 1665.0L1027.5 1665.5L1025.5 1665.9L1023.6 1666.4L1021.6 1666.9L1019.7 1667.3L1017.7 1667.8L1015.8 1668.2L1013.8 1668.7L1011.9 1669.1L1009.9 1669.6L1008.0 1670.0L1006.0 1670.5L1004.1 1670.9L1002.1 1671.3L1000.2 1671.8L998.2 1672.2L996.3 1672.6L994.3 1673.0L992.4 1673.4L990.4 1673.8L988.5 1674.2L986.5 1674.6L984.6 1675.0L982.6 1675.4L980.6 1675.8L978.7 1676.2L976.7 1676.5L974.8 1676.9L972.8 1677.3L970.8 1677.6L968.9 1678.0L966.9 1678.3L965.0 1678.7L963.0 1679.0L961.0 1679.4L959.0 1679.7L957.1 1680.0L955.1 1680.3L953.1 1680.7L951.2 1681.0L949.2 1681.3L947.2 1681.6L945.2 1681.9L943.3 1682.2L941.3 1682.5L939.3 1682.8L937.3 1683.1L935.4 1683.4L933.4 1683.7L931.4 1684.0L929.4 1684.3L927.4 1684.6L925.5 1684.9L923.5 1685.2L921.5 1685.4L919.5 1685.7L917.5 1686.0L915.6 1686.3L913.6 1686.6L911.6 1686.8L909.6 1687.1L907.6 1687.4L905.6 1687.6L903.7 1687.9L901.7 1688.2L899.7 1688.5L897.7 1688.7L895.7 1689.0L893.7 1689.3L891.7 1689.5L889.7 1689.8L887.8 1690.1L885.8 1690.4L883.8 1690.6L881.8 1690.9L879.8 1691.2L877.8 1691.4L875.8 1691.7L873.8 1692.0L871.9 1692.3L869.9 1692.5L867.9 1692.8L865.9 1693.1L863.9 1693.3L861.9 1693.6L859.9 1693.9L857.9 1694.2L856.0 1694.4L854.0 1694.7L852.0 1695.0L850.0 1695.3L848.0 1695.5L846.0 1695.8L844.0 1696.1L842.0 1696.4L840.1 1696.6L838.1 1696.9L836.1 1697.2L834.1 1697.5L832.1 1697.8L830.1 1698.0L828.1 1698.3L826.1 1698.6L824.2 1698.9L822.2 1699.2L820.2 1699.4L818.2 1699.7L816.2 1700.0L814.2 1700.3L812.2 1700.6L810.3 1700.8L808.3 1701.1L806.3 1701.4L804.3 1701.7L802.3 1702.0L800.3 1702.3L798.3 1702.6L796.3 1702.8L794.4 1703.1L792.4 1703.4L790.4 1703.7L788.4 1704.0L786.4 1704.3L784.4 1704.6L782.4 1704.9L780.5 1705.2L778.5 1705.4L776.5 1705.7L774.5 1706.0L772.5 1706.3L770.5 1706.6L768.6 1706.9L766.6 1707.2L764.6 1707.5L762.6 1707.8L760.6 1708.1L758.6 1708.4L756.6 1708.7L754.7 1709.0L752.7 1709.3L750.7 1709.6L748.7 1709.9L746.7 1710.2L744.7 1710.5L742.8 1710.8L740.8 1711.1L738.8 1711.4L736.8 1711.7L734.8 1712.0L732.8 1712.3L730.8 1712.6L728.9 1712.9L726.9 1713.2L724.9 1713.5L722.9 1713.8L720.9 1714.1L719.0 1714.4L717.0 1714.7L715.0 1715.1L713.0 1715.4L711.0 1715.7L709.0 1716.0L707.1 1716.3L705.1 1716.6L703.1 1716.9L701.1 1717.2L699.1 1717.5L697.1 1717.8L695.2 1718.1L693.2 1718.4L691.2 1718.7L689.2 1719.1L687.2 1719.4L685.3 1719.7L683.3 1720.0L681.3 1720.3L679.3 1720.6L677.3 1720.9L675.4 1721.2L673.4 1721.5L671.4 1721.8L669.4 1722.1L667.4 1722.4L665.4 1722.7L663.5 1723.1L661.5 1723.4L659.5 1723.7L657.5 1724.0L655.5 1724.3L653.6 1724.6L651.6 1724.9L649.6 1725.2L647.6 1725.5L645.6 1725.8L643.6 1726.1L641.7 1726.4L639.7 1726.7L637.7 1727.0L635.7 1727.3L633.7 1727.6L631.8 1727.9L629.8 1728.2L627.8 1728.5L625.8 1728.8L623.8 1729.1L621.9 1729.4L619.9 1729.7L617.9 1730.0L615.9 1730.2L613.9 1730.5L611.9 1730.8L610.0 1731.1L608.0 1731.4L606.0 1731.7L604.0 1732.0L602.0 1732.3L600.0 1732.5L598.1 1732.8L596.1 1733.1L594.1 1733.4L592.1 1733.7L590.1 1733.9L588.2 1734.2L586.2 1734.5L584.2 1734.8L582.2 1735.0L580.2 1735.3L578.2 1735.6L576.3 1735.8L574.3 1736.1L572.3 1736.4L570.3 1736.6L568.3 1736.9L566.3 1737.1L564.3 1737.4L562.4 1737.6L560.4 1737.9L558.4 1738.1L556.4 1738.4L554.4 1738.6L552.4 1738.8L550.5 1739.1L548.5 1739.3L546.5 1739.5L544.5 1739.8L542.5 1740.0L540.5 1740.2L538.5 1740.5L536.5 1740.7L534.5 1740.9L532.6 1741.1L530.6 1741.3L528.6 1741.6L526.6 1741.8L524.6 1742.0L522.6 1742.2L520.6 1742.4L518.6 1742.7L516.6 1742.9L514.6 1743.1L512.6 1743.3L510.6 1743.5L508.6 1743.8L506.6 1744.0L504.6 1744.2L502.6 1744.4L500.6 1744.7L498.6 1744.9L496.6 1745.1L494.6 1745.4L492.6 1745.6L490.6 1745.9L488.6 1746.1L486.6 1746.4L484.6 1746.6L482.7 1746.9L480.7 1747.2L478.7 1747.4L476.7 1747.7L474.7 1748.0L472.7 1748.3L470.7 1748.5L468.7 1748.8L466.7 1749.1L464.7 1749.4L462.7 1749.7L460.7 1750.0L458.7 1750.4L456.7 1750.7L454.7 1751.0L452.7 1751.3L450.7 1751.7L448.7 1752.0L446.8 1752.4L444.8 1752.7L442.8 1753.1L440.8 1753.5L438.8 1753.9L436.8 1754.2L434.8 1754.6L432.8 1755.0L430.9 1755.5L428.9 1755.9L426.9 1756.3L424.9 1756.8L422.9 1757.2L421.0 1757.7L419.0 1758.2L417.0 1758.6L415.0 1759.1L408.6 1761.3" fill="none" stroke="#008080" stroke-width="9.5" stroke-linejoin="round" stroke-linecap="butt"/>
<path d="M413.4 1758.7L413.4 1752.3L413.4 1750.3L413.4 1748.3L413.4 1746.3L413.3 1744.3L413.3 1742.3L413.3 1740.3L413.3 1738.3L413.3 1736.3L413.3 1734.3L413.3 1732.3L413.3 1730.3L413.3 1728.2L413.3 1726.2L413.3 1724.2L413.3 1722.2L413.4 1720.2L413.4 1718.2L413.4 1716.2L413.4 1714.2L413.4 1712.2L413.4 1710.2L413.4 1708.2L413.4 1706.2L413.5 1704.2L413.5 1702.2L413.5 1700.2L413.5 1698.1L413.5 1696.1L413.6 1694.1L413.6 1692.1L413.6 1690.1L413.6 1688.1L413.7 1686.1L413.7 1684.1L413.7 1682.1L413.7 1680.1L413.8 1678.1L413.8 1676.1L413.8 1674.1L413.9 1672.1L413.9 1670.1L413.9 1668.1L414.0 1666.1L414.0 1664.0L414.0 1662.0L414.1 1660.0L414.1 1658.0L414.1 1656.0L414.2 1654.0L414.2 1652.0L414.2 1650.0L414.3 1648.0L414.3 1646.0L414.4 1644.0L414.4 1642.0L414.4 1640.0L414.5 1638.0L414.5 1636.0L414.6 1634.0L414.6 1631.9L414.6 1629.9L414.7 1627.9L414.7 1625.9L414.8 1623.9L414.8 1621.9L414.9 1619.9L414.9 1617.9L415.0 1615.9L415.0 1613.9L415.0 1611.9L415.1 1609.9L415.1 1607.9L415.2 1605.9L415.2 1603.9L415.3 1601.9L415.3 1599.9L415.4 1597.8L415.4 1595.8L415.5 1593.8L415.5 1591.8L415.6 1589.8L415.6 1587.8L415.7 1585.8L415.7 1583.8L415.8 1581.8L415.8 1579.8L415.9 1577.8L415.9 1575.8L416.0 1573.8L416.0 1571.8L416.1 1569.8L416.1 1567.8L416.2 1565.8L416.2 1563.7L416.3 1561.7L416.3 1559.7L416.4 1557.7L416.4 1555.7L416.5 1553.7L416.6 1551.7L416.6 1549.7L416.7 1547.7L416.7 1545.7L416.8 1543.7L416.8 1541.7L416.9 1539.7L417.0 1537.7L417.0 1535.7L417.1 1533.7L417.1 1531.7L417.2 1529.7L417.3 1527.6L417.3 1525.6L417.4 1523.6L417.5 1521.6L417.5 1519.6L417.6 1517.6L417.7 1515.6L417.7 1513.6L417.8 1511.6L417.9 1509.6L418.0 1507.6L418.0 1505.6L418.1 1503.6L418.2 1501.6L418.3 1499.6L418.3 1497.6L418.4 1495.6L418.5 1493.6L418.6 1491.6L418.7 1489.6L418.8 1487.5L418.9 1485.5L418.9 1483.5L419.0 1481.5L419.1 1479.5L419.2 1477.5L419.3 1475.5L419.4 1473.5L419.5 1471.5L419.6 1469.5L419.7 1467.5L419.8 1465.5L419.9 1463.5L420.0 1461.5L420.1 1459.5L420.3 1457.5L420.4 1455.5L420.5 1453.5L420.6 1451.5L420.7 1449.5L420.8 1447.5L421.0 1445.5L421.1 1443.5L421.2 1441.5L421.3 1439.5L421.5 1437.5L421.6 1435.5L421.7 1433.5L421.9 1431.5L422.0 1429.5L422.1 1427.5L422.3 1425.5L422.4 1423.4L422.6 1421.4L422.7 1419.4L422.9 1417.4L423.0 1415.4L423.2 1413.4L423.3 1411.4L423.5 1409.4L423.6 1407.4L423.8 1405.4L424.0 1403.4L424.1 1401.4L424.3 1399.4L424.5 1397.4L424.6 1395.4L424.8 1393.5L425.0 1391.5L425.2 1389.5L425.4 1387.5L425.6 1385.5L425.8 1383.5L426.0 1381.5L426.2 1379.5L426.4 1377.5L426.6 1375.5L426.8 1373.5L427.1 1371.5L427.3 1369.5L427.5 1367.5L427.8 1365.5L428.0 1363.5L428.3 1361.5L428.5 1359.5L428.8 1357.6L429.1 1355.6L429.4 1353.6L429.6 1351.6L429.9 1349.6L430.2 1347.6L430.5 1345.6L430.9 1343.7L431.2 1341.7L431.5 1339.7L431.9 1337.7L432.2 1335.8L432.6 1333.8L433.0 1331.8L433.3 1329.8L433.7 1327.9L434.2 1325.9L434.6 1324.0L435.0 1322.0L435.5 1320.0L435.9 1318.1L436.4 1316.1L436.9 1314.2L437.4 1312.3L438.0 1310.3L438.5 1308.4L439.1 1306.5L439.7 1304.6L440.3 1302.6L440.9 1300.7L441.6 1298.8L442.3 1296.9L442.9 1295.1L443.7 1293.2L444.4 1291.3L445.2 1289.5L446.0 1287.6L446.8 1285.8L447.6 1284.0L448.5 1282.2L449.4 1280.4L450.3 1278.6L451.3 1276.8L452.3 1275.1L453.3 1273.4L454.3 1271.6L455.4 1270.0L456.5 1268.3L457.7 1266.6L458.8 1265.0L460.1 1263.4L461.3 1261.9L462.6 1260.3L463.9 1258.8L465.3 1257.3L466.7 1255.9L468.1 1254.5L469.6 1253.1L471.1 1251.8L472.6 1250.5L474.1 1249.2L475.7 1248.0L477.3 1246.8L479.0 1245.6L480.6 1244.5L482.3 1243.4L484.0 1242.3L485.7 1241.3L487.5 1240.3L489.2 1239.3L491.0 1238.3L492.8 1237.4L494.6 1236.5L496.4 1235.6L498.2 1234.8L500.0 1234.0L501.8 1233.2L503.7 1232.4L505.5 1231.6L507.4 1230.9L509.3 1230.1L511.2 1229.4L513.0 1228.7L514.9 1228.0L516.8 1227.3L518.7 1226.7L520.6 1226.0L522.5 1225.4L524.4 1224.8L526.3 1224.2L528.2 1223.6L530.2 1223.0L532.1 1222.4L534.0 1221.8L535.9 1221.3L537.9 1220.7L539.8 1220.2L541.7 1219.7L543.7 1219.1L545.6 1218.6L547.5 1218.1L549.5 1217.6L551.4 1217.1L553.4 1216.6L555.3 1216.2L557.3 1215.7L559.2 1215.2L561.2 1214.8L563.1 1214.3L565.1 1213.9L567.1 1213.5L569.0 1213.0L571.0 1212.6L572.9 1212.2L574.9 1211.8L576.9 1211.4L578.8 1211.0L580.8 1210.6L582.8 1210.2L584.8 1209.8L586.7 1209.5L588.7 1209.1L590.7 1208.7L592.6 1208.3L594.6 1208.0L596.6 1207.6L598.6 1207.3L600.5 1206.9L602.5 1206.6L604.5 1206.2L606.5 1205.9L608.4 1205.5L610.4 1205.2L612.4 1204.9L614.4 1204.5L616.4 1204.2L618.3 1203.9L620.3 1203.6L622.3 1203.2L624.3 1202.9L626.3 1202.6L628.2 1202.3L630.2 1202.0L632.2 1201.7L634.2 1201.4L636.2 1201.1L638.2 1200.8L640.2 1200.5L642.1 1200.3L644.1 1200.0L646.1 1199.7L648.1 1199.4L650.1 1199.2L652.1 1198.9L654.1 1198.6L656.1 1198.4L658.0 1198.1L660.0 1197.9L662.0 1197.6L664.0 1197.4L666.0 1197.2L668.0 1196.9L670.0 1196.7L672.0 1196.5L674.0 1196.2L676.0 1196.0L678.0 1195.8L680.0 1195.6L682.0 1195.4L684.0 1195.2L686.0 1195.0L688.0 1194.8L689.9 1194.6L691.9 1194.4L693.9 1194.2L695.9 1194.0L697.9 1193.8L699.9 1193.6L701.9 1193.5L703.9 1193.3L705.9 1193.1L707.9 1192.9L709.9 1192.8L711.9 1192.6L713.9 1192.5L715.9 1192.3L717.9 1192.2L719.9 1192.0L721.9 1191.9L723.9 1191.7L725.9 1191.6L727.9 1191.4L729.9 1191.3L731.9 1191.2L733.9 1191.0L735.9 1190.9L738.0 1190.8L740.0 1190.7L742.0 1190.5L744.0 1190.4L746.0 1190.3L748.0 1190.2L750.0 1190.1L752.0 1190.0L754.0 1189.9L756.0 1189.8L758.0 1189.7L760.0 1189.6L762.0 1189.5L764.0 1189.4L766.0 1189.3L768.0 1189.2L770.0 1189.2L772.0 1189.1L774.0 1189.0L776.0 1188.9L778.0 1188.9L780.0 1188.8L782.0 1188.7L784.0 1188.6L786.1 1188.6L788.1 1188.5L790.1 1188.5L792.1 1188.4L794.1 1188.3L796.1 1188.3L798.1 1188.2L800.1 1188.2L802.1 1188.1L804.1 1188.1L806.1 1188.0L808.1 1188.0L810.1 1188.0L812.1 1187.9L814.1 1187.9L816.1 1187.9L818.1 1187.8L820.2 1187.8L822.2 1187.8L824.2 1187.7L826.2 1187.7L828.2 1187.7L830.2 1187.7L832.2 1187.6L834.2 1187.6L836.2 1187.6L838.2 1187.6L840.2 1187.6L842.2 1187.5L844.2 1187.5L846.2 1187.5L848.2 1187.5L850.2 1187.5L852.3 1187.5L854.3 1187.5L856.3 1187.5L858.3 1187.5L860.3 1187.5L862.3 1187.5L864.3 1187.5L866.3 1187.5L868.3 1187.5L870.3 1187.5L872.3 1187.5L874.3 1187.5L876.3 1187.5L878.3 1187.5L880.3 1187.5L882.3 1187.5L884.4 1187.5L886.4 1187.5L888.4 1187.6L890.4 1187.6L892.4 1187.6L894.4 1187.6L896.4 1187.6L898.4 1187.6L900.4 1187.7L902.4 1187.7L904.4 1187.7L906.4 1187.7L908.4 1187.7L910.4 1187.8L912.4 1187.8L914.5 1187.8L916.5 1187.8L918.5 1187.8L920.5 1187.9L922.5 1187.9L924.5 1187.9L926.5 1188.0L928.5 1188.0L930.5 1188.0L932.5 1188.0L934.5 1188.1L936.5 1188.1L938.5 1188.1L940.5 1188.2L942.5 1188.2L944.5 1188.2L946.6 1188.2L948.6 1188.3L950.6 1188.3L952.6 1188.3L954.6 1188.4L956.6 1188.4L958.6 1188.4L960.6 1188.5L962.6 1188.5L964.6 1188.5L966.6 1188.6L968.6 1188.6L970.6 1188.6L972.6 1188.7L974.6 1188.7L976.6 1188.7L978.6 1188.8L980.7 1188.8L982.7 1188.8L984.7 1188.9L986.7 1188.9L988.7 1188.9L990.7 1189.0L992.7 1189.0L994.7 1189.0L996.7 1189.1L998.7 1189.1L1000.7 1189.1L1002.7 1189.2L1004.7 1189.2L1006.7 1189.2L1008.7 1189.2L1010.7 1189.3L1012.8 1189.3L1014.8 1189.3L1016.8 1189.4L1018.8 1189.4L1020.8 1189.4L1022.8 1189.5L1024.8 1189.5L1026.8 1189.5L1028.8 1189.5L1030.8 1189.6L1032.8 1189.6L1034.8 1189.6L1036.8 1189.6L1038.8 1189.7L1040.8 1189.7L1042.8 1189.7L1044.9 1189.7L1046.9 1189.8L1048.9 1189.8L1050.9 1189.8L1052.9 1189.8L1054.9 1189.8L1056.9 1189.8L1058.9 1189.9L1060.9 1189.9L1062.9 1189.9L1064.9 1189.9L1066.9 1189.9L1068.9 1189.9L1070.9 1189.9L1072.9 1190.0L1074.9 1190.0L1077.0 1190.0L1079.0 1190.0L1081.0 1190.0L1083.0 1190.0L1085.0 1190.0L1087.0 1190.0L1089.0 1190.0L1091.0 1190.0L1093.0 1190.0L1095.0 1190.0L1097.0 1190.0L1099.0 1190.0L1101.0 1190.0L1103.0 1190.0L1105.0 1190.0L1107.1 1190.0L1109.1 1190.0L1111.1 1190.0L1113.1 1190.0L1115.1 1189.9L1117.1 1189.9L1119.1 1189.9L1121.1 1189.9L1123.1 1189.9L1125.1 1189.9L1127.1 1189.8L1129.1 1189.8L1131.1 1189.8L1133.1 1189.8L1135.1 1189.8L1137.1 1189.7L1139.2 1189.7L1141.2 1189.7L1143.2 1189.6L1145.2 1189.6L1147.2 1189.6L1149.2 1189.5L1151.2 1189.5L1153.2 1189.5L1155.2 1189.4L1157.2 1189.4L1159.2 1189.3L1161.2 1189.3L1163.2 1189.2L1165.2 1189.2L1171.9 1189.1" fill="none" stroke="#ff00ff" stroke-width="9.3" stroke-linejoin="round" stroke-linecap="butt"/>
<path d="M1167.2 1184.5L1167.2 1191.5L1167.2 1193.5L1167.2 1195.5L1167.2 1197.5L1167.2 1199.5L1167.2 1201.5L1167.2 1203.5L1167.2 1205.5L1167.2 1207.6L1167.2 1209.6L1167.2 1211.6L1167.2 1213.6L1167.2 1215.6L1167.2 1217.6L1167.2 1219.6L1167.2 1221.6L1167.2 1223.6L1167.2 1225.6L1167.2 1227.6L1167.2 1229.6L1167.2 1231.6L1167.2 1233.6L1167.2 1235.6L1167.2 1237.6L1167.2 1239.6L1167.2 1241.7L1167.2 1243.7L1167.2 1245.7L1167.2 1247.7L1167.2 1249.7L1167.3 1251.7L1167.3 1253.7L1167.3 1255.7L1167.3 1257.7L1167.3 1259.7L1167.3 1261.7L1167.3 1263.7L1167.2 1265.7L1167.2 1267.7L1167.2 1269.7L1167.2 1271.7L1167.2 1273.8L1167.2 1275.8L1167.2 1277.8L1167.2 1279.8L1167.2 1281.8L1167.1 1283.8L1167.1 1285.8L1167.1 1287.8L1167.1 1289.8L1167.1 1291.8L1167.0 1293.8L1167.0 1295.8L1167.0 1297.8L1166.9 1299.8L1166.9 1301.8L1166.9 1303.8L1166.8 1305.8L1166.8 1307.8L1166.7 1309.9L1166.7 1311.9L1166.6 1313.9L1166.6 1315.9L1166.5 1317.9L1166.4 1319.9L1166.4 1321.9L1166.3 1323.9L1166.2 1325.9L1166.2 1327.9L1166.1 1329.9L1166.0 1331.9L1165.9 1333.9L1165.8 1335.9L1165.7 1337.9L1165.6 1339.9L1165.5 1341.9L1165.4 1343.9L1165.3 1345.9L1165.2 1347.9L1165.1 1349.9L1165.0 1351.9L1164.8 1353.9L1164.7 1355.9L1164.6 1357.9L1164.5 1359.9L1164.3 1361.9L1164.2 1364.0L1164.1 1366.0L1164.0 1368.0L1163.8 1370.0L1163.7 1372.0L1163.6 1374.0L1163.4 1376.0L1163.3 1378.0L1163.2 1380.0L1163.1 1382.0L1162.9 1384.0L1162.8 1386.0L1162.7 1388.0L1162.6 1390.0L1162.5 1392.0L1162.3 1394.0L1162.2 1396.0L1162.1 1398.0L1162.0 1400.0L1161.9 1402.0L1161.8 1404.0L1161.7 1406.0L1161.6 1408.0L1161.5 1410.0L1161.4 1412.0L1161.2 1414.0L1161.1 1416.0L1161.0 1418.0L1160.9 1420.0L1160.8 1422.0L1160.7 1424.0L1160.6 1426.0L1160.5 1428.0L1160.4 1430.0L1160.3 1432.0L1160.2 1434.0L1160.1 1436.0L1160.0 1438.1L1159.9 1440.1L1159.8 1442.1L1159.8 1444.1L1159.7 1446.1L1159.6 1448.1L1159.5 1450.1L1159.4 1452.1L1159.3 1454.1L1159.2 1456.1L1159.1 1458.1L1159.0 1460.1L1158.9 1462.1L1158.8 1464.1L1158.7 1466.1L1158.6 1468.1L1158.5 1470.1L1158.4 1472.1L1158.3 1474.1L1158.2 1476.1L1158.1 1478.1L1158.0 1480.1L1157.9 1482.1L1157.8 1484.1L1157.7 1486.1L1157.6 1488.1L1157.5 1490.1L1157.4 1492.1L1157.3 1494.2L1157.2 1496.2L1157.1 1498.2L1157.0 1500.2L1156.9 1502.2L1156.7 1504.2L1156.6 1506.2L1156.5 1508.2L1156.3 1510.2L1156.2 1512.2L1156.1 1514.2L1155.9 1516.2L1155.8 1518.2L1155.6 1520.2L1155.5 1522.2L1155.3 1524.2L1155.1 1526.2L1154.9 1528.2L1154.7 1530.2L1154.6 1532.2L1154.3 1534.2L1154.1 1536.2L1153.9 1538.1L1153.7 1540.1L1153.4 1542.1L1153.2 1544.1L1152.9 1546.1L1152.7 1548.1L1152.4 1550.1L1152.1 1552.1L1151.8 1554.0L1151.4 1556.0L1151.1 1558.0L1150.7 1560.0L1150.4 1561.9L1150.0 1563.9L1149.6 1565.9L1149.1 1567.8L1148.7 1569.8L1148.2 1571.8L1147.8 1573.7L1147.3 1575.6L1146.7 1577.6L1146.2 1579.5L1145.6 1581.4L1145.0 1583.3L1144.4 1585.3L1143.8 1587.2L1143.1 1589.0L1142.4 1590.9L1141.7 1592.8L1140.9 1594.7L1140.2 1596.5L1139.4 1598.3L1138.5 1600.2L1137.7 1602.0L1136.8 1603.8L1135.8 1605.5L1134.9 1607.3L1133.9 1609.0L1132.8 1610.8L1131.7 1612.5L1130.6 1614.1L1129.5 1615.8L1128.3 1617.4L1127.1 1619.0L1125.8 1620.5L1124.5 1622.0L1123.1 1623.5L1121.7 1625.0L1120.3 1626.4L1118.8 1627.7L1117.3 1629.1L1115.8 1630.3L1114.2 1631.6L1112.6 1632.8L1111.0 1633.9L1109.3 1635.1L1107.6 1636.1L1105.9 1637.2L1104.1 1638.2L1102.4 1639.1L1100.6 1640.1L1098.8 1641.0L1097.0 1641.8L1095.2 1642.7L1093.4 1643.5L1091.5 1644.3L1089.7 1645.0L1087.8 1645.8L1085.9 1646.5L1084.0 1647.2L1082.2 1647.9L1080.3 1648.5L1078.4 1649.2L1076.5 1649.8L1074.5 1650.4L1072.6 1651.0L1070.7 1651.6L1068.8 1652.2L1066.9 1652.7L1064.9 1653.3L1063.0 1653.8L1061.0 1654.3L1059.1 1654.8L1057.2 1655.3L1055.2 1655.8L1053.3 1656.3L1051.3 1656.8L1049.4 1657.2L1047.4 1657.7L1045.5 1658.2L1043.5 1658.6L1041.6 1659.1L1039.6 1659.5L1037.6 1659.9L1035.7 1660.4L1033.7 1660.8L1031.8 1661.2L1029.8 1661.7L1027.9 1662.1L1025.9 1662.5L1023.9 1663.0L1022.0 1663.4L1020.0 1663.8L1018.1 1664.2L1016.1 1664.7L1014.1 1665.1L1012.2 1665.5L1010.2 1665.9L1008.3 1666.4L1006.3 1666.8L1004.3 1667.2L1002.4 1667.6L1000.4 1668.1L998.4 1668.5L996.5 1668.9L994.5 1669.3L992.6 1669.7L990.6 1670.1L988.6 1670.5L986.7 1670.9L984.7 1671.4L982.7 1671.8L980.8 1672.2L978.8 1672.6L976.8 1672.9L974.9 1673.3L972.9 1673.7L970.9 1674.1L969.0 1674.5L967.0 1674.9L965.0 1675.3L963.1 1675.6L961.1 1676.0L959.1 1676.4L957.1 1676.7L955.2 1677.1L953.2 1677.5L951.2 1677.8L949.2 1678.2L947.3 1678.5L945.3 1678.9L943.3 1679.2L941.3 1679.6L939.4 1679.9L937.4 1680.2L935.4 1680.6L933.4 1680.9L931.5 1681.2L929.5 1681.5L927.5 1681.8L925.5 1682.2L923.5 1682.5L921.5 1682.8L919.6 1683.1L917.6 1683.4L915.6 1683.7L913.6 1684.0L911.6 1684.3L909.6 1684.6L907.7 1684.9L905.7 1685.1L903.7 1685.4L901.7 1685.7L899.7 1686.0L897.7 1686.3L895.7 1686.6L893.8 1686.8L891.8 1687.1L889.8 1687.4L887.8 1687.6L885.8 1687.9L883.8 1688.2L881.8 1688.5L879.8 1688.7L877.9 1689.0L875.9 1689.3L873.9 1689.5L871.9 1689.8L869.9 1690.0L867.9 1690.3L865.9 1690.6L863.9 1690.8L861.9 1691.1L860.0 1691.3L858.0 1691.6L856.0 1691.8L854.0 1692.1L852.0 1692.4L850.0 1692.6L848.0 1692.9L846.0 1693.1L844.0 1693.4L842.0 1693.6L840.1 1693.9L838.1 1694.1L836.1 1694.4L834.1 1694.6L832.1 1694.9L830.1 1695.1L828.1 1695.4L826.1 1695.6L824.1 1695.9L822.1 1696.1L820.2 1696.4L818.2 1696.6L816.2 1696.9L814.2 1697.1L812.2 1697.4L810.2 1697.6L808.2 1697.9L806.2 1698.1L804.2 1698.4L802.2 1698.6L800.3 1698.9L798.3 1699.2L796.3 1699.4L794.3 1699.7L792.3 1699.9L790.3 1700.2L788.3 1700.4L786.3 1700.7L784.3 1700.9L782.3 1701.2L780.4 1701.5L778.4 1701.7L776.4 1702.0L774.4 1702.2L772.4 1702.5L770.4 1702.7L768.4 1703.0L766.4 1703.3L764.4 1703.5L762.5 1703.8L760.5 1704.1L758.5 1704.3L756.5 1704.6L754.5 1704.8L752.5 1705.1L750.5 1705.4L748.5 1705.6L746.5 1705.9L744.6 1706.2L742.6 1706.4L740.6 1706.7L738.6 1707.0L736.6 1707.3L734.6 1707.5L732.6 1707.8L730.6 1708.1L728.7 1708.4L726.7 1708.6L724.7 1708.9L722.7 1709.2L720.7 1709.5L718.7 1709.7L716.7 1710.0L714.8 1710.3L712.8 1710.6L710.8 1710.8L708.8 1711.1L706.8 1711.4L704.8 1711.7L702.8 1712.0L700.8 1712.2L698.9 1712.5L696.9 1712.8L694.9 1713.1L692.9 1713.4L690.9 1713.7L688.9 1713.9L686.9 1714.2L685.0 1714.5L683.0 1714.8L681.0 1715.1L679.0 1715.4L677.0 1715.6L675.0 1715.9L673.0 1716.2L671.1 1716.5L669.1 1716.8L667.1 1717.1L665.1 1717.3L663.1 1717.6L661.1 1717.9L659.1 1718.2L657.2 1718.5L655.2 1718.8L653.2 1719.0L651.2 1719.3L649.2 1719.6L647.2 1719.9L645.2 1720.2L643.3 1720.5L641.3 1720.8L639.3 1721.0L637.3 1721.3L635.3 1721.6L633.3 1721.9L631.3 1722.2L629.4 1722.5L627.4 1722.7L625.4 1723.0L623.4 1723.3L621.4 1723.6L619.4 1723.9L617.4 1724.2L615.5 1724.4L613.5 1724.7L611.5 1725.0L609.5 1725.3L607.5 1725.6L605.5 1725.8L603.5 1726.1L601.6 1726.4L599.6 1726.7L597.6 1727.0L595.6 1727.2L593.6 1727.5L591.6 1727.8L589.6 1728.1L587.6 1728.3L585.7 1728.6L583.7 1728.9L581.7 1729.2L579.7 1729.4L577.7 1729.7L575.7 1730.0L573.7 1730.2L571.7 1730.5L569.8 1730.8L567.8 1731.0L565.8 1731.3L563.8 1731.6L561.8 1731.8L559.8 1732.1L557.8 1732.4L555.8 1732.6L553.9 1732.9L551.9 1733.1L549.9 1733.4L547.9 1733.7L545.9 1733.9L543.9 1734.2L541.9 1734.4L539.9 1734.7L537.9 1734.9L535.9 1735.2L534.0 1735.4L532.0 1735.7L530.0 1735.9L528.0 1736.2L526.0 1736.4L524.0 1736.7L522.0 1736.9L520.0 1737.2L518.0 1737.4L516.0 1737.7L514.1 1737.9L512.1 1738.2L510.1 1738.4L508.1 1738.7L506.1 1739.0L504.1 1739.2L502.1 1739.5L500.1 1739.7L498.1 1740.0L496.1 1740.3L494.2 1740.5L492.2 1740.8L490.2 1741.1L488.2 1741.3L486.2 1741.6L484.2 1741.9L482.2 1742.1L480.2 1742.4L478.3 1742.7L476.3 1743.0L474.3 1743.3L472.3 1743.6L470.3 1743.9L468.3 1744.2L466.4 1744.5L464.4 1744.8L462.4 1745.1L460.4 1745.4L458.4 1745.7L456.5 1746.1L454.5 1746.4L452.5 1746.7L450.5 1747.1L448.5 1747.4L446.6 1747.7L444.6 1748.1L442.6 1748.5L440.6 1748.8L438.7 1749.2L436.7 1749.5L434.7 1749.9L432.8 1750.3L430.8 1750.7L428.8 1751.0L426.8 1751.4L424.9 1751.8L422.9 1752.2L420.9 1752.6L419.0 1753.0L417.0 1753.3L415.0 1753.7L408.8 1754.1" fill="none" stroke="#ff00ff" stroke-width="9.3" stroke-linejoin="round" stroke-linecap="butt"/>
</g>
<rect x="334.1" y="1082.3" width="9.0" height="745.5"/>
<rect x="324.3" y="1809.3" width="997.5" height="9.0"/>
<text transform="translate(313.0 1827.0) scale(1.0150 1.0000)" text-anchor="end" class="tk">-400</text>
<rect x="324.3" y="1718.2" width="10.8" height="9.2"/>
<text transform="translate(313.0 1736.2) scale(1.0150 1.0000)" text-anchor="end" class="tk">-300</text>
<rect x="324.3" y="1627.3" width="10.8" height="9.2"/>
<text transform="translate(313.0 1645.3) scale(1.0150 1.0000)" text-anchor="end" class="tk">-200</text>
<rect x="324.3" y="1536.5" width="10.8" height="9.2"/>
<text transform="translate(313.0 1554.5) scale(1.0150 1.0000)" text-anchor="end" class="tk">-100</text>
<rect x="324.3" y="1445.6" width="10.8" height="9.2"/>
<text transform="translate(313.0 1463.6) scale(1.0150 1.0000)" text-anchor="end" class="tk">0</text>
<rect x="324.3" y="1354.8" width="10.8" height="9.2"/>
<text transform="translate(313.0 1372.8) scale(1.0150 1.0000)" text-anchor="end" class="tk">100</text>
<rect x="324.3" y="1263.9" width="10.8" height="9.2"/>
<text transform="translate(313.0 1281.9) scale(1.0150 1.0000)" text-anchor="end" class="tk">200</text>
<rect x="324.3" y="1173.1" width="10.8" height="9.2"/>
<text transform="translate(313.0 1191.1) scale(1.0150 1.0000)" text-anchor="end" class="tk">300</text>
<rect x="324.3" y="1082.2" width="10.8" height="9.2"/>
<text transform="translate(313.0 1100.2) scale(1.0150 1.0000)" text-anchor="end" class="tk">400</text>
<rect x="330.1" y="1764.0" width="5.0" height="8.4" rx="1.5"/>
<rect x="330.1" y="1673.1" width="5.0" height="8.4" rx="1.5"/>
<rect x="330.1" y="1582.3" width="5.0" height="8.4" rx="1.5"/>
<rect x="330.1" y="1491.4" width="5.0" height="8.4" rx="1.5"/>
<rect x="330.1" y="1400.6" width="5.0" height="8.4" rx="1.5"/>
<rect x="330.1" y="1309.7" width="5.0" height="8.4" rx="1.5"/>
<rect x="330.1" y="1218.9" width="5.0" height="8.4" rx="1.5"/>
<rect x="330.1" y="1128.0" width="5.0" height="8.4" rx="1.5"/>
<text transform="translate(337.9 1876.1) scale(1.0150 1.0000)" text-anchor="middle" class="tk">-0.6</text>
<rect x="484.4" y="1817.3" width="9.2" height="10.5"/>
<text transform="translate(488.5 1876.1) scale(1.0150 1.0000)" text-anchor="middle" class="tk">-0.4</text>
<rect x="635.0" y="1817.3" width="9.2" height="10.5"/>
<text transform="translate(639.1 1876.1) scale(1.0150 1.0000)" text-anchor="middle" class="tk">-0.2</text>
<rect x="785.6" y="1817.3" width="9.2" height="10.5"/>
<text transform="translate(789.7 1876.1) scale(1.0150 1.0000)" text-anchor="middle" class="tk">0.0</text>
<rect x="936.2" y="1817.3" width="9.2" height="10.5"/>
<text transform="translate(940.3 1876.1) scale(1.0150 1.0000)" text-anchor="middle" class="tk">0.2</text>
<rect x="1086.8" y="1817.3" width="9.2" height="10.5"/>
<text transform="translate(1090.9 1876.1) scale(1.0150 1.0000)" text-anchor="middle" class="tk">0.4</text>
<rect x="1237.4" y="1817.3" width="9.2" height="10.5"/>
<text transform="translate(1241.5 1876.1) scale(1.0150 1.0000)" text-anchor="middle" class="tk">0.6</text>
<rect x="409.1" y="1817.3" width="9.2" height="4.0" rx="1.5"/>
<rect x="559.7" y="1817.3" width="9.2" height="4.0" rx="1.5"/>
<rect x="710.3" y="1817.3" width="9.2" height="4.0" rx="1.5"/>
<rect x="860.9" y="1817.3" width="9.2" height="4.0" rx="1.5"/>
<rect x="1011.5" y="1817.3" width="9.2" height="4.0" rx="1.5"/>
<rect x="1162.1" y="1817.3" width="9.2" height="4.0" rx="1.5"/>
<rect x="1313.0" y="1817.3" width="8.8" height="4.0"/>
<text transform="translate(828.0 1960.9) scale(1.0700 1.0000)" text-anchor="middle" class="xl">Voltage (V)</text>
<text transform="translate(164.8 1445.8) rotate(-90) scale(0.9850 1.0000)" text-anchor="middle" class="yl">Specific Capacitance (F/g)</text>
<line x1="1197.7" y1="1085.8" x2="1291.9" y2="1085.8" stroke="#000000" stroke-width="11.5" stroke-linecap="round"/>
<text transform="translate(1303.2 1100.4) scale(0.9800 1.0000)" text-anchor="start" class="tk">10 mV/s</text>
<line x1="1197.7" y1="1146.6" x2="1291.9" y2="1146.6" stroke="#ff0000" stroke-width="11.5" stroke-linecap="round"/>
<text transform="translate(1303.2 1161.2) scale(0.9800 1.0000)" text-anchor="start" class="tk">25 mV/s</text>
<line x1="1197.7" y1="1207.9" x2="1291.9" y2="1207.9" stroke="#0000ff" stroke-width="11.5" stroke-linecap="round"/>
<text transform="translate(1303.2 1222.5) scale(0.9800 1.0000)" text-anchor="start" class="tk">50 mV/s</text>
<line x1="1197.7" y1="1268.8" x2="1291.9" y2="1268.8" stroke="#008080" stroke-width="11.5" stroke-linecap="round"/>
<text transform="translate(1303.2 1283.4) scale(0.9800 1.0000)" text-anchor="start" class="tk">75 mV/s</text>
<line x1="1197.7" y1="1330.0" x2="1291.9" y2="1330.0" stroke="#ff00ff" stroke-width="11.5" stroke-linecap="round"/>
<text transform="translate(1303.2 1344.6) scale(0.9800 1.0000)" text-anchor="start" class="tk">100 mV/s</text>
</g>
</svg>
</body>
</html>
